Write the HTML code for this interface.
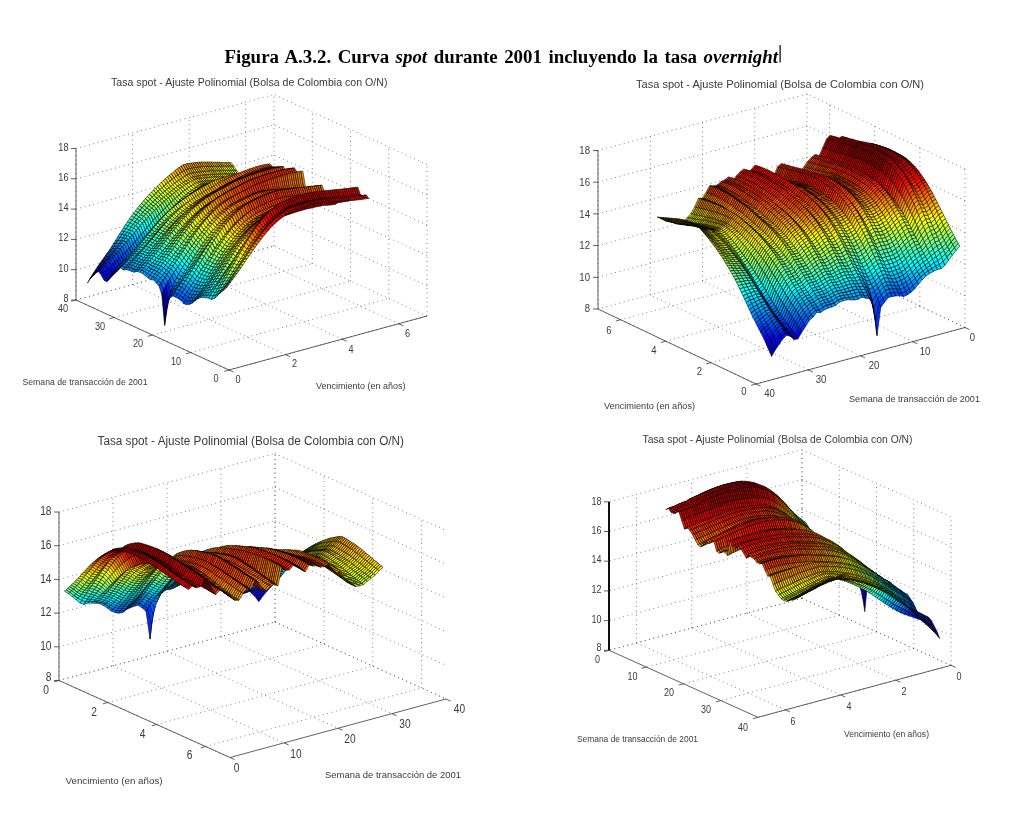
<!DOCTYPE html><html><head><meta charset="utf-8"><title>Figura A.3.2</title><style>html,body{margin:0;padding:0;background:#fff}svg{display:block}</style></head><body><svg width="1015" height="814" viewBox="0 0 1015 814"><style>.g{stroke:#444;stroke-width:.8;stroke-dasharray:.8 3.7;fill:none}.a{stroke:#3a3a3a;stroke-width:.8;fill:none}.a2{stroke:#111;stroke-width:2;fill:none}text{font-family:"Liberation Sans",sans-serif;fill:#3a3a3a}</style><defs><filter id="b" x="0" y="0" width="1015" height="814" filterUnits="userSpaceOnUse"><feGaussianBlur stdDeviation="0.4"/></filter></defs><rect width="1015" height="814" fill="#fff"/><g filter="url(#b)"><g><path class="g" d="M76.0 300.0L274.0 246.0"/><path class="g" d="M76.0 269.7L274.0 215.7"/><path class="g" d="M76.0 239.4L274.0 185.4"/><path class="g" d="M76.0 209.1L274.0 155.1"/><path class="g" d="M76.0 178.8L274.0 124.8"/><path class="g" d="M76.0 148.5L274.0 94.5"/><path class="g" d="M76.0 300.0L76.0 148.5"/><path class="g" d="M132.6 284.6L132.6 133.1"/><path class="g" d="M189.2 269.2L189.2 117.7"/><path class="g" d="M245.7 253.7L245.7 102.2"/><path class="g" d="M427.0 316.0L274.0 246.0"/><path class="g" d="M427.0 285.7L274.0 215.7"/><path class="g" d="M427.0 255.4L274.0 185.4"/><path class="g" d="M427.0 225.1L274.0 155.1"/><path class="g" d="M427.0 194.8L274.0 124.8"/><path class="g" d="M427.0 164.5L274.0 94.5"/><path class="g" d="M427.0 316.0L427.0 164.5"/><path class="g" d="M388.8 298.5L388.8 147.0"/><path class="g" d="M350.5 281.0L350.5 129.5"/><path class="g" d="M312.3 263.5L312.3 112.0"/><path class="g" d="M274.0 246.0L274.0 94.5"/><path class="g" d="M229.0 370.0L427.0 316.0"/><path class="g" d="M190.8 352.5L388.8 298.5"/><path class="g" d="M152.5 335.0L350.5 281.0"/><path class="g" d="M114.2 317.5L312.3 263.5"/><path class="g" d="M76.0 300.0L274.0 246.0"/><path class="g" d="M229.0 370.0L76.0 300.0"/><path class="g" d="M285.6 354.6L132.6 284.6"/><path class="g" d="M342.2 339.2L189.2 269.2"/><path class="g" d="M398.7 323.7L245.7 253.7"/><g transform="scale(0.2)" stroke="#000" stroke-width="2.75" stroke-linejoin="round"><path fill="#ffea00" d="M1160 831l-14-18 10 0 14 18zm-10 0l-14-18 10 0 14 18zm-10 0l-14-19 10 1 14 18zm-10 0l-14-19 10 0 14 19z"/><path fill="#ffd500" d="M1120 831l-14-19 10 0 14 19zm-10 0l-14-20 10 1 14 19zm-10 0l-14-20 10 0 14 20zm-10 0l-14-20 10 0 14 20zm-10 1l-14-21 10 0 14 20z"/><path fill="#ffbf00" d="M1070 832l-14-22 10 1 14 21zm-10 0l-14-22 10 0 14 22zm-10 0l-14-22 10 0 14 22zm-10 0l-14-22 10 0 14 22zm-10 0l-14-22 10 0 14 22z"/><path fill="#fa0" d="M1020 833l-14-23 10 0 14 22zm-10 1l-14-23 10-1 14 23zm-10 1l-14-23 10-1 14 23zm-10 2l-14-24 10-1 14 23zm-10 1l-14-24 10-1 14 24zm-10 1l-14-24 10-1 14 24zm-10 2l-14-24 10-2 14 24zm-10 2l-14-25 10-1 14 24zm-10 2l-14-24 10-3 14 25zm-10 4l-14-25 10-3 14 24zm-10 5l-14-24 10-6 14 25zm-10 6l-14-23 10-7 14 24zm-10 7l-14-23 10-7 14 23z"/><path fill="#ffbf00" d="M890 875l-14-23 10-8 14 23zm-10 7l-13-22 9-8 14 23z"/><path fill="#ffd500" d="M870 889l-13-21 10-8 13 22zm-10 8l-13-21 10-8 13 21zm-10 8l-13-21 10-8 13 21z"/><path fill="#ffea00" d="M840 913l-13-20 10-9 13 21zm-10 8l-13-19 10-9 13 20z"/><path fill="#ff0" d="M820 930l-13-19 10-9 13 19zm-10 9l-13-18 10-10 13 19z"/><path fill="#eaff15" d="M800 948l-13-17 10-10 13 18zm-10 9l-13-17 10-9 13 17z"/><path fill="#d5ff2a" d="M780 966l-13-16 10-10 13 17zm-9 10l-14-15 10-11 13 16z"/><path fill="#bfff40" d="M761 986l-14-15 10-10 14 15zm-10 10l-14-14 10-11 14 15z"/><path fill="#af5" d="M741 1006l-14-13 10-11 14 14zm-10 11l-14-12 10-12 14 13z"/><path fill="#95ff6a" d="M721 1028l-14-11 10-12 14 12z"/><path fill="#80ff80" d="M711 1039l-14-10 10-12 14 11zm-10 11l-14-9 10-12 14 10z"/><path fill="#6aff95" d="M691 1062l-14-8 10-13 14 9z"/><path fill="#5fa" d="M681 1075l-14-8 10-13 14 8zm-10 13l-14-7 10-14 14 8z"/><path fill="#40ffbf" d="M661 1101l-14-6 10-14 14 7z"/><path fill="#2bffd4" d="M651 1115l-14-5 10-15 14 6z"/><path fill="#15ffea" d="M641 1129l-14-4 10-15 14 5z"/><path fill="#0ff" d="M631 1143l-14-2 10-16 14 4z"/><path fill="#00eaff" d="M621 1157l-14-1 10-15 14 2z"/><path fill="#00d4ff" d="M611 1172l-14-1 10-15 14 1z"/><path fill="#00bfff" d="M601 1187l-14 0 10-16 14 1z"/><path fill="#0af" d="M591 1202l-14 1 10-16 14 0z"/><path fill="#0095ff" d="M581 1216l-14 3 10-16 14-1zm-10 15l-14 4 10-16 14-3z"/><path fill="#0080ff" d="M561 1245l-14 5 10-15 14-4z"/><path fill="#006aff" d="M551 1258l-14 6 10-14 14-5z"/><path fill="#05f" d="M541 1271l-14 7 10-14 14-6z"/><path fill="#0040ff" d="M531 1284l-14 8 10-14 14-7z"/><path fill="#002aff" d="M521 1297l-14 9 10-14 14-8zm-10 14l-14 9 10-14 14-9z"/><path fill="#0015ff" d="M501 1324l-14 11 10-15 14-9z"/><path fill="#00f" d="M491 1338l-14 12 10-15 14-11z"/><path fill="#0000ea" d="M481 1352l-14 14 10-16 14-12z"/><path fill="#0000d4" d="M471 1366l-14 16 10-16 14-14z"/><path fill="#0000bf" d="M461 1380l-14 18 10-16 14-16z"/><path fill="#00a" d="M451 1394l-14 22 10-18 14-18z"/><path fill="#ff0" d="M1174 852l-14-21 10 0 13 21zm-10 0l-14-21 10 0 14 21zm-10 1l-14-22 10 0 14 21zm-10 0l-14-22 10 0 14 22zm-10 0l-14-22 10 0 14 22z"/><path fill="#ffea00" d="M1124 853l-14-22 10 0 14 22zm-10 0l-14-22 10 0 14 22zm-10 1l-14-23 10 0 14 22zm-10 0l-14-22 10-1 14 23zm-10 0l-14-22 10 0 14 22z"/><path fill="#ffd500" d="M1074 854l-14-22 10 0 14 22zm-10 0l-14-22 10 0 14 22zm-10 0l-14-22 10 0 14 22zm-10 1l-14-23 10 0 14 22zm-10 1l-14-23 10-1 14 23zm-10 1l-14-23 10-1 14 23z"/><path fill="#ffbf00" d="M1014 858l-14-23 10-1 14 23zm-10 1l-14-22 10-2 14 23zm-10 2l-14-23 10-1 14 22zm-10 1l-14-23 10-1 14 23zm-10 2l-14-23 10-2 14 23zm-10 1l-14-22 10-2 14 23zm-10 2l-14-22 10-2 14 22zm-10 4l-14-22 10-4 14 22zm-10 5l-14-22 10-5 14 22zm-10 6l-14-22 10-6 14 22z"/><path fill="#ffd500" d="M914 888l-14-21 10-7 14 22zm-10 7l-14-20 10-8 14 21zm-10 7l-14-20 10-7 14 20z"/><path fill="#ffea00" d="M884 909l-14-20 10-7 14 20zm-10 7l-14-19 10-8 14 20zm-10 8l-14-19 10-8 14 19z"/><path fill="#ff0" d="M854 932l-14-19 10-8 14 19zm-10 8l-14-19 10-8 14 19z"/><path fill="#eaff15" d="M834 948l-14-18 10-9 14 19zm-10 8l-14-17 10-9 14 18z"/><path fill="#d5ff2a" d="M814 964l-14-16 10-9 14 17zm-10 9l-14-16 10-9 14 16zm-10 9l-14-16 10-9 14 16z"/><path fill="#bfff40" d="M784 991l-13-15 9-10 14 16zm-10 9l-13-14 10-10 13 15z"/><path fill="#af5" d="M764 1010l-13-14 10-10 13 14zm-10 10l-13-14 10-10 13 14z"/><path fill="#95ff6a" d="M744 1030l-13-13 10-11 13 14z"/><path fill="#80ff80" d="M734 1040l-13-12 10-11 13 13zm-10 11l-13-12 10-11 13 12z"/><path fill="#6aff95" d="M714 1062l-13-12 10-11 13 12zm-10 11l-13-11 10-12 13 12z"/><path fill="#5fa" d="M694 1085l-13-10 10-13 13 11z"/><path fill="#40ffbf" d="M684 1097l-13-9 10-13 13 10zm-10 13l-13-9 10-13 13 9z"/><path fill="#2bffd4" d="M665 1123l-14-8 10-14 13 9z"/><path fill="#15ffea" d="M655 1136l-14-7 10-14 14 8z"/><path fill="#0ff" d="M645 1149l-14-6 10-14 14 7z"/><path fill="#00eaff" d="M635 1163l-14-6 10-14 14 6z"/><path fill="#00d4ff" d="M625 1176l-14-4 10-15 14 6zm-10 14l-14-3 10-15 14 4z"/><path fill="#00bfff" d="M605 1204l-14-2 10-15 14 3z"/><path fill="#0af" d="M595 1218l-14-2 10-14 14 2z"/><path fill="#0095ff" d="M585 1232l-14-1 10-15 14 2z"/><path fill="#0080ff" d="M575 1245l-14 0 10-14 14 1z"/><path fill="#006aff" d="M565 1258l-14 0 10-13 14 0zm-10 12l-14 1 10-13 14 0z"/><path fill="#05f" d="M545 1282l-14 2 10-13 14-1z"/><path fill="#0040ff" d="M535 1294l-14 3 10-13 14-2z"/><path fill="#002aff" d="M525 1307l-14 4 10-14 14-3zm-10 12l-14 5 10-13 14-4z"/><path fill="#0015ff" d="M505 1331l-14 7 10-14 14-5z"/><path fill="#00f" d="M495 1344l-14 8 10-14 14-7zm-10 12l-14 10 10-14 14-8z"/><path fill="#0000ea" d="M475 1368l-14 12 10-14 14-10z"/><path fill="#0000d4" d="M465 1379l-14 15 10-14 14-12z"/><path fill="#eaff15" d="M1187 868l-13-16 9 0 14 16zm-10 1l-13-17 10 0 13 16zm-10 0l-13-16 10-1 13 17zm-10 0l-13-16 10 0 13 16zm-10 1l-13-17 10 0 13 16z"/><path fill="#ff0" d="M1137 870l-13-17 10 0 13 17zm-10 0l-13-17 10 0 13 17zm-10 1l-13-17 10-1 13 17zm-10 0l-13-17 10 0 13 17zm-10 0l-13-17 10 0 13 17z"/><path fill="#ffea00" d="M1087 872l-13-18 10 0 13 17zm-10 0l-13-18 10 0 13 18zm-9 0l-14-18 10 0 13 18zm-10 1l-14-18 10-1 14 18zm-10 1l-14-18 10-1 14 18z"/><path fill="#ffd500" d="M1038 875l-14-18 10-1 14 18zm-10 1l-14-18 10-1 14 18zm-10 1l-14-18 10-1 14 18zm-10 1l-14-17 10-2 14 18zm-10 2l-14-18 10-1 14 17zm-10 1l-14-17 10-2 14 18zm-10 2l-14-18 10-1 14 17zm-10 2l-14-18 10-2 14 18zm-10 3l-14-17 10-4 14 18zm-10 5l-14-17 10-5 14 17zm-10 6l-14-17 10-6 14 17z"/><path fill="#ffea00" d="M928 905l-14-17 10-6 14 17zm-10 7l-14-17 10-7 14 17zm-10 6l-14-16 10-7 14 17zm-10 7l-14-16 10-7 14 16z"/><path fill="#ff0" d="M888 931l-14-15 10-7 14 16zm-10 8l-14-15 10-8 14 15z"/><path fill="#eaff15" d="M868 946l-14-14 10-8 14 15zm-10 8l-14-14 10-8 14 14zm-10 8l-14-14 10-8 14 14z"/><path fill="#d5ff2a" d="M838 970l-14-14 10-8 14 14zm-10 8l-14-14 10-8 14 14z"/><path fill="#bfff40" d="M818 986l-14-13 10-9 14 14zm-10 9l-14-13 10-9 14 13zm-10 8l-14-12 10-9 14 13z"/><path fill="#af5" d="M788 1012l-14-12 10-9 14 12zm-10 9l-14-11 10-10 14 12z"/><path fill="#95ff6a" d="M768 1031l-14-11 10-10 14 11zm-10 9l-14-10 10-10 14 11z"/><path fill="#80ff80" d="M748 1050l-14-10 10-10 14 10zm-10 11l-14-10 10-11 14 10z"/><path fill="#6aff95" d="M728 1071l-14-9 10-11 14 10z"/><path fill="#5fa" d="M718 1082l-14-9 10-11 14 9zm-10 11l-14-8 10-12 14 9z"/><path fill="#40ffbf" d="M698 1104l-14-7 10-12 14 8z"/><path fill="#2bffd4" d="M688 1116l-14-6 10-13 14 7zm-10 12l-13-5 9-13 14 6z"/><path fill="#15ffea" d="M668 1141l-13-5 10-13 13 5z"/><path fill="#0ff" d="M658 1153l-13-4 10-13 13 5zm-10 13l-13-3 10-14 13 4z"/><path fill="#00eaff" d="M638 1178l-13-2 10-13 13 3z"/><path fill="#00d4ff" d="M628 1191l-13-1 10-14 13 2z"/><path fill="#00bfff" d="M618 1204l-13 0 10-14 13 1z"/><path fill="#0af" d="M608 1216l-13 2 10-14 13 0zm-10 13l-13 3 10-14 13-2z"/><path fill="#0095ff" d="M588 1241l-13 4 10-13 13-3z"/><path fill="#0080ff" d="M578 1253l-13 5 10-13 13-4zm-9 11l-14 6 10-12 13-5z"/><path fill="#006aff" d="M559 1275l-14 7 10-12 14-6z"/><path fill="#05f" d="M549 1286l-14 8 10-12 14-7zm-10 11l-14 10 10-13 14-8z"/><path fill="#0040ff" d="M529 1309l-14 10 10-12 14-10z"/><path fill="#002aff" d="M519 1320l-14 11 10-12 14-10zm-10 12l-14 12 10-13 14-11z"/><path fill="#0015ff" d="M499 1343l-14 13 10-12 14-12z"/><path fill="#00f" d="M489 1354l-14 14 10-12 14-13zm-10 10l-14 15 10-11 14-14z"/><path fill="#d5ff2a" d="M1181 884l-14-15 10 0 14 14z"/><path fill="#eaff15" d="M1171 884l-14-15 10 0 14 15zm-10 0l-14-14 10-1 14 15zm-10 1l-14-15 10 0 14 14zm-10 0l-14-15 10 0 14 15zm-10 0l-14-14 10-1 14 15z"/><path fill="#ff0" d="M1121 885l-14-14 10 0 14 14zm-10 0l-14-14 10 0 14 14zm-10 0l-14-13 10-1 14 14zm-10 0l-14-13 10 0 14 13z"/><path fill="#ffea00" d="M1081 885l-13-13 9 0 14 13zm-10 0l-13-12 10-1 13 13zm-10 1l-13-12 10-1 13 12zm-10 1l-13-12 10-1 13 12zm-10 1l-13-12 10-1 13 12zm-10 1l-13-12 10-1 13 12zm-10 1l-13-12 10-1 13 12z"/><path fill="#ffd500" d="M1011 891l-13-11 10-2 13 12zm-10 1l-13-11 10-1 13 11zm-10 1l-13-10 10-2 13 11zm-10 2l-13-10 10-2 13 10zm-10 3l-13-10 10-3 13 10zm-9 5l-14-10 10-5 13 10z"/><path fill="#ffea00" d="M952 908l-14-9 10-6 14 10zm-10 6l-14-9 10-6 14 9zm-10 7l-14-9 10-7 14 9zm-10 6l-14-9 10-6 14 9z"/><path fill="#ff0" d="M912 934l-14-9 10-7 14 9zm-10 7l-14-10 10-6 14 9zm-10 7l-14-9 10-8 14 10z"/><path fill="#eaff15" d="M882 956l-14-10 10-7 14 9zm-10 8l-14-10 10-8 14 10z"/><path fill="#d5ff2a" d="M862 972l-14-10 10-8 14 10zm-10 8l-14-10 10-8 14 10zm-10 8l-14-10 10-8 14 10z"/><path fill="#bfff40" d="M832 997l-14-11 10-8 14 10zm-10 9l-14-11 10-9 14 11z"/><path fill="#af5" d="M812 1015l-14-12 10-8 14 11zm-10 9l-14-12 10-9 14 12z"/><path fill="#95ff6a" d="M792 1033l-14-12 10-9 14 12zm-10 10l-14-12 10-10 14 12z"/><path fill="#80ff80" d="M772 1052l-14-12 10-9 14 12zm-10 10l-14-12 10-10 14 12z"/><path fill="#6aff95" d="M752 1073l-14-12 10-11 14 12zm-10 10l-14-12 10-10 14 12z"/><path fill="#5fa" d="M732 1094l-14-12 10-11 14 12z"/><path fill="#40ffbf" d="M722 1105l-14-12 10-11 14 12zm-10 11l-14-12 10-11 14 12z"/><path fill="#2bffd4" d="M702 1128l-14-12 10-12 14 12z"/><path fill="#15ffea" d="M692 1139l-14-11 10-12 14 12zm-10 12l-14-10 10-13 14 11z"/><path fill="#0ff" d="M672 1163l-14-10 10-12 14 10z"/><path fill="#00eaff" d="M662 1175l-14-9 10-13 14 10zm-10 11l-14-8 10-12 14 9z"/><path fill="#00d4ff" d="M642 1198l-14-7 10-13 14 8z"/><path fill="#00bfff" d="M632 1210l-14-6 10-13 14 7zm-10 12l-14-6 10-12 14 6z"/><path fill="#0af" d="M612 1233l-14-4 10-13 14 6z"/><path fill="#0095ff" d="M602 1244l-14-3 10-12 14 4zm-10 11l-14-2 10-12 14 3z"/><path fill="#0080ff" d="M582 1265l-13-1 9-11 14 2z"/><path fill="#006aff" d="M572 1275l-13 0 10-11 13 1zm-10 10l-13 1 10-11 13 0z"/><path fill="#05f" d="M552 1295l-13 2 10-11 13-1zm-10 11l-13 3 10-12 13-2z"/><path fill="#0040ff" d="M532 1316l-13 4 10-11 13-3zm-10 10l-13 6 10-12 13-4z"/><path fill="#002aff" d="M512 1337l-13 6 10-11 13-6z"/><path fill="#0015ff" d="M502 1347l-13 7 10-11 13-6zm-10 11l-13 6 10-10 13-7z"/><path fill="#eaff15" d="M1125 901l-14-16 10 0 14 17zm-10 0l-14-16 10 0 14 16z"/><path fill="#ff0" d="M1105 901l-14-16 10 0 14 16zm-10 0l-14-16 10 0 14 16zm-10 0l-14-16 10 0 14 16zm-10 0l-14-15 10-1 14 16zm-10 1l-14-15 10-1 14 15zm-10 1l-14-15 10-1 14 15z"/><path fill="#ffea00" d="M1045 904l-14-15 10-1 14 15zm-10 1l-14-15 10-1 14 15zm-10 0l-14-14 10-1 14 15zm-10 2l-14-15 10-1 14 14zm-10 1l-14-15 10-1 14 15zm-10 2l-14-15 10-2 14 15zm-10 3l-14-15 10-3 14 15zm-10 5l-13-15 9-5 14 15zm-10 5l-13-15 10-5 13 15z"/><path fill="#ff0" d="M955 930l-13-16 10-6 13 15zm-10 7l-13-16 10-7 13 16zm-10 7l-13-17 10-6 13 16z"/><path fill="#eaff15" d="M925 951l-13-17 10-7 13 17zm-10 7l-13-17 10-7 13 17zm-10 8l-13-18 10-7 13 17z"/><path fill="#d5ff2a" d="M895 975l-13-19 10-8 13 18zm-10 9l-13-20 10-8 13 19z"/><path fill="#bfff40" d="M875 993l-13-21 10-8 13 20zm-9 9l-14-22 10-8 13 21z"/><path fill="#af5" d="M856 1011l-14-23 10-8 14 22zm-10 9l-14-23 10-9 14 23z"/><path fill="#95ff6a" d="M836 1030l-14-24 10-9 14 23zm-10 10l-14-25 10-9 14 24z"/><path fill="#80ff80" d="M816 1050l-14-26 10-9 14 25zm-10 10l-14-27 10-9 14 26z"/><path fill="#6aff95" d="M796 1070l-14-27 10-10 14 27zm-10 11l-14-29 10-9 14 27z"/><path fill="#5fa" d="M776 1091l-14-29 10-10 14 29z"/><path fill="#40ffbf" d="M766 1103l-14-30 10-11 14 29zm-10 11l-14-31 10-10 14 30z"/><path fill="#2bffd4" d="M746 1126l-14-32 10-11 14 31z"/><path fill="#15ffea" d="M736 1137l-14-32 10-11 14 32zm-10 12l-14-33 10-11 14 32z"/><path fill="#0ff" d="M716 1160l-14-32 10-12 14 33z"/><path fill="#00eaff" d="M706 1172l-14-33 10-11 14 32zm-10 12l-14-33 10-12 14 33z"/><path fill="#00d4ff" d="M686 1196l-14-33 10-12 14 33z"/><path fill="#00bfff" d="M676 1207l-14-32 10-12 14 33zm-10 12l-14-33 10-11 14 32z"/><path fill="#0af" d="M656 1230l-14-32 10-12 14 33z"/><path fill="#0095ff" d="M646 1241l-14-31 10-12 14 32zm-10 11l-14-30 10-12 14 31z"/><path fill="#0080ff" d="M626 1262l-14-29 10-11 14 30z"/><path fill="#006aff" d="M616 1273l-14-29 10-11 14 29zm-10 9l-14-27 10-11 14 29z"/><path fill="#05f" d="M596 1292l-14-27 10-10 14 27zm-10 9l-14-26 10-10 14 27z"/><path fill="#0040ff" d="M576 1310l-14-25 10-10 14 26zm-10 9l-14-24 10-10 14 25z"/><path fill="#002aff" d="M556 1328l-14-22 10-11 14 24zm-10 10l-14-22 10-10 14 22z"/><path fill="#0015ff" d="M536 1347l-14-21 10-10 14 22zm-10 9l-14-19 10-11 14 21z"/><path fill="#00f" d="M516 1366l-14-19 10-10 14 19zm-10 9l-14-17 10-11 14 19z"/><path fill="#ff0" d="M1079 911l-14-9 10-1 14 9zm-10 1l-14-9 10-1 14 9zm-10 1l-14-9 10-1 14 9zm-10 1l-14-9 10-1 14 9z"/><path fill="#ffea00" d="M1039 916l-14-11 10 0 14 9zm-10 1l-14-10 10-2 14 11zm-10 2l-14-11 10-1 14 10zm-10 2l-14-11 10-2 14 11zm-10 3l-14-11 10-3 14 11zm-10 6l-14-12 10-5 14 11z"/><path fill="#ff0" d="M979 936l-14-13 10-5 14 12zm-10 7l-14-13 10-7 14 13zm-10 8l-14-14 10-7 14 13z"/><path fill="#eaff15" d="M949 958l-14-14 10-7 14 14zm-10 8l-14-15 10-7 14 14z"/><path fill="#d5ff2a" d="M929 974l-14-16 10-7 14 15zm-10 9l-14-17 10-8 14 16z"/><path fill="#bfff40" d="M909 992l-14-17 10-9 14 17zm-10 9l-14-17 10-9 14 17z"/><path fill="#af5" d="M889 1011l-14-18 10-9 14 17zm-10 10l-13-19 9-9 14 18z"/><path fill="#95ff6a" d="M869 1031l-13-20 10-9 13 19zm-10 10l-13-21 10-9 13 20z"/><path fill="#80ff80" d="M849 1051l-13-21 10-10 13 21zm-10 11l-13-22 10-10 13 21z"/><path fill="#6aff95" d="M829 1073l-13-23 10-10 13 22zm-10 11l-13-24 10-10 13 23z"/><path fill="#5fa" d="M809 1095l-13-25 10-10 13 24z"/><path fill="#40ffbf" d="M799 1106l-13-25 10-11 13 25zm-10 12l-13-27 10-10 13 25z"/><path fill="#2bffd4" d="M779 1130l-13-27 10-12 13 27z"/><path fill="#15ffea" d="M769 1142l-13-28 10-11 13 27z"/><path fill="#0ff" d="M760 1154l-14-28 10-12 13 28zm-10 12l-14-29 10-11 14 28z"/><path fill="#00eaff" d="M740 1178l-14-29 10-12 14 29z"/><path fill="#00d4ff" d="M730 1191l-14-31 10-11 14 29z"/><path fill="#00bfff" d="M720 1203l-14-31 10-12 14 31zm-10 12l-14-31 10-12 14 31z"/><path fill="#0af" d="M700 1227l-14-31 10-12 14 31z"/><path fill="#0095ff" d="M690 1238l-14-31 10-11 14 31zm-10 12l-14-31 10-12 14 31z"/><path fill="#0080ff" d="M670 1261l-14-31 10-11 14 31z"/><path fill="#006aff" d="M660 1272l-14-31 10-11 14 31zm-10 11l-14-31 10-11 14 31z"/><path fill="#05f" d="M640 1293l-14-31 10-10 14 31zm-10 10l-14-30 10-11 14 31z"/><path fill="#0040ff" d="M620 1312l-14-30 10-9 14 30zm-10 9l-14-29 10-10 14 30z"/><path fill="#002aff" d="M600 1330l-14-29 10-9 14 29zm-10 8l-14-28 10-9 14 29z"/><path fill="#0015ff" d="M580 1347l-14-28 10-9 14 28zm-10 9l-14-28 10-9 14 28z"/><path fill="#00f" d="M560 1365l-14-27 10-10 14 28zm-10 9l-14-27 10-9 14 27z"/><path fill="#0000ea" d="M540 1383l-14-27 10-9 14 27zm-10 9l-14-26 10-10 14 27z"/><path fill="#0000d4" d="M520 1401l-14-26 10-9 14 26z"/><path fill="#ffea00" d="M1053 921l-14-5 10-2 14 5zm-10 1l-14-5 10-1 14 5zm-10 1l-14-4 10-2 14 5zm-10 2l-14-4 10-2 14 4zm-10 4l-14-5 10-3 14 4zm-10 5l-14-4 10-6 14 5z"/><path fill="#ff0" d="M993 940l-14-4 10-6 14 4zm-10 7l-14-4 10-7 14 4zm-10 7l-14-3 10-8 14 4z"/><path fill="#eaff15" d="M963 962l-14-4 10-7 14 3zm-10 7l-14-3 10-8 14 4zm-10 8l-14-3 10-8 14 3z"/><path fill="#d5ff2a" d="M933 985l-14-2 10-9 14 3zm-10 9l-14-2 10-9 14 2z"/><path fill="#bfff40" d="M913 1003l-14-2 10-9 14 2zm-10 9l-14-1 10-10 14 2z"/><path fill="#af5" d="M893 1022l-14-1 10-10 14 1zm-10 9l-14 0 10-10 14 1z"/><path fill="#0015ff" d="M584 1357l-14-1 10-9 14 1zm-10 10l-14-2 10-9 14 1z"/><path fill="#00f" d="M564 1377l-14-3 10-9 14 2zm-10 10l-14-4 10-9 14 3z"/><path fill="#0000ea" d="M544 1398l-14-6 10-9 14 4z"/><path fill="#0000d4" d="M534 1409l-14-8 10-9 14 6z"/><path fill="#ffd500" d="M1027 926l-14 3 10-4 14-2z"/><path fill="#ffea00" d="M1017 931l-14 3 10-5 14-3zm-10 5l-14 4 10-6 14-3zm-10 6l-14 5 10-7 14-4zm-10 7l-14 5 10-7 14-5z"/><path fill="#ff0" d="M977 955l-14 7 10-8 14-5zm-10 7l-14 7 10-7 14-7zm-10 6l-14 9 10-8 14-7z"/><path fill="#eaff15" d="M947 976l-14 9 10-8 14-9z"/><path fill="#05f" d="M607 1320l-13 28 10-10 13-28zm-10 10l-13 27 10-9 13-28z"/><path fill="#0040ff" d="M587 1341l-13 26 10-10 13-27zm-10 11l-13 25 10-10 13-26z"/><path fill="#002aff" d="M567 1363l-13 24 10-10 13-25z"/><path fill="#0015ff" d="M558 1375l-14 23 10-11 13-24z"/><path fill="#00f" d="M548 1388l-14 21 10-11 14-23z"/><path fill="#ffd500" d="M1030 932l-13-1 10-5 13 2zm-10 5l-13-1 10-5 13 1z"/><path fill="#ffea00" d="M1010 943l-13-1 10-6 13 1zm-10 6l-13 0 10-7 13 1z"/><path fill="#ff0" d="M970 966l-13 2 10-6 13-2z"/><path fill="#002aff" d="M561 1372l-13 16 10-13 13-17z"/><path fill="#0095ff" d="M625 1296l-14 15 10-11 14-16zm-10 11l-14 15 10-11 14-15z"/><path fill="#0080ff" d="M605 1319l-14 15 10-12 14-15z"/><path fill="#006aff" d="M595 1331l-14 15 10-12 14-15zm-10 12l-14 15 10-12 14-15z"/><path fill="#05f" d="M575 1355l-14 17 10-14 14-15z"/><path fill="#fa0" d="M1018 933l-14 8 10-6 14-8z"/><path fill="#ffbf00" d="M998 944l-14 8 10-6 14-8zm-20 12l-14 8 10-6 14-8z"/><path fill="#ffd500" d="M968 962l-14 8 10-6 14-8zm-10 7l-14 8 10-7 14-8zm-10 6l-14 9 10-7 14-8zm-10 7l-14 8 10-6 14-9z"/><path fill="#ffea00" d="M928 989l-14 8 10-7 14-8zm-10 7l-14 9 10-8 14-8z"/><path fill="#ff0" d="M908 1003l-14 9 10-7 14-9zm-10 8l-14 9 10-8 14-9zm-10 8l-14 9 10-8 14-9z"/><path fill="#eaff15" d="M878 1027l-14 9 10-8 14-9zm-10 8l-13 9 9-8 14-9z"/><path fill="#d5ff2a" d="M858 1044l-13 9 10-9 13-9zm-10 9l-13 9 10-9 13-9z"/><path fill="#bfff40" d="M838 1063l-13 8 10-9 13-9zm-10 9l-13 9 10-10 13-8z"/><path fill="#af5" d="M818 1082l-13 9 10-10 13-9zm-10 11l-13 8 10-10 13-9z"/><path fill="#95ff6a" d="M798 1104l-13 8 10-11 13-8zm-10 11l-13 8 10-11 13-8z"/><path fill="#80ff80" d="M778 1126l-13 9 10-12 13-8z"/><path fill="#6aff95" d="M768 1138l-13 8 10-11 13-9zm-9 12l-14 8 10-12 13-8z"/><path fill="#5fa" d="M749 1162l-14 7 10-11 14-8z"/><path fill="#40ffbf" d="M739 1174l-14 7 10-12 14-7z"/><path fill="#2bffd4" d="M729 1186l-14 7 10-12 14-7zm-10 13l-14 6 10-12 14-7z"/><path fill="#15ffea" d="M709 1211l-14 6 10-12 14-6z"/><path fill="#0ff" d="M699 1223l-14 6 10-12 14-6zm-10 12l-14 5 10-11 14-6z"/><path fill="#00eaff" d="M679 1246l-14 5 10-11 14-5z"/><path fill="#00d4ff" d="M669 1257l-14 5 10-11 14-5zm-10 12l-14 4 10-11 14-5z"/><path fill="#00bfff" d="M649 1280l-14 4 10-11 14-4z"/><path fill="#0af" d="M639 1292l-14 4 10-12 14-4zm-10 11l-14 4 10-11 14-4z"/><path fill="#0095ff" d="M619 1315l-14 4 10-12 14-4z"/><path fill="#0080ff" d="M609 1326l-14 5 10-12 14-4z"/><path fill="#006aff" d="M599 1338l-14 5 10-12 14-5zm-10 12l-14 5 10-12 14-5z"/><path fill="#fa0" d="M1191 887l-13-17 10-3 13 17zm-10 4l-13-19 10-2 13 17zm-10 3l-13-19 10-3 13 19zm-10 4l-13-20 10-3 13 19zm-9 4l-14-21 10-3 13 20zm-10 3l-14-21 10-3 14 21zm-10 4l-14-22 10-3 14 21zm-10 4l-14-23 10-3 14 22zm-10 4l-14-24 10-3 14 23zm-10 3l-14-24 10-3 14 24zm-10 4l-14-24 10-4 14 24z"/><path fill="#ffbf00" d="M1082 929l-14-25 10-4 14 24zm-10 5l-14-25 10-5 14 25zm-10 6l-14-25 10-6 14 25zm-10 6l-14-25 10-6 14 25zm-10 6l-14-25 10-6 14 25z"/><path fill="#ffd500" d="M1032 957l-14-24 10-6 14 25zm-10 6l-14-25 10-5 14 24zm-10 5l-14-24 10-6 14 25zm-10 5l-14-23 10-6 14 24z"/><path fill="#ffea00" d="M992 979l-14-23 10-6 14 23zm-10 6l-14-23 10-6 14 23zm-10 6l-14-22 10-7 14 23zm-10 6l-14-22 10-6 14 22z"/><path fill="#ff0" d="M952 1003l-14-21 10-7 14 22zm-10 6l-14-20 10-7 14 21zm-10 7l-14-20 10-7 14 20z"/><path fill="#eaff15" d="M922 1023l-14-20 10-7 14 20zm-10 7l-14-19 10-8 14 20zm-10 7l-14-18 10-8 14 19z"/><path fill="#d5ff2a" d="M892 1045l-14-18 10-8 14 18zm-10 7l-14-17 10-8 14 18zm-10 8l-14-16 10-9 14 17z"/><path fill="#bfff40" d="M862 1069l-14-16 10-9 14 16zm-10 8l-14-14 10-10 14 16z"/><path fill="#af5" d="M842 1086l-14-14 10-9 14 14zm-10 10l-14-14 10-10 14 14z"/><path fill="#95ff6a" d="M822 1105l-14-12 10-11 14 14zm-10 10l-14-11 10-11 14 12z"/><path fill="#80ff80" d="M802 1125l-14-10 10-11 14 11zm-10 11l-14-10 10-11 14 10z"/><path fill="#6aff95" d="M782 1147l-14-9 10-12 14 10z"/><path fill="#5fa" d="M772 1158l-13-8 9-12 14 9zm-10 11l-13-7 10-12 13 8z"/><path fill="#40ffbf" d="M752 1180l-13-6 10-12 13 7zm-10 11l-13-5 10-12 13 6z"/><path fill="#2bffd4" d="M732 1203l-13-4 10-13 13 5z"/><path fill="#15ffea" d="M722 1214l-13-3 10-12 13 4zm-10 11l-13-2 10-12 13 3z"/><path fill="#0ff" d="M702 1235l-13 0 10-12 13 2z"/><path fill="#00eaff" d="M692 1246l-13 0 10-11 13 0zm-10 10l-13 1 10-11 13 0z"/><path fill="#00d4ff" d="M672 1267l-13 2 10-12 13-1zm-10 10l-13 3 10-11 13-2z"/><path fill="#00bfff" d="M653 1288l-14 4 10-12 13-3z"/><path fill="#0af" d="M643 1298l-14 5 10-11 14-4zm-10 11l-14 6 10-12 14-5z"/><path fill="#0095ff" d="M623 1319l-14 7 10-11 14-6zm-10 10l-14 9 10-12 14-7z"/><path fill="#0080ff" d="M603 1339l-14 11 10-12 14-9z"/><path fill="#ff0" d="M936 1021l-14 2 10-7 14-2zm-10 7l-14 2 10-7 14-2z"/><path fill="#eaff15" d="M916 1035l-14 2 10-7 14-2zm-10 8l-14 2 10-8 14-2zm-10 8l-14 1 10-7 14-2z"/><path fill="#d5ff2a" d="M886 1059l-14 1 10-8 14-1zm-10 9l-14 1 10-9 14-1z"/><path fill="#bfff40" d="M866 1076l-14 1 10-8 14-1zm-10 10l-14 0 10-9 14-1z"/><path fill="#af5" d="M846 1095l-14 1 10-10 14 0zm-10 10l-14 0 10-9 14-1z"/><path fill="#95ff6a" d="M826 1115l-14 0 10-10 14 0zm-10 11l-14-1 10-10 14 0z"/><path fill="#80ff80" d="M806 1136l-14 0 10-11 14 1z"/><path fill="#6aff95" d="M796 1147l-14 0 10-11 14 0zm-10 11l-14 0 10-11 14 0z"/><path fill="#5fa" d="M776 1170l-14-1 10-11 14 0zm-10 11l-14-1 10-11 14 1z"/><path fill="#40ffbf" d="M756 1193l-14-2 10-11 14 1z"/><path fill="#2bffd4" d="M746 1205l-14-2 10-12 14 2zm-10 11l-14-2 10-11 14 2z"/><path fill="#15ffea" d="M726 1228l-14-3 10-11 14 2z"/><path fill="#0ff" d="M716 1239l-14-4 10-10 14 3zm-10 10l-14-3 10-11 14 4z"/><path fill="#00eaff" d="M696 1260l-14-4 10-10 14 3z"/><path fill="#00d4ff" d="M686 1271l-14-4 10-11 14 4zm-10 11l-14-5 10-10 14 4z"/><path fill="#00bfff" d="M666 1293l-13-5 9-11 14 5z"/><path fill="#0af" d="M656 1304l-13-6 10-10 13 5zm-10 11l-13-6 10-11 13 6z"/><path fill="#0095ff" d="M636 1327l-13-8 10-10 13 6z"/><path fill="#0080ff" d="M626 1338l-13-9 10-10 13 8zm-10 12l-13-11 10-10 13 9z"/><path fill="#af5" d="M830 1112l-14 14 10-11 14-14z"/><path fill="#95ff6a" d="M820 1124l-14 12 10-10 14-14zm-10 11l-14 12 10-11 14-12z"/><path fill="#80ff80" d="M800 1147l-14 11 10-11 14-12z"/><path fill="#6aff95" d="M790 1159l-14 11 10-12 14-11zm-10 12l-14 10 10-11 14-11z"/><path fill="#5fa" d="M770 1183l-14 10 10-12 14-10z"/><path fill="#40ffbf" d="M760 1195l-14 10 10-12 14-10zm-10 13l-14 8 10-11 14-10z"/><path fill="#2bffd4" d="M740 1219l-14 9 10-12 14-8z"/><path fill="#15ffea" d="M730 1231l-14 8 10-11 14-9zm-10 12l-14 6 10-10 14-8z"/><path fill="#0ff" d="M710 1254l-14 6 10-11 14-6z"/><path fill="#00eaff" d="M700 1265l-14 6 10-11 14-6zm-10 12l-14 5 10-11 14-6z"/><path fill="#00d4ff" d="M680 1289l-14 4 10-11 14-5z"/><path fill="#00bfff" d="M670 1300l-14 4 10-11 14-4zm-10 12l-14 3 10-11 14-4z"/><path fill="#0af" d="M650 1324l-14 3 10-12 14-3z"/><path fill="#0095ff" d="M640 1336l-14 2 10-11 14-3z"/><path fill="#0080ff" d="M630 1348l-14 2 10-12 14-2z"/><path fill="#f50" d="M1353 833l-14-12 10-2 13 13zm-10 2l-14-13 10-1 14 12zm-10 2l-14-13 10-2 14 13zm-10 3l-14-14 10-2 14 13zm-10 2l-14-13 10-3 14 14zm-10 3l-14-14 10-2 14 13zm-10 3l-14-14 10-3 14 14zm-10 4l-14-14 10-4 14 14zm-10 4l-14-15 10-3 14 14zm-10 3l-14-15 10-3 14 15zm-10 4l-14-15 10-4 14 15zm-10 4l-14-15 10-4 14 15zm-10 4l-14-16 10-3 14 15zm-10 4l-14-16 10-4 14 16z"/><path fill="#ff6a00" d="M1213 880l-14-16 10-5 14 16zm-10 5l-14-17 10-4 14 16zm-10 5l-14-17 10-5 14 17zm-10 4l-14-17 10-4 14 17zm-10 5l-14-17 10-5 14 17z"/><path fill="#ff8000" d="M1163 904l-14-18 10-4 14 17zm-10 5l-14-18 10-5 14 18zm-10 4l-14-18 10-4 14 18zm-10 5l-14-18 10-5 14 18zm-10 5l-14-18 10-5 14 18z"/><path fill="#ff9500" d="M1113 929l-14-18 10-6 14 18zm-10 6l-14-18 10-6 14 18zm-10 7l-14-19 10-6 14 18z"/><path fill="#fa0" d="M1083 948l-14-18 10-7 14 19zm-10 6l-14-18 10-6 14 18zm-10 5l-14-18 10-5 14 18zm-10 5l-14-17 10-6 14 18z"/><path fill="#ffbf00" d="M1043 970l-14-18 10-5 14 17zm-10 5l-14-17 10-6 14 18zm-10 6l-14-17 10-6 14 17zm-10 6l-14-17 10-6 14 17z"/><path fill="#ffd500" d="M1003 993l-14-17 10-6 14 17zm-10 6l-14-16 10-7 14 17zm-10 6l-14-16 10-6 14 16zm-10 7l-14-16 10-7 14 16z"/><path fill="#ffea00" d="M963 1018l-13-15 9-7 14 16zm-10 8l-13-15 10-8 13 15zm-10 7l-13-15 10-7 13 15z"/><path fill="#ff0" d="M933 1041l-13-15 10-8 13 15zm-10 7l-13-14 10-8 13 15z"/><path fill="#eaff15" d="M913 1056l-13-13 10-9 13 14zm-10 9l-13-13 10-9 13 13z"/><path fill="#d5ff2a" d="M893 1074l-13-13 10-9 13 13zm-10 9l-13-12 10-10 13 13z"/><path fill="#bfff40" d="M873 1093l-13-13 10-9 13 12zm-10 9l-13-11 10-11 13 13z"/><path fill="#af5" d="M854 1112l-14-11 10-10 13 11zm-10 11l-14-11 10-11 14 11z"/><path fill="#95ff6a" d="M834 1134l-14-10 10-12 14 11zm-10 11l-14-10 10-11 14 10z"/><path fill="#80ff80" d="M814 1156l-14-9 10-12 14 10z"/><path fill="#6aff95" d="M804 1167l-14-8 10-12 14 9zm-10 12l-14-8 10-12 14 8z"/><path fill="#5fa" d="M784 1191l-14-8 10-12 14 8z"/><path fill="#40ffbf" d="M774 1203l-14-8 10-12 14 8zm-10 11l-14-6 10-13 14 8z"/><path fill="#2bffd4" d="M754 1226l-14-7 10-11 14 6z"/><path fill="#15ffea" d="M744 1237l-14-6 10-12 14 7zm-10 11l-14-5 10-12 14 6z"/><path fill="#0ff" d="M724 1259l-14-5 10-11 14 5z"/><path fill="#00eaff" d="M714 1270l-14-5 10-11 14 5zm-10 11l-14-4 10-12 14 5z"/><path fill="#00d4ff" d="M694 1292l-14-3 10-12 14 4z"/><path fill="#00bfff" d="M684 1304l-14-4 10-11 14 3zm-10 11l-14-3 10-12 14 4z"/><path fill="#0af" d="M664 1327l-14-3 10-12 14 3z"/><path fill="#0095ff" d="M654 1339l-14-3 10-12 14 3zm-10 12l-14-3 10-12 14 3z"/><path fill="#f50" d="M1366 840l-13-7 9-1 14 6zm-10 1l-13-6 10-2 13 7zm-10 2l-13-6 10-2 13 6zm-10 3l-13-6 10-3 13 6zm-10 2l-13-6 10-2 13 6zm-10 3l-13-6 10-3 13 6zm-10 3l-13-6 10-3 13 6zm-10 4l-13-6 10-4 13 6zm-10 3l-13-5 10-4 13 6zm-10 4l-13-6 10-3 13 5zm-10 3l-13-5 10-4 13 6zm-10 4l-13-5 10-4 13 5zm-9 4l-14-5 10-4 13 5zm-10 5l-14-6 10-4 14 5zm-10 4l-14-5 10-5 14 6z"/><path fill="#ff6a00" d="M1217 890l-14-5 10-5 14 5zm-10 4l-14-4 10-5 14 5zm-10 5l-14-5 10-4 14 4zm-10 4l-14-4 10-5 14 5zm-10 5l-14-4 10-5 14 4z"/><path fill="#ff8000" d="M1167 913l-14-4 10-5 14 4zm-10 4l-14-4 10-4 14 4zm-10 5l-14-4 10-5 14 4zm-10 5l-14-4 10-5 14 4zm-10 6l-14-4 10-6 14 4z"/><path fill="#ff9500" d="M1117 939l-14-4 10-6 14 4zm-10 6l-14-3 10-7 14 4zm-10 6l-14-3 10-6 14 3z"/><path fill="#fa0" d="M1087 957l-14-3 10-6 14 3zm-10 5l-14-3 10-5 14 3zm-10 6l-14-4 10-5 14 3zm-10 5l-14-3 10-6 14 4z"/><path fill="#ffbf00" d="M1047 979l-14-4 10-5 14 3zm-10 5l-14-3 10-6 14 4zm-10 6l-14-3 10-6 14 3zm-10 6l-14-3 10-6 14 3z"/><path fill="#ffd500" d="M1007 1002l-14-3 10-6 14 3zm-10 6l-14-3 10-6 14 3zm-10 7l-14-3 10-7 14 3zm-10 7l-14-4 10-6 14 3z"/><path fill="#ffea00" d="M967 1029l-14-3 10-8 14 4zm-10 7l-14-3 10-7 14 3z"/><path fill="#ff0" d="M947 1044l-14-3 10-8 14 3zm-10 8l-14-4 10-7 14 3zm-10 8l-14-4 10-8 14 4z"/><path fill="#eaff15" d="M917 1069l-14-4 10-9 14 4zm-10 9l-14-4 10-9 14 4z"/><path fill="#d5ff2a" d="M897 1087l-14-4 10-9 14 4zm-10 9l-14-3 10-10 14 4z"/><path fill="#bfff40" d="M877 1106l-14-4 10-9 14 3z"/><path fill="#af5" d="M867 1117l-13-5 9-10 14 4zm-10 10l-13-4 10-11 13 5z"/><path fill="#95ff6a" d="M847 1138l-13-4 10-11 13 4zm-10 12l-13-5 10-11 13 4z"/><path fill="#80ff80" d="M827 1161l-13-5 10-11 13 5z"/><path fill="#6aff95" d="M817 1172l-13-5 10-11 13 5zm-10 12l-13-5 10-12 13 5z"/><path fill="#5fa" d="M797 1196l-13-5 10-12 13 5z"/><path fill="#40ffbf" d="M787 1208l-13-5 10-12 13 5zm-10 12l-13-6 10-11 13 5z"/><path fill="#2bffd4" d="M767 1232l-13-6 10-12 13 6z"/><path fill="#15ffea" d="M757 1243l-13-6 10-11 13 6zm-9 11l-14-6 10-11 13 6z"/><path fill="#0ff" d="M738 1266l-14-7 10-11 14 6z"/><path fill="#00eaff" d="M728 1277l-14-7 10-11 14 7zm-10 11l-14-7 10-11 14 7z"/><path fill="#00d4ff" d="M708 1299l-14-7 10-11 14 7z"/><path fill="#00bfff" d="M698 1311l-14-7 10-12 14 7zm-10 11l-14-7 10-11 14 7z"/><path fill="#0af" d="M678 1334l-14-7 10-12 14 7z"/><path fill="#0095ff" d="M668 1345l-14-6 10-12 14 7zm-10 12l-14-6 10-12 14 6z"/><path fill="#ff4000" d="M1370 836l-14 5 10-1 14-5zm-10 2l-14 5 10-2 14-5zm-10 2l-14 6 10-3 14-5zm-20 5l-14 6 10-3 14-6z"/><path fill="#eaff15" d="M911 1075l-14 12 10-9 14-12zm-10 11l-14 10 10-9 14-12z"/><path fill="#d5ff2a" d="M891 1096l-14 10 10-10 14-10zm-10 11l-14 10 10-11 14-10z"/><path fill="#bfff40" d="M871 1118l-14 9 10-10 14-10z"/><path fill="#af5" d="M861 1130l-14 8 10-11 14-9zm-10 12l-14 8 10-12 14-8z"/><path fill="#95ff6a" d="M841 1154l-14 7 10-11 14-8z"/><path fill="#80ff80" d="M831 1167l-14 5 10-11 14-7zm-10 12l-14 5 10-12 14-5z"/><path fill="#6aff95" d="M811 1192l-14 4 10-12 14-5z"/><path fill="#5fa" d="M801 1205l-14 3 10-12 14-4z"/><path fill="#40ffbf" d="M791 1218l-14 2 10-12 14-3zm-10 12l-14 2 10-12 14-2z"/><path fill="#2bffd4" d="M771 1242l-14 1 10-11 14-2z"/><path fill="#15ffea" d="M761 1254l-13 0 9-11 14-1z"/><path fill="#0ff" d="M751 1266l-13 0 10-12 13 0zm-10 12l-13-1 10-11 13 0z"/><path fill="#00eaff" d="M731 1290l-13-2 10-11 13 1z"/><path fill="#00d4ff" d="M721 1302l-13-3 10-11 13 2zm-10 12l-13-3 10-12 13 3z"/><path fill="#00bfff" d="M701 1326l-13-4 10-11 13 3z"/><path fill="#0af" d="M691 1338l-13-4 10-12 13 4z"/><path fill="#0095ff" d="M681 1350l-13-5 10-11 13 4zm-10 11l-13-4 10-12 13 5z"/><path fill="#ff4000" d="M1394 837l-14-2 10-2 14 3z"/><path fill="#ff2a00" d="M1384 839l-14-3 10-1 14 2zm-10 1l-14-2 10-2 14 3zm-10 2l-14-2 10-2 14 2zm-10 2l-14-2 10-2 14 2zm-10 3l-14-2 10-3 14 2zm-10 2l-14-2 10-2 14 2zm-10 3l-14-2 10-3 14 2zm-10 3l-14-2 10-3 14 2zm-10 3l-14-2 10-3 14 2zm-10 3l-14-2 10-3 14 2zm-10 3l-14-1 10-4 14 2zm-10 3l-14-1 10-3 14 1zm-10 3l-14 0 10-4 14 1zm-10 4l-14-1 10-3 14 0z"/><path fill="#ff4000" d="M1244 877l-14 1 10-5 14 1zm-10 4l-14 1 10-4 14-1zm-10 4l-14 1 10-4 14-1zm-10 4l-14 1 10-4 14-1zm-10 4l-14 1 10-4 14-1zm-10 3l-14 2 10-4 14-1zm-10 4l-14 2 10-4 14-2zm-10 4l-14 2 10-4 14-2zm-10 5l-13 2 9-5 14-2zm-10 5l-13 3 10-6 13-2z"/><path fill="#f50" d="M1144 920l-13 2 10-5 13-3zm-10 6l-13 2 10-6 13-2zm-10 6l-13 2 10-6 13-2z"/><path fill="#ff6a00" d="M1114 937l-13 3 10-6 13-2zm-10 6l-13 3 10-6 13-3zm-10 5l-13 3 10-5 13-3zm-10 5l-13 3 10-5 13-3z"/><path fill="#ff8000" d="M1074 959l-13 3 10-6 13-3zm-10 6l-13 3 10-6 13-3zm-10 6l-13 3 10-6 13-3z"/><path fill="#ff9500" d="M1045 977l-14 3 10-6 13-3zm-10 6l-14 3 10-6 14-3zm-10 6l-14 4 10-7 14-3z"/><path fill="#fa0" d="M1015 996l-14 3 10-6 14-4zm-10 7l-14 4 10-8 14-3zm-10 8l-14 3 10-7 14-4z"/><path fill="#ffbf00" d="M985 1019l-14 3 10-8 14-3zm-10 8l-14 3 10-8 14-3z"/><path fill="#ffd500" d="M965 1035l-14 3 10-8 14-3zm-10 9l-14 3 10-9 14-3z"/><path fill="#ffea00" d="M945 1053l-14 3 10-9 14-3zm-10 10l-14 3 10-10 14-3z"/><path fill="#ff0" d="M925 1073l-14 2 10-9 14-3zm-10 10l-14 3 10-11 14-2z"/><path fill="#eaff15" d="M905 1093l-14 3 10-10 14-3z"/><path fill="#d5ff2a" d="M895 1105l-14 2 10-11 14-3zm-10 11l-14 2 10-11 14-2z"/><path fill="#bfff40" d="M875 1128l-14 2 10-12 14-2z"/><path fill="#af5" d="M865 1140l-14 2 10-12 14-2zm-10 12l-14 2 10-12 14-2z"/><path fill="#95ff6a" d="M845 1165l-14 2 10-13 14-2z"/><path fill="#80ff80" d="M835 1177l-14 2 10-12 14-2z"/><path fill="#6aff95" d="M825 1191l-14 1 10-13 14-2zm-10 13l-14 1 10-13 14-1z"/><path fill="#5fa" d="M805 1216l-14 2 10-13 14-1z"/><path fill="#40ffbf" d="M795 1229l-14 1 10-12 14-2z"/><path fill="#2bffd4" d="M785 1241l-14 1 10-12 14-1zm-10 13l-14 0 10-12 14-1z"/><path fill="#15ffea" d="M765 1266l-14 0 10-12 14 0z"/><path fill="#0ff" d="M755 1278l-14 0 10-12 14 0zm-10 12l-14 0 10-12 14 0z"/><path fill="#00eaff" d="M735 1302l-14 0 10-12 14 0z"/><path fill="#00d4ff" d="M725 1314l-14 0 10-12 14 0z"/><path fill="#00bfff" d="M715 1325l-14 1 10-12 14 0zm-10 12l-14 1 10-12 14-1z"/><path fill="#0af" d="M695 1347l-14 3 10-12 14-1zm-10 10l-14 4 10-11 14-3z"/><path fill="#ff2a00" d="M1408 834l-14 3 10-1 14-3zm-10 2l-14 3 10-2 14-3zm-10 1l-14 3 10-1 14-3zm-10 2l-14 3 10-2 14-3zm-10 2l-14 3 10-2 14-3zm-10 3l-14 3 10-3 14-3zm-10 2l-14 3 10-2 14-3zm-10 3l-14 3 10-3 14-3zm-10 3l-14 3 10-3 14-3zm-10 3l-14 3 10-3 14-3zm-10 2l-14 4 10-3 14-3zm-10 3l-14 4 10-3 14-4zm-10 4l-14 3 10-3 14-4zm-10 3l-14 3 10-3 14-3zm-10 4l-14 3 10-4 14-3zm-10 3l-14 3 10-3 14-3zm-10 4l-14 3 10-4 14-3zm-10 4l-14 3 10-4 14-3zm-10 4l-14 3 10-4 14-3zm-10 4l-14 3 10-4 14-3zm-10 4l-14 2 10-3 14-3zm-10 3l-14 3 10-4 14-2zm-10 5l-14 2 10-4 14-3z"/><path fill="#ff4000" d="M1178 906l-14 3 10-5 14-2zm-10 6l-14 2 10-5 14-3zm-10 5l-14 3 10-6 14-2zm-10 6l-14 3 10-6 14-3zm-10 6l-14 3 10-6 14-3z"/><path fill="#f50" d="M1128 934l-14 3 10-5 14-3zm-10 6l-14 3 10-6 14-3zm-10 5l-14 3 10-5 14-3zm-10 5l-14 3 10-5 14-3z"/><path fill="#ff6a00" d="M1088 956l-14 3 10-6 14-3zm-10 6l-14 3 10-6 14-3zm-10 6l-14 3 10-6 14-3z"/><path fill="#ff8000" d="M1058 974l-13 3 9-6 14-3zm-10 6l-13 3 10-6 13-3zm-10 6l-13 3 10-6 13-3z"/><path fill="#ff9500" d="M1028 993l-13 3 10-7 13-3zm-10 8l-13 2 10-7 13-3z"/><path fill="#fa0" d="M1008 1008l-13 3 10-8 13-2zm-10 8l-13 3 10-8 13-3zm-10 8l-13 3 10-8 13-3z"/><path fill="#ffbf00" d="M978 1032l-13 3 10-8 13-3zm-10 9l-13 3 10-9 13-3z"/><path fill="#ffd500" d="M958 1050l-13 3 10-9 13-3z"/><path fill="#ffea00" d="M949 1060l-14 3 10-10 13-3zm-10 10l-14 3 10-10 14-3z"/><path fill="#ff0" d="M929 1081l-14 2 10-10 14-3zm-10 10l-14 2 10-10 14-2z"/><path fill="#eaff15" d="M909 1103l-14 2 10-12 14-2z"/><path fill="#d5ff2a" d="M899 1115l-14 1 10-11 14-2zm-10 12l-14 1 10-12 14-1z"/><path fill="#bfff40" d="M879 1139l-14 1 10-12 14-1z"/><path fill="#af5" d="M869 1151l-14 1 10-12 14-1z"/><path fill="#95ff6a" d="M859 1164l-14 1 10-13 14-1zm-10 13l-14 0 10-12 14-1z"/><path fill="#80ff80" d="M839 1190l-14 1 10-14 14 0z"/><path fill="#6aff95" d="M829 1204l-14 0 10-13 14-1z"/><path fill="#5fa" d="M819 1217l-14-1 10-12 14 0zm-10 13l-14-1 10-13 14 1z"/><path fill="#40ffbf" d="M799 1242l-14-1 10-12 14 1z"/><path fill="#2bffd4" d="M789 1255l-14-1 10-13 14 1z"/><path fill="#15ffea" d="M779 1267l-14-1 10-12 14 1zm-10 13l-14-2 10-12 14 1z"/><path fill="#0ff" d="M759 1292l-14-2 10-12 14 2z"/><path fill="#00eaff" d="M749 1304l-14-2 10-12 14 2z"/><path fill="#00d4ff" d="M739 1316l-14-2 10-12 14 2zm-10 12l-14-3 10-11 14 2z"/><path fill="#00bfff" d="M719 1340l-14-3 10-12 14 3z"/><path fill="#0af" d="M709 1351l-14-4 10-10 14 3zm-10 10l-14-4 10-10 14 4z"/><path fill="#f50" d="M1421 867l-13-33 10-1 13 32zm-10 1l-13-32 10-2 13 33zm-10 2l-13-33 10-1 13 32zm-10 2l-13-33 10-2 13 33zm-10 2l-13-33 10-2 13 33zm-10 2l-13-32 10-3 13 33z"/><path fill="#ff4000" d="M1361 878l-13-32 10-2 13 32zm-9 3l-14-32 10-3 13 32zm-10 3l-14-32 10-3 14 32zm-10 2l-14-31 10-3 14 32zm-10 3l-14-32 10-2 14 31zm-10 3l-14-32 10-3 14 32z"/><path fill="#f50" d="M1302 895l-14-31 10-4 14 32zm-10 3l-14-31 10-3 14 31zm-10 3l-14-30 10-4 14 31zm-10 4l-14-31 10-3 14 30zm-10 3l-14-30 10-4 14 31zm-10 4l-14-30 10-4 14 30zm-10 3l-14-29 10-4 14 30zm-10 4l-14-29 10-4 14 29zm-10 3l-14-28 10-4 14 29zm-10 4l-14-29 10-3 14 28zm-10 4l-14-28 10-5 14 29zm-10 4l-14-28 10-4 14 28z"/><path fill="#ff6a00" d="M1182 939l-14-27 10-6 14 28zm-10 6l-14-28 10-5 14 27zm-10 5l-14-27 10-6 14 28zm-10 5l-14-26 10-6 14 27z"/><path fill="#ff8000" d="M1142 961l-14-27 10-5 14 26zm-10 5l-14-26 10-6 14 27zm-10 5l-14-26 10-5 14 26zm-10 5l-14-26 10-5 14 26z"/><path fill="#ff9500" d="M1102 981l-14-25 10-6 14 26zm-10 6l-14-25 10-6 14 25zm-10 5l-14-24 10-6 14 25zm-10 6l-14-24 10-6 14 24z"/><path fill="#fa0" d="M1062 1004l-14-24 10-6 14 24zm-10 6l-14-24 10-6 14 24zm-10 7l-14-24 10-7 14 24z"/><path fill="#ffbf00" d="M1032 1024l-14-23 10-8 14 24zm-10 7l-14-23 10-7 14 23zm-10 8l-14-23 10-8 14 23z"/><path fill="#ffd500" d="M1002 1046l-14-22 10-8 14 23zm-10 8l-14-22 10-8 14 22z"/><path fill="#ffea00" d="M982 1063l-14-22 10-9 14 22zm-10 8l-14-21 10-9 14 22z"/><path fill="#ff0" d="M962 1081l-13-21 9-10 14 21zm-10 9l-13-20 10-10 13 21z"/><path fill="#eaff15" d="M942 1100l-13-19 10-11 13 20zm-10 11l-13-20 10-10 13 19z"/><path fill="#d5ff2a" d="M922 1121l-13-18 10-12 13 20z"/><path fill="#bfff40" d="M912 1133l-13-18 10-12 13 18zm-10 11l-13-17 10-12 13 18z"/><path fill="#af5" d="M892 1156l-13-17 10-12 13 17z"/><path fill="#95ff6a" d="M882 1168l-13-17 10-12 13 17zm-10 12l-13-16 10-13 13 17z"/><path fill="#80ff80" d="M862 1192l-13-15 10-13 13 16z"/><path fill="#6aff95" d="M852 1205l-13-15 10-13 13 15zm-9 13l-14-14 10-14 13 15z"/><path fill="#5fa" d="M833 1230l-14-13 10-13 14 14z"/><path fill="#40ffbf" d="M823 1242l-14-12 10-13 14 13z"/><path fill="#2bffd4" d="M813 1255l-14-13 10-12 14 12zm-10 12l-14-12 10-13 14 13z"/><path fill="#15ffea" d="M793 1279l-14-12 10-12 14 12z"/><path fill="#0ff" d="M783 1290l-14-10 10-13 14 12zm-10 12l-14-10 10-12 14 10z"/><path fill="#00eaff" d="M763 1314l-14-10 10-12 14 10z"/><path fill="#00d4ff" d="M753 1325l-14-9 10-12 14 10zm-10 12l-14-9 10-12 14 9z"/><path fill="#00bfff" d="M733 1348l-14-8 10-12 14 9z"/><path fill="#0af" d="M723 1358l-14-7 10-11 14 8zm-10 10l-14-7 10-10 14 7z"/><path fill="#fa0" d="M1046 1017l-14 7 10-7 14-7zm-10 7l-14 7 10-7 14-7zm-10 8l-14 7 10-8 14-7z"/><path fill="#ffbf00" d="M1016 1040l-14 6 10-7 14-7zm-10 8l-14 6 10-8 14-6z"/><path fill="#ffd500" d="M996 1057l-14 6 10-9 14-6zm-10 9l-14 5 10-8 14-6z"/><path fill="#ffea00" d="M976 1076l-14 5 10-10 14-5zm-10 10l-14 4 10-9 14-5z"/><path fill="#ff0" d="M956 1096l-14 4 10-10 14-4z"/><path fill="#eaff15" d="M946 1107l-14 4 10-11 14-4zm-10 11l-14 3 10-10 14-4z"/><path fill="#d5ff2a" d="M926 1130l-14 3 10-12 14-3z"/><path fill="#bfff40" d="M916 1142l-14 2 10-11 14-3zm-10 12l-14 2 10-12 14-2z"/><path fill="#af5" d="M896 1166l-14 2 10-12 14-2z"/><path fill="#95ff6a" d="M886 1179l-14 1 10-12 14-2z"/><path fill="#80ff80" d="M876 1192l-14 0 10-12 14-1zm-10 13l-14 0 10-13 14 0z"/><path fill="#6aff95" d="M856 1219l-13-1 9-13 14 0z"/><path fill="#5fa" d="M846 1232l-13-2 10-12 13 1z"/><path fill="#40ffbf" d="M836 1245l-13-3 10-12 13 2zm-10 13l-13-3 10-13 13 3z"/><path fill="#2bffd4" d="M816 1270l-13-3 10-12 13 3z"/><path fill="#15ffea" d="M806 1283l-13-4 10-12 13 3z"/><path fill="#0ff" d="M796 1295l-13-5 10-11 13 4zm-10 13l-13-6 10-12 13 5z"/><path fill="#00eaff" d="M776 1320l-13-6 10-12 13 6z"/><path fill="#00d4ff" d="M766 1332l-13-7 10-11 13 6z"/><path fill="#00bfff" d="M756 1344l-13-7 10-12 13 7zm-9 12l-14-8 10-11 13 7z"/><path fill="#0af" d="M737 1368l-14-10 10-10 14 8z"/><path fill="#0095ff" d="M727 1379l-14-11 10-10 14 10z"/><path fill="#ff9500" d="M1040 1022l-14 10 10-8 14-10zm-10 8l-14 10 10-8 14-10z"/><path fill="#fa0" d="M1020 1038l-14 10 10-8 14-10zm-10 9l-14 10 10-9 14-10z"/><path fill="#ffbf00" d="M1000 1057l-14 9 10-9 14-10z"/><path fill="#ffd500" d="M990 1067l-14 9 10-10 14-9zm-10 11l-14 8 10-10 14-9z"/><path fill="#ffea00" d="M970 1089l-14 7 10-10 14-8z"/><path fill="#ff0" d="M960 1100l-14 7 10-11 14-7zm-10 12l-14 6 10-11 14-7z"/><path fill="#eaff15" d="M940 1124l-14 6 10-12 14-6z"/><path fill="#d5ff2a" d="M930 1136l-14 6 10-12 14-6z"/><path fill="#bfff40" d="M920 1149l-14 5 10-12 14-6zm-10 13l-14 4 10-12 14-5z"/><path fill="#af5" d="M900 1176l-14 3 10-13 14-4z"/><path fill="#95ff6a" d="M890 1189l-14 3 10-13 14-3z"/><path fill="#80ff80" d="M880 1203l-14 2 10-13 14-3z"/><path fill="#6aff95" d="M870 1217l-14 2 10-14 14-2zm-10 14l-14 1 10-13 14-2z"/><path fill="#5fa" d="M850 1245l-14 0 10-13 14-1z"/><path fill="#40ffbf" d="M840 1258l-14 0 10-13 14 0z"/><path fill="#2bffd4" d="M830 1272l-14-2 10-12 14 0z"/><path fill="#15ffea" d="M820 1285l-14-2 10-13 14 2zm-10 13l-14-3 10-12 14 2z"/><path fill="#0ff" d="M800 1311l-14-3 10-13 14 3z"/><path fill="#00eaff" d="M790 1325l-14-5 10-12 14 3z"/><path fill="#00d4ff" d="M780 1338l-14-6 10-12 14 5z"/><path fill="#00bfff" d="M770 1351l-14-7 10-12 14 6zm-10 13l-13-8 9-12 14 7z"/><path fill="#0af" d="M750 1377l-13-9 10-12 13 8z"/><path fill="#0095ff" d="M740 1390l-13-11 10-11 13 9z"/><path fill="#ff1500" d="M1463 841l-14 4 10-1 14-4z"/><path fill="#f00" d="M1453 842l-14 5 10-2 14-4zm-10 2l-14 4 10-1 14-5zm-10 1l-14 5 10-2 14-4zm-10 2l-14 5 10-2 14-5zm-10 3l-14 5 10-3 14-5zm-10 2l-14 5 10-2 14-5zm-10 3l-14 4 10-2 14-5zm-10 2l-14 5 10-3 14-4zm-10 3l-14 5 10-3 14-5zm-10 3l-14 5 10-3 14-5zm-10 3l-14 4 10-2 14-5zm-10 2l-14 5 10-3 14-4zm-10 4l-14 5 10-4 14-5zm-10 3l-14 5 10-3 14-5zm-10 4l-14 4 10-3 14-5zm-10 3l-14 5 10-4 14-4zm-10 4l-14 5 10-4 14-5z"/><path fill="#ff1500" d="M1283 889l-14 5 10-3 14-5zm-10 4l-14 5 10-4 14-5zm-10 4l-14 4 10-3 14-5zm-10 3l-14 5 10-4 14-4zm-10 4l-14 5 10-4 14-5zm-10 5l-14 5 10-5 14-5zm-10 5l-14 5 10-5 14-5zm-10 5l-14 5 10-5 14-5z"/><path fill="#ff2a00" d="M1203 925l-14 5 10-6 14-5zm-10 6l-14 4 10-5 14-5zm-10 5l-14 5 10-6 14-4zm-10 5l-14 5 10-5 14-5zm-10 5l-14 5 10-5 14-5zm-10 6l-13 4 9-5 14-5z"/><path fill="#ff4000" d="M1143 957l-13 5 10-6 13-4zm-10 6l-13 4 10-5 13-5zm-10 6l-13 4 10-6 13-4zm-10 6l-13 4 10-6 13-4z"/><path fill="#f50" d="M1103 981l-13 4 10-6 13-4zm-10 6l-13 5 10-7 13-4zm-10 7l-13 5 10-7 13-5z"/><path fill="#ff6a00" d="M1073 1002l-13 4 10-7 13-5zm-10 8l-13 4 10-8 13-4z"/><path fill="#ff8000" d="M1053 1018l-13 4 10-8 13-4zm-9 8l-14 4 10-8 13-4z"/><path fill="#ff9500" d="M1034 1035l-14 3 10-8 14-4z"/><path fill="#fa0" d="M1024 1044l-14 3 10-9 14-3zm-10 10l-14 3 10-10 14-3z"/><path fill="#ffbf00" d="M1004 1064l-14 3 10-10 14-3zm-10 11l-14 3 10-11 14-3z"/><path fill="#ffd500" d="M984 1086l-14 3 10-11 14-3z"/><path fill="#ffea00" d="M974 1098l-14 2 10-11 14-3z"/><path fill="#ff0" d="M964 1110l-14 2 10-12 14-2zm-10 12l-14 2 10-12 14-2z"/><path fill="#eaff15" d="M944 1135l-14 1 10-12 14-2z"/><path fill="#d5ff2a" d="M934 1149l-14 0 10-13 14-1z"/><path fill="#bfff40" d="M924 1162l-14 0 10-13 14 0z"/><path fill="#af5" d="M914 1176l-14 0 10-14 14 0zm-10 14l-14-1 10-13 14 0z"/><path fill="#95ff6a" d="M894 1204l-14-1 10-14 14 1z"/><path fill="#80ff80" d="M884 1219l-14-2 10-14 14 1z"/><path fill="#6aff95" d="M874 1233l-14-2 10-14 14 2z"/><path fill="#5fa" d="M864 1247l-14-2 10-14 14 2z"/><path fill="#40ffbf" d="M854 1261l-14-3 10-13 14 2z"/><path fill="#2bffd4" d="M844 1275l-14-3 10-14 14 3zm-10 14l-14-4 10-13 14 3z"/><path fill="#15ffea" d="M824 1303l-14-5 10-13 14 4z"/><path fill="#0ff" d="M814 1316l-14-5 10-13 14 5z"/><path fill="#00eaff" d="M804 1330l-14-5 10-14 14 5z"/><path fill="#00d4ff" d="M794 1344l-14-6 10-13 14 5z"/><path fill="#00bfff" d="M784 1357l-14-6 10-13 14 6zm-10 14l-14-7 10-13 14 6z"/><path fill="#0af" d="M764 1384l-14-7 10-13 14 7z"/><path fill="#0095ff" d="M754 1398l-14-8 10-13 14 7z"/><path fill="#ff2a00" d="M1476 864l-13-23 10-1 13 23zm-10 2l-13-24 10-1 13 23zm-10 1l-13-23 10-2 13 24zm-9 2l-14-24 10-1 13 23zm-10 3l-14-25 10-2 14 24zm-10 2l-14-24 10-3 14 25zm-10 3l-14-25 10-2 14 24zm-10 3l-14-25 10-3 14 25zm-10 3l-14-26 10-2 14 25zm-10 3l-14-26 10-3 14 26zm-10 3l-14-26 10-3 14 26zm-10 3l-14-26 10-3 14 26zm-10 3l-14-27 10-2 14 26zm-10 4l-14-27 10-4 14 27zm-10 4l-14-28 10-3 14 27zm-10 4l-14-28 10-4 14 28zm-10 3l-14-28 10-3 14 28zm-10 4l-14-28 10-4 14 28zm-10 4l-14-29 10-3 14 28zm-10 4l-14-29 10-4 14 29zm-10 4l-14-29 10-4 14 29zm-10 4l-14-30 10-3 14 29z"/><path fill="#ff4000" d="M1257 934l-14-30 10-4 14 30zm-10 5l-14-30 10-5 14 30zm-10 5l-14-30 10-5 14 30zm-10 5l-14-30 10-5 14 30zm-10 6l-14-30 10-6 14 30zm-10 5l-14-29 10-6 14 30z"/><path fill="#f50" d="M1197 966l-14-30 10-5 14 29zm-10 5l-14-30 10-5 14 30zm-10 5l-14-30 10-5 14 30zm-10 5l-14-29 10-6 14 30z"/><path fill="#ff6a00" d="M1157 986l-14-29 10-5 14 29zm-10 5l-14-28 10-6 14 29zm-10 6l-14-28 10-6 14 28zm-10 5l-14-27 10-6 14 28z"/><path fill="#ff8000" d="M1117 1008l-14-27 10-6 14 27zm-10 6l-14-27 10-6 14 27zm-10 7l-14-27 10-7 14 27z"/><path fill="#ff9500" d="M1087 1028l-14-26 10-8 14 27zm-10 8l-14-26 10-8 14 26z"/><path fill="#fa0" d="M1067 1043l-14-25 10-8 14 26zm-10 8l-13-25 9-8 14 25z"/><path fill="#ffbf00" d="M1047 1060l-13-25 10-9 13 25zm-10 8l-13-24 10-9 13 25z"/><path fill="#ffd500" d="M1027 1078l-13-24 10-10 13 24zm-10 10l-13-24 10-10 13 24z"/><path fill="#ffea00" d="M1007 1098l-13-23 10-11 13 24zm-10 10l-13-22 10-11 13 23z"/><path fill="#ff0" d="M987 1119l-13-21 10-12 13 22z"/><path fill="#eaff15" d="M977 1131l-13-21 10-12 13 21z"/><path fill="#d5ff2a" d="M967 1143l-13-21 10-12 13 21zm-10 12l-13-20 10-13 13 21z"/><path fill="#bfff40" d="M947 1167l-13-18 10-14 13 20z"/><path fill="#af5" d="M938 1180l-14-18 10-13 13 18zm-10 13l-14-17 10-14 14 18z"/><path fill="#95ff6a" d="M918 1206l-14-16 10-14 14 17z"/><path fill="#80ff80" d="M908 1220l-14-16 10-14 14 16z"/><path fill="#6aff95" d="M898 1234l-14-15 10-15 14 16z"/><path fill="#5fa" d="M888 1247l-14-14 10-14 14 15zm-10 14l-14-14 10-14 14 14z"/><path fill="#40ffbf" d="M868 1274l-14-13 10-14 14 14z"/><path fill="#2bffd4" d="M858 1287l-14-12 10-14 14 13z"/><path fill="#15ffea" d="M848 1300l-14-11 10-14 14 12z"/><path fill="#0ff" d="M838 1313l-14-10 10-14 14 11zm-10 13l-14-10 10-13 14 10z"/><path fill="#00eaff" d="M818 1339l-14-9 10-14 14 10z"/><path fill="#00d4ff" d="M808 1352l-14-8 10-14 14 9z"/><path fill="#00bfff" d="M798 1364l-14-7 10-13 14 8zm-10 12l-14-5 10-14 14 7z"/><path fill="#0af" d="M778 1388l-14-4 10-13 14 5z"/><path fill="#0095ff" d="M768 1400l-14-2 10-14 14 4z"/><path fill="#ff4000" d="M1231 955l-14 0 10-6 14 1zm-10 5l-14 0 10-5 14 0z"/><path fill="#f50" d="M1171 986l-14 0 10-5 14 0zm-10 5l-14 0 10-5 14 0z"/><path fill="#ff6a00" d="M1151 997l-14 0 10-6 14 0zm-10 6l-14-1 10-5 14 0zm-10 5l-14 0 10-6 14 1zm-10 7l-14-1 10-6 14 0z"/><path fill="#ff8000" d="M1111 1021l-14 0 10-7 14 1zm-10 8l-14-1 10-7 14 0z"/><path fill="#ff9500" d="M1091 1036l-14 0 10-8 14 1zm-10 8l-14-1 10-7 14 0z"/><path fill="#fa0" d="M1071 1053l-14-2 10-8 14 1zm-10 8l-14-1 10-9 14 2z"/><path fill="#ffbf00" d="M1051 1070l-14-2 10-8 14 1zm-10 10l-14-2 10-10 14 2z"/><path fill="#ffd500" d="M1031 1090l-14-2 10-10 14 2z"/><path fill="#ffea00" d="M1021 1101l-14-3 10-10 14 2zm-10 10l-14-3 10-10 14 3z"/><path fill="#ff0" d="M1001 1123l-14-4 10-11 14 3z"/><path fill="#eaff15" d="M991 1135l-14-4 10-12 14 4zm-10 12l-14-4 10-12 14 4z"/><path fill="#d5ff2a" d="M971 1160l-14-5 10-12 14 4z"/><path fill="#bfff40" d="M961 1173l-14-6 10-12 14 5z"/><path fill="#af5" d="M951 1186l-13-6 9-13 14 6zm-10 13l-13-6 10-13 13 6z"/><path fill="#95ff6a" d="M931 1213l-13-7 10-13 13 6z"/><path fill="#80ff80" d="M921 1228l-13-8 10-14 13 7z"/><path fill="#6aff95" d="M911 1242l-13-8 10-14 13 8z"/><path fill="#5fa" d="M901 1256l-13-9 10-13 13 8z"/><path fill="#40ffbf" d="M891 1270l-13-9 10-14 13 9zm-10 14l-13-10 10-13 13 9z"/><path fill="#2bffd4" d="M871 1298l-13-11 10-13 13 10z"/><path fill="#15ffea" d="M861 1311l-13-11 10-13 13 11z"/><path fill="#0ff" d="M851 1325l-13-12 10-13 13 11z"/><path fill="#00eaff" d="M842 1339l-14-13 10-13 13 12z"/><path fill="#00d4ff" d="M832 1352l-14-13 10-13 14 13zm-10 13l-14-13 10-13 14 13z"/><path fill="#00bfff" d="M812 1378l-14-14 10-12 14 13z"/><path fill="#0af" d="M802 1391l-14-15 10-12 14 14z"/><path fill="#0095ff" d="M792 1404l-14-16 10-12 14 15z"/><path fill="#0080ff" d="M782 1416l-14-16 10-12 14 16z"/><path fill="#ff9500" d="M1065 1059l-14 11 10-9 14-11z"/><path fill="#fa0" d="M1055 1069l-14 11 10-10 14-11z"/><path fill="#ffbf00" d="M1045 1080l-14 10 10-10 14-11zm-10 11l-14 10 10-11 14-10z"/><path fill="#ffd500" d="M1025 1103l-14 8 10-10 14-10z"/><path fill="#ffea00" d="M1015 1115l-14 8 10-12 14-8zm-10 12l-14 8 10-12 14-8z"/><path fill="#ff0" d="M995 1140l-14 7 10-12 14-8z"/><path fill="#eaff15" d="M985 1154l-14 6 10-13 14-7z"/><path fill="#d5ff2a" d="M975 1167l-14 6 10-13 14-6z"/><path fill="#bfff40" d="M965 1181l-14 5 10-13 14-6z"/><path fill="#af5" d="M955 1196l-14 3 10-13 14-5z"/><path fill="#95ff6a" d="M945 1210l-14 3 10-14 14-3zm-10 15l-14 3 10-15 14-3z"/><path fill="#80ff80" d="M925 1241l-14 1 10-14 14-3z"/><path fill="#6aff95" d="M915 1256l-14 0 10-14 14-1z"/><path fill="#5fa" d="M905 1270l-14 0 10-14 14 0z"/><path fill="#40ffbf" d="M895 1285l-14-1 10-14 14 0z"/><path fill="#2bffd4" d="M885 1300l-14-2 10-14 14 1z"/><path fill="#15ffea" d="M875 1314l-14-3 10-13 14 2z"/><path fill="#0ff" d="M865 1329l-14-4 10-14 14 3z"/><path fill="#00eaff" d="M855 1343l-13-4 9-14 14 4z"/><path fill="#00d4ff" d="M845 1358l-13-6 10-13 13 4z"/><path fill="#00bfff" d="M835 1372l-13-7 10-13 13 6zm-10 14l-13-8 10-13 13 7z"/><path fill="#0af" d="M815 1401l-13-10 10-13 13 8z"/><path fill="#0095ff" d="M805 1415l-13-11 10-13 13 10z"/><path fill="#0080ff" d="M795 1430l-13-14 10-12 13 11z"/><path fill="#ff9500" d="M1518 940l-14-84 10-1 14 84zm-10 1l-14-84 10-1 14 84z"/><path fill="#ff8000" d="M1498 942l-14-83 10-2 14 84zm-10 1l-14-82 10-2 14 83zm-10 0l-14-80 10-2 14 82zm-10 1l-14-79 10-2 14 80zm-10 1l-14-77 10-3 14 79z"/><path fill="#ff6a00" d="M1448 945l-14-75 10-2 14 77zm-10 1l-14-73 10-3 14 75zm-10 0l-14-70 10-3 14 73zm-10 1l-14-68 10-3 14 70zm-10 0l-14-65 10-3 14 68z"/><path fill="#f50" d="M1398 948l-14-63 10-3 14 65zm-10 0l-14-60 10-3 14 63zm-10 1l-14-58 10-3 14 60zm-10 1l-14-55 10-4 14 58zm-10 1l-14-52 10-4 14 55z"/><path fill="#ff4000" d="M1348 951l-14-49 10-3 14 52zm-10 1l-14-46 10-4 14 49zm-10 2l-14-45 10-3 14 46zm-10 1l-14-42 10-4 14 45zm-10 1l-14-39 10-4 14 42zm-10 2l-14-37 10-4 14 39zm-10 2l-14-35 10-4 14 37zm-10 4l-14-34 10-5 14 35zm-10 3l-14-31 10-6 14 34zm-10 4l-14-30 10-5 14 31zm-10 4l-13-28 9-6 14 30zm-10 5l-13-28 10-5 13 28zm-10 4l-13-27 10-5 13 28z"/><path fill="#f50" d="M1218 989l-13-27 10-5 13 27zm-10 5l-13-27 10-5 13 27zm-10 5l-13-27 10-5 13 27zm-10 5l-13-26 10-6 13 27z"/><path fill="#ff6a00" d="M1178 1010l-13-26 10-6 13 26zm-10 5l-13-26 10-5 13 26zm-10 6l-13-26 10-6 13 26zm-10 6l-13-25 10-7 13 26z"/><path fill="#ff8000" d="M1139 1034l-14-25 10-7 13 25zm-10 7l-14-25 10-7 14 25z"/><path fill="#ff9500" d="M1119 1049l-14-25 10-8 14 25zm-10 8l-14-24 10-9 14 25z"/><path fill="#fa0" d="M1099 1066l-14-25 10-8 14 24zm-10 8l-14-24 10-9 14 25z"/><path fill="#ffbf00" d="M1079 1083l-14-24 10-9 14 24zm-10 10l-14-24 10-10 14 24z"/><path fill="#ffd500" d="M1059 1104l-14-24 10-11 14 24z"/><path fill="#ffea00" d="M1049 1115l-14-24 10-11 14 24zm-10 11l-14-23 10-12 14 24z"/><path fill="#ff0" d="M1029 1137l-14-22 10-12 14 23z"/><path fill="#eaff15" d="M1019 1150l-14-23 10-12 14 22z"/><path fill="#d5ff2a" d="M1009 1162l-14-22 10-13 14 23zm-10 13l-14-21 10-14 14 22z"/><path fill="#bfff40" d="M989 1189l-14-22 10-13 14 21z"/><path fill="#af5" d="M979 1203l-14-22 10-14 14 22z"/><path fill="#95ff6a" d="M969 1217l-14-21 10-15 14 22z"/><path fill="#80ff80" d="M959 1231l-14-21 10-14 14 21zm-10 15l-14-21 10-15 14 21z"/><path fill="#6aff95" d="M939 1261l-14-20 10-16 14 21z"/><path fill="#5fa" d="M929 1275l-14-19 10-15 14 20z"/><path fill="#40ffbf" d="M919 1290l-14-20 10-14 14 19z"/><path fill="#2bffd4" d="M909 1304l-14-19 10-15 14 20z"/><path fill="#15ffea" d="M899 1319l-14-19 10-15 14 19z"/><path fill="#0ff" d="M889 1334l-14-20 10-14 14 19z"/><path fill="#00eaff" d="M879 1348l-14-19 10-15 14 20z"/><path fill="#00d4ff" d="M869 1363l-14-20 10-14 14 19z"/><path fill="#00bfff" d="M859 1379l-14-21 10-15 14 20z"/><path fill="#0af" d="M849 1394l-14-22 10-14 14 21z"/><path fill="#0095ff" d="M839 1411l-14-25 10-14 14 22z"/><path fill="#0080ff" d="M829 1429l-14-28 10-15 14 25z"/><path fill="#006aff" d="M819 1450l-14-35 10-14 14 28z"/><path fill="#0040ff" d="M809 1474l-14-44 10-15 14 35z"/><path fill="#f50" d="M1462 941l-14 4 10 0 14-5zm-20 1l-14 4 10 0 14-4zm-20 2l-14 3 10 0 14-4z"/><path fill="#ff4000" d="M1402 945l-14 3 10 0 14-4zm-20 2l-14 3 10-1 14-3zm-10 1l-14 3 10-1 14-3zm-20 3l-14 1 10-1 14-1zm-10 1l-14 2 10-2 14-1zm-10 2l-14 1 10-1 14-2z"/><path fill="#ff2a00" d="M1322 956l-14 0 10-1 14-1zm-10 2l-14 0 10-2 14 0zm-10 2l-14 0 10-2 14 0zm-10 4l-14 0 10-4 14 0z"/><path fill="#ff4000" d="M1282 967l-14 0 10-3 14 0zm-10 4l-14 0 10-4 14 0zm-10 5l-14-1 10-4 14 0zm-10 4l-14 0 10-5 14 1zm-10 5l-14-1 10-4 14 0zm-10 5l-14-1 10-5 14 1zm-10 5l-14-1 10-5 14 1z"/><path fill="#f50" d="M1212 1000l-14-1 10-5 14 1zm-10 5l-14-1 10-5 14 1zm-10 6l-14-1 10-6 14 1zm-10 6l-14-2 10-5 14 1z"/><path fill="#ff6a00" d="M1172 1022l-14-1 10-6 14 2zm-10 7l-14-2 10-6 14 1zm-10 7l-13-2 9-7 14 2z"/><path fill="#ff8000" d="M1142 1043l-13-2 10-7 13 2zm-10 8l-13-2 10-8 13 2z"/><path fill="#ff9500" d="M1122 1060l-13-3 10-8 13 2zm-10 8l-13-2 10-9 13 3z"/><path fill="#fa0" d="M1102 1077l-13-3 10-8 13 2z"/><path fill="#ffbf00" d="M1092 1087l-13-4 10-9 13 3zm-10 10l-13-4 10-10 13 4z"/><path fill="#ffd500" d="M1072 1108l-13-4 10-11 13 4z"/><path fill="#ffea00" d="M1062 1119l-13-4 10-11 13 4zm-10 12l-13-5 10-11 13 4z"/><path fill="#ff0" d="M1042 1143l-13-6 10-11 13 5z"/><path fill="#eaff15" d="M1033 1156l-14-6 10-13 13 6z"/><path fill="#d5ff2a" d="M1023 1169l-14-7 10-12 14 6zm-10 14l-14-8 10-13 14 7z"/><path fill="#bfff40" d="M1003 1197l-14-8 10-14 14 8z"/><path fill="#af5" d="M993 1212l-14-9 10-14 14 8z"/><path fill="#95ff6a" d="M983 1226l-14-9 10-14 14 9z"/><path fill="#80ff80" d="M973 1242l-14-11 10-14 14 9z"/><path fill="#6aff95" d="M963 1257l-14-11 10-15 14 11z"/><path fill="#5fa" d="M953 1273l-14-12 10-15 14 11z"/><path fill="#40ffbf" d="M943 1289l-14-14 10-14 14 12z"/><path fill="#2bffd4" d="M933 1305l-14-15 10-15 14 14z"/><path fill="#15ffea" d="M923 1320l-14-16 10-14 14 15z"/><path fill="#0ff" d="M913 1337l-14-18 10-15 14 16z"/><path fill="#00eaff" d="M903 1353l-14-19 10-15 14 18z"/><path fill="#00d4ff" d="M893 1371l-14-23 10-14 14 19z"/><path fill="#00bfff" d="M883 1390l-14-27 10-15 14 23z"/><path fill="#0095ff" d="M873 1411l-14-32 10-16 14 27z"/><path fill="#0080ff" d="M863 1436l-14-42 10-15 14 32z"/><path fill="#0040ff" d="M853 1466l-14-55 10-17 14 42z"/><path fill="#0015ff" d="M843 1504l-14-75 10-18 14 55z"/><path fill="#0000bf" d="M833 1556l-14-106 10-21 14 75z"/><path fill="#000080" d="M823 1627l-14-153 10-24 14 106z"/><path fill="#ff8000" d="M1525 948l-13-11 10-1 13 11z"/><path fill="#ff6a00" d="M1505 950l-13-12 10-1 13 12zm-20 3l-13-13 10-1 13 12zm-10 1l-13-13 10-1 13 13zm-10 1l-13-13 10-1 13 13zm-10 1l-13-14 10 0 13 13zm-10 1l-13-14 10-1 13 14z"/><path fill="#f50" d="M1436 958l-14-14 10-1 13 14zm-10 1l-14-15 10 0 14 14zm-10 1l-14-15 10-1 14 15zm-10 2l-14-16 10-1 14 15zm-10 2l-14-17 10-1 14 16zm-10 1l-14-17 10-1 14 17zm-10 2l-14-17 10-2 14 17zm-10 1l-14-17 10-1 14 17z"/><path fill="#ff4000" d="M1356 970l-14-18 10-1 14 17zm-10 2l-14-18 10-2 14 18zm-10 2l-14-18 10-2 14 18zm-10 3l-14-19 10-2 14 18zm-10 3l-14-20 10-2 14 19zm-10 3l-14-19 10-4 14 20z"/><path fill="#f50" d="M1296 987l-14-20 10-3 14 19zm-10 4l-14-20 10-4 14 20zm-10 5l-14-20 10-5 14 20zm-10 4l-14-20 10-4 14 20zm-10 5l-14-20 10-5 14 20zm-10 4l-14-19 10-5 14 20z"/><path fill="#ff6a00" d="M1236 1014l-14-19 10-5 14 19zm-10 6l-14-20 10-5 14 19zm-10 5l-14-20 10-5 14 20zm-10 5l-14-19 10-6 14 20z"/><path fill="#ff8000" d="M1196 1036l-14-19 10-6 14 19zm-10 5l-14-19 10-5 14 19zm-10 7l-14-19 10-7 14 19z"/><path fill="#ff9500" d="M1166 1055l-14-19 10-7 14 19zm-10 7l-14-19 10-7 14 19z"/><path fill="#fa0" d="M1146 1070l-14-19 10-8 14 19zm-10 8l-14-18 10-9 14 19zm-10 9l-14-19 10-8 14 18z"/><path fill="#ffbf00" d="M1116 1096l-14-19 10-9 14 19z"/><path fill="#ffd500" d="M1106 1105l-14-18 10-10 14 19zm-10 10l-14-18 10-10 14 18z"/><path fill="#ffea00" d="M1086 1126l-14-18 10-11 14 18zm-10 12l-14-19 10-11 14 18z"/><path fill="#ff0" d="M1066 1149l-14-18 10-12 14 19z"/><path fill="#eaff15" d="M1056 1161l-14-18 10-12 14 18z"/><path fill="#d5ff2a" d="M1046 1174l-13-18 9-13 14 18z"/><path fill="#bfff40" d="M1036 1188l-13-19 10-13 13 18zm-10 13l-13-18 10-14 13 19z"/><path fill="#af5" d="M1016 1215l-13-18 10-14 13 18z"/><path fill="#95ff6a" d="M1006 1230l-13-18 10-15 13 18z"/><path fill="#80ff80" d="M996 1244l-13-18 10-14 13 18z"/><path fill="#6aff95" d="M986 1260l-13-18 10-16 13 18z"/><path fill="#5fa" d="M976 1275l-13-18 10-15 13 18z"/><path fill="#40ffbf" d="M966 1291l-13-18 10-16 13 18z"/><path fill="#2bffd4" d="M956 1306l-13-17 10-16 13 18z"/><path fill="#15ffea" d="M946 1322l-13-17 10-16 13 17z"/><path fill="#0ff" d="M937 1337l-14-17 10-15 13 17z"/><path fill="#00eaff" d="M927 1352l-14-15 10-17 14 17z"/><path fill="#00d4ff" d="M917 1368l-14-15 10-16 14 15z"/><path fill="#00bfff" d="M907 1383l-14-12 10-18 14 15z"/><path fill="#0af" d="M897 1398l-14-8 10-19 14 12zm-10 16l-14-3 10-21 14 8z"/><path fill="#0080ff" d="M877 1430l-14 6 10-25 14 3z"/><path fill="#006aff" d="M867 1446l-14 20 10-30 14-6z"/><path fill="#05f" d="M857 1464l-14 40 10-38 14-20z"/><path fill="#002aff" d="M837 1504l-14 123 10-71 14-74z"/><path fill="#f50" d="M1260 1014l-14-5 10-4 14 5zm-10 5l-14-5 10-5 14 5z"/><path fill="#ff6a00" d="M1240 1024l-14-4 10-6 14 5zm-10 5l-14-4 10-5 14 4zm-10 5l-14-4 10-5 14 4zm-10 6l-14-4 10-6 14 4z"/><path fill="#ff8000" d="M1200 1045l-14-4 10-5 14 4zm-10 6l-14-3 10-7 14 4zm-10 7l-14-3 10-7 14 3z"/><path fill="#ff9500" d="M1170 1066l-14-4 10-7 14 3zm-10 7l-14-3 10-8 14 4z"/><path fill="#fa0" d="M1150 1081l-14-3 10-8 14 3zm-10 9l-14-3 10-9 14 3z"/><path fill="#ffbf00" d="M1130 1098l-14-2 10-9 14 3zm-10 10l-14-3 10-9 14 2z"/><path fill="#ffd500" d="M1110 1118l-14-3 10-10 14 3zm-10 10l-14-2 10-11 14 3z"/><path fill="#ffea00" d="M1090 1140l-14-2 10-12 14 2z"/><path fill="#ff0" d="M1080 1151l-14-2 10-11 14 2z"/><path fill="#eaff15" d="M1070 1163l-14-2 10-12 14 2zm-10 13l-14-2 10-13 14 2z"/><path fill="#d5ff2a" d="M1050 1189l-14-1 10-14 14 2z"/><path fill="#bfff40" d="M1040 1202l-14-1 10-13 14 1z"/><path fill="#af5" d="M1030 1216l-14-1 10-14 14 1z"/><path fill="#95ff6a" d="M1020 1230l-14 0 10-15 14 1zm-10 15l-14-1 10-14 14 0z"/><path fill="#80ff80" d="M1000 1260l-14 0 10-16 14 1z"/><path fill="#6aff95" d="M990 1275l-14 0 10-15 14 0z"/><path fill="#5fa" d="M980 1290l-14 1 10-16 14 0z"/><path fill="#40ffbf" d="M970 1306l-14 0 10-15 14-1z"/><path fill="#2bffd4" d="M960 1321l-14 1 10-16 14 0z"/><path fill="#15ffea" d="M950 1336l-13 1 9-15 14-1z"/><path fill="#0ff" d="M940 1351l-13 1 10-15 13-1z"/><path fill="#00eaff" d="M930 1366l-13 2 10-16 13-1z"/><path fill="#00d4ff" d="M920 1381l-13 2 10-15 13-2z"/><path fill="#00bfff" d="M910 1396l-13 2 10-15 13-2z"/><path fill="#0af" d="M900 1411l-13 3 10-16 13-2z"/><path fill="#0095ff" d="M890 1426l-13 4 10-16 13-3z"/><path fill="#0080ff" d="M880 1442l-13 4 10-16 13-4z"/><path fill="#006aff" d="M870 1457l-13 7 10-18 13-4z"/><path fill="#05f" d="M860 1473l-13 9 10-18 13-7z"/><path fill="#0040ff" d="M850 1490l-13 14 10-22 13-9z"/><path fill="#ff9500" d="M1164 1085l-14-4 10-8 14 4z"/><path fill="#fa0" d="M1154 1093l-14-3 10-9 14 4zm-10 8l-14-3 10-8 14 3z"/><path fill="#ffbf00" d="M1134 1110l-14-2 10-10 14 3zm-10 10l-14-2 10-10 14 2z"/><path fill="#ffd500" d="M1114 1130l-14-2 10-10 14 2z"/><path fill="#ffea00" d="M1104 1141l-14-1 10-12 14 2zm-10 11l-14-1 10-11 14 1z"/><path fill="#ff0" d="M1084 1163l-14 0 10-12 14 1z"/><path fill="#eaff15" d="M1074 1176l-14 0 10-13 14 0z"/><path fill="#d5ff2a" d="M1064 1188l-14 1 10-13 14 0zm-10 13l-14 1 10-13 14-1z"/><path fill="#bfff40" d="M1044 1215l-14 1 10-14 14-1z"/><path fill="#af5" d="M1034 1228l-14 2 10-14 14-1z"/><path fill="#95ff6a" d="M1024 1242l-14 3 10-15 14-2z"/><path fill="#80ff80" d="M1014 1256l-14 4 10-15 14-3zm-10 15l-14 4 10-15 14-4z"/><path fill="#6aff95" d="M994 1286l-14 4 10-15 14-4z"/><path fill="#5fa" d="M984 1301l-14 5 10-16 14-4z"/><path fill="#40ffbf" d="M974 1315l-14 6 10-15 14-5z"/><path fill="#2bffd4" d="M964 1330l-14 6 10-15 14-6z"/><path fill="#15ffea" d="M954 1344l-14 7 10-15 14-6z"/><path fill="#0ff" d="M944 1359l-14 7 10-15 14-7z"/><path fill="#00eaff" d="M934 1373l-14 8 10-15 14-7z"/><path fill="#00d4ff" d="M924 1388l-14 8 10-15 14-8z"/><path fill="#00bfff" d="M914 1402l-14 9 10-15 14-8z"/><path fill="#0af" d="M904 1417l-14 9 10-15 14-9zm-10 15l-14 10 10-16 14-9z"/><path fill="#0095ff" d="M884 1447l-14 10 10-15 14-10z"/><path fill="#0080ff" d="M874 1463l-14 10 10-16 14-10z"/><path fill="#05f" d="M864 1480l-14 10 10-17 14-10z"/><path fill="#eaff15" d="M1058 1197l-14 18 10-14 14-18z"/><path fill="#d5ff2a" d="M1048 1212l-14 16 10-13 14-18z"/><path fill="#bfff40" d="M1038 1227l-14 15 10-14 14-16z"/><path fill="#af5" d="M1028 1243l-14 13 10-14 14-15z"/><path fill="#95ff6a" d="M1018 1259l-14 12 10-15 14-13z"/><path fill="#80ff80" d="M1008 1275l-14 11 10-15 14-12z"/><path fill="#6aff95" d="M998 1291l-14 10 10-15 14-11z"/><path fill="#5fa" d="M988 1307l-14 8 10-14 14-10z"/><path fill="#40ffbf" d="M978 1323l-14 7 10-15 14-8z"/><path fill="#2bffd4" d="M968 1339l-14 5 10-14 14-7z"/><path fill="#15ffea" d="M958 1355l-14 4 10-15 14-5z"/><path fill="#0ff" d="M948 1371l-14 2 10-14 14-4z"/><path fill="#00eaff" d="M938 1387l-14 1 10-15 14-2z"/><path fill="#00d4ff" d="M928 1403l-14-1 10-14 14-1z"/><path fill="#00bfff" d="M918 1419l-14-2 10-15 14 1z"/><path fill="#0af" d="M908 1435l-14-3 10-15 14 2z"/><path fill="#0095ff" d="M898 1451l-14-4 10-15 14 3z"/><path fill="#0080ff" d="M888 1468l-14-5 10-16 14 4z"/><path fill="#05f" d="M878 1486l-14-6 10-17 14 5z"/><path fill="#ff2a00" d="M1600 927l-13 5 10-1 13-5zm-20 2l-13 5 10-1 13-5zm-10 1l-13 5 10-1 13-5zm-20 2l-13 5 10-1 13-5zm-10 1l-13 5 10-1 13-5z"/><path fill="#ff1500" d="M1521 936l-14 4 10-1 14-4zm-10 1l-14 4 10-1 14-4zm-20 2l-14 4 10-1 14-4zm-20 2l-14 3 10-1 14-3zm-10 1l-14 4 10-2 14-3zm-10 2l-14 3 10-1 14-4z"/><path fill="#f00" d="M1441 946l-14 3 10-2 14-3zm-10 1l-14 3 10-1 14-3zm-10 2l-14 2 10-1 14-3zm-10 1l-14 3 10-2 14-2zm-10 2l-14 3 10-2 14-3zm-10 2l-14 2 10-1 14-3zm-10 2l-14 3 10-3 14-2zm-10 3l-14 2 10-2 14-3zm-10 4l-14 2 10-4 14-2zm-10 3l-14 2 10-3 14-2zm-10 4l-14 2 10-4 14-2zm-10 4l-14 2 10-4 14-2zm-10 5l-14 2 10-5 14-2z"/><path fill="#ff1500" d="M1311 983l-14 2 10-4 14-2zm-10 5l-14 1 10-4 14-2zm-10 4l-14 2 10-5 14-1zm-10 5l-14 2 10-5 14-2zm-10 5l-14 2 10-5 14-2zm-10 5l-14 2 10-5 14-2z"/><path fill="#ff2a00" d="M1251 1013l-14 2 10-6 14-2zm-10 5l-14 2 10-5 14-2zm-10 6l-14 2 10-6 14-2zm-10 7l-14 2 10-7 14-2z"/><path fill="#ff4000" d="M1211 1039l-14 2 10-8 14-2zm-10 8l-14 2 10-8 14-2zm-10 9l-14 1 10-8 14-2z"/><path fill="#f50" d="M1181 1064l-14 1 10-8 14-1z"/><path fill="#ff6a00" d="M1171 1073l-14 1 10-9 14-1zm-10 10l-14 1 10-10 14-1z"/><path fill="#ff8000" d="M1151 1094l-14 0 10-10 14-1z"/><path fill="#ff9500" d="M1141 1105l-13 0 9-11 14 0z"/><path fill="#fa0" d="M1131 1117l-13 0 10-12 13 0z"/><path fill="#ffbf00" d="M1121 1130l-13-1 10-12 13 0zm-10 13l-13-1 10-13 13 1z"/><path fill="#ffd500" d="M1101 1156l-13-1 10-13 13 1z"/><path fill="#ffea00" d="M1091 1170l-13-2 10-13 13 1z"/><path fill="#ff0" d="M1081 1185l-13-2 10-15 13 2z"/><path fill="#eaff15" d="M1071 1200l-13-3 10-14 13 2z"/><path fill="#d5ff2a" d="M1061 1215l-13-3 10-15 13 3z"/><path fill="#bfff40" d="M1051 1231l-13-4 10-15 13 3z"/><path fill="#af5" d="M1041 1247l-13-4 10-16 13 4z"/><path fill="#95ff6a" d="M1032 1264l-14-5 10-16 13 4z"/><path fill="#80ff80" d="M1022 1281l-14-6 10-16 14 5z"/><path fill="#6aff95" d="M1012 1297l-14-6 10-16 14 6z"/><path fill="#5fa" d="M1002 1314l-14-7 10-16 14 6z"/><path fill="#40ffbf" d="M992 1330l-14-7 10-16 14 7z"/><path fill="#2bffd4" d="M982 1347l-14-8 10-16 14 7z"/><path fill="#15ffea" d="M972 1364l-14-9 10-16 14 8z"/><path fill="#0ff" d="M962 1380l-14-9 10-16 14 9z"/><path fill="#00eaff" d="M952 1396l-14-9 10-16 14 9z"/><path fill="#00d4ff" d="M942 1413l-14-10 10-16 14 9z"/><path fill="#00bfff" d="M932 1429l-14-10 10-16 14 10z"/><path fill="#0095ff" d="M922 1445l-14-10 10-16 14 10z"/><path fill="#0080ff" d="M912 1461l-14-10 10-16 14 10z"/><path fill="#006aff" d="M902 1478l-14-10 10-17 14 10z"/><path fill="#05f" d="M892 1494l-14-8 10-18 14 10z"/><path fill="#ff6a00" d="M1614 968l-14-41 10-1 14 41zm-10 1l-14-41 10-1 14 41zm-10 1l-14-41 10-1 14 41zm-10 1l-14-41 10-1 14 41zm-10 1l-14-41 10-1 14 41z"/><path fill="#f50" d="M1564 973l-14-41 10-1 14 41zm-10 1l-14-41 10-1 14 41zm-10 2l-13-41 9-2 14 41zm-10 1l-13-41 10-1 13 41zm-10 1l-13-41 10-1 13 41zm-10 1l-13-41 10-1 13 41z"/><path fill="#ff4000" d="M1504 980l-13-41 10-1 13 41zm-10 1l-13-41 10-1 13 41zm-10 1l-13-41 10-1 13 41zm-10 1l-13-41 10-1 13 41zm-10 2l-13-41 10-2 13 41zm-10 1l-13-40 10-2 13 41zm-10 1l-13-40 10-1 13 40zm-10 2l-13-40 10-2 13 40zm-9 2l-14-41 10-1 13 40zm-10 1l-14-40 10-2 14 41zm-10 2l-14-40 10-2 14 40z"/><path fill="#ff2a00" d="M1395 996l-14-40 10-2 14 40zm-10 3l-14-40 10-3 14 40zm-10 3l-14-39 10-4 14 40z"/><path fill="#ff4000" d="M1365 1006l-14-40 10-3 14 39zm-10 3l-14-39 10-4 14 40zm-10 4l-14-39 10-4 14 39zm-10 4l-14-38 10-5 14 39zm-10 4l-14-38 10-4 14 38zm-10 5l-14-38 10-5 14 38zm-10 4l-14-38 10-4 14 38zm-10 5l-14-38 10-5 14 38zm-10 5l-14-38 10-5 14 38z"/><path fill="#f50" d="M1275 1045l-14-38 10-5 14 38zm-10 5l-14-37 10-6 14 38zm-10 5l-14-37 10-5 14 37zm-10 6l-14-37 10-6 14 37z"/><path fill="#ff6a00" d="M1235 1067l-14-36 10-7 14 37zm-10 8l-14-36 10-8 14 36z"/><path fill="#ff8000" d="M1215 1082l-14-35 10-8 14 36zm-10 8l-14-34 10-9 14 35z"/><path fill="#ff9500" d="M1195 1099l-14-35 10-8 14 34zm-10 8l-14-34 10-9 14 35z"/><path fill="#fa0" d="M1175 1117l-14-34 10-10 14 34zm-10 10l-14-33 10-11 14 34z"/><path fill="#ffbf00" d="M1155 1138l-14-33 10-11 14 33z"/><path fill="#ffd500" d="M1145 1149l-14-32 10-12 14 33z"/><path fill="#ffea00" d="M1135 1161l-14-31 10-13 14 32zm-10 12l-14-30 10-13 14 31z"/><path fill="#ff0" d="M1115 1186l-14-30 10-13 14 30z"/><path fill="#eaff15" d="M1105 1199l-14-29 10-14 14 30z"/><path fill="#d5ff2a" d="M1095 1213l-14-28 10-15 14 29z"/><path fill="#bfff40" d="M1085 1227l-14-27 10-15 14 28z"/><path fill="#af5" d="M1075 1242l-14-27 10-15 14 27zm-10 15l-14-26 10-16 14 27z"/><path fill="#95ff6a" d="M1055 1272l-14-25 10-16 14 26z"/><path fill="#80ff80" d="M1045 1288l-13-24 9-17 14 25z"/><path fill="#6aff95" d="M1035 1304l-13-23 10-17 13 24z"/><path fill="#5fa" d="M1025 1320l-13-23 10-16 13 23z"/><path fill="#40ffbf" d="M1015 1335l-13-21 10-17 13 23z"/><path fill="#2bffd4" d="M1005 1351l-13-21 10-16 13 21z"/><path fill="#15ffea" d="M995 1367l-13-20 10-17 13 21z"/><path fill="#0ff" d="M985 1383l-13-19 10-17 13 20z"/><path fill="#00eaff" d="M975 1398l-13-18 10-16 13 19z"/><path fill="#00d4ff" d="M965 1414l-13-18 10-16 13 18z"/><path fill="#00bfff" d="M955 1429l-13-16 10-17 13 18z"/><path fill="#0af" d="M945 1444l-13-15 10-16 13 16z"/><path fill="#0095ff" d="M935 1459l-13-14 10-16 13 15z"/><path fill="#0080ff" d="M926 1474l-14-13 10-16 13 14z"/><path fill="#006aff" d="M916 1489l-14-11 10-17 14 13z"/><path fill="#05f" d="M906 1503l-14-9 10-16 14 11z"/><path fill="#f50" d="M1239 1065l-14 10 10-8 14-9zm-10 8l-14 9 10-7 14-10z"/><path fill="#ff6a00" d="M1219 1082l-14 8 10-8 14-9zm-10 8l-14 9 10-9 14-8z"/><path fill="#ff8000" d="M1199 1099l-14 8 10-8 14-9z"/><path fill="#ff9500" d="M1189 1109l-14 8 10-10 14-8zm-10 11l-14 7 10-10 14-8z"/><path fill="#fa0" d="M1169 1131l-14 7 10-11 14-7z"/><path fill="#ffbf00" d="M1159 1143l-14 6 10-11 14-7z"/><path fill="#ffd500" d="M1149 1155l-14 6 10-12 14-6zm-10 13l-14 5 10-12 14-6z"/><path fill="#ffea00" d="M1129 1182l-14 4 10-13 14-5z"/><path fill="#ff0" d="M1119 1196l-14 3 10-13 14-4z"/><path fill="#eaff15" d="M1109 1210l-14 3 10-14 14-3z"/><path fill="#d5ff2a" d="M1099 1225l-14 2 10-14 14-3z"/><path fill="#bfff40" d="M1089 1240l-14 2 10-15 14-2z"/><path fill="#af5" d="M1079 1256l-14 1 10-15 14-2z"/><path fill="#95ff6a" d="M1069 1272l-14 0 10-15 14-1z"/><path fill="#80ff80" d="M1059 1289l-14-1 10-16 14 0z"/><path fill="#6aff95" d="M1049 1306l-14-2 10-16 14 1z"/><path fill="#5fa" d="M1039 1323l-14-3 10-16 14 2z"/><path fill="#40ffbf" d="M1029 1339l-14-4 10-15 14 3z"/><path fill="#2bffd4" d="M1019 1356l-14-5 10-16 14 4z"/><path fill="#15ffea" d="M1009 1373l-14-6 10-16 14 5z"/><path fill="#0ff" d="M999 1389l-14-6 10-16 14 6z"/><path fill="#00eaff" d="M989 1406l-14-8 10-15 14 6z"/><path fill="#00d4ff" d="M979 1422l-14-8 10-16 14 8z"/><path fill="#00bfff" d="M969 1438l-14-9 10-15 14 8z"/><path fill="#0af" d="M959 1454l-14-10 10-15 14 9z"/><path fill="#0080ff" d="M949 1471l-14-12 10-15 14 10z"/><path fill="#006aff" d="M939 1487l-13-13 9-15 14 12z"/><path fill="#05f" d="M929 1503l-13-14 10-15 13 13z"/><path fill="#0040ff" d="M919 1519l-13-16 10-14 13 14z"/><path fill="#f50" d="M1512 1001l-14-26 10 0 14 25zm-10 1l-14-26 10-1 14 26z"/><path fill="#ff4000" d="M1492 1003l-14-25 10-2 14 26zm-10 1l-14-25 10-1 14 25zm-10 1l-14-25 10-1 14 25zm-10 1l-14-25 10-1 14 25zm-10 1l-14-25 10-1 14 25zm-10 2l-14-25 10-2 14 25zm-10 2l-14-26 10-1 14 25zm-10 2l-14-25 10-3 14 26zm-10 2l-14-25 10-2 14 25zm-10 3l-14-25 10-3 14 25zm-10 3l-14-25 10-3 14 25zm-10 3l-14-24 10-4 14 25zm-10 4l-14-24 10-4 14 24zm-10 3l-14-24 10-3 14 24zm-10 4l-14-23 10-5 14 24zm-10 4l-13-23 9-4 14 23zm-10 5l-13-24 10-4 13 23zm-10 4l-13-23 10-5 13 24zm-10 5l-13-23 10-5 13 23z"/><path fill="#f50" d="M1302 1057l-13-22 10-5 13 23zm-10 5l-13-22 10-5 13 22zm-10 5l-13-22 10-5 13 22zm-10 6l-13-22 10-6 13 22z"/><path fill="#ff6a00" d="M1262 1080l-13-22 10-7 13 22zm-10 7l-13-22 10-7 13 22z"/><path fill="#ff8000" d="M1242 1094l-13-21 10-8 13 22zm-10 8l-13-20 10-9 13 21z"/><path fill="#ff9500" d="M1223 1110l-14-20 10-8 13 20zm-10 9l-14-20 10-9 14 20z"/><path fill="#fa0" d="M1203 1128l-14-19 10-10 14 20zm-10 10l-14-18 10-11 14 19z"/><path fill="#ffbf00" d="M1183 1149l-14-18 10-11 14 18z"/><path fill="#ffd500" d="M1173 1160l-14-17 10-12 14 18zm-10 12l-14-17 10-12 14 17z"/><path fill="#ffea00" d="M1153 1184l-14-16 10-13 14 17z"/><path fill="#ff0" d="M1143 1197l-14-15 10-14 14 16z"/><path fill="#eaff15" d="M1133 1210l-14-14 10-14 14 15z"/><path fill="#d5ff2a" d="M1123 1224l-14-14 10-14 14 14z"/><path fill="#bfff40" d="M1113 1238l-14-13 10-15 14 14zm-10 15l-14-13 10-15 14 13z"/><path fill="#af5" d="M1093 1267l-14-11 10-16 14 13z"/><path fill="#95ff6a" d="M1083 1283l-14-11 10-16 14 11z"/><path fill="#80ff80" d="M1073 1299l-14-10 10-17 14 11z"/><path fill="#6aff95" d="M1063 1315l-14-9 10-17 14 10z"/><path fill="#5fa" d="M1053 1331l-14-8 10-17 14 9z"/><path fill="#40ffbf" d="M1043 1346l-14-7 10-16 14 8z"/><path fill="#2bffd4" d="M1033 1362l-14-6 10-17 14 7z"/><path fill="#15ffea" d="M1023 1378l-14-5 10-17 14 6z"/><path fill="#0ff" d="M1013 1394l-14-5 10-16 14 5z"/><path fill="#00eaff" d="M1003 1410l-14-4 10-17 14 5z"/><path fill="#00d4ff" d="M993 1426l-14-4 10-16 14 4z"/><path fill="#00bfff" d="M983 1441l-14-3 10-16 14 4z"/><path fill="#0af" d="M973 1457l-14-3 10-16 14 3z"/><path fill="#0095ff" d="M963 1473l-14-2 10-17 14 3z"/><path fill="#0080ff" d="M953 1489l-14-2 10-16 14 2z"/><path fill="#006aff" d="M943 1506l-14-3 10-16 14 2z"/><path fill="#05f" d="M933 1523l-14-4 10-16 14 3z"/><path fill="#ff4000" d="M1396 1039l-14-15 10-3 14 15zm-10 3l-14-14 10-4 14 15zm-10 3l-14-14 10-3 14 14z"/><path fill="#f50" d="M1366 1049l-14-14 10-4 14 14zm-10 3l-14-13 10-4 14 14zm-10 5l-14-13 10-5 14 13zm-10 4l-14-13 10-4 14 13zm-10 4l-14-12 10-5 14 13zm-10 5l-14-13 10-4 14 12zm-10 5l-14-13 10-5 14 13z"/><path fill="#ff6a00" d="M1296 1080l-14-13 10-5 14 13zm-10 5l-14-12 10-6 14 13zm-10 6l-14-11 10-7 14 12z"/><path fill="#ff8000" d="M1266 1098l-14-11 10-7 14 11zm-10 8l-14-12 10-7 14 11z"/><path fill="#ff9500" d="M1246 1113l-14-11 10-8 14 12zm-10 8l-13-11 9-8 14 11z"/><path fill="#fa0" d="M1226 1129l-13-10 10-9 13 11zm-10 9l-13-10 10-9 13 10z"/><path fill="#ffbf00" d="M1206 1148l-13-10 10-10 13 10zm-10 11l-13-10 10-11 13 10z"/><path fill="#ffd500" d="M1186 1170l-13-10 10-11 13 10z"/><path fill="#ffea00" d="M1176 1182l-13-10 10-12 13 10zm-10 11l-13-9 10-12 13 10z"/><path fill="#ff0" d="M1156 1206l-13-9 10-13 13 9z"/><path fill="#eaff15" d="M1146 1219l-13-9 10-13 13 9z"/><path fill="#d5ff2a" d="M1136 1232l-13-8 10-14 13 9z"/><path fill="#bfff40" d="M1127 1246l-14-8 10-14 13 8z"/><path fill="#af5" d="M1117 1260l-14-7 10-15 14 8zm-10 15l-14-8 10-14 14 7z"/><path fill="#95ff6a" d="M1097 1290l-14-7 10-16 14 8z"/><path fill="#80ff80" d="M1087 1305l-14-6 10-16 14 7z"/><path fill="#6aff95" d="M1077 1321l-14-6 10-16 14 6z"/><path fill="#5fa" d="M1067 1336l-14-5 10-16 14 6z"/><path fill="#40ffbf" d="M1057 1352l-14-6 10-15 14 5z"/><path fill="#2bffd4" d="M1047 1367l-14-5 10-16 14 6z"/><path fill="#15ffea" d="M1037 1383l-14-5 10-16 14 5z"/><path fill="#0ff" d="M1027 1398l-14-4 10-16 14 5z"/><path fill="#00eaff" d="M1017 1414l-14-4 10-16 14 4z"/><path fill="#00d4ff" d="M1007 1429l-14-3 10-16 14 4z"/><path fill="#00bfff" d="M997 1444l-14-3 10-15 14 3z"/><path fill="#0af" d="M987 1459l-14-2 10-16 14 3z"/><path fill="#0095ff" d="M977 1475l-14-2 10-16 14 2z"/><path fill="#0080ff" d="M967 1490l-14-1 10-16 14 2z"/><path fill="#006aff" d="M957 1506l-14 0 10-17 14 1z"/><path fill="#05f" d="M947 1522l-14 1 10-17 14 0z"/><path fill="#f50" d="M1350 1064l-14-3 10-4 14 3zm-10 4l-14-3 10-4 14 3zm-10 5l-14-3 10-5 14 3zm-10 4l-14-2 10-5 14 3zm-10 5l-14-2 10-5 14 2z"/><path fill="#ff6a00" d="M1300 1088l-14-3 10-5 14 2zm-10 6l-14-3 10-6 14 3zm-10 6l-14-2 10-7 14 3z"/><path fill="#ff8000" d="M1270 1108l-14-2 10-8 14 2zm-10 7l-14-2 10-7 14 2z"/><path fill="#ff9500" d="M1250 1123l-14-2 10-8 14 2zm-10 8l-14-2 10-8 14 2z"/><path fill="#fa0" d="M1230 1140l-14-2 10-9 14 2zm-10 10l-14-2 10-10 14 2z"/><path fill="#ffbf00" d="M1210 1160l-14-1 10-11 14 2z"/><path fill="#ffd500" d="M1200 1171l-14-1 10-11 14 1zm-10 12l-14-1 10-12 14 1z"/><path fill="#ffea00" d="M1180 1194l-14-1 10-11 14 1z"/><path fill="#ff0" d="M1170 1207l-14-1 10-13 14 1z"/><path fill="#eaff15" d="M1160 1220l-14-1 10-13 14 1zm-10 13l-14-1 10-13 14 1z"/><path fill="#d5ff2a" d="M1140 1247l-13-1 9-14 14 1z"/><path fill="#bfff40" d="M1130 1261l-13-1 10-14 13 1z"/><path fill="#af5" d="M1120 1275l-13 0 10-15 13 1z"/><path fill="#95ff6a" d="M1110 1290l-13 0 10-15 13 0z"/><path fill="#80ff80" d="M1100 1305l-13 0 10-15 13 0z"/><path fill="#6aff95" d="M1090 1321l-13 0 10-16 13 0z"/><path fill="#5fa" d="M1080 1336l-13 0 10-15 13 0z"/><path fill="#40ffbf" d="M1070 1351l-13 1 10-16 13 0z"/><path fill="#2bffd4" d="M1060 1367l-13 0 10-15 13-1zm-10 15l-13 1 10-16 13 0z"/><path fill="#15ffea" d="M1040 1397l-13 1 10-15 13-1z"/><path fill="#0ff" d="M1030 1413l-13 1 10-16 13-1z"/><path fill="#00eaff" d="M1021 1428l-14 1 10-15 13-1z"/><path fill="#00d4ff" d="M1011 1443l-14 1 10-15 14-1z"/><path fill="#00bfff" d="M1001 1458l-14 1 10-15 14-1z"/><path fill="#0af" d="M991 1472l-14 3 10-16 14-1z"/><path fill="#0095ff" d="M981 1487l-14 3 10-15 14-3z"/><path fill="#0080ff" d="M971 1502l-14 4 10-16 14-3z"/><path fill="#006aff" d="M961 1516l-14 6 10-16 14-4z"/><path fill="#ff8000" d="M1683 1010l-14 13 10-1 14-13zm-10 2l-14 12 10-1 14-13zm-10 1l-14 12 10-1 14-12zm-10 1l-14 12 10-1 14-12zm-10 1l-14 11 10 0 14-12z"/><path fill="#f50" d="M1334 1079l-14-2 10-4 14 2zm-10 5l-14-2 10-5 14 2zm-10 5l-14-1 10-6 14 2zm-10 6l-14-1 10-6 14 1z"/><path fill="#ff6a00" d="M1294 1102l-14-2 10-6 14 1zm-10 7l-14-1 10-8 14 2z"/><path fill="#ff8000" d="M1274 1116l-14-1 10-7 14 1zm-10 8l-14-1 10-8 14 1z"/><path fill="#ff9500" d="M1254 1132l-14-1 10-8 14 1zm-10 8l-14 0 10-9 14 1z"/><path fill="#fa0" d="M1234 1150l-14 0 10-10 14 0zm-10 10l-14 0 10-10 14 0z"/><path fill="#ffbf00" d="M1214 1171l-14 0 10-11 14 0z"/><path fill="#ffd500" d="M1204 1182l-14 1 10-12 14 0zm-10 12l-14 0 10-11 14-1z"/><path fill="#ffea00" d="M1184 1206l-14 1 10-13 14 0z"/><path fill="#ff0" d="M1174 1218l-14 2 10-13 14-1z"/><path fill="#eaff15" d="M1164 1231l-14 2 10-13 14-2z"/><path fill="#d5ff2a" d="M1154 1245l-14 2 10-14 14-2zm-10 13l-14 3 10-14 14-2z"/><path fill="#bfff40" d="M1134 1273l-14 2 10-14 14-3z"/><path fill="#af5" d="M1124 1287l-14 3 10-15 14-2z"/><path fill="#95ff6a" d="M1114 1302l-14 3 10-15 14-3z"/><path fill="#80ff80" d="M1104 1317l-14 4 10-16 14-3z"/><path fill="#6aff95" d="M1094 1333l-14 3 10-15 14-4z"/><path fill="#5fa" d="M1084 1347l-14 4 10-15 14-3z"/><path fill="#40ffbf" d="M1074 1363l-14 4 10-16 14-4z"/><path fill="#2bffd4" d="M1064 1378l-14 4 10-15 14-4z"/><path fill="#15ffea" d="M1054 1393l-14 4 10-15 14-4z"/><path fill="#0ff" d="M1044 1408l-14 5 10-16 14-4z"/><path fill="#00eaff" d="M1034 1423l-13 5 9-15 14-5zm-10 14l-13 6 10-15 13-5z"/><path fill="#00d4ff" d="M1014 1451l-13 7 10-15 13-6z"/><path fill="#00bfff" d="M1004 1465l-13 7 10-14 13-7z"/><path fill="#0af" d="M994 1479l-13 8 10-15 13-7z"/><path fill="#0095ff" d="M984 1492l-13 10 10-15 13-8z"/><path fill="#0080ff" d="M974 1505l-13 11 10-14 13-10z"/><path fill="#f50" d="M1288 1107l-14 9 10-7 14-9z"/><path fill="#ff6a00" d="M1278 1115l-14 9 10-8 14-9zm-10 7l-14 10 10-8 14-9z"/><path fill="#ff8000" d="M1258 1131l-14 9 10-8 14-10zm-10 10l-14 9 10-10 14-9z"/><path fill="#ff9500" d="M1238 1151l-14 9 10-10 14-9z"/><path fill="#fa0" d="M1228 1162l-14 9 10-11 14-9z"/><path fill="#ffbf00" d="M1218 1173l-14 9 10-11 14-9zm-10 11l-14 10 10-12 14-9z"/><path fill="#ffd500" d="M1198 1196l-14 10 10-12 14-10z"/><path fill="#ffea00" d="M1188 1209l-14 9 10-12 14-10z"/><path fill="#ff0" d="M1178 1222l-14 9 10-13 14-9zm-10 14l-14 9 10-14 14-9z"/><path fill="#eaff15" d="M1158 1249l-14 9 10-13 14-9z"/><path fill="#d5ff2a" d="M1148 1264l-14 9 10-15 14-9z"/><path fill="#bfff40" d="M1138 1278l-14 9 10-14 14-9z"/><path fill="#af5" d="M1128 1293l-14 9 10-15 14-9z"/><path fill="#95ff6a" d="M1118 1309l-14 8 10-15 14-9z"/><path fill="#80ff80" d="M1108 1324l-14 9 10-16 14-8z"/><path fill="#6aff95" d="M1098 1339l-14 8 10-14 14-9z"/><path fill="#5fa" d="M1088 1354l-14 9 10-16 14-8z"/><path fill="#40ffbf" d="M1078 1369l-14 9 10-15 14-9z"/><path fill="#2bffd4" d="M1068 1384l-14 9 10-15 14-9zm-10 16l-14 8 10-15 14-9z"/><path fill="#15ffea" d="M1048 1414l-14 9 10-15 14-8z"/><path fill="#0ff" d="M1038 1429l-14 8 10-14 14-9z"/><path fill="#00eaff" d="M1028 1443l-14 8 10-14 14-8z"/><path fill="#00d4ff" d="M1018 1457l-14 8 10-14 14-8z"/><path fill="#00bfff" d="M1008 1470l-14 9 10-14 14-8z"/><path fill="#0af" d="M998 1483l-14 9 10-13 14-9zm-10 12l-14 10 10-13 14-9z"/><path fill="#ff4000" d="M1311 1093l-13 7 10-8 13-6zm-10 8l-13 6 10-7 13-7zm-10 7l-13 7 10-8 13-6z"/><path fill="#f50" d="M1281 1116l-13 6 10-7 13-7z"/><path fill="#ff6a00" d="M1271 1125l-13 6 10-9 13-6zm-10 10l-13 6 10-10 13-6z"/><path fill="#ff8000" d="M1251 1145l-13 6 10-10 13-6z"/><path fill="#ff9500" d="M1241 1156l-13 6 10-11 13-6zm-10 11l-13 6 10-11 13-6z"/><path fill="#fa0" d="M1222 1178l-14 6 10-11 13-6z"/><path fill="#ffbf00" d="M1212 1191l-14 5 10-12 14-6z"/><path fill="#ffd500" d="M1202 1203l-14 6 10-13 14-5z"/><path fill="#ffea00" d="M1192 1217l-14 5 10-13 14-6z"/><path fill="#ff0" d="M1182 1230l-14 6 10-14 14-5zm-10 14l-14 5 10-13 14-6z"/><path fill="#eaff15" d="M1162 1258l-14 6 10-15 14-5z"/><path fill="#d5ff2a" d="M1152 1273l-14 5 10-14 14-6z"/><path fill="#bfff40" d="M1142 1288l-14 5 10-15 14-5z"/><path fill="#af5" d="M1132 1304l-14 5 10-16 14-5z"/><path fill="#95ff6a" d="M1122 1319l-14 5 10-15 14-5z"/><path fill="#80ff80" d="M1112 1335l-14 4 10-15 14-5z"/><path fill="#6aff95" d="M1102 1350l-14 4 10-15 14-4z"/><path fill="#5fa" d="M1092 1365l-14 4 10-15 14-4z"/><path fill="#40ffbf" d="M1082 1381l-14 3 10-15 14-4z"/><path fill="#2bffd4" d="M1072 1396l-14 4 10-16 14-3z"/><path fill="#15ffea" d="M1062 1411l-14 3 10-14 14-4z"/><path fill="#0ff" d="M1052 1425l-14 4 10-15 14-3zm-10 14l-14 4 10-14 14-4z"/><path fill="#00eaff" d="M1032 1453l-14 4 10-14 14-4z"/><path fill="#00d4ff" d="M1022 1466l-14 4 10-13 14-4z"/><path fill="#00bfff" d="M1012 1477l-14 6 10-13 14-4zm-10 11l-14 7 10-12 14-6z"/><path fill="#ff4000" d="M1305 1107l-14 1 10-7 14-1zm-10 8l-14 1 10-8 14-1z"/><path fill="#f50" d="M1285 1124l-14 1 10-9 14-1zm-10 9l-14 2 10-10 14-1z"/><path fill="#ff6a00" d="M1265 1144l-14 1 10-10 14-2z"/><path fill="#ff8000" d="M1255 1154l-14 2 10-11 14-1z"/><path fill="#ff9500" d="M1245 1165l-14 2 10-11 14-2z"/><path fill="#fa0" d="M1235 1177l-13 1 9-11 14-2zm-10 12l-13 2 10-13 13-1z"/><path fill="#ffbf00" d="M1215 1201l-13 2 10-12 13-2z"/><path fill="#ffd500" d="M1205 1214l-13 3 10-14 13-2z"/><path fill="#ffea00" d="M1195 1228l-13 2 10-13 13-3z"/><path fill="#ff0" d="M1185 1241l-13 3 10-14 13-2z"/><path fill="#eaff15" d="M1175 1255l-13 3 10-14 13-3z"/><path fill="#d5ff2a" d="M1165 1270l-13 3 10-15 13-3zm-10 15l-13 3 10-15 13-3z"/><path fill="#bfff40" d="M1145 1300l-13 4 10-16 13-3z"/><path fill="#af5" d="M1135 1316l-13 3 10-15 13-4z"/><path fill="#95ff6a" d="M1125 1331l-13 4 10-16 13-3z"/><path fill="#80ff80" d="M1116 1346l-14 4 10-15 13-4z"/><path fill="#6aff95" d="M1106 1361l-14 4 10-15 14-4z"/><path fill="#5fa" d="M1096 1377l-14 4 10-16 14-4z"/><path fill="#40ffbf" d="M1086 1392l-14 4 10-15 14-4z"/><path fill="#2bffd4" d="M1076 1407l-14 4 10-15 14-4z"/><path fill="#15ffea" d="M1066 1421l-14 4 10-14 14-4z"/><path fill="#0ff" d="M1056 1435l-14 4 10-14 14-4zm-10 14l-14 4 10-14 14-4z"/><path fill="#00eaff" d="M1036 1463l-14 3 10-13 14-4z"/><path fill="#00d4ff" d="M1026 1476l-14 1 10-11 14-3z"/><path fill="#00bfff" d="M1016 1488l-14 0 10-11 14-1z"/><path fill="#ff9500" d="M1269 1176l-14-22 10-10 14 23z"/><path fill="#fa0" d="M1259 1187l-14-22 10-11 14 22z"/><path fill="#ffbf00" d="M1249 1197l-14-20 10-12 14 22zm-10 11l-14-19 10-12 14 20z"/><path fill="#ffd500" d="M1229 1220l-14-19 10-12 14 19z"/><path fill="#ffea00" d="M1219 1232l-14-18 10-13 14 19z"/><path fill="#ff0" d="M1209 1244l-14-16 10-14 14 18zm-10 13l-14-16 10-13 14 16z"/><path fill="#eaff15" d="M1189 1270l-14-15 10-14 14 16z"/><path fill="#d5ff2a" d="M1179 1283l-14-13 10-15 14 15z"/><path fill="#bfff40" d="M1169 1297l-14-12 10-15 14 13z"/><path fill="#af5" d="M1159 1311l-14-11 10-15 14 12z"/><path fill="#95ff6a" d="M1149 1325l-14-9 10-16 14 11zm-10 14l-14-8 10-15 14 9z"/><path fill="#80ff80" d="M1129 1353l-13-7 9-15 14 8z"/><path fill="#6aff95" d="M1119 1367l-13-6 10-15 13 7z"/><path fill="#5fa" d="M1109 1381l-13-4 10-16 13 6z"/><path fill="#40ffbf" d="M1099 1395l-13-3 10-15 13 4z"/><path fill="#2bffd4" d="M1089 1409l-13-2 10-15 13 3zm-10 14l-13-2 10-14 13 2z"/><path fill="#15ffea" d="M1069 1436l-13-1 10-14 13 2z"/><path fill="#0ff" d="M1059 1449l-13 0 10-14 13 1z"/><path fill="#00eaff" d="M1049 1462l-13 1 10-14 13 0z"/><path fill="#00d4ff" d="M1039 1476l-13 0 10-13 13-1zm-10 13l-13-1 10-12 13 0z"/><path fill="#ff1500" d="M1752 975l-14 31 10-2 14-30zm-10 2l-14 30 10-1 14-31zm-10 1l-14 31 10-2 14-30z"/><path fill="#f00" d="M1722 980l-14 31 10-2 14-31zm-10 1l-14 32 10-2 14-31zm-10 2l-14 31 10-1 14-32zm-10 1l-14 32 10-2 14-31zm-10 2l-14 32 10-2 14-32zm-10 1l-14 33 10-2 14-32zm-10 1l-14 34 10-2 14-33zm-10 2l-14 34 10-2 14-34zm-10 1l-14 35 10-2 14-34zm-10 1l-14 35 10-1 14-35z"/><path fill="#ea0000" d="M1622 993l-14 36 10-2 14-35zm-10 2l-14 36 10-2 14-36zm-10 1l-14 37 10-2 14-36zm-10 2l-14 37 10-2 14-37zm-10 1l-14 39 10-3 14-37zm-10 2l-14 39 10-2 14-39zm-10 1l-14 40 10-2 14-39zm-10 2l-14 40 10-2 14-40zm-10 2l-14 40 10-2 14-40zm-10 2l-13 41 9-3 14-40zm-10 3l-13 41 10-3 13-41zm-10 2l-13 42 10-3 13-41zm-10 3l-13 42 10-3 13-42zm-10 3l-13 42 10-3 13-42zm-10 2l-13 43 10-3 13-42zm-10 4l-13 42 10-3 13-43zm-10 3l-13 43 10-4 13-42zm-10 3l-13 43 10-3 13-43zm-10 4l-13 42 10-3 13-43zm-10 3l-13 43 10-4 13-42z"/><path fill="#af5" d="M1143 1336l-14 17 10-14 14-19z"/><path fill="#95ff6a" d="M1133 1351l-14 16 10-14 14-17z"/><path fill="#80ff80" d="M1123 1367l-14 14 10-14 14-16z"/><path fill="#6aff95" d="M1113 1383l-14 12 10-14 14-14z"/><path fill="#5fa" d="M1103 1398l-14 11 10-14 14-12z"/><path fill="#40ffbf" d="M1093 1414l-14 9 10-14 14-11z"/><path fill="#2bffd4" d="M1083 1429l-14 7 10-13 14-9z"/><path fill="#15ffea" d="M1073 1444l-14 5 10-13 14-7z"/><path fill="#0ff" d="M1063 1459l-14 3 10-13 14-5z"/><path fill="#00eaff" d="M1053 1475l-14 1 10-14 14-3z"/><path fill="#00d4ff" d="M1043 1491l-14-2 10-13 14-1z"/><path fill="#ffbf00" d="M1207 1237l-14 21 10-15 14-22z"/><path fill="#ffea00" d="M1197 1254l-14 19 10-15 14-21z"/><path fill="#ff0" d="M1187 1271l-14 18 10-16 14-19z"/><path fill="#eaff15" d="M1177 1289l-14 15 10-15 14-18z"/><path fill="#d5ff2a" d="M1167 1306l-14 14 10-16 14-15z"/><path fill="#bfff40" d="M1157 1323l-14 13 10-16 14-14z"/><path fill="#af5" d="M1147 1341l-14 10 10-15 14-13z"/><path fill="#95ff6a" d="M1137 1358l-14 9 10-16 14-10z"/><path fill="#80ff80" d="M1127 1376l-14 7 10-16 14-9z"/><path fill="#6aff95" d="M1117 1393l-14 5 10-15 14-7z"/><path fill="#5fa" d="M1107 1410l-14 4 10-16 14-5z"/><path fill="#2bffd4" d="M1097 1427l-14 2 10-15 14-4z"/><path fill="#15ffea" d="M1087 1444l-14 0 10-15 14-2z"/><path fill="#0ff" d="M1077 1462l-14-3 10-15 14 0z"/><path fill="#00eaff" d="M1067 1479l-14-4 10-16 14 3z"/><path fill="#00d4ff" d="M1057 1498l-14-7 10-16 14 4z"/><path fill="#a00" d="M1400 1017l-14 9 10-6 14-9zm-10 7l-14 8 10-6 14-9zm-10 7l-14 9 10-8 14-8z"/><path fill="#bf0000" d="M1370 1039l-14 9 10-8 14-9zm-10 8l-14 9 10-8 14-9zm-10 9l-14 8 10-8 14-9z"/><path fill="#d50000" d="M1340 1065l-14 8 10-9 14-8zm-10 11l-13 8 9-11 14-8z"/><path fill="#ea0000" d="M1320 1087l-13 8 10-11 13-8zm-10 12l-13 8 10-12 13-8z"/><path fill="#f00" d="M1300 1111l-13 8 10-12 13-8z"/><path fill="#ff1500" d="M1290 1124l-13 8 10-13 13-8z"/><path fill="#ff2a00" d="M1280 1137l-13 8 10-13 13-8z"/><path fill="#ff4000" d="M1270 1152l-13 8 10-15 13-8zm-10 14l-13 8 10-14 13-8z"/><path fill="#ff6a00" d="M1250 1182l-13 7 10-15 13-8z"/><path fill="#ff8000" d="M1240 1197l-13 8 10-16 13-7z"/><path fill="#ff9500" d="M1230 1213l-13 8 10-16 13-8z"/><path fill="#fa0" d="M1220 1230l-13 7 10-16 13-8z"/><path fill="#ffbf00" d="M1211 1247l-14 7 10-17 13-7z"/><path fill="#ffea00" d="M1201 1264l-14 7 10-17 14-7z"/><path fill="#ff0" d="M1191 1282l-14 7 10-18 14-7z"/><path fill="#eaff15" d="M1181 1299l-14 7 10-17 14-7z"/><path fill="#d5ff2a" d="M1171 1317l-14 6 10-17 14-7z"/><path fill="#bfff40" d="M1161 1335l-14 6 10-18 14-6z"/><path fill="#af5" d="M1151 1353l-14 5 10-17 14-6z"/><path fill="#95ff6a" d="M1141 1370l-14 6 10-18 14-5z"/><path fill="#6aff95" d="M1131 1388l-14 5 10-17 14-6z"/><path fill="#5fa" d="M1121 1405l-14 5 10-17 14-5z"/><path fill="#40ffbf" d="M1111 1422l-14 5 10-17 14-5z"/><path fill="#2bffd4" d="M1101 1439l-14 5 10-17 14-5z"/><path fill="#15ffea" d="M1091 1457l-14 5 10-18 14-5z"/><path fill="#0ff" d="M1081 1475l-14 4 10-17 14-5z"/><path fill="#00eaff" d="M1071 1493l-14 5 10-19 14-4z"/><path fill="#ea0000" d="M1793 976l-14-39 10-2 14 40zm-10 2l-14-40 10-1 14 39zm-10 1l-14-40 10-1 14 40zm-10 1l-14-40 10-1 14 40zm-10 2l-14-40 10-2 14 40zm-10 1l-14-40 10-1 14 40zm-10 1l-13-40 9-1 14 40zm-10 1l-13-40 10-1 13 40zm-10 1l-13-40 10-1 13 40z"/><path fill="#d50000" d="M1703 987l-13-40 10-1 13 40zm-10 0l-13-39 10-1 13 40zm-10 1l-13-39 10-1 13 39zm-10 1l-13-39 10-1 13 39zm-10 0l-13-38 10-1 13 39zm-10 1l-13-38 10-1 13 38zm-10 1l-13-38 10-1 13 38z"/><path fill="#bf0000" d="M1633 992l-13-38 10-1 13 38zm-10 1l-13-38 10-1 13 38zm-9 0l-14-37 10-1 13 38zm-10 1l-14-37 10-1 14 37zm-10 2l-14-37 10-2 14 37zm-10 1l-14-37 10-1 14 37zm-10 2l-14-37 10-2 14 37zm-10 2l-14-37 10-2 14 37zm-10 1l-14-35 10-3 14 37zm-10 3l-14-36 10-2 14 35zm-10 2l-14-36 10-2 14 36zm-10 2l-14-35 10-3 14 36zm-10 3l-14-35 10-3 14 35zm-10 3l-14-35 10-3 14 35zm-10 3l-14-35 10-3 14 35zm-10 3l-14-34 10-4 14 35zm-10 4l-14-35 10-3 14 34zm-10 3l-14-34 10-4 14 35zm-10 4l-14-34 10-4 14 34zm-10 4l-14-34 10-4 14 34zm-10 4l-14-34 10-4 14 34zm-10 4l-14-33 10-5 14 34zm-10 6l-14-33 10-6 14 33z"/><path fill="#d50000" d="M1404 1056l-14-32 10-7 14 33zm-10 7l-14-32 10-7 14 32zm-10 7l-14-31 10-8 14 32z"/><path fill="#ea0000" d="M1374 1078l-14-31 10-8 14 31zm-10 8l-14-30 10-9 14 31zm-10 8l-14-29 10-9 14 30z"/><path fill="#f00" d="M1344 1104l-14-28 10-11 14 29zm-10 11l-14-28 10-11 14 28z"/><path fill="#ff1500" d="M1324 1126l-14-27 10-12 14 28z"/><path fill="#ff2a00" d="M1314 1137l-14-26 10-12 14 27zm-10 12l-14-25 10-13 14 26z"/><path fill="#ff4000" d="M1294 1161l-14-24 10-13 14 25z"/><path fill="#f50" d="M1284 1174l-14-22 10-15 14 24z"/><path fill="#ff6a00" d="M1274 1188l-14-22 10-14 14 22z"/><path fill="#ff8000" d="M1264 1202l-14-20 10-16 14 22z"/><path fill="#ff9500" d="M1254 1216l-14-19 10-15 14 20z"/><path fill="#fa0" d="M1244 1231l-14-18 10-16 14 19z"/><path fill="#ffbf00" d="M1234 1246l-14-16 10-17 14 18z"/><path fill="#ffd500" d="M1224 1262l-13-15 9-17 14 16z"/><path fill="#ffea00" d="M1214 1278l-13-14 10-17 13 15z"/><path fill="#ff0" d="M1204 1294l-13-12 10-18 13 14z"/><path fill="#eaff15" d="M1194 1310l-13-11 10-17 13 12z"/><path fill="#d5ff2a" d="M1184 1326l-13-9 10-18 13 11z"/><path fill="#bfff40" d="M1174 1342l-13-7 10-18 13 9z"/><path fill="#af5" d="M1164 1359l-13-6 10-18 13 7z"/><path fill="#95ff6a" d="M1154 1375l-13-5 10-17 13 6z"/><path fill="#80ff80" d="M1144 1391l-13-3 10-18 13 5z"/><path fill="#6aff95" d="M1134 1406l-13-1 10-17 13 3z"/><path fill="#5fa" d="M1124 1422l-13 0 10-17 13 1z"/><path fill="#40ffbf" d="M1115 1437l-14 2 10-17 13 0z"/><path fill="#2bffd4" d="M1105 1452l-14 5 10-18 14-2z"/><path fill="#15ffea" d="M1095 1466l-14 9 10-18 14-5z"/><path fill="#0ff" d="M1085 1481l-14 12 10-18 14-9z"/><path fill="#ea0000" d="M1807 982l-14-6 10-1 14 6zm-10 2l-14-6 10-2 14 6zm-10 1l-14-6 10-1 14 6zm-10 1l-14-6 10-1 14 6zm-10 1l-14-5 10-2 14 6zm-10 1l-14-5 10-1 14 5zm-10 1l-14-5 10-1 14 5zm-10 1l-14-5 10-1 14 5zm-10 1l-14-5 10-1 14 5z"/><path fill="#d50000" d="M1717 992l-14-5 10-1 14 5zm-20 1l-14-5 10-1 14 5zm-20 1l-14-5 10 0 14 4z"/><path fill="#bf0000" d="M1627 997l-13-4 9 0 14 4zm-10 1l-13-4 10-1 13 4zm-10 1l-13-3 10-2 13 4zm-10 1l-13-3 10-1 13 3zm-10 2l-13-3 10-2 13 3zm-10 2l-13-3 10-2 13 3z"/><path fill="#a00" d="M1567 1005l-13-3 10-1 13 3zm-10 2l-13-2 10-3 13 3zm-10 2l-13-2 10-2 13 2zm-10 3l-13-3 10-2 13 2zm-10 2l-13-2 10-3 13 3zm-10 3l-13-2 10-3 13 2zm-9 3l-14-2 10-3 13 2zm-10 3l-14-2 10-3 14 2zm-10 3l-14-1 10-4 14 2z"/><path fill="#bf0000" d="M1478 1030l-14-2 10-3 14 1zm-10 3l-14-1 10-4 14 2zm-10 4l-14-1 10-4 14 1zm-10 4l-14-1 10-4 14 1zm-10 5l-14-2 10-4 14 1zm-10 5l-14-1 10-6 14 2zm-10 6l-14-1 10-6 14 1z"/><path fill="#d50000" d="M1408 1064l-14-1 10-7 14 1zm-10 7l-14-1 10-7 14 1zm-10 7l-14 0 10-8 14 1zm-10 8l-14 0 10-8 14 0z"/><path fill="#ea0000" d="M1368 1095l-14-1 10-8 14 0zm-10 9l-14 0 10-10 14 1z"/><path fill="#f00" d="M1348 1114l-14 1 10-11 14 0zm-10 11l-14 1 10-11 14-1z"/><path fill="#ff1500" d="M1328 1136l-14 1 10-11 14-1z"/><path fill="#ff2a00" d="M1318 1148l-14 1 10-12 14-1zm-10 12l-14 1 10-12 14-1z"/><path fill="#ff4000" d="M1298 1173l-14 1 10-13 14-1z"/><path fill="#f50" d="M1288 1186l-14 2 10-14 14-1z"/><path fill="#ff6a00" d="M1278 1200l-14 2 10-14 14-2z"/><path fill="#ff8000" d="M1268 1214l-14 2 10-14 14-2z"/><path fill="#ff9500" d="M1258 1228l-14 3 10-15 14-2z"/><path fill="#fa0" d="M1248 1243l-14 3 10-15 14-3z"/><path fill="#ffbf00" d="M1238 1259l-14 3 10-16 14-3z"/><path fill="#ffd500" d="M1228 1274l-14 4 10-16 14-3z"/><path fill="#ff0" d="M1218 1290l-14 4 10-16 14-4z"/><path fill="#eaff15" d="M1208 1306l-14 4 10-16 14-4z"/><path fill="#d5ff2a" d="M1198 1322l-14 4 10-16 14-4z"/><path fill="#bfff40" d="M1188 1338l-14 4 10-16 14-4z"/><path fill="#af5" d="M1178 1354l-14 5 10-17 14-4zm-10 16l-14 5 10-16 14-5z"/><path fill="#95ff6a" d="M1158 1385l-14 6 10-16 14-5z"/><path fill="#80ff80" d="M1148 1400l-14 6 10-15 14-6z"/><path fill="#6aff95" d="M1138 1415l-14 7 10-16 14-6z"/><path fill="#5fa" d="M1128 1429l-13 8 9-15 14-7z"/><path fill="#40ffbf" d="M1118 1443l-13 9 10-15 13-8z"/><path fill="#2bffd4" d="M1108 1456l-13 10 10-14 13-9zm-10 11l-13 14 10-15 13-10z"/><path fill="#a00" d="M1641 992l-14 5 10 0 14-6zm-20 2l-14 5 10-1 14-5zm-10 1l-14 5 10-1 14-5zm-10 2l-14 5 10-2 14-5zm-10 1l-14 6 10-2 14-5zm-10 2l-14 5 10-1 14-6zm-10 2l-14 5 10-2 14-5zm-10 2l-14 5 10-2 14-5zm-10 2l-14 6 10-3 14-5zm-10 3l-14 5 10-2 14-6zm-10 3l-14 5 10-3 14-5zm-20 6l-13 5 10-3 13-6zm-10 3l-13 5 10-3 13-5zm-10 3l-13 6 10-4 13-5zm-10 4l-13 5 10-3 13-6zm-50 23l-13 6 10-6 13-6z"/><path fill="#bf0000" d="M1421 1057l-13 7 10-7 13-6zm-9 7l-14 7 10-7 13-7zm-10 8l-14 6 10-7 14-7z"/><path fill="#d50000" d="M1392 1079l-14 7 10-8 14-6zm-10 8l-14 8 10-9 14-7zm-10 10l-14 7 10-9 14-8z"/><path fill="#ea0000" d="M1362 1107l-14 7 10-10 14-7zm-10 10l-14 8 10-11 14-7z"/><path fill="#f00" d="M1342 1128l-14 8 10-11 14-8z"/><path fill="#ff1500" d="M1332 1140l-14 8 10-12 14-8zm-10 11l-14 9 10-12 14-8z"/><path fill="#ff2a00" d="M1312 1164l-14 9 10-13 14-9z"/><path fill="#ff4000" d="M1302 1177l-14 9 10-13 14-9z"/><path fill="#f50" d="M1292 1191l-14 9 10-14 14-9z"/><path fill="#ff6a00" d="M1282 1204l-14 10 10-14 14-9z"/><path fill="#ff8000" d="M1272 1218l-14 10 10-14 14-10z"/><path fill="#ff9500" d="M1262 1233l-14 10 10-15 14-10z"/><path fill="#fa0" d="M1252 1248l-14 11 10-16 14-10z"/><path fill="#ffbf00" d="M1242 1264l-14 10 10-15 14-11z"/><path fill="#ffd500" d="M1232 1279l-14 11 10-16 14-10z"/><path fill="#ffea00" d="M1222 1295l-14 11 10-16 14-11z"/><path fill="#ff0" d="M1212 1310l-14 12 10-16 14-11z"/><path fill="#eaff15" d="M1202 1326l-14 12 10-16 14-12z"/><path fill="#d5ff2a" d="M1192 1342l-14 12 10-16 14-12z"/><path fill="#bfff40" d="M1182 1358l-14 12 10-16 14-12z"/><path fill="#af5" d="M1172 1373l-14 12 10-15 14-12z"/><path fill="#95ff6a" d="M1162 1388l-14 12 10-15 14-12z"/><path fill="#80ff80" d="M1152 1402l-14 13 10-15 14-12z"/><path fill="#6aff95" d="M1142 1416l-14 13 10-14 14-13zm-10 14l-14 13 10-14 14-13z"/><path fill="#5fa" d="M1122 1443l-14 13 10-13 14-13z"/><path fill="#40ffbf" d="M1112 1456l-14 11 10-11 14-13z"/><path fill="#ea0000" d="M1834 993l-13-18 10-1 13 18zm-10 2l-13-18 10-2 13 18zm-9 1l-14-18 10-1 13 18zm-10 2l-14-19 10-1 14 18zm-10 1l-14-19 10-1 14 19zm-10 1l-14-18 10-2 14 19zm-10 1l-14-18 10-1 14 18zm-10 1l-14-18 10-1 14 18z"/><path fill="#d50000" d="M1755 1003l-14-18 10-1 14 18zm-10 1l-14-18 10-1 14 18zm-10 0l-14-18 10 0 14 18zm-10 1l-14-18 10-1 14 18zm-10 1l-14-19 10 0 14 18zm-10 0l-14-18 10-1 14 19zm-10 1l-14-18 10-1 14 18z"/><path fill="#bf0000" d="M1685 1008l-14-18 10-1 14 18zm-10 0l-14-18 10 0 14 18zm-10 1l-14-18 10-1 14 18zm-10 1l-14-18 10-1 14 18zm-10 0l-14-17 10-1 14 18zm-10 1l-14-17 10-1 14 17zm-10 2l-14-18 10-1 14 17zm-10 1l-14-17 10-2 14 18zm-10 2l-14-18 10-1 14 17z"/><path fill="#a00" d="M1595 1017l-14-17 10-2 14 18zm-10 2l-14-17 10-2 14 17zm-10 2l-14-17 10-2 14 17zm-10 2l-14-17 10-2 14 17zm-10 2l-14-16 10-3 14 17zm-10 3l-14-16 10-3 14 16zm-10 3l-14-17 10-2 14 16zm-10 3l-14-16 10-4 14 17zm-10 3l-14-16 10-3 14 16zm-10 3l-14-16 10-3 14 16zm-10 3l-14-15 10-4 14 16zm-10 4l-14-16 10-3 14 15zm-10 3l-14-15 10-4 14 16z"/><path fill="#bf0000" d="M1465 1055l-14-16 10-4 14 15zm-10 5l-14-15 10-6 14 16zm-10 5l-14-14 10-6 14 15zm-10 7l-14-15 10-6 14 14zm-10 6l-13-14 9-7 14 15z"/><path fill="#d50000" d="M1415 1085l-13-13 10-8 13 14zm-10 7l-13-13 10-7 13 13zm-10 8l-13-13 10-8 13 13z"/><path fill="#ea0000" d="M1385 1109l-13-12 10-10 13 13zm-10 9l-13-11 10-10 13 12z"/><path fill="#f00" d="M1365 1128l-13-11 10-10 13 11zm-10 10l-13-10 10-11 13 11z"/><path fill="#ff1500" d="M1345 1149l-13-9 10-12 13 10zm-10 11l-13-9 10-11 13 9z"/><path fill="#ff2a00" d="M1325 1172l-13-8 10-13 13 9z"/><path fill="#ff4000" d="M1315 1184l-13-7 10-13 13 8z"/><path fill="#f50" d="M1306 1196l-14-5 10-14 13 7z"/><path fill="#ff6a00" d="M1296 1209l-14-5 10-13 14 5z"/><path fill="#ff8000" d="M1286 1222l-14-4 10-14 14 5z"/><path fill="#ff9500" d="M1276 1236l-14-3 10-15 14 4z"/><path fill="#fa0" d="M1266 1250l-14-2 10-15 14 3z"/><path fill="#ffbf00" d="M1256 1265l-14-1 10-16 14 2z"/><path fill="#ffd500" d="M1246 1279l-14 0 10-15 14 1z"/><path fill="#ffea00" d="M1236 1293l-14 2 10-16 14 0zm-10 15l-14 2 10-15 14-2z"/><path fill="#ff0" d="M1216 1323l-14 3 10-16 14-2z"/><path fill="#eaff15" d="M1206 1337l-14 5 10-16 14-3z"/><path fill="#d5ff2a" d="M1196 1352l-14 6 10-16 14-5z"/><path fill="#bfff40" d="M1186 1366l-14 7 10-15 14-6z"/><path fill="#af5" d="M1176 1380l-14 8 10-15 14-7z"/><path fill="#95ff6a" d="M1166 1394l-14 8 10-14 14-8z"/><path fill="#80ff80" d="M1156 1407l-14 9 10-14 14-8zm-10 14l-14 9 10-14 14-9z"/><path fill="#6aff95" d="M1136 1433l-14 10 10-13 14-9z"/><path fill="#5fa" d="M1126 1446l-14 10 10-13 14-10z"/></g><path class="a" d="M229.0 370.0L76.0 300.0"/><path class="a" d="M229.0 370.0L427.0 316.0"/><path class="a" d="M76.0 300.0L76.0 148.5"/><path class="a" d="M76.0 300.0L71.0 300.0"/><path class="a" d="M76.0 269.7L71.0 269.7"/><path class="a" d="M76.0 239.4L71.0 239.4"/><path class="a" d="M76.0 209.1L71.0 209.1"/><path class="a" d="M76.0 178.8L71.0 178.8"/><path class="a" d="M76.0 148.5L71.0 148.5"/><path class="a" d="M229.0 370.0L224.2 371.3"/><path class="a" d="M190.8 352.5L185.9 353.8"/><path class="a" d="M152.5 335.0L147.7 336.3"/><path class="a" d="M114.2 317.5L109.4 318.8"/><path class="a" d="M76.0 300.0L71.2 301.3"/><path class="a" d="M229.0 370.0L233.5 372.1"/><path class="a" d="M285.6 354.6L290.1 356.7"/><path class="a" d="M342.2 339.2L346.7 341.2"/><path class="a" d="M398.7 323.7L403.3 325.8"/><text x="111.0" y="86.3" font-size="10.80" text-anchor="start" textLength="276.5" lengthAdjust="spacingAndGlyphs">Tasa spot - Ajuste Polinomial (Bolsa de Colombia con O/N)</text><text x="58.3" y="151.4" font-size="10.80" text-anchor="start" textLength="10.2" lengthAdjust="spacingAndGlyphs">18</text><text x="58.3" y="181.4" font-size="10.80" text-anchor="start" textLength="10.2" lengthAdjust="spacingAndGlyphs">16</text><text x="58.3" y="211.4" font-size="10.80" text-anchor="start" textLength="10.2" lengthAdjust="spacingAndGlyphs">14</text><text x="58.3" y="241.4" font-size="10.80" text-anchor="start" textLength="10.2" lengthAdjust="spacingAndGlyphs">12</text><text x="58.3" y="271.9" font-size="10.80" text-anchor="start" textLength="10.2" lengthAdjust="spacingAndGlyphs">10</text><text x="63.4" y="301.9" font-size="10.80" text-anchor="start" textLength="5.1" lengthAdjust="spacingAndGlyphs">8</text><text x="57.9" y="311.9" font-size="10.80" text-anchor="start" textLength="10.2" lengthAdjust="spacingAndGlyphs">40</text><text x="94.9" y="329.9" font-size="10.80" text-anchor="start" textLength="10.2" lengthAdjust="spacingAndGlyphs">30</text><text x="132.9" y="346.9" font-size="10.80" text-anchor="start" textLength="10.2" lengthAdjust="spacingAndGlyphs">20</text><text x="170.9" y="364.9" font-size="10.80" text-anchor="start" textLength="10.2" lengthAdjust="spacingAndGlyphs">10</text><text x="213.4" y="381.9" font-size="10.80" text-anchor="start" textLength="5.1" lengthAdjust="spacingAndGlyphs">0</text><text x="235.4" y="382.9" font-size="10.80" text-anchor="start" textLength="5.1" lengthAdjust="spacingAndGlyphs">0</text><text x="291.9" y="366.9" font-size="10.80" text-anchor="start" textLength="5.1" lengthAdjust="spacingAndGlyphs">2</text><text x="348.4" y="352.9" font-size="10.80" text-anchor="start" textLength="5.1" lengthAdjust="spacingAndGlyphs">4</text><text x="404.9" y="336.9" font-size="10.80" text-anchor="start" textLength="5.1" lengthAdjust="spacingAndGlyphs">6</text><text x="22.5" y="385.0" font-size="8.70" text-anchor="start" textLength="125.0" lengthAdjust="spacingAndGlyphs">Semana de transacción de 2001</text><text x="316.0" y="388.5" font-size="8.70" text-anchor="start" textLength="89.5" lengthAdjust="spacingAndGlyphs">Vencimiento (en años)</text></g><g><path class="g" d="M965.0 327.5L807.0 252.5"/><path class="g" d="M965.0 295.8L807.0 220.8"/><path class="g" d="M965.0 264.1L807.0 189.1"/><path class="g" d="M965.0 232.4L807.0 157.4"/><path class="g" d="M965.0 200.7L807.0 125.7"/><path class="g" d="M965.0 169.0L807.0 94.0"/><path class="g" d="M965.0 327.5L965.0 169.0"/><path class="g" d="M919.9 306.1L919.9 147.6"/><path class="g" d="M874.7 284.7L874.7 126.2"/><path class="g" d="M829.6 263.2L829.6 104.7"/><path class="g" d="M807.0 252.5L598.0 309.0"/><path class="g" d="M807.0 220.8L598.0 277.3"/><path class="g" d="M807.0 189.1L598.0 245.6"/><path class="g" d="M807.0 157.4L598.0 213.9"/><path class="g" d="M807.0 125.7L598.0 182.2"/><path class="g" d="M807.0 94.0L598.0 150.5"/><path class="g" d="M807.0 252.5L807.0 94.0"/><path class="g" d="M754.8 266.7L754.8 108.2"/><path class="g" d="M702.5 280.8L702.5 122.3"/><path class="g" d="M650.3 294.9L650.3 136.4"/><path class="g" d="M598.0 309.0L598.0 150.5"/><path class="g" d="M965.0 327.5L807.0 252.5"/><path class="g" d="M912.8 341.6L754.8 266.7"/><path class="g" d="M860.5 355.8L702.5 280.8"/><path class="g" d="M808.2 369.9L650.3 294.9"/><path class="g" d="M756.0 384.0L598.0 309.0"/><path class="g" d="M965.0 327.5L756.0 384.0"/><path class="g" d="M919.9 306.1L710.9 362.6"/><path class="g" d="M874.7 284.7L665.7 341.2"/><path class="g" d="M829.6 263.2L620.6 319.7"/><g transform="scale(0.2)" stroke="#000" stroke-width="2.75" stroke-linejoin="round"><path fill="#ea0000" d="M4242 694l-19-8-8-2 19 7zm15 5l-18-8-8-2 18 7zm24 6l-18-8-8-2 18 8z"/><path fill="#bf0000" d="M4377 725l-19-7-8-2 19 7zm8 2l-19-7-8-2 19 7zm8 2l-19-7-8-2 19 7zm8 2l-19-7-8-2 19 7zm8 2l-19-6-8-3 19 7zm8 3l-19-6-8-3 19 6z"/><path fill="#a00" d="M4425 739l-19-7-8-2 19 6zm8 2l-19-6-8-3 19 7zm8 3l-19-6-8-3 19 6zm8 3l-19-5-8-4 19 6zm8 4l-19-6-8-3 19 5zm7 3l-18-5-8-4 19 6zm8 4l-18-5-8-4 18 5zm8 4l-18-5-8-4 18 5zm8 5l-18-5-8-5 18 5zm8 4l-18-5-8-4 18 5zm8 4l-19-4-7-5 18 5zm8 5l-19-5-8-4 19 4zm8 4l-19-4-8-5 19 5z"/><path fill="#bf0000" d="M4528 790l-19-4-8-6 19 4zm8 6l-19-4-8-6 19 4zm8 7l-19-4-8-7 19 4zm8 7l-19-3-8-8 19 4zm8 8l-19-3-8-8 19 3z"/><path fill="#d50000" d="M4568 826l-19-2-8-9 19 3zm8 8l-19-1-8-9 19 2zm8 10l-19-2-8-9 19 1z"/><path fill="#ea0000" d="M4592 854l-19-1-8-11 19 2zm8 11l-19-1-8-11 19 1z"/><path fill="#f00" d="M4608 876l-19 1-8-13 19 1zm8 12l-19 1-8-12 19-1z"/><path fill="#ff1500" d="M4624 899l-19 3-8-13 19-1zm8 13l-19 3-8-13 19-3z"/><path fill="#ff2a00" d="M4640 925l-19 4-8-14 19-3z"/><path fill="#ff4000" d="M4648 939l-19 5-8-15 19-4z"/><path fill="#f50" d="M4656 953l-19 6-8-15 19-5z"/><path fill="#ff6a00" d="M4664 967l-19 7-8-15 19-6z"/><path fill="#ff8000" d="M4671 982l-18 8-8-16 19-7z"/><path fill="#ff9500" d="M4679 997l-18 9-8-16 18-8z"/><path fill="#fa0" d="M4687 1013l-18 10-8-17 18-9z"/><path fill="#ffbf00" d="M4695 1029l-18 11-8-17 18-10z"/><path fill="#ffd500" d="M4703 1045l-18 12-8-17 18-11z"/><path fill="#ffea00" d="M4711 1061l-19 13-7-17 18-12zm8 16l-19 14-8-17 19-13z"/><path fill="#ff0" d="M4727 1094l-19 15-8-18 19-14z"/><path fill="#eaff15" d="M4735 1110l-19 16-8-17 19-15z"/><path fill="#d5ff2a" d="M4743 1126l-19 18-8-18 19-16z"/><path fill="#bfff40" d="M4751 1142l-19 19-8-17 19-18z"/><path fill="#af5" d="M4759 1158l-19 19-8-16 19-19z"/><path fill="#95ff6a" d="M4767 1173l-19 20-8-16 19-19z"/><path fill="#80ff80" d="M4775 1188l-19 21-8-16 19-20zm8 15l-19 21-8-15 19-21z"/><path fill="#6aff95" d="M4791 1217l-19 22-8-15 19-21z"/><path fill="#5fa" d="M4799 1231l-19 22-8-14 19-22z"/><path fill="#d50000" d="M4215 684l-19 19-8-3 19-19zm8 2l-19 19-8-2 19-19zm8 3l-19 19-8-3 19-19zm8 2l-19 19-8-2 19-19zm8 2l-19 19-8-2 19-19zm8 2l-19 19-8-2 19-19zm8 2l-19 19-8-2 19-19zm7 2l-18 19-8-2 19-19zm8 2l-18 19-8-2 18-19zm8 2l-18 18-8-1 18-19z"/><path fill="#bf0000" d="M4294 705l-18 18-8-2 18-18zm8 1l-18 18-8-1 18-18zm8 2l-19 18-7-2 18-18zm8 2l-19 17-8-1 19-18zm8 1l-19 18-8-2 19-17zm8 2l-19 18-8-2 19-18zm8 2l-19 17-8-1 19-18z"/><path fill="#a00" d="M4350 716l-19 18-8-2 19-17zm8 2l-19 17-8-1 19-18zm8 2l-19 17-8-2 19-17zm8 2l-19 17-8-2 19-17zm8 2l-19 18-8-3 19-17zm8 3l-19 17-8-2 19-18zm8 3l-19 17-8-3 19-17zm8 2l-19 18-8-3 19-17zm8 3l-19 17-8-2 19-18zm8 3l-19 18-8-4 19-17zm8 4l-19 17-8-3 19-18zm8 3l-19 17-8-3 19-17zm8 4l-19 17-8-4 19-17zm8 4l-19 17-8-4 19-17zm8 4l-19 18-8-5 19-17zm8 5l-19 17-8-4 19-18zm8 4l-19 18-8-5 19-17zm7 5l-18 17-8-4 19-18zm8 4l-18 18-8-5 18-17zm8 5l-18 18-8-5 18-18zm8 6l-18 18-8-6 18-18zm8 6l-18 18-8-6 18-18zm8 7l-19 19-7-8 18-18z"/><path fill="#bf0000" d="M4533 807l-19 19-8-8 19-19zm8 8l-19 19-8-8 19-19zm8 9l-19 19-8-9 19-19z"/><path fill="#d50000" d="M4557 833l-19 19-8-9 19-19zm8 9l-19 19-8-9 19-19zm8 11l-19 19-8-11 19-19z"/><path fill="#ea0000" d="M4581 864l-19 20-8-12 19-19zm8 13l-19 19-8-12 19-20z"/><path fill="#f00" d="M4597 889l-19 20-8-13 19-19z"/><path fill="#ff1500" d="M4605 902l-19 20-8-13 19-20zm8 13l-19 21-8-14 19-20z"/><path fill="#ff2a00" d="M4621 929l-19 21-8-14 19-21z"/><path fill="#ff4000" d="M4629 944l-19 21-8-15 19-21z"/><path fill="#f50" d="M4637 959l-19 21-8-15 19-21z"/><path fill="#ff6a00" d="M4645 974l-19 22-8-16 19-21z"/><path fill="#ff8000" d="M4653 990l-19 22-8-16 19-22z"/><path fill="#ff9500" d="M4661 1006l-19 22-8-16 19-22z"/><path fill="#fa0" d="M4669 1023l-19 22-8-17 19-22z"/><path fill="#ffbf00" d="M4677 1040l-19 23-8-18 19-22z"/><path fill="#ffd500" d="M4685 1057l-19 23-8-17 19-23z"/><path fill="#ffea00" d="M4692 1074l-18 24-8-18 19-23z"/><path fill="#ff0" d="M4700 1091l-18 24-8-17 18-24z"/><path fill="#eaff15" d="M4708 1109l-18 24-8-18 18-24z"/><path fill="#d5ff2a" d="M4716 1126l-18 24-8-17 18-24z"/><path fill="#bfff40" d="M4724 1144l-18 24-8-18 18-24z"/><path fill="#af5" d="M4732 1161l-19 24-7-17 18-24z"/><path fill="#95ff6a" d="M4740 1177l-19 25-8-17 19-24z"/><path fill="#80ff80" d="M4748 1193l-19 25-8-16 19-25z"/><path fill="#6aff95" d="M4756 1209l-19 25-8-16 19-25zm8 15l-19 25-8-15 19-25z"/><path fill="#5fa" d="M4772 1239l-19 24-8-14 19-25z"/><path fill="#40ffbf" d="M4780 1253l-19 24-8-14 19-24z"/><path fill="#a00" d="M4395 752l-19 9-8-3 19-8zm8 4l-19 9-8-4 19-9zm8 3l-19 9-8-3 19-9zm8 3l-19 10-8-4 19-9zm8 4l-19 10-8-4 19-10zm8 4l-19 10-8-4 19-10zm8 5l-19 9-8-4 19-10zm8 4l-19 10-8-5 19-9z"/><path fill="#bf0000" d="M4459 784l-19 10-8-5 19-10zm8 4l-19 10-8-4 19-10zm8 5l-19 10-8-5 19-10zm8 5l-19 10-8-5 19-10zm8 6l-19 10-8-6 19-10zm8 6l-19 11-8-7 19-10zm7 8l-18 11-8-8 19-11z"/><path fill="#d50000" d="M4514 826l-18 11-8-8 18-11zm8 8l-18 11-8-8 18-11zm8 9l-18 11-8-9 18-11zm8 9l-18 11-8-9 18-11z"/><path fill="#ea0000" d="M4546 861l-19 12-7-10 18-11zm8 11l-19 12-8-11 19-12z"/><path fill="#f00" d="M4562 884l-19 12-8-12 19-12zm8 12l-19 13-8-13 19-12z"/><path fill="#ff1500" d="M4578 909l-19 12-8-12 19-13z"/><path fill="#ff2a00" d="M4586 922l-19 13-8-14 19-12zm8 14l-19 12-8-13 19-13z"/><path fill="#ff4000" d="M4602 950l-19 13-8-15 19-12z"/><path fill="#f50" d="M4610 965l-19 13-8-15 19-13z"/><path fill="#ff6a00" d="M4618 980l-19 14-8-16 19-13z"/><path fill="#ff8000" d="M4626 996l-19 14-8-16 19-14z"/><path fill="#ff9500" d="M4634 1012l-19 14-8-16 19-14z"/><path fill="#fa0" d="M4642 1028l-19 15-8-17 19-14z"/><path fill="#ffbf00" d="M4650 1045l-19 15-8-17 19-15z"/><path fill="#ffd500" d="M4658 1063l-19 15-8-18 19-15z"/><path fill="#ff0" d="M4666 1080l-19 16-8-18 19-15z"/><path fill="#eaff15" d="M4674 1098l-19 15-8-17 19-16z"/><path fill="#d5ff2a" d="M4682 1115l-19 16-8-18 19-15z"/><path fill="#bfff40" d="M4690 1133l-19 16-8-18 19-16z"/><path fill="#af5" d="M4698 1150l-19 17-8-18 19-16zm8 18l-19 17-8-18 19-17z"/><path fill="#95ff6a" d="M4713 1185l-18 18-8-18 19-17z"/><path fill="#80ff80" d="M4721 1202l-18 18-8-17 18-18z"/><path fill="#6aff95" d="M4729 1218l-18 19-8-17 18-18z"/><path fill="#5fa" d="M4737 1234l-18 19-8-16 18-19z"/><path fill="#40ffbf" d="M4745 1249l-18 21-8-17 18-19z"/><path fill="#2bffd4" d="M4753 1263l-19 23-7-16 18-21zm8 14l-19 25-8-16 19-23z"/><path fill="#d50000" d="M4504 845l-19-21-8-9 19 22z"/><path fill="#ea0000" d="M4512 854l-19-20-8-10 19 21zm15 19l-18-19-8-11 19 20z"/><path fill="#f00" d="M4535 884l-18-18-8-12 18 19zm8 12l-18-17-8-13 18 18z"/><path fill="#ff1500" d="M4551 909l-18-17-8-13 18 17z"/><path fill="#ff2a00" d="M4559 921l-18-15-8-14 18 17zm8 14l-19-15-7-14 18 15z"/><path fill="#ff4000" d="M4575 948l-19-13-8-15 19 15z"/><path fill="#f50" d="M4583 963l-19-12-8-16 19 13z"/><path fill="#ff6a00" d="M4591 978l-19-10-8-17 19 12z"/><path fill="#ff8000" d="M4599 994l-19-10-8-16 19 10z"/><path fill="#ff9500" d="M4607 1010l-19-8-8-18 19 10z"/><path fill="#fa0" d="M4615 1026l-19-7-8-17 19 8z"/><path fill="#ffbf00" d="M4623 1043l-19-5-8-19 19 7z"/><path fill="#ffd500" d="M4631 1060l-19-3-8-19 19 5z"/><path fill="#ffea00" d="M4639 1078l-19-2-8-19 19 3z"/><path fill="#ff0" d="M4647 1096l-19-1-8-19 19 2z"/><path fill="#eaff15" d="M4655 1113l-19 1-8-19 19 1z"/><path fill="#d5ff2a" d="M4663 1131l-19 2-8-19 19-1z"/><path fill="#bfff40" d="M4671 1149l-19 4-8-20 19-2z"/><path fill="#af5" d="M4679 1167l-19 6-8-20 19-4z"/><path fill="#95ff6a" d="M4687 1185l-19 7-8-19 19-6z"/><path fill="#80ff80" d="M4695 1203l-19 8-8-19 19-7z"/><path fill="#6aff95" d="M4703 1220l-19 10-8-19 19-8z"/><path fill="#5fa" d="M4711 1237l-19 12-8-19 19-10z"/><path fill="#40ffbf" d="M4719 1253l-19 15-8-19 19-12z"/><path fill="#2bffd4" d="M4727 1270l-19 17-8-19 19-15z"/><path fill="#15ffea" d="M4734 1286l-18 21-8-20 19-17z"/><path fill="#0ff" d="M4742 1302l-18 25-8-20 18-21z"/><path fill="#bf0000" d="M4158 679l-18 19-8-2 18-20zm8 2l-19 19-7-2 18-19zm8 2l-19 20-8-3 19-19zm8 2l-19 20-8-2 19-20zm8 3l-19 19-8-2 19-20zm8 2l-19 19-8-2 19-19zm8 2l-19 19-8-2 19-19z"/><path fill="#a00" d="M4214 694l-19 19-8-2 19-19zm8 2l-19 20-8-3 19-19zm8 2l-19 19-8-1 19-20zm8 2l-19 19-8-2 19-19zm8 2l-19 19-8-2 19-19zm8 2l-19 19-8-2 19-19zm8 1l-19 20-8-2 19-19zm8 2l-19 20-8-2 19-20zm8 3l-19 19-8-2 19-20z"/><path fill="#950000" d="M4286 712l-19 19-8-2 19-19zm8 2l-19 19-8-2 19-19zm8 2l-19 19-8-2 19-19zm8 2l-19 19-8-2 19-19zm8 2l-19 19-8-2 19-19zm8 3l-19 19-8-3 19-19zm7 3l-18 19-8-3 19-19zm8 3l-18 19-8-3 18-19zm8 3l-18 20-8-4 18-19zm8 4l-18 19-8-3 18-20zm8 3l-18 20-8-4 18-19zm8 4l-19 19-7-3 18-20zm8 4l-19 19-8-4 19-19zm8 4l-19 20-8-5 19-19zm8 4l-19 20-8-4 19-20zm8 5l-19 20-8-5 19-20zm8 5l-19 20-8-5 19-20zm8 5l-19 20-8-5 19-20zm8 5l-19 20-8-5 19-20zm8 5l-19 20-8-5 19-20zm8 5l-19 20-8-5 19-20zm8 6l-19 21-8-7 19-20z"/><path fill="#a00" d="M4461 798l-19 21-8-7 19-21zm8 8l-19 21-8-8 19-21zm8 9l-19 21-8-9 19-21z"/><path fill="#bf0000" d="M4485 824l-19 21-8-9 19-21zm8 10l-19 20-8-9 19-21zm8 9l-19 21-8-10 19-20z"/><path fill="#d50000" d="M4509 854l-19 20-8-10 19-21zm8 12l-19 20-8-12 19-20z"/><path fill="#ea0000" d="M4525 879l-19 20-8-13 19-20zm8 13l-19 21-8-14 19-20z"/><path fill="#f00" d="M4541 906l-19 20-8-13 19-21z"/><path fill="#ff1500" d="M4548 920l-18 20-8-14 19-20z"/><path fill="#ff2a00" d="M4556 935l-18 20-8-15 18-20z"/><path fill="#ff4000" d="M4564 951l-18 20-8-16 18-20zm8 17l-18 19-8-16 18-20z"/><path fill="#ff6a00" d="M4580 984l-18 20-8-17 18-19z"/><path fill="#ff8000" d="M4588 1002l-19 19-7-17 18-20z"/><path fill="#ff9500" d="M4596 1019l-19 20-8-18 19-19z"/><path fill="#fa0" d="M4604 1038l-19 19-8-18 19-20z"/><path fill="#ffbf00" d="M4612 1057l-19 19-8-19 19-19z"/><path fill="#ffea00" d="M4620 1076l-19 19-8-19 19-19z"/><path fill="#ff0" d="M4628 1095l-19 19-8-19 19-19z"/><path fill="#eaff15" d="M4636 1114l-19 19-8-19 19-19z"/><path fill="#d5ff2a" d="M4644 1133l-19 19-8-19 19-19z"/><path fill="#bfff40" d="M4652 1153l-19 18-8-19 19-19z"/><path fill="#af5" d="M4660 1173l-19 17-8-19 19-18z"/><path fill="#95ff6a" d="M4668 1192l-19 18-8-20 19-17z"/><path fill="#6aff95" d="M4676 1211l-19 18-8-19 19-18z"/><path fill="#5fa" d="M4684 1230l-19 17-8-18 19-18z"/><path fill="#40ffbf" d="M4692 1249l-19 17-8-19 19-17z"/><path fill="#2bffd4" d="M4700 1268l-19 17-8-19 19-17z"/><path fill="#15ffea" d="M4708 1287l-19 17-8-19 19-17z"/><path fill="#0ff" d="M4716 1307l-19 16-8-19 19-17z"/><path fill="#00eaff" d="M4724 1327l-19 17-8-21 19-16z"/><path fill="#d50000" d="M4140 698l-19 45-8-3 19-44zm7 2l-18 45-8-2 19-45zm8 3l-18 44-8-2 18-45zm8 2l-18 45-8-3 18-44zm8 2l-18 45-8-2 18-45zm8 2l-18 46-8-3 18-45z"/><path fill="#bf0000" d="M4187 711l-19 46-7-2 18-46zm8 2l-19 47-8-3 19-46zm8 3l-19 46-8-2 19-47zm8 1l-19 47-8-2 19-46zm8 2l-19 48-8-3 19-47zm8 2l-19 48-8-2 19-48zm8 2l-19 48-8-2 19-48zm8 2l-19 48-8-2 19-48z"/><path fill="#a00" d="M4251 727l-19 49-8-3 19-48zm8 2l-19 49-8-2 19-49zm8 2l-19 50-8-3 19-49zm8 2l-19 50-8-2 19-50zm8 2l-19 51-8-3 19-50zm8 2l-19 51-8-2 19-51zm8 2l-19 52-8-3 19-51zm8 3l-19 52-8-3 19-52zm8 3l-19 52-8-3 19-52zm8 3l-19 53-8-4 19-52zm8 4l-19 52-8-3 19-53zm8 3l-19 53-8-4 19-52zm8 4l-19 53-8-4 19-53zm7 3l-18 54-8-4 19-53zm8 4l-18 54-8-4 18-54zm8 5l-18 53-8-4 18-54zm8 4l-18 54-8-5 18-53zm8 5l-18 54-8-5 18-54zm8 5l-19 53-7-4 18-54zm8 5l-19 53-8-5 19-53zm8 5l-19 53-8-5 19-53zm8 5l-19 53-8-5 19-53zm8 5l-19 54-8-6 19-53zm8 7l-19 53-8-6 19-54z"/><path fill="#bf0000" d="M4442 819l-19 53-8-7 19-53zm8 8l-19 52-8-7 19-53zm8 9l-19 51-8-8 19-52z"/><path fill="#d50000" d="M4466 845l-19 51-8-9 19-51zm8 9l-19 51-8-9 19-51zm8 10l-19 50-8-9 19-51z"/><path fill="#ea0000" d="M4490 874l-19 50-8-10 19-50zm8 12l-19 49-8-11 19-50z"/><path fill="#f00" d="M4506 899l-19 48-8-12 19-49z"/><path fill="#ff1500" d="M4514 913l-19 46-8-12 19-48zm8 13l-19 45-8-12 19-46z"/><path fill="#ff2a00" d="M4530 940l-19 44-8-13 19-45z"/><path fill="#ff4000" d="M4538 955l-19 43-8-14 19-44z"/><path fill="#f50" d="M4546 971l-19 41-8-14 19-43z"/><path fill="#ff6a00" d="M4554 987l-19 40-8-15 19-41z"/><path fill="#ff8000" d="M4562 1004l-19 38-8-15 19-40z"/><path fill="#ff9500" d="M4569 1021l-18 37-8-16 19-38z"/><path fill="#fa0" d="M4577 1039l-18 35-8-16 18-37z"/><path fill="#ffbf00" d="M4585 1057l-18 33-8-16 18-35z"/><path fill="#ffea00" d="M4593 1076l-18 31-8-17 18-33z"/><path fill="#ff0" d="M4601 1095l-18 30-8-18 18-31z"/><path fill="#eaff15" d="M4609 1114l-19 28-7-17 18-30z"/><path fill="#d5ff2a" d="M4617 1133l-19 26-8-17 19-28z"/><path fill="#bfff40" d="M4625 1152l-19 24-8-17 19-26z"/><path fill="#af5" d="M4633 1171l-19 23-8-18 19-24z"/><path fill="#95ff6a" d="M4641 1190l-19 21-8-17 19-23z"/><path fill="#80ff80" d="M4649 1210l-19 19-8-18 19-21z"/><path fill="#6aff95" d="M4657 1229l-19 17-8-17 19-19z"/><path fill="#5fa" d="M4665 1247l-19 16-8-17 19-17z"/><path fill="#2bffd4" d="M4673 1266l-19 13-8-16 19-16z"/><path fill="#15ffea" d="M4681 1285l-19 11-8-17 19-13z"/><path fill="#0ff" d="M4689 1304l-19 9-8-17 19-11z"/><path fill="#00eaff" d="M4697 1323l-19 7-8-17 19-9z"/><path fill="#00d4ff" d="M4705 1344l-19 4-8-18 19-7z"/><path fill="#ff1500" d="M4121 743l-19 43-8-3 19-43zm8 2l-19 43-8-2 19-43zm8 2l-19 44-8-3 19-43z"/><path fill="#f00" d="M4145 750l-19 44-8-3 19-44zm8 2l-19 45-8-3 19-44zm8 3l-19 45-8-3 19-45zm7 2l-18 46-8-3 19-45zm8 3l-18 46-8-3 18-46zm8 2l-18 46-8-2 18-46zm8 2l-18 47-8-3 18-46zm8 3l-18 47-8-3 18-47zm8 2l-19 48-7-3 18-47zm8 2l-19 49-8-3 19-48z"/><path fill="#ea0000" d="M4224 773l-19 50-8-3 19-49zm8 3l-19 50-8-3 19-50zm8 2l-19 51-8-3 19-50zm8 3l-19 51-8-3 19-51zm8 2l-19 52-8-3 19-51zm8 3l-19 52-8-3 19-52zm8 2l-19 53-8-3 19-52zm8 3l-19 54-8-4 19-53zm8 3l-19 54-8-3 19-54zm8 3l-19 55-8-4 19-54zm8 4l-19 55-8-4 19-55zm8 3l-19 56-8-4 19-55zm8 4l-19 56-8-4 19-56zm8 4l-19 56-8-4 19-56zm8 4l-19 56-8-4 19-56zm8 4l-19 56-8-4 19-56zm8 4l-19 57-8-5 19-56zm8 5l-19 56-8-4 19-57zm8 5l-19 56-8-5 19-56zm7 4l-18 57-8-5 19-56zm8 5l-18 56-8-4 18-57zm8 5l-18 56-8-5 18-56zm8 5l-18 57-8-6 18-56zm8 6l-18 56-8-5 18-57z"/><path fill="#f00" d="M4415 865l-19 56-7-6 18-56zm8 7l-19 55-8-6 19-56zm8 7l-19 55-8-7 19-55zm8 8l-19 55-8-8 19-55z"/><path fill="#ff1500" d="M4447 896l-19 54-8-8 19-55zm8 9l-19 53-8-8 19-54zm8 9l-19 53-8-9 19-53z"/><path fill="#ff2a00" d="M4471 924l-19 52-8-9 19-53zm8 11l-19 51-8-10 19-52z"/><path fill="#ff4000" d="M4487 947l-19 50-8-11 19-51zm8 12l-19 49-8-11 19-50z"/><path fill="#f50" d="M4503 971l-19 49-8-12 19-49z"/><path fill="#ff6a00" d="M4511 984l-19 48-8-12 19-49z"/><path fill="#ff8000" d="M4519 998l-19 46-8-12 19-48z"/><path fill="#ff9500" d="M4527 1012l-19 45-8-13 19-46z"/><path fill="#fa0" d="M4535 1027l-19 44-8-14 19-45z"/><path fill="#ffbf00" d="M4543 1042l-19 43-8-14 19-44z"/><path fill="#ffd500" d="M4551 1058l-19 41-8-14 19-43z"/><path fill="#ffea00" d="M4559 1074l-19 39-8-14 19-41z"/><path fill="#ff0" d="M4567 1090l-19 38-8-15 19-39z"/><path fill="#eaff15" d="M4575 1107l-19 37-8-16 19-38z"/><path fill="#d5ff2a" d="M4583 1125l-19 34-8-15 19-37z"/><path fill="#bfff40" d="M4590 1142l-18 33-8-16 19-34zm8 17l-18 31-8-15 18-33z"/><path fill="#af5" d="M4606 1176l-18 30-8-16 18-31z"/><path fill="#95ff6a" d="M4614 1194l-18 28-8-16 18-30z"/><path fill="#80ff80" d="M4622 1211l-18 26-8-15 18-28z"/><path fill="#6aff95" d="M4630 1229l-19 24-7-16 18-26z"/><path fill="#5fa" d="M4638 1246l-19 22-8-15 19-24z"/><path fill="#40ffbf" d="M4646 1263l-19 21-8-16 19-22z"/><path fill="#2bffd4" d="M4654 1279l-19 20-8-15 19-21z"/><path fill="#15ffea" d="M4662 1296l-19 17-8-14 19-20z"/><path fill="#0ff" d="M4670 1313l-19 15-8-15 19-17z"/><path fill="#00eaff" d="M4678 1330l-19 13-8-15 19-15z"/><path fill="#00d4ff" d="M4686 1348l-19 9-8-14 19-13z"/><path fill="#f50" d="M4420 942l-18-16-8-8 18 16zm8 8l-18-16-8-8 18 16z"/><path fill="#ff6a00" d="M4436 958l-19-15-7-9 18 16zm8 9l-19-15-8-9 19 15z"/><path fill="#ff8000" d="M4452 976l-19-14-8-10 19 15zm8 10l-19-13-8-11 19 14z"/><path fill="#ff9500" d="M4468 997l-19-12-8-12 19 13zm8 11l-19-11-8-12 19 12z"/><path fill="#fa0" d="M4484 1020l-19-11-8-12 19 11z"/><path fill="#ffbf00" d="M4492 1032l-19-10-8-13 19 11zm8 12l-19-8-8-14 19 10z"/><path fill="#ffd500" d="M4508 1057l-19-7-8-14 19 8z"/><path fill="#ffea00" d="M4516 1071l-19-7-8-14 19 7z"/><path fill="#ff0" d="M4524 1085l-19-6-8-15 19 7zm8 14l-19-4-8-16 19 6z"/><path fill="#eaff15" d="M4540 1113l-19-3-8-15 19 4z"/><path fill="#d5ff2a" d="M4548 1128l-19-2-8-16 19 3z"/><path fill="#bfff40" d="M4556 1144l-19-1-8-17 19 2z"/><path fill="#af5" d="M4564 1159l-19 1-8-17 19 1z"/><path fill="#95ff6a" d="M4572 1175l-19 2-8-17 19-1zm8 15l-19 4-8-17 19-2z"/><path fill="#80ff80" d="M4588 1206l-19 4-8-16 19-4z"/><path fill="#6aff95" d="M4596 1222l-19 5-8-17 19-4z"/><path fill="#5fa" d="M4604 1237l-19 7-8-17 19-5z"/><path fill="#40ffbf" d="M4611 1253l-18 8-8-17 19-7z"/><path fill="#2bffd4" d="M4619 1268l-18 10-8-17 18-8zm8 16l-18 10-8-16 18-10z"/><path fill="#15ffea" d="M4635 1299l-18 11-8-16 18-10z"/><path fill="#0ff" d="M4643 1313l-18 12-8-15 18-11z"/><path fill="#00eaff" d="M4651 1328l-19 12-7-15 18-12z"/><path fill="#00d4ff" d="M4659 1343l-19 11-8-14 19-12zm8 14l-19 11-8-14 19-11z"/><path fill="#ff2a00" d="M4083 774l-19 16-8-2 19-16zm8 3l-19 15-8-2 19-16zm8 2l-19 16-8-3 19-15zm8 3l-19 15-8-2 19-16zm8 2l-19 16-8-3 19-15zm8 3l-19 15-8-2 19-16zm8 2l-19 15-8-2 19-15zm8 3l-19 15-8-3 19-15zm8 3l-19 14-8-2 19-15z"/><path fill="#ff1500" d="M4155 797l-19 14-8-2 19-14zm8 2l-19 15-8-3 19-14zm8 3l-19 14-8-2 19-15zm8 2l-19 14-8-2 19-14zm8 3l-19 13-8-2 19-14zm8 2l-19 13-8-2 19-13zm8 3l-19 13-8-3 19-13zm7 3l-18 12-8-2 19-13zm8 3l-18 12-8-3 18-12zm8 2l-18 12-8-2 18-12zm8 3l-18 12-8-3 18-12zm8 3l-18 12-8-3 18-12zm8 3l-19 12-7-3 18-12zm8 4l-19 11-8-3 19-12z"/><path fill="#f00" d="M4266 836l-19 12-8-4 19-11zm8 4l-19 11-8-3 19-12z"/><path fill="#ff1500" d="M4282 844l-19 11-8-4 19-11zm8 4l-19 11-8-4 19-11zm8 5l-19 11-8-5 19-11zm8 4l-19 11-8-4 19-11zm8 5l-19 11-8-5 19-11zm8 4l-19 11-8-4 19-11zm8 5l-19 11-8-5 19-11zm8 5l-19 11-8-5 19-11zm8 5l-19 11-8-5 19-11zm8 5l-19 12-8-6 19-11zm8 5l-19 12-8-5 19-12zm8 6l-19 12-8-6 19-12zm8 6l-19 12-8-6 19-12z"/><path fill="#ff2a00" d="M4386 910l-19 12-8-7 19-12zm8 8l-19 12-8-8 19-12zm8 8l-19 12-8-8 19-12z"/><path fill="#ff4000" d="M4410 934l-19 13-8-9 19-12zm7 9l-18 13-8-9 19-13zm8 9l-18 13-8-9 18-13z"/><path fill="#f50" d="M4433 962l-18 13-8-10 18-13zm8 11l-18 13-8-11 18-13z"/><path fill="#ff6a00" d="M4449 985l-18 13-8-12 18-13z"/><path fill="#ff8000" d="M4457 997l-19 13-7-12 18-13z"/><path fill="#ff9500" d="M4465 1009l-19 14-8-13 19-13z"/><path fill="#fa0" d="M4473 1022l-19 14-8-13 19-14zm8 14l-19 13-8-13 19-14z"/><path fill="#ffbf00" d="M4489 1050l-19 14-8-15 19-13z"/><path fill="#ffd500" d="M4497 1064l-19 15-8-15 19-14z"/><path fill="#ffea00" d="M4505 1079l-19 15-8-15 19-15z"/><path fill="#ff0" d="M4513 1095l-19 14-8-15 19-15z"/><path fill="#eaff15" d="M4521 1110l-19 15-8-16 19-14z"/><path fill="#d5ff2a" d="M4529 1126l-19 15-8-16 19-15zm8 17l-19 15-8-17 19-15z"/><path fill="#bfff40" d="M4545 1160l-19 15-8-17 19-15z"/><path fill="#af5" d="M4553 1177l-19 15-8-17 19-15z"/><path fill="#95ff6a" d="M4561 1194l-19 15-8-17 19-15z"/><path fill="#80ff80" d="M4569 1210l-19 16-8-17 19-15z"/><path fill="#6aff95" d="M4577 1227l-19 16-8-17 19-16z"/><path fill="#5fa" d="M4585 1244l-19 16-8-17 19-16z"/><path fill="#40ffbf" d="M4593 1261l-19 16-8-17 19-16z"/><path fill="#2bffd4" d="M4601 1278l-19 16-8-17 19-16z"/><path fill="#15ffea" d="M4609 1294l-19 16-8-16 19-16z"/><path fill="#0ff" d="M4617 1310l-19 15-8-15 19-16zm8 15l-19 15-8-15 19-15z"/><path fill="#00eaff" d="M4632 1340l-18 15-8-15 19-15z"/><path fill="#00d4ff" d="M4640 1354l-18 14-8-13 18-15z"/><path fill="#00bfff" d="M4648 1368l-18 12-8-12 18-14z"/><path fill="#ff4000" d="M4064 790l-19 21-8-2 19-21zm8 2l-19 22-8-3 19-21zm8 3l-19 21-8-2 19-22zm8 2l-19 21-8-2 19-21zm8 3l-19 20-8-2 19-21z"/><path fill="#ff2a00" d="M4104 802l-19 21-8-3 19-20zm8 2l-19 21-8-2 19-21zm8 3l-19 20-8-2 19-21zm8 2l-19 20-8-2 19-20zm8 2l-19 20-8-2 19-20zm8 3l-19 19-8-2 19-20zm8 2l-19 19-8-2 19-19zm8 2l-19 19-8-2 19-19zm8 2l-19 19-8-2 19-19zm8 2l-19 20-8-3 19-19z"/><path fill="#ff1500" d="M4184 825l-19 19-8-2 19-20zm8 2l-19 19-8-2 19-19zm8 3l-19 19-8-3 19-19zm8 2l-19 19-8-2 19-19zm8 3l-19 18-8-2 19-19zm8 3l-19 18-8-3 19-18zm7 3l-18 18-8-3 19-18zm8 3l-18 18-8-3 18-18zm8 4l-18 17-8-3 18-18zm8 3l-18 18-8-4 18-17zm8 4l-18 18-8-4 18-18zm8 4l-19 18-7-4 18-18zm8 5l-19 17-8-4 19-18zm8 4l-19 18-8-5 19-17zm8 5l-19 17-8-4 19-18zm8 4l-19 18-8-5 19-17zm8 5l-19 18-8-5 19-18zm8 5l-19 18-8-5 19-18zm8 5l-19 18-8-5 19-18z"/><path fill="#ff2a00" d="M4335 898l-19 18-8-6 19-18zm8 5l-19 18-8-5 19-18zm8 6l-19 18-8-6 19-18zm8 6l-19 18-8-6 19-18zm8 7l-19 18-8-7 19-18zm8 8l-19 18-8-8 19-18z"/><path fill="#ff4000" d="M4383 938l-19 18-8-8 19-18zm8 9l-19 18-8-9 19-18zm8 9l-19 18-8-9 19-18z"/><path fill="#f50" d="M4407 965l-19 18-8-9 19-18z"/><path fill="#ff6a00" d="M4415 975l-19 18-8-10 19-18zm8 11l-19 18-8-11 19-18z"/><path fill="#ff8000" d="M4431 998l-19 18-8-12 19-18z"/><path fill="#ff9500" d="M4438 1010l-18 18-8-12 19-18zm8 13l-18 18-8-13 18-18z"/><path fill="#fa0" d="M4454 1036l-18 17-8-12 18-18z"/><path fill="#ffbf00" d="M4462 1049l-18 18-8-14 18-17z"/><path fill="#ffd500" d="M4470 1064l-18 17-8-14 18-18z"/><path fill="#ffea00" d="M4478 1079l-19 17-7-15 18-17z"/><path fill="#ff0" d="M4486 1094l-19 17-8-15 19-17zm8 15l-19 17-8-15 19-17z"/><path fill="#eaff15" d="M4502 1125l-19 17-8-16 19-17z"/><path fill="#d5ff2a" d="M4510 1141l-19 17-8-16 19-17z"/><path fill="#bfff40" d="M4518 1158l-19 17-8-17 19-17z"/><path fill="#af5" d="M4526 1175l-19 17-8-17 19-17z"/><path fill="#95ff6a" d="M4534 1192l-19 17-8-17 19-17z"/><path fill="#80ff80" d="M4542 1209l-19 16-8-16 19-17z"/><path fill="#6aff95" d="M4550 1226l-19 16-8-17 19-16z"/><path fill="#5fa" d="M4558 1243l-19 16-8-17 19-16z"/><path fill="#40ffbf" d="M4566 1260l-19 16-8-17 19-16z"/><path fill="#2bffd4" d="M4574 1277l-19 16-8-17 19-16z"/><path fill="#15ffea" d="M4582 1294l-19 15-8-16 19-16z"/><path fill="#0ff" d="M4590 1310l-19 15-8-16 19-15zm8 15l-19 16-8-16 19-15z"/><path fill="#00eaff" d="M4606 1340l-19 16-8-15 19-16z"/><path fill="#00d4ff" d="M4614 1355l-19 16-8-15 19-16z"/><path fill="#00bfff" d="M4622 1368l-19 18-8-15 19-16zm8 12l-19 19-8-13 19-18z"/><path fill="#f50" d="M4045 811l-18 27-8-3 18-26zm8 3l-18 26-8-2 18-27zm8 2l-18 26-8-2 18-26zm8 2l-18 26-8-2 18-26zm8 2l-19 26-7-2 18-26zm8 3l-19 25-8-2 19-26z"/><path fill="#ff4000" d="M4093 825l-19 25-8-2 19-25zm8 2l-19 25-8-2 19-25zm8 2l-19 25-8-2 19-25zm8 2l-19 25-8-2 19-25zm8 2l-19 25-8-2 19-25zm8 2l-19 24-8-1 19-25zm8 2l-19 24-8-2 19-24zm8 2l-19 24-8-2 19-24zm8 3l-19 23-8-2 19-24z"/><path fill="#ff2a00" d="M4165 844l-19 23-8-2 19-23zm8 2l-19 23-8-2 19-23zm8 3l-19 22-8-2 19-23zm8 2l-19 22-8-2 19-22zm8 2l-19 22-8-2 19-22zm8 3l-19 21-8-2 19-22zm8 3l-19 21-8-3 19-21zm8 3l-19 21-8-3 19-21zm8 3l-19 21-8-3 19-21zm8 4l-19 21-8-4 19-21zm8 4l-19 20-8-3 19-21zm7 4l-18 20-8-4 19-20zm8 4l-18 21-8-5 18-20zm8 5l-18 20-8-4 18-21zm8 4l-18 21-8-5 18-20zm8 5l-18 21-8-5 18-21zm8 5l-19 21-7-5 18-21zm8 5l-19 21-8-5 19-21zm8 5l-19 21-8-5 19-21zm8 6l-19 21-8-6 19-21z"/><path fill="#ff4000" d="M4324 921l-19 21-8-5 19-21zm8 6l-19 21-8-6 19-21zm8 6l-19 21-8-6 19-21zm8 7l-19 22-8-8 19-21zm8 8l-19 21-8-7 19-22z"/><path fill="#f50" d="M4364 956l-19 22-8-9 19-21zm8 9l-19 21-8-8 19-22z"/><path fill="#ff6a00" d="M4380 974l-19 21-8-9 19-21zm8 9l-19 22-8-10 19-21z"/><path fill="#ff8000" d="M4396 993l-19 22-8-10 19-22zm8 11l-19 22-8-11 19-22z"/><path fill="#ff9500" d="M4412 1016l-19 21-8-11 19-22z"/><path fill="#fa0" d="M4420 1028l-19 22-8-13 19-21z"/><path fill="#ffbf00" d="M4428 1041l-19 21-8-12 19-22zm8 12l-19 22-8-13 19-21z"/><path fill="#ffd500" d="M4444 1067l-19 21-8-13 19-22z"/><path fill="#ffea00" d="M4452 1081l-19 22-8-15 19-21z"/><path fill="#ff0" d="M4459 1096l-18 21-8-14 19-22zm8 15l-18 21-8-15 18-21z"/><path fill="#eaff15" d="M4475 1126l-18 21-8-15 18-21z"/><path fill="#d5ff2a" d="M4483 1142l-18 21-8-16 18-21z"/><path fill="#bfff40" d="M4491 1158l-18 21-8-16 18-21z"/><path fill="#af5" d="M4499 1175l-19 21-7-17 18-21z"/><path fill="#95ff6a" d="M4507 1192l-19 21-8-17 19-21z"/><path fill="#80ff80" d="M4515 1209l-19 21-8-17 19-21z"/><path fill="#6aff95" d="M4523 1225l-19 21-8-16 19-21z"/><path fill="#5fa" d="M4531 1242l-19 21-8-17 19-21z"/><path fill="#40ffbf" d="M4539 1259l-19 21-8-17 19-21z"/><path fill="#2bffd4" d="M4547 1276l-19 20-8-16 19-21zm8 17l-19 20-8-17 19-20z"/><path fill="#15ffea" d="M4563 1309l-19 20-8-16 19-20z"/><path fill="#0ff" d="M4571 1325l-19 20-8-16 19-20z"/><path fill="#00eaff" d="M4579 1341l-19 20-8-16 19-20z"/><path fill="#00d4ff" d="M4587 1356l-19 21-8-16 19-20z"/><path fill="#00bfff" d="M4595 1371l-19 21-8-15 19-21z"/><path fill="#0af" d="M4603 1386l-19 21-8-15 19-21zm8 13l-19 22-8-14 19-21z"/><path fill="#ff8000" d="M4027 838l-19 24-8-2 19-25zm8 2l-19 24-8-2 19-24zm8 2l-19 24-8-2 19-24zm8 2l-19 24-8-2 19-24zm7 2l-18 24-8-2 19-24z"/><path fill="#ff6a00" d="M4066 848l-18 23-8-1 18-24zm8 2l-18 23-8-2 18-23zm8 2l-18 22-8-1 18-23zm8 2l-18 21-8-1 18-22zm8 2l-19 20-7-1 18-21zm8 2l-19 19-8-1 19-20z"/><path fill="#f50" d="M4114 859l-19 19-8-1 19-19zm8 2l-19 18-8-1 19-19zm8 2l-19 17-8-1 19-18zm8 2l-19 16-8-1 19-17zm8 2l-19 16-8-2 19-16zm8 2l-19 15-8-1 19-16z"/><path fill="#ff4000" d="M4162 871l-19 14-8-1 19-15zm8 2l-19 13-8-1 19-14zm8 2l-19 13-8-2 19-13zm8 2l-19 12-8-1 19-13zm8 3l-19 11-8-2 19-12zm8 3l-19 11-8-3 19-11zm8 3l-19 10-8-2 19-11zm8 4l-19 9-8-3 19-10zm8 3l-19 10-8-4 19-9zm8 4l-19 10-8-4 19-10zm8 5l-19 9-8-4 19-10zm8 4l-19 9-8-4 19-9zm8 5l-19 9-8-5 19-9zm8 5l-19 9-8-5 19-9zm7 5l-18 9-8-5 19-9zm8 5l-18 9-8-5 18-9zm8 5l-18 10-8-6 18-9z"/><path fill="#f50" d="M4297 937l-18 9-8-5 18-10zm8 5l-18 10-8-6 18-9zm8 6l-19 10-7-6 18-10zm8 6l-19 10-8-6 19-10zm8 8l-19 10-8-8 19-10z"/><path fill="#ff6a00" d="M4337 969l-19 11-8-8 19-10zm8 9l-19 10-8-8 19-11z"/><path fill="#ff8000" d="M4353 986l-19 11-8-9 19-10zm8 9l-19 11-8-9 19-11z"/><path fill="#ff9500" d="M4369 1005l-19 11-8-10 19-11zm8 10l-19 11-8-10 19-11z"/><path fill="#fa0" d="M4385 1026l-19 11-8-11 19-11zm8 11l-19 12-8-12 19-11z"/><path fill="#ffbf00" d="M4401 1050l-19 12-8-13 19-12z"/><path fill="#ffd500" d="M4409 1062l-19 12-8-12 19-12zm8 13l-19 12-8-13 19-12z"/><path fill="#ffea00" d="M4425 1088l-19 13-8-14 19-12z"/><path fill="#ff0" d="M4433 1103l-19 13-8-15 19-13z"/><path fill="#eaff15" d="M4441 1117l-19 14-8-15 19-13z"/><path fill="#d5ff2a" d="M4449 1132l-19 14-8-15 19-14zm8 15l-19 14-8-15 19-14z"/><path fill="#bfff40" d="M4465 1163l-19 14-8-16 19-14z"/><path fill="#af5" d="M4473 1179l-19 15-8-17 19-14z"/><path fill="#95ff6a" d="M4480 1196l-18 15-8-17 19-15z"/><path fill="#80ff80" d="M4488 1213l-18 15-8-17 18-15z"/><path fill="#6aff95" d="M4496 1230l-18 15-8-17 18-15z"/><path fill="#5fa" d="M4504 1246l-18 16-8-17 18-15z"/><path fill="#40ffbf" d="M4512 1263l-18 16-8-17 18-16z"/><path fill="#2bffd4" d="M4520 1280l-19 16-7-17 18-16z"/><path fill="#15ffea" d="M4528 1296l-19 17-8-17 19-16z"/><path fill="#0ff" d="M4536 1313l-19 17-8-17 19-17z"/><path fill="#00eaff" d="M4544 1329l-19 18-8-17 19-17zm8 16l-19 18-8-16 19-18z"/><path fill="#00d4ff" d="M4560 1361l-19 19-8-17 19-18z"/><path fill="#00bfff" d="M4568 1377l-19 19-8-16 19-19z"/><path fill="#0af" d="M4576 1392l-19 20-8-16 19-19z"/><path fill="#0095ff" d="M4584 1407l-19 22-8-17 19-20z"/><path fill="#0080ff" d="M4592 1421l-19 24-8-16 19-22z"/><path fill="#f50" d="M4143 885l-19 8-8-1 19-8zm8 1l-19 8-8-1 19-8zm8 2l-19 8-8-2 19-8zm8 1l-19 8-8-1 19-8z"/><path fill="#ff4000" d="M4175 891l-19 8-8-2 19-8zm8 3l-19 8-8-3 19-8zm8 2l-19 8-8-2 19-8zm8 3l-19 8-8-3 19-8zm8 4l-19 8-8-4 19-8zm8 4l-19 8-8-4 19-8zm8 4l-19 8-8-4 19-8zm8 4l-19 8-8-4 19-8zm8 5l-19 8-8-5 19-8zm8 5l-19 8-8-5 19-8zm8 5l-19 8-8-5 19-8z"/><path fill="#f50" d="M4263 935l-19 9-8-6 19-8zm8 6l-19 8-8-5 19-9zm8 5l-19 9-8-6 19-8zm8 6l-19 9-8-6 19-9zm7 6l-18 9-8-6 19-9z"/><path fill="#ff6a00" d="M4302 964l-18 10-8-7 18-9zm8 8l-18 9-8-7 18-10zm8 8l-18 9-8-8 18-9z"/><path fill="#ff8000" d="M4326 988l-18 10-8-9 18-9zm8 9l-19 10-7-9 18-10z"/><path fill="#ff9500" d="M4342 1006l-19 10-8-9 19-10zm8 10l-19 10-8-10 19-10z"/><path fill="#fa0" d="M4358 1026l-19 10-8-10 19-10zm8 11l-19 10-8-11 19-10z"/><path fill="#ffbf00" d="M4374 1049l-19 10-8-12 19-10z"/><path fill="#ffd500" d="M4382 1062l-19 10-8-13 19-10zm8 12l-19 11-8-13 19-10z"/><path fill="#ffea00" d="M4398 1087l-19 11-8-13 19-11z"/><path fill="#ff0" d="M4406 1101l-19 11-8-14 19-11z"/><path fill="#eaff15" d="M4414 1116l-19 10-8-14 19-11zm8 15l-19 10-8-15 19-10z"/><path fill="#d5ff2a" d="M4430 1146l-19 11-8-16 19-10z"/><path fill="#bfff40" d="M4438 1161l-19 12-8-16 19-11z"/><path fill="#af5" d="M4446 1177l-19 12-8-16 19-12z"/><path fill="#95ff6a" d="M4454 1194l-19 11-8-16 19-12z"/><path fill="#80ff80" d="M4462 1211l-19 11-8-17 19-11z"/><path fill="#6aff95" d="M4470 1228l-19 12-8-18 19-11z"/><path fill="#5fa" d="M4478 1245l-19 12-8-17 19-12z"/><path fill="#40ffbf" d="M4486 1262l-19 12-8-17 19-12z"/><path fill="#2bffd4" d="M4494 1279l-19 12-8-17 19-12zm7 17l-18 12-8-17 19-12z"/><path fill="#15ffea" d="M4509 1313l-18 12-8-17 18-12z"/><path fill="#0ff" d="M4517 1330l-18 13-8-18 18-12z"/><path fill="#00eaff" d="M4525 1347l-18 13-8-17 18-13z"/><path fill="#00d4ff" d="M4533 1363l-18 13-8-16 18-13z"/><path fill="#00bfff" d="M4541 1380l-19 13-7-17 18-13z"/><path fill="#0af" d="M4549 1396l-19 14-8-17 19-13z"/><path fill="#0095ff" d="M4557 1412l-19 15-8-17 19-14z"/><path fill="#0080ff" d="M4565 1429l-19 15-8-17 19-15z"/><path fill="#006aff" d="M4573 1445l-19 17-8-18 19-15z"/><path fill="#ff4000" d="M4180 907l-19-4-8-4 19 5zm8 4l-19-4-8-4 19 4zm8 4l-19-4-8-4 19 4zm8 4l-19-3-8-5 19 4zm8 4l-19-2-8-5 19 3z"/><path fill="#f50" d="M4220 928l-19-2-8-5 19 2zm8 5l-19-2-8-5 19 2zm8 5l-19-2-8-5 19 2zm8 6l-19-2-8-6 19 2zm8 5l-19-1-8-6 19 2zm8 6l-19-1-8-6 19 1zm8 6l-19-1-8-6 19 1z"/><path fill="#ff6a00" d="M4276 967l-19-1-8-6 19 1zm8 7l-19-1-8-7 19 1zm8 7l-19-1-8-7 19 1z"/><path fill="#ff8000" d="M4300 989l-19 0-8-9 19 1zm8 9l-19-1-8-8 19 0z"/><path fill="#ff9500" d="M4315 1007l-18 0-8-10 19 1zm8 9l-18 0-8-9 18 0z"/><path fill="#fa0" d="M4331 1026l-18 0-8-10 18 0zm8 10l-18 1-8-11 18 0z"/><path fill="#ffbf00" d="M4347 1047l-18 1-8-11 18-1zm8 12l-19 1-7-12 18-1z"/><path fill="#ffd500" d="M4363 1072l-19 1-8-13 19-1z"/><path fill="#ffea00" d="M4371 1085l-19 1-8-13 19-1zm8 13l-19 2-8-14 19-1z"/><path fill="#ff0" d="M4387 1112l-19 2-8-14 19-2z"/><path fill="#eaff15" d="M4395 1126l-19 3-8-15 19-2z"/><path fill="#d5ff2a" d="M4403 1141l-19 4-8-16 19-3z"/><path fill="#bfff40" d="M4411 1157l-19 3-8-15 19-4z"/><path fill="#af5" d="M4419 1173l-19 3-8-16 19-3zm8 16l-19 4-8-17 19-3z"/><path fill="#95ff6a" d="M4435 1205l-19 5-8-17 19-4z"/><path fill="#80ff80" d="M4443 1222l-19 5-8-17 19-5z"/><path fill="#6aff95" d="M4451 1240l-19 5-8-18 19-5z"/><path fill="#5fa" d="M4459 1257l-19 6-8-18 19-5z"/><path fill="#40ffbf" d="M4467 1274l-19 6-8-17 19-6z"/><path fill="#2bffd4" d="M4475 1291l-19 6-8-17 19-6z"/><path fill="#15ffea" d="M4483 1308l-19 7-8-18 19-6z"/><path fill="#0ff" d="M4491 1325l-19 8-8-18 19-7z"/><path fill="#00eaff" d="M4499 1343l-19 7-8-17 19-8z"/><path fill="#00d4ff" d="M4507 1360l-19 8-8-18 19-7z"/><path fill="#00bfff" d="M4515 1376l-19 9-8-17 19-8z"/><path fill="#0af" d="M4522 1393l-18 9-8-17 19-9z"/><path fill="#0095ff" d="M4530 1410l-18 10-8-18 18-9z"/><path fill="#0080ff" d="M4538 1427l-18 11-8-18 18-10z"/><path fill="#006aff" d="M4546 1444l-18 12-8-18 18-11z"/><path fill="#05f" d="M4554 1462l-18 13-8-19 18-12z"/><path fill="#ff4000" d="M4217 936l-19-12-8-6 19 13zm8 6l-19-13-8-5 19 12zm8 6l-19-13-8-6 19 13z"/><path fill="#f50" d="M4241 954l-19-12-8-7 19 13zm16 12l-19-12-8-6 19 12zm8 7l-19-12-8-7 19 12z"/><path fill="#ff6a00" d="M4273 980l-19-10-8-9 19 12zm8 9l-19-11-8-8 19 10z"/><path fill="#ff8000" d="M4289 997l-19-10-8-9 19 11zm8 10l-19-10-8-10 19 10z"/><path fill="#ff9500" d="M4305 1016l-19-9-8-10 19 10zm8 10l-19-9-8-10 19 9z"/><path fill="#fa0" d="M4321 1037l-19-9-8-11 19 9zm8 11l-19-7-8-13 19 9z"/><path fill="#ffbf00" d="M4336 1060l-18-7-8-12 19 7z"/><path fill="#ffd500" d="M4344 1073l-18-6-8-14 18 7zm8 13l-18-5-8-14 18 6z"/><path fill="#ffea00" d="M4360 1100l-18-5-8-14 18 5z"/><path fill="#ff0" d="M4368 1114l-18-4-8-15 18 5z"/><path fill="#eaff15" d="M4376 1129l-19-3-7-16 18 4z"/><path fill="#d5ff2a" d="M4384 1145l-19-3-8-16 19 3z"/><path fill="#bfff40" d="M4392 1160l-19-2-8-16 19 3zm8 16l-19-1-8-17 19 2z"/><path fill="#af5" d="M4408 1193l-19 0-8-18 19 1z"/><path fill="#95ff6a" d="M4416 1210l-19 1-8-18 19 0z"/><path fill="#80ff80" d="M4424 1227l-19 2-8-18 19-1z"/><path fill="#6aff95" d="M4432 1245l-19 3-8-19 19-2z"/><path fill="#5fa" d="M4440 1263l-19 3-8-18 19-3z"/><path fill="#40ffbf" d="M4448 1280l-19 4-8-18 19-3z"/><path fill="#2bffd4" d="M4456 1297l-19 6-8-19 19-4z"/><path fill="#15ffea" d="M4464 1315l-19 6-8-18 19-6z"/><path fill="#0ff" d="M4472 1333l-19 6-8-18 19-6z"/><path fill="#00eaff" d="M4480 1350l-19 8-8-19 19-6z"/><path fill="#00d4ff" d="M4488 1368l-19 8-8-18 19-8z"/><path fill="#00bfff" d="M4496 1385l-19 9-8-18 19-8z"/><path fill="#0af" d="M4504 1402l-19 9-8-17 19-9z"/><path fill="#0095ff" d="M4512 1420l-19 9-8-18 19-9z"/><path fill="#0080ff" d="M4520 1438l-19 9-8-18 19-9z"/><path fill="#006aff" d="M4528 1456l-19 9-8-18 19-9z"/><path fill="#05f" d="M4536 1475l-19 8-8-18 19-9z"/><path fill="#ff2a00" d="M4079 866l-19 19-8-2 19-19zm8 2l-19 20-8-3 19-19zm8 2l-19 20-8-2 19-20zm8 3l-19 20-8-3 19-20z"/><path fill="#ff1500" d="M4111 875l-19 21-8-3 19-20zm8 3l-19 21-8-3 19-21zm8 3l-19 21-8-3 19-21zm8 3l-19 22-8-4 19-21zm8 4l-19 22-8-4 19-22zm7 5l-18 21-8-4 19-22zm8 4l-18 22-8-5 18-21z"/><path fill="#ff2a00" d="M4166 902l-18 22-8-5 18-22zm8 5l-18 22-8-5 18-22zm8 6l-18 21-8-5 18-22zm8 5l-19 22-7-6 18-21zm8 6l-19 22-8-6 19-22zm8 5l-19 22-8-5 19-22zm8 6l-19 22-8-6 19-22zm8 7l-19 21-8-6 19-22z"/><path fill="#ff4000" d="M4230 948l-19 22-8-7 19-21zm8 6l-19 22-8-6 19-22zm8 7l-19 22-8-7 19-22zm8 9l-19 21-8-8 19-22z"/><path fill="#f50" d="M4262 978l-19 21-8-8 19-21zm8 9l-19 21-8-9 19-21z"/><path fill="#ff6a00" d="M4278 997l-19 21-8-10 19-21zm8 10l-19 20-8-9 19-21z"/><path fill="#ff8000" d="M4294 1017l-19 20-8-10 19-20z"/><path fill="#ff9500" d="M4302 1028l-19 20-8-11 19-20zm8 13l-19 19-8-12 19-20z"/><path fill="#fa0" d="M4318 1053l-19 19-8-12 19-19z"/><path fill="#ffbf00" d="M4326 1067l-19 18-8-13 19-19z"/><path fill="#ffd500" d="M4334 1081l-19 17-8-13 19-18zm8 14l-19 17-8-14 19-17z"/><path fill="#ffea00" d="M4350 1110l-19 16-8-14 19-17z"/><path fill="#ff0" d="M4357 1126l-18 15-8-15 19-16z"/><path fill="#eaff15" d="M4365 1142l-18 15-8-16 18-15z"/><path fill="#d5ff2a" d="M4373 1158l-18 14-8-15 18-15z"/><path fill="#bfff40" d="M4381 1175l-18 13-8-16 18-14z"/><path fill="#af5" d="M4389 1193l-18 12-8-17 18-13z"/><path fill="#95ff6a" d="M4397 1211l-19 11-7-17 18-12z"/><path fill="#80ff80" d="M4405 1229l-19 10-8-17 19-11z"/><path fill="#6aff95" d="M4413 1248l-19 9-8-18 19-10z"/><path fill="#5fa" d="M4421 1266l-19 9-8-18 19-9z"/><path fill="#40ffbf" d="M4429 1284l-19 8-8-17 19-9z"/><path fill="#2bffd4" d="M4437 1303l-19 6-8-17 19-8z"/><path fill="#15ffea" d="M4445 1321l-19 6-8-18 19-6z"/><path fill="#0ff" d="M4453 1339l-19 5-8-17 19-6z"/><path fill="#00eaff" d="M4461 1358l-19 3-8-17 19-5z"/><path fill="#00d4ff" d="M4469 1376l-19 2-8-17 19-3z"/><path fill="#00bfff" d="M4477 1394l-19 1-8-17 19-2z"/><path fill="#0af" d="M4485 1411l-19 1-8-17 19-1z"/><path fill="#0080ff" d="M4493 1429l-19 0-8-17 19-1z"/><path fill="#006aff" d="M4501 1447l-19-2-8-16 19 0z"/><path fill="#05f" d="M4509 1465l-19-4-8-16 19 2z"/><path fill="#0040ff" d="M4517 1483l-19-5-8-17 19 4z"/><path fill="#ff9500" d="M4267 1027l-19-24-8-10 19 25zm8 10l-19-23-8-11 19 24z"/><path fill="#fa0" d="M4291 1060l-19-23-8-12 19 23z"/><path fill="#ffbf00" d="M4299 1072l-19-22-8-13 19 23z"/><path fill="#ffd500" d="M4307 1085l-19-22-8-13 19 22z"/><path fill="#ffea00" d="M4315 1098l-19-21-8-14 19 22zm8 14l-19-20-8-15 19 21z"/><path fill="#ff0" d="M4331 1126l-19-19-8-15 19 20z"/><path fill="#eaff15" d="M4339 1141l-19-19-8-15 19 19z"/><path fill="#d5ff2a" d="M4347 1157l-19-18-8-17 19 19z"/><path fill="#bfff40" d="M4355 1172l-19-17-8-16 19 18z"/><path fill="#af5" d="M4363 1188l-19-16-8-17 19 17zm8 17l-19-15-8-18 19 16z"/><path fill="#95ff6a" d="M4378 1222l-18-14-8-18 19 15z"/><path fill="#80ff80" d="M4386 1239l-18-13-8-18 18 14z"/><path fill="#6aff95" d="M4394 1257l-18-13-8-18 18 13z"/><path fill="#5fa" d="M4402 1275l-18-12-8-19 18 13z"/><path fill="#40ffbf" d="M4410 1292l-18-11-8-18 18 12z"/><path fill="#2bffd4" d="M4418 1309l-19-10-7-18 18 11z"/><path fill="#15ffea" d="M4426 1327l-19-9-8-19 19 10z"/><path fill="#0ff" d="M4434 1344l-19-8-8-18 19 9z"/><path fill="#00eaff" d="M4442 1361l-19-7-8-18 19 8z"/><path fill="#00d4ff" d="M4450 1378l-19-6-8-18 19 7z"/><path fill="#00bfff" d="M4458 1395l-19-5-8-18 19 6z"/><path fill="#0af" d="M4466 1412l-19-4-8-18 19 5z"/><path fill="#0095ff" d="M4474 1429l-19-3-8-18 19 4z"/><path fill="#0080ff" d="M4482 1445l-19-2-8-17 19 3z"/><path fill="#006aff" d="M4490 1461l-19 1-8-19 19 2z"/><path fill="#05f" d="M4498 1478l-19 2-8-18 19-1z"/><path fill="#ff2a00" d="M3914 820l-19 17-8-2 19-17zm8 2l-19 17-8-2 19-17zm8 2l-19 17-8-2 19-17zm8 2l-19 17-8-2 19-17zm8 2l-19 17-8-2 19-17zm8 3l-19 16-8-2 19-17zm8 2l-19 16-8-2 19-16z"/><path fill="#ff1500" d="M3970 835l-19 16-8-2 19-16zm7 2l-18 16-8-2 19-16zm8 2l-18 16-8-2 18-16zm8 2l-18 16-8-2 18-16zm8 2l-18 16-8-2 18-16zm8 2l-18 15-8-1 18-16zm8 2l-19 15-7-2 18-15zm8 3l-19 15-8-3 19-15zm8 2l-19 15-8-2 19-15z"/><path fill="#f00" d="M4041 855l-19 14-8-2 19-15zm8 2l-19 15-8-3 19-14zm8 3l-19 14-8-2 19-15zm8 2l-19 15-8-3 19-14zm8 3l-19 14-8-2 19-15zm8 3l-19 14-8-3 19-14zm8 4l-19 14-8-4 19-14zm8 4l-19 13-8-3 19-14zm8 4l-19 14-8-5 19-13zm8 5l-19 14-8-5 19-14zm8 5l-19 14-8-5 19-14zm8 5l-19 14-8-5 19-14zm8 6l-19 13-8-5 19-14z"/><path fill="#ff1500" d="M4145 906l-19 14-8-6 19-13zm8 6l-19 13-8-5 19-14zm8 5l-19 14-8-6 19-13zm8 7l-19 13-8-6 19-14zm8 6l-19 13-8-6 19-13zm8 6l-19 14-8-7 19-13z"/><path fill="#ff2a00" d="M4192 943l-18 13-8-6 19-14zm8 6l-18 14-8-7 18-13zm8 8l-18 13-8-7 18-14zm8 8l-18 13-8-8 18-13z"/><path fill="#ff4000" d="M4224 974l-18 13-8-9 18-13zm8 9l-19 13-7-9 18-13zm8 10l-19 13-8-10 19-13z"/><path fill="#f50" d="M4248 1003l-19 13-8-10 19-13z"/><path fill="#ff6a00" d="M4256 1014l-19 12-8-10 19-13zm8 11l-19 12-8-11 19-12z"/><path fill="#ff8000" d="M4272 1037l-19 12-8-12 19-12z"/><path fill="#ff9500" d="M4280 1050l-19 12-8-13 19-12z"/><path fill="#fa0" d="M4288 1063l-19 12-8-13 19-12z"/><path fill="#ffbf00" d="M4296 1077l-19 11-8-13 19-12zm8 15l-19 10-8-14 19-11z"/><path fill="#ffd500" d="M4312 1107l-19 10-8-15 19-10z"/><path fill="#ffea00" d="M4320 1122l-19 10-8-15 19-10z"/><path fill="#ff0" d="M4328 1139l-19 9-8-16 19-10z"/><path fill="#eaff15" d="M4336 1155l-19 9-8-16 19-9z"/><path fill="#d5ff2a" d="M4344 1172l-19 8-8-16 19-9z"/><path fill="#bfff40" d="M4352 1190l-19 7-8-17 19-8z"/><path fill="#af5" d="M4360 1208l-19 7-8-18 19-7z"/><path fill="#95ff6a" d="M4368 1226l-19 6-8-17 19-7z"/><path fill="#80ff80" d="M4376 1244l-19 6-8-18 19-6z"/><path fill="#6aff95" d="M4384 1263l-19 5-8-18 19-6z"/><path fill="#5fa" d="M4392 1281l-19 5-8-18 19-5z"/><path fill="#40ffbf" d="M4399 1299l-18 4-8-17 19-5z"/><path fill="#2bffd4" d="M4407 1318l-18 3-8-18 18-4z"/><path fill="#15ffea" d="M4415 1336l-18 3-8-18 18-3z"/><path fill="#0ff" d="M4423 1354l-18 2-8-17 18-3z"/><path fill="#00eaff" d="M4431 1372l-18 2-8-18 18-2z"/><path fill="#00d4ff" d="M4439 1390l-19 1-7-17 18-2z"/><path fill="#00bfff" d="M4447 1408l-19 1-8-18 19-1z"/><path fill="#0095ff" d="M4455 1426l-19 1-8-18 19-1z"/><path fill="#0080ff" d="M4463 1443l-19 2-8-18 19-1z"/><path fill="#006aff" d="M4471 1462l-19 1-8-18 19-2z"/><path fill="#05f" d="M4479 1480l-19 3-8-20 19-1z"/><path fill="#ff4000" d="M3895 837l-19 50-8-2 19-50zm8 2l-19 50-8-2 19-50zm8 2l-19 50-8-2 19-50zm8 2l-19 50-8-2 19-50zm8 2l-19 50-8-2 19-50z"/><path fill="#ff2a00" d="M3935 847l-19 50-8-2 19-50zm8 2l-19 50-8-2 19-50zm8 2l-19 50-8-2 19-50zm8 2l-19 50-8-2 19-50zm8 2l-19 49-8-1 19-50zm8 2l-19 49-8-2 19-49zm8 2l-19 49-8-2 19-49zm8 1l-19 49-8-1 19-49z"/><path fill="#ff1500" d="M3998 862l-18 49-8-2 19-49zm8 3l-18 48-8-2 18-49zm8 2l-18 48-8-2 18-48zm8 2l-18 48-8-2 18-48zm8 3l-18 47-8-2 18-48zm8 2l-19 47-7-2 18-47zm8 3l-19 47-8-3 19-47zm8 2l-19 47-8-2 19-47zm8 3l-19 47-8-3 19-47zm8 4l-19 46-8-3 19-47zm8 3l-19 46-8-3 19-46zm8 5l-19 45-8-4 19-46zm8 5l-19 45-8-5 19-45zm8 5l-19 44-8-4 19-45zm8 5l-19 44-8-5 19-44zm8 5l-19 45-8-6 19-44zm8 6l-19 44-8-5 19-45zm8 5l-19 44-8-5 19-44zm8 6l-19 44-8-6 19-44z"/><path fill="#ff2a00" d="M4150 937l-19 44-8-6 19-44zm8 6l-19 44-8-6 19-44zm8 7l-19 43-8-6 19-44zm8 6l-19 44-8-7 19-43zm8 7l-19 43-8-6 19-44z"/><path fill="#ff4000" d="M4190 970l-19 43-8-7 19-43zm8 8l-19 43-8-8 19-43zm8 9l-19 42-8-8 19-43z"/><path fill="#f50" d="M4213 996l-18 42-8-9 19-42zm8 10l-18 41-8-9 18-42z"/><path fill="#ff6a00" d="M4229 1016l-18 40-8-9 18-41zm8 10l-18 40-8-10 18-40z"/><path fill="#ff8000" d="M4245 1037l-18 39-8-10 18-40z"/><path fill="#ff9500" d="M4253 1049l-19 38-7-11 18-39z"/><path fill="#fa0" d="M4261 1062l-19 37-8-12 19-38zm8 13l-19 36-8-12 19-37z"/><path fill="#ffbf00" d="M4277 1088l-19 36-8-13 19-36z"/><path fill="#ffd500" d="M4285 1102l-19 35-8-13 19-36z"/><path fill="#ffea00" d="M4293 1117l-19 33-8-13 19-35z"/><path fill="#ff0" d="M4301 1132l-19 32-8-14 19-33zm8 16l-19 31-8-15 19-32z"/><path fill="#eaff15" d="M4317 1164l-19 30-8-15 19-31z"/><path fill="#d5ff2a" d="M4325 1180l-19 29-8-15 19-30z"/><path fill="#bfff40" d="M4333 1197l-19 27-8-15 19-29z"/><path fill="#af5" d="M4341 1215l-19 25-8-16 19-27z"/><path fill="#95ff6a" d="M4349 1232l-19 25-8-17 19-25z"/><path fill="#80ff80" d="M4357 1250l-19 23-8-16 19-25z"/><path fill="#6aff95" d="M4365 1268l-19 22-8-17 19-23z"/><path fill="#5fa" d="M4373 1286l-19 20-8-16 19-22z"/><path fill="#40ffbf" d="M4381 1303l-19 19-8-16 19-20z"/><path fill="#2bffd4" d="M4389 1321l-19 17-8-16 19-19z"/><path fill="#15ffea" d="M4397 1339l-19 15-8-16 19-17z"/><path fill="#0ff" d="M4405 1356l-19 14-8-16 19-15z"/><path fill="#00eaff" d="M4413 1374l-19 12-8-16 19-14z"/><path fill="#00d4ff" d="M4420 1391l-18 12-8-17 19-12z"/><path fill="#00bfff" d="M4428 1409l-18 10-8-16 18-12z"/><path fill="#0af" d="M4436 1427l-18 8-8-16 18-10z"/><path fill="#0095ff" d="M4444 1445l-18 7-8-17 18-8z"/><path fill="#0080ff" d="M4452 1463l-18 7-8-18 18-7z"/><path fill="#05f" d="M4460 1483l-19 5-7-18 18-7z"/><path fill="#ff6a00" d="M3948 904l-19 8-8-1 19-8zm8 2l-19 8-8-2 19-8zm8 2l-19 7-8-1 19-8zm8 1l-19 7-8-1 19-7zm8 2l-19 7-8-2 19-7zm8 2l-19 6-8-1 19-7z"/><path fill="#f50" d="M3996 915l-19 6-8-2 19-6zm8 2l-19 6-8-2 19-6zm8 2l-19 6-8-2 19-6zm7 2l-18 6-8-2 19-6zm8 3l-18 5-8-2 18-6zm8 2l-18 5-8-2 18-5zm8 3l-18 4-8-2 18-5zm8 3l-18 4-8-3 18-4z"/><path fill="#ff4000" d="M4059 935l-19 5-7-4 18-4z"/><path fill="#f50" d="M4067 939l-19 5-8-4 19-5zm8 5l-19 4-8-4 19-5zm8 4l-19 5-8-5 19-4zm8 5l-19 5-8-5 19-5zm8 6l-19 4-8-5 19-5zm8 5l-19 5-8-6 19-4zm8 5l-19 6-8-6 19-5zm8 6l-19 5-8-5 19-6z"/><path fill="#ff6a00" d="M4131 981l-19 6-8-7 19-5zm8 6l-19 6-8-6 19-6zm8 6l-19 6-8-6 19-6zm8 7l-19 6-8-7 19-6zm8 6l-19 7-8-7 19-6z"/><path fill="#ff8000" d="M4171 1013l-19 7-8-7 19-7zm8 8l-19 7-8-8 19-7z"/><path fill="#ff9500" d="M4187 1029l-19 8-8-9 19-7zm8 9l-19 8-8-9 19-8zm8 9l-19 8-8-9 19-8z"/><path fill="#fa0" d="M4211 1056l-19 9-8-10 19-8zm8 10l-19 9-8-10 19-9z"/><path fill="#ffbf00" d="M4227 1076l-19 9-8-10 19-9zm7 11l-18 10-8-12 19-9z"/><path fill="#ffd500" d="M4242 1099l-18 10-8-12 18-10z"/><path fill="#ffea00" d="M4250 1111l-18 11-8-13 18-10zm8 13l-18 11-8-13 18-11z"/><path fill="#ff0" d="M4266 1137l-18 11-8-13 18-11z"/><path fill="#eaff15" d="M4274 1150l-19 12-7-14 18-11z"/><path fill="#d5ff2a" d="M4282 1164l-19 13-8-15 19-12zm8 15l-19 13-8-15 19-13z"/><path fill="#bfff40" d="M4298 1194l-19 13-8-15 19-13z"/><path fill="#af5" d="M4306 1209l-19 14-8-16 19-13z"/><path fill="#95ff6a" d="M4314 1224l-19 15-8-16 19-14z"/><path fill="#80ff80" d="M4322 1240l-19 16-8-17 19-15zm8 17l-19 16-8-17 19-16z"/><path fill="#6aff95" d="M4338 1273l-19 17-8-17 19-16z"/><path fill="#5fa" d="M4346 1290l-19 17-8-17 19-17z"/><path fill="#40ffbf" d="M4354 1306l-19 17-8-16 19-17z"/><path fill="#2bffd4" d="M4362 1322l-19 18-8-17 19-17z"/><path fill="#15ffea" d="M4370 1338l-19 19-8-17 19-18z"/><path fill="#0ff" d="M4378 1354l-19 20-8-17 19-19z"/><path fill="#00eaff" d="M4386 1370l-19 20-8-16 19-20z"/><path fill="#00d4ff" d="M4394 1386l-19 21-8-17 19-20z"/><path fill="#00bfff" d="M4402 1403l-19 21-8-17 19-21z"/><path fill="#0af" d="M4410 1419l-19 21-8-16 19-21zm8 16l-19 22-8-17 19-21z"/><path fill="#0095ff" d="M4426 1452l-19 22-8-17 19-22z"/><path fill="#0080ff" d="M4434 1470l-19 22-8-18 19-22z"/><path fill="#05f" d="M4441 1488l-18 23-8-19 19-22z"/><path fill="#ff6a00" d="M3977 921l-19-2-8-2 19 2z"/><path fill="#f50" d="M3985 923l-19-1-8-3 19 2zm8 2l-19 0-8-3 19 1zm8 2l-19 0-8-2 19 0zm8 2l-19 1-8-3 19 0zm8 2l-19 2-8-3 19-1zm8 2l-19 3-8-3 19-2z"/><path fill="#ff4000" d="M4033 936l-19 3-8-3 19-3zm7 4l-18 4-8-5 19-3zm8 4l-18 4-8-4 18-4z"/><path fill="#f50" d="M4056 948l-18 5-8-5 18-4zm8 5l-18 6-8-6 18-5zm8 5l-18 6-8-5 18-6zm8 5l-19 7-7-6 18-6zm8 6l-19 6-8-5 19-7zm8 6l-19 6-8-6 19-6zm8 5l-19 7-8-6 19-6z"/><path fill="#ff6a00" d="M4112 987l-19 7-8-7 19-7zm8 6l-19 7-8-6 19-7zm8 6l-19 8-8-7 19-7zm8 7l-19 7-8-6 19-8z"/><path fill="#ff8000" d="M4144 1013l-19 7-8-7 19-7zm8 7l-19 8-8-8 19-7zm8 8l-19 8-8-8 19-8z"/><path fill="#ff9500" d="M4168 1037l-19 8-8-9 19-8zm8 9l-19 8-8-9 19-8z"/><path fill="#fa0" d="M4184 1055l-19 9-8-10 19-8zm8 10l-19 9-8-10 19-9z"/><path fill="#ffbf00" d="M4200 1075l-19 9-8-10 19-9zm8 10l-19 9-8-10 19-9z"/><path fill="#ffd500" d="M4216 1097l-19 9-8-12 19-9zm8 12l-19 9-8-12 19-9z"/><path fill="#ffea00" d="M4232 1122l-19 9-8-13 19-9z"/><path fill="#ff0" d="M4240 1135l-19 10-8-14 19-9z"/><path fill="#eaff15" d="M4248 1148l-19 10-8-13 19-10zm7 14l-18 10-8-14 19-10z"/><path fill="#d5ff2a" d="M4263 1177l-18 10-8-15 18-10z"/><path fill="#bfff40" d="M4271 1192l-18 11-8-16 18-10z"/><path fill="#af5" d="M4279 1207l-18 11-8-15 18-11z"/><path fill="#95ff6a" d="M4287 1223l-18 11-8-16 18-11zm8 16l-19 11-7-16 18-11z"/><path fill="#80ff80" d="M4303 1256l-19 11-8-17 19-11z"/><path fill="#6aff95" d="M4311 1273l-19 11-8-17 19-11z"/><path fill="#5fa" d="M4319 1290l-19 12-8-18 19-11z"/><path fill="#40ffbf" d="M4327 1307l-19 12-8-17 19-12z"/><path fill="#2bffd4" d="M4335 1323l-19 13-8-17 19-12z"/><path fill="#15ffea" d="M4343 1340l-19 13-8-17 19-13z"/><path fill="#0ff" d="M4351 1357l-19 13-8-17 19-13z"/><path fill="#00eaff" d="M4359 1374l-19 13-8-17 19-13z"/><path fill="#00d4ff" d="M4367 1390l-19 14-8-17 19-13z"/><path fill="#00bfff" d="M4375 1407l-19 14-8-17 19-14z"/><path fill="#0af" d="M4383 1424l-19 14-8-17 19-14z"/><path fill="#0095ff" d="M4391 1440l-19 16-8-18 19-14z"/><path fill="#0080ff" d="M4399 1457l-19 17-8-18 19-16z"/><path fill="#006aff" d="M4407 1474l-19 19-8-19 19-17z"/><path fill="#05f" d="M4415 1492l-19 21-8-20 19-19z"/><path fill="#0040ff" d="M4423 1511l-19 25-8-23 19-21z"/><path fill="#ff4000" d="M3998 933l-19-8-8-2 19 7zm8 3l-19-8-8-3 19 8zm8 3l-19-8-8-3 19 8zm8 5l-19-9-8-4 19 8zm8 4l-19-9-8-4 19 9z"/><path fill="#f50" d="M4038 953l-19-9-8-5 19 9zm8 6l-19-9-8-6 19 9zm8 5l-19-9-8-5 19 9zm7 6l-18-9-8-6 19 9zm8 5l-18-9-8-5 18 9zm8 6l-18-9-8-6 18 9z"/><path fill="#ff6a00" d="M4085 987l-18-9-8-6 18 9zm8 7l-18-9-8-7 18 9zm8 6l-19-9-7-6 18 9zm8 7l-19-9-8-7 19 9z"/><path fill="#ff8000" d="M4117 1013l-19-8-8-7 19 9zm8 7l-19-8-8-7 19 8zm8 8l-19-8-8-8 19 8z"/><path fill="#ff9500" d="M4141 1036l-19-8-8-8 19 8zm8 9l-19-8-8-9 19 8z"/><path fill="#fa0" d="M4157 1054l-19-8-8-9 19 8zm8 10l-19-8-8-10 19 8zm8 10l-19-8-8-10 19 8z"/><path fill="#ffbf00" d="M4181 1084l-19-8-8-10 19 8z"/><path fill="#ffd500" d="M4189 1094l-19-7-8-11 19 8zm8 12l-19-8-8-11 19 7z"/><path fill="#ffea00" d="M4205 1118l-19-7-8-13 19 8zm8 13l-19-7-8-13 19 7z"/><path fill="#ff0" d="M4221 1145l-19-8-8-13 19 7z"/><path fill="#eaff15" d="M4229 1158l-19-7-8-14 19 8z"/><path fill="#d5ff2a" d="M4237 1172l-19-7-8-14 19 7z"/><path fill="#bfff40" d="M4245 1187l-19-7-8-15 19 7zm8 16l-19-8-8-15 19 7z"/><path fill="#af5" d="M4261 1218l-19-7-8-16 19 8z"/><path fill="#95ff6a" d="M4269 1234l-19-7-8-16 19 7z"/><path fill="#80ff80" d="M4276 1250l-18-7-8-16 19 7z"/><path fill="#6aff95" d="M4284 1267l-18-7-8-17 18 7z"/><path fill="#5fa" d="M4292 1284l-18-7-8-17 18 7z"/><path fill="#40ffbf" d="M4300 1302l-18-7-8-18 18 7z"/><path fill="#2bffd4" d="M4308 1319l-18-7-8-17 18 7z"/><path fill="#15ffea" d="M4316 1336l-19-6-7-18 18 7z"/><path fill="#0ff" d="M4324 1353l-19-6-8-17 19 6z"/><path fill="#00eaff" d="M4332 1370l-19-5-8-18 19 6z"/><path fill="#00d4ff" d="M4340 1387l-19-3-8-19 19 5z"/><path fill="#00bfff" d="M4348 1404l-19-1-8-19 19 3z"/><path fill="#0af" d="M4356 1421l-19 3-8-21 19 1zm8 17l-19 9-8-23 19-3z"/><path fill="#0080ff" d="M4372 1456l-19 18-8-27 19-9z"/><path fill="#006aff" d="M4380 1474l-19 32-8-32 19-18z"/><path fill="#05f" d="M4388 1493l-19 54-8-41 19-32z"/><path fill="#0040ff" d="M4396 1513l-19 89-8-55 19-54z"/><path fill="#002aff" d="M4404 1536l-19 142-8-76 19-89z"/><path fill="#ff4000" d="M3971 923l-19 13-8-2 19-13zm8 2l-19 13-8-2 19-13z"/><path fill="#ff2a00" d="M3987 928l-19 13-8-3 19-13zm8 3l-19 12-8-2 19-13zm8 4l-19 12-8-4 19-12zm8 4l-19 12-8-4 19-12z"/><path fill="#ff4000" d="M4019 944l-19 12-8-5 19-12zm8 6l-19 11-8-5 19-12zm8 5l-19 11-8-5 19-11zm8 6l-19 11-8-6 19-11zm8 5l-19 11-8-5 19-11zm8 6l-19 11-8-6 19-11zm8 6l-19 11-8-6 19-11z"/><path fill="#f50" d="M4075 985l-19 10-8-6 19-11zm7 6l-18 11-8-7 19-10zm8 7l-18 11-8-7 18-11zm8 7l-18 10-8-6 18-11z"/><path fill="#ff6a00" d="M4106 1012l-18 10-8-7 18-10zm8 8l-18 10-8-8 18-10zm8 8l-19 10-7-8 18-10z"/><path fill="#ff8000" d="M4130 1037l-19 10-8-9 19-10zm8 9l-19 10-8-9 19-10z"/><path fill="#ff9500" d="M4146 1056l-19 9-8-9 19-10zm8 10l-19 9-8-10 19-9z"/><path fill="#fa0" d="M4162 1076l-19 8-8-9 19-9z"/><path fill="#ffbf00" d="M4170 1087l-19 8-8-11 19-8zm8 11l-19 8-8-11 19-8z"/><path fill="#ffd500" d="M4186 1111l-19 7-8-12 19-8z"/><path fill="#ffea00" d="M4194 1124l-19 6-8-12 19-7zm8 13l-19 6-8-13 19-6z"/><path fill="#ff0" d="M4210 1151l-19 5-8-13 19-6z"/><path fill="#eaff15" d="M4218 1165l-19 5-8-14 19-5z"/><path fill="#d5ff2a" d="M4226 1180l-19 4-8-14 19-5zm8 15l-19 4-8-15 19-4z"/><path fill="#bfff40" d="M4242 1211l-19 3-8-15 19-4z"/><path fill="#af5" d="M4250 1227l-19 2-8-15 19-3z"/><path fill="#95ff6a" d="M4258 1243l-19 2-8-16 19-2z"/><path fill="#80ff80" d="M4266 1260l-19 1-8-16 19-2z"/><path fill="#6aff95" d="M4274 1277l-19 0-8-16 19-1z"/><path fill="#5fa" d="M4282 1295l-19-2-8-16 19 0z"/><path fill="#40ffbf" d="M4290 1312l-19-2-8-17 19 2z"/><path fill="#2bffd4" d="M4297 1330l-18-4-8-16 19 2z"/><path fill="#15ffea" d="M4305 1347l-18-5-8-16 18 4z"/><path fill="#0ff" d="M4313 1365l-18-7-8-16 18 5z"/><path fill="#00eaff" d="M4321 1384l-18-9-8-17 18 7z"/><path fill="#00d4ff" d="M4329 1403l-18-12-8-16 18 9z"/><path fill="#00bfff" d="M4337 1424l-19-17-7-16 18 12z"/><path fill="#0095ff" d="M4345 1447l-19-23-8-17 19 17z"/><path fill="#0080ff" d="M4353 1474l-19-32-8-18 19 23z"/><path fill="#0040ff" d="M4361 1506l-19-46-8-18 19 32z"/><path fill="#0015ff" d="M4369 1547l-19-67-8-20 19 46z"/><path fill="#0000bf" d="M4377 1602l-19-99-8-23 19 67z"/><path fill="#000080" d="M4385 1678l-19-149-8-26 19 99z"/><path fill="#ff6a00" d="M4088 1022l-19-15-8-7 19 15z"/><path fill="#ff8000" d="M4103 1038l-18-15-8-8 19 15zm8 9l-18-15-8-9 18 15z"/><path fill="#ff9500" d="M4119 1056l-18-15-8-9 18 15zm8 9l-18-14-8-10 18 15z"/><path fill="#fa0" d="M4135 1075l-18-14-8-10 18 14zm8 9l-19-13-7-10 18 14z"/><path fill="#ffbf00" d="M4151 1095l-19-14-8-10 19 13zm8 11l-19-13-8-12 19 14z"/><path fill="#ffd500" d="M4167 1118l-19-13-8-12 19 13z"/><path fill="#ffea00" d="M4175 1130l-19-12-8-13 19 13zm8 13l-19-12-8-13 19 12z"/><path fill="#ff0" d="M4191 1156l-19-12-8-13 19 12z"/><path fill="#eaff15" d="M4199 1170l-19-12-8-14 19 12z"/><path fill="#d5ff2a" d="M4207 1184l-19-11-8-15 19 12zm8 15l-19-11-8-15 19 11z"/><path fill="#bfff40" d="M4223 1214l-19-11-8-15 19 11z"/><path fill="#af5" d="M4231 1229l-19-11-8-15 19 11z"/><path fill="#95ff6a" d="M4239 1245l-19-11-8-16 19 11z"/><path fill="#80ff80" d="M4247 1261l-19-10-8-17 19 11zm8 16l-19-10-8-16 19 10z"/><path fill="#6aff95" d="M4263 1293l-19-9-8-17 19 10z"/><path fill="#5fa" d="M4271 1310l-19-9-8-17 19 9z"/><path fill="#40ffbf" d="M4279 1326l-19-9-8-16 19 9z"/><path fill="#2bffd4" d="M4287 1342l-19-8-8-17 19 9z"/><path fill="#15ffea" d="M4295 1358l-19-8-8-16 19 8z"/><path fill="#0ff" d="M4303 1375l-19-9-8-16 19 8z"/><path fill="#00eaff" d="M4311 1391l-19-9-8-16 19 9z"/><path fill="#00d4ff" d="M4318 1407l-18-9-8-16 19 9z"/><path fill="#00bfff" d="M4326 1424l-18-10-8-16 18 9z"/><path fill="#0af" d="M4334 1442l-18-12-8-16 18 10z"/><path fill="#0095ff" d="M4342 1460l-18-14-8-16 18 12z"/><path fill="#0080ff" d="M4350 1480l-18-18-8-16 18 14z"/><path fill="#006aff" d="M4358 1503l-19-25-7-16 18 18z"/><path fill="#0040ff" d="M4366 1529l-19-35-8-16 19 25z"/><path fill="#f00" d="M3782 828l-19 24-8-2 19-24zm8 2l-19 25-8-3 19-24zm8 3l-19 25-8-3 19-25zm8 3l-19 25-8-3 19-25zm8 3l-19 25-8-3 19-25zm8 3l-19 25-8-3 19-25zm8 4l-19 25-8-4 19-25zm8 3l-19 25-8-3 19-25zm8 4l-19 25-8-4 19-25zm8 4l-19 25-8-4 19-25zm8 4l-19 25-8-4 19-25zm8 4l-19 25-8-4 19-25zm8 4l-19 25-8-4 19-25zm8 4l-19 26-8-5 19-25zm8 5l-19 25-8-4 19-26zm8 4l-19 26-8-5 19-25zm8 5l-19 26-8-5 19-26zm7 5l-18 26-8-5 19-26zm8 5l-18 26-8-5 18-26zm8 4l-18 26-8-4 18-26zm8 5l-18 26-8-5 18-26z"/><path fill="#ff1500" d="M3949 911l-18 26-8-5 18-26zm8 5l-19 26-7-5 18-26zm8 6l-19 26-8-6 19-26zm8 6l-19 26-8-6 19-26zm8 6l-19 27-8-7 19-26zm8 7l-19 26-8-6 19-27z"/><path fill="#ff2a00" d="M3997 948l-19 26-8-7 19-26zm8 6l-19 26-8-6 19-26zm8 6l-19 26-8-6 19-26zm8 7l-19 26-8-7 19-26zm8 6l-19 26-8-6 19-26zm8 6l-19 26-8-6 19-26z"/><path fill="#ff4000" d="M4045 986l-19 26-8-7 19-26zm8 7l-19 26-8-7 19-26zm8 7l-19 25-8-6 19-26zm8 7l-19 25-8-7 19-25z"/><path fill="#f50" d="M4077 1015l-19 25-8-8 19-25zm8 8l-19 25-8-8 19-25zm8 9l-19 25-8-9 19-25z"/><path fill="#ff6a00" d="M4101 1041l-19 25-8-9 19-25zm8 10l-19 24-8-9 19-25z"/><path fill="#ff8000" d="M4117 1061l-19 23-8-9 19-24z"/><path fill="#ff9500" d="M4124 1071l-18 23-8-10 19-23zm8 10l-18 23-8-10 18-23z"/><path fill="#fa0" d="M4140 1093l-18 22-8-11 18-23z"/><path fill="#ffbf00" d="M4148 1105l-18 22-8-12 18-22zm8 13l-18 21-8-12 18-22z"/><path fill="#ffd500" d="M4164 1131l-19 21-7-13 18-21z"/><path fill="#ffea00" d="M4172 1144l-19 20-8-12 19-21zm8 14l-19 20-8-14 19-20z"/><path fill="#ff0" d="M4188 1173l-19 18-8-13 19-20z"/><path fill="#eaff15" d="M4196 1188l-19 18-8-15 19-18z"/><path fill="#d5ff2a" d="M4204 1203l-19 17-8-14 19-18z"/><path fill="#bfff40" d="M4212 1218l-19 17-8-15 19-17z"/><path fill="#af5" d="M4220 1234l-19 16-8-15 19-17z"/><path fill="#95ff6a" d="M4228 1251l-19 15-8-16 19-16zm8 16l-19 14-8-15 19-15z"/><path fill="#80ff80" d="M4244 1284l-19 13-8-16 19-14z"/><path fill="#6aff95" d="M4252 1301l-19 12-8-16 19-13z"/><path fill="#5fa" d="M4260 1317l-19 12-8-16 19-12z"/><path fill="#40ffbf" d="M4268 1334l-19 10-8-15 19-12z"/><path fill="#2bffd4" d="M4276 1350l-19 9-8-15 19-10z"/><path fill="#15ffea" d="M4284 1366l-19 9-8-16 19-9z"/><path fill="#0ff" d="M4292 1382l-19 8-8-15 19-9z"/><path fill="#00eaff" d="M4300 1398l-19 7-8-15 19-8z"/><path fill="#00d4ff" d="M4308 1414l-19 6-8-15 19-7z"/><path fill="#00bfff" d="M4316 1430l-19 5-8-15 19-6zm8 16l-19 3-8-14 19-5z"/><path fill="#0af" d="M4332 1462l-19 2-8-15 19-3z"/><path fill="#0095ff" d="M4339 1478l-18 0-8-14 19-2z"/><path fill="#0080ff" d="M4347 1494l-18-3-8-13 18 0z"/><path fill="#ff2a00" d="M3763 852l-19 8-7-3 18-7zm8 3l-19 7-8-2 19-8z"/><path fill="#ff1500" d="M3779 858l-19 7-8-3 19-7zm8 3l-19 7-8-3 19-7zm8 3l-19 7-8-3 19-7zm8 3l-19 8-8-4 19-7zm8 4l-19 8-8-4 19-8zm8 3l-19 9-8-4 19-8zm8 4l-19 9-8-4 19-9zm8 4l-19 9-8-4 19-9zm8 4l-19 9-8-4 19-9zm8 4l-19 9-8-4 19-9zm8 4l-19 10-8-5 19-9zm8 5l-19 9-8-4 19-10z"/><path fill="#ff2a00" d="M3875 903l-19 10-8-5 19-9zm8 5l-19 10-8-5 19-10zm8 5l-19 10-8-5 19-10zm8 5l-19 10-8-5 19-10zm8 5l-19 10-8-5 19-10zm8 4l-19 11-8-5 19-10zm8 5l-19 11-8-5 19-11zm8 5l-19 11-8-5 19-11zm7 5l-18 12-8-6 19-11zm8 6l-18 11-8-5 18-12zm8 6l-18 12-8-7 18-11z"/><path fill="#ff4000" d="M3962 961l-18 11-8-6 18-12zm8 6l-18 12-8-7 18-11zm8 7l-19 12-7-7 18-12zm8 6l-19 12-8-6 19-12zm8 6l-19 12-8-6 19-12z"/><path fill="#f50" d="M4002 993l-19 11-8-6 19-12zm8 6l-19 12-8-7 19-11zm8 6l-19 12-8-6 19-12zm8 7l-19 11-8-6 19-12z"/><path fill="#ff6a00" d="M4034 1019l-19 11-8-7 19-11zm8 6l-19 12-8-7 19-11zm8 7l-19 12-8-7 19-12zm8 8l-19 11-8-7 19-12z"/><path fill="#ff8000" d="M4066 1048l-19 11-8-8 19-11zm8 9l-19 11-8-9 19-11z"/><path fill="#ff9500" d="M4082 1066l-19 10-8-8 19-11zm8 9l-19 10-8-9 19-10z"/><path fill="#fa0" d="M4098 1084l-19 11-8-10 19-10zm8 10l-19 10-8-9 19-11z"/><path fill="#ffbf00" d="M4114 1104l-19 10-8-10 19-10zm8 11l-19 10-8-11 19-10z"/><path fill="#ffd500" d="M4130 1127l-19 9-8-11 19-10z"/><path fill="#ffea00" d="M4138 1139l-19 9-8-12 19-9zm7 13l-18 8-8-12 19-9z"/><path fill="#ff0" d="M4153 1164l-18 8-8-12 18-8z"/><path fill="#eaff15" d="M4161 1178l-18 7-8-13 18-8zm8 13l-18 8-8-14 18-7z"/><path fill="#d5ff2a" d="M4177 1206l-18 6-8-13 18-8z"/><path fill="#bfff40" d="M4185 1220l-19 6-7-14 18-6z"/><path fill="#af5" d="M4193 1235l-19 6-8-15 19-6zm8 15l-19 5-8-14 19-6z"/><path fill="#95ff6a" d="M4209 1266l-19 4-8-15 19-5z"/><path fill="#80ff80" d="M4217 1281l-19 4-8-15 19-4z"/><path fill="#6aff95" d="M4225 1297l-19 4-8-16 19-4z"/><path fill="#5fa" d="M4233 1313l-19 3-8-15 19-4z"/><path fill="#40ffbf" d="M4241 1329l-19 2-8-15 19-3zm8 15l-19 1-8-14 19-2z"/><path fill="#2bffd4" d="M4257 1359l-19 1-8-15 19-1z"/><path fill="#15ffea" d="M4265 1375l-19 0-8-15 19-1z"/><path fill="#0ff" d="M4273 1390l-19-1-8-14 19 0z"/><path fill="#00eaff" d="M4281 1405l-19-1-8-15 19 1z"/><path fill="#00d4ff" d="M4289 1420l-19-2-8-14 19 1zm8 15l-19-3-8-14 19 2z"/><path fill="#00bfff" d="M4305 1449l-19-3-8-14 19 3z"/><path fill="#0af" d="M4313 1464l-19-4-8-14 19 3z"/><path fill="#0095ff" d="M4321 1478l-19-5-8-13 19 4z"/><path fill="#0080ff" d="M4329 1491l-19-5-8-13 19 5z"/><path fill="#ff8000" d="M4047 1059l-19-16-8-8 19 16z"/><path fill="#ff9500" d="M4055 1068l-19-16-8-9 19 16zm8 8l-19-15-8-9 19 16z"/><path fill="#fa0" d="M4071 1085l-19-15-8-9 19 15zm8 10l-19-15-8-10 19 15z"/><path fill="#ffbf00" d="M4087 1104l-19-14-8-10 19 15zm8 10l-19-13-8-11 19 14z"/><path fill="#ffd500" d="M4103 1125l-19-13-8-11 19 13zm8 11l-19-12-8-12 19 13z"/><path fill="#ffea00" d="M4119 1148l-19-12-8-12 19 12zm8 12l-19-11-8-13 19 12z"/><path fill="#ff0" d="M4135 1172l-19-11-8-12 19 11z"/><path fill="#eaff15" d="M4143 1185l-19-10-8-14 19 11z"/><path fill="#d5ff2a" d="M4151 1199l-19-10-8-14 19 10zm8 13l-19-8-8-15 19 10z"/><path fill="#bfff40" d="M4166 1226l-18-7-8-15 19 8z"/><path fill="#af5" d="M4174 1241l-18-8-8-14 18 7zm8 14l-18-6-8-16 18 8z"/><path fill="#95ff6a" d="M4190 1270l-18-6-8-15 18 6z"/><path fill="#80ff80" d="M4198 1285l-18-5-8-16 18 6z"/><path fill="#6aff95" d="M4206 1301l-19-4-7-17 18 5z"/><path fill="#5fa" d="M4214 1316l-19-3-8-16 19 4zm8 15l-19-3-8-15 19 3z"/><path fill="#40ffbf" d="M4230 1345l-19-1-8-16 19 3z"/><path fill="#2bffd4" d="M4238 1360l-19-1-8-15 19 1z"/><path fill="#15ffea" d="M4246 1375l-19 0-8-16 19 1z"/><path fill="#0ff" d="M4254 1389l-19 1-8-15 19 0zm8 15l-19 1-8-15 19-1z"/><path fill="#00eaff" d="M4270 1418l-19 2-8-15 19-1z"/><path fill="#00d4ff" d="M4278 1432l-19 4-8-16 19-2z"/><path fill="#00bfff" d="M4286 1446l-19 5-8-15 19-4zm8 14l-19 6-8-15 19-5z"/><path fill="#0af" d="M4302 1473l-19 8-8-15 19-6z"/><path fill="#0095ff" d="M4310 1486l-19 10-8-15 19-8z"/><path fill="#ff1500" d="M3726 847l-19 16-8-2 19-16z"/><path fill="#f00" d="M3734 849l-19 17-8-3 19-16zm8 3l-19 16-8-2 19-17zm8 3l-19 16-8-3 19-16zm8 3l-19 16-8-3 19-16zm8 3l-19 17-8-4 19-16zm7 3l-18 17-8-3 19-17zm8 4l-18 17-8-4 18-17zm8 4l-18 16-8-3 18-17zm8 3l-18 17-8-4 18-16zm8 4l-18 17-8-4 18-17zm8 4l-19 17-7-4 18-17zm8 4l-19 17-8-4 19-17zm8 4l-19 17-8-4 19-17zm8 5l-19 17-8-5 19-17zm8 5l-19 16-8-4 19-17zm8 4l-19 17-8-5 19-16zm8 5l-19 17-8-5 19-17z"/><path fill="#ff1500" d="M3869 915l-19 16-8-4 19-17zm8 4l-19 17-8-5 19-16zm8 5l-19 17-8-5 19-17zm8 5l-19 17-8-5 19-17zm8 5l-19 17-8-5 19-17zm8 6l-19 16-8-5 19-17zm8 6l-19 16-8-6 19-16zm8 6l-19 17-8-7 19-16z"/><path fill="#ff2a00" d="M3933 959l-19 17-8-7 19-17zm8 7l-19 17-8-7 19-17zm8 7l-19 16-8-6 19-17zm8 6l-19 17-8-7 19-16zm8 6l-19 17-8-6 19-17zm8 7l-19 16-8-6 19-17z"/><path fill="#ff4000" d="M3980 999l-18 16-8-7 19-16zm8 6l-18 17-8-7 18-16zm8 7l-18 17-8-7 18-17zm8 8l-18 16-8-7 18-17z"/><path fill="#f50" d="M4012 1027l-18 16-8-7 18-16zm8 8l-19 16-7-8 18-16zm8 8l-19 16-8-8 19-16z"/><path fill="#ff6a00" d="M4036 1052l-19 16-8-9 19-16zm8 9l-19 16-8-9 19-16z"/><path fill="#ff8000" d="M4052 1070l-19 16-8-9 19-16zm8 10l-19 16-8-10 19-16z"/><path fill="#ff9500" d="M4068 1090l-19 15-8-9 19-16z"/><path fill="#fa0" d="M4076 1101l-19 15-8-11 19-15zm8 11l-19 15-8-11 19-15z"/><path fill="#ffbf00" d="M4092 1124l-19 14-8-11 19-15zm8 12l-19 14-8-12 19-14z"/><path fill="#ffd500" d="M4108 1149l-19 14-8-13 19-14z"/><path fill="#ffea00" d="M4116 1161l-19 14-8-12 19-14z"/><path fill="#ff0" d="M4124 1175l-19 13-8-13 19-14zm8 14l-19 13-8-14 19-13z"/><path fill="#eaff15" d="M4140 1204l-19 12-8-14 19-13z"/><path fill="#d5ff2a" d="M4148 1219l-19 12-8-15 19-12z"/><path fill="#bfff40" d="M4156 1233l-19 12-8-14 19-12z"/><path fill="#af5" d="M4164 1249l-19 11-8-15 19-12zm8 15l-19 11-8-15 19-11z"/><path fill="#95ff6a" d="M4180 1280l-19 11-8-16 19-11z"/><path fill="#80ff80" d="M4187 1297l-18 10-8-16 19-11z"/><path fill="#6aff95" d="M4195 1313l-18 9-8-15 18-10z"/><path fill="#5fa" d="M4203 1328l-18 9-8-15 18-9z"/><path fill="#40ffbf" d="M4211 1344l-18 8-8-15 18-9z"/><path fill="#2bffd4" d="M4219 1359l-18 8-8-15 18-8zm8 16l-19 7-7-15 18-8z"/><path fill="#15ffea" d="M4235 1390l-19 7-8-15 19-7z"/><path fill="#0ff" d="M4243 1405l-19 7-8-15 19-7z"/><path fill="#00eaff" d="M4251 1420l-19 6-8-14 19-7z"/><path fill="#00d4ff" d="M4259 1436l-19 5-8-15 19-6z"/><path fill="#00bfff" d="M4267 1451l-19 5-8-15 19-5zm8 15l-19 4-8-14 19-5z"/><path fill="#0af" d="M4283 1481l-19 4-8-15 19-4z"/><path fill="#0095ff" d="M4291 1496l-19 4-8-15 19-4z"/><path fill="#ff1500" d="M3707 863l-19 20-8-2 19-20zm8 3l-19 19-8-2 19-20zm8 2l-19 20-8-3 19-19zm8 3l-19 20-8-3 19-20zm8 3l-19 20-8-3 19-20zm8 4l-19 20-8-4 19-20zm8 3l-19 20-8-3 19-20zm8 4l-19 20-8-4 19-20zm8 3l-19 21-8-4 19-20zm8 4l-19 21-8-4 19-21zm8 4l-19 21-8-4 19-21zm7 4l-18 21-8-4 19-21zm8 4l-18 21-8-4 18-21zm8 4l-18 22-8-5 18-21zm8 5l-18 22-8-5 18-22zm8 4l-18 23-8-5 18-22zm8 5l-19 22-7-4 18-23zm8 5l-19 22-8-5 19-22zm8 4l-19 23-8-5 19-22zm8 5l-19 23-8-5 19-23zm8 5l-19 23-8-5 19-23z"/><path fill="#ff2a00" d="M3874 946l-19 23-8-5 19-23zm8 5l-19 23-8-5 19-23zm8 5l-19 24-8-6 19-23zm8 6l-19 24-8-6 19-24zm8 7l-19 24-8-7 19-24zm8 7l-19 24-8-7 19-24z"/><path fill="#ff4000" d="M3922 983l-19 24-8-7 19-24zm8 6l-19 24-8-6 19-24zm8 7l-19 24-8-7 19-24zm8 6l-19 24-8-6 19-24zm8 6l-19 24-8-6 19-24z"/><path fill="#f50" d="M3962 1015l-19 24-8-7 19-24zm8 7l-19 24-8-7 19-24zm8 7l-19 24-8-7 19-24zm8 7l-19 24-8-7 19-24z"/><path fill="#ff6a00" d="M3994 1043l-19 24-8-7 19-24zm7 8l-18 23-8-7 19-24zm8 8l-18 23-8-8 18-23z"/><path fill="#ff8000" d="M4017 1068l-18 23-8-9 18-23zm8 9l-18 23-8-9 18-23z"/><path fill="#ff9500" d="M4033 1086l-18 23-8-9 18-23zm8 10l-19 22-7-9 18-23z"/><path fill="#fa0" d="M4049 1105l-19 22-8-9 19-22zm8 11l-19 21-8-10 19-22z"/><path fill="#ffbf00" d="M4065 1127l-19 21-8-11 19-21z"/><path fill="#ffd500" d="M4073 1138l-19 21-8-11 19-21zm8 12l-19 20-8-11 19-21z"/><path fill="#ffea00" d="M4089 1163l-19 19-8-12 19-20z"/><path fill="#ff0" d="M4097 1175l-19 19-8-12 19-19zm8 13l-19 19-8-13 19-19z"/><path fill="#eaff15" d="M4113 1202l-19 18-8-13 19-19z"/><path fill="#d5ff2a" d="M4121 1216l-19 18-8-14 19-18z"/><path fill="#bfff40" d="M4129 1231l-19 16-8-13 19-18zm8 14l-19 16-8-14 19-16z"/><path fill="#af5" d="M4145 1260l-19 15-8-14 19-16z"/><path fill="#95ff6a" d="M4153 1275l-19 15-8-15 19-15z"/><path fill="#80ff80" d="M4161 1291l-19 14-8-15 19-15z"/><path fill="#6aff95" d="M4169 1307l-19 13-8-15 19-14zm8 15l-19 12-8-14 19-13z"/><path fill="#5fa" d="M4185 1337l-19 12-8-15 19-12z"/><path fill="#40ffbf" d="M4193 1352l-19 11-8-14 19-12z"/><path fill="#2bffd4" d="M4201 1367l-19 10-8-14 19-11z"/><path fill="#15ffea" d="M4208 1382l-18 9-8-14 19-10zm8 15l-18 8-8-14 18-9z"/><path fill="#0ff" d="M4224 1412l-18 7-8-14 18-8z"/><path fill="#00eaff" d="M4232 1426l-18 7-8-14 18-7z"/><path fill="#00d4ff" d="M4240 1441l-18 6-8-14 18-7z"/><path fill="#00bfff" d="M4248 1456l-19 5-7-14 18-6zm8 14l-19 4-8-13 19-5z"/><path fill="#0af" d="M4264 1485l-19 2-8-13 19-4z"/><path fill="#0095ff" d="M4272 1500l-19-1-8-12 19-2z"/><path fill="#ff2a00" d="M3688 883l-19 26-8-2 19-26zm8 2l-19 26-8-2 19-26zm8 3l-19 26-8-3 19-26zm8 3l-19 26-8-3 19-26zm8 3l-19 26-8-3 19-26zm8 4l-19 25-8-3 19-26zm8 3l-19 26-8-4 19-25zm8 4l-19 26-8-4 19-26zm8 4l-19 25-8-3 19-26zm8 4l-19 25-8-4 19-25zm8 4l-19 25-8-4 19-25zm8 4l-19 25-8-4 19-25zm8 4l-19 25-8-4 19-25zm8 5l-19 24-8-4 19-25zm8 5l-19 23-8-4 19-24zm8 5l-19 23-8-5 19-23zm7 4l-18 24-8-5 19-23zm8 5l-18 23-8-4 18-24z"/><path fill="#ff4000" d="M3831 954l-18 23-8-5 18-23zm8 5l-18 22-8-4 18-23zm8 5l-18 22-8-5 18-22zm8 5l-19 22-7-5 18-22zm8 5l-19 22-8-5 19-22zm8 6l-19 21-8-5 19-22zm8 6l-19 21-8-6 19-21zm8 7l-19 21-8-7 19-21z"/><path fill="#f50" d="M3895 1000l-19 20-8-6 19-21zm8 7l-19 20-8-7 19-20zm8 6l-19 21-8-7 19-20zm8 7l-19 20-8-6 19-21z"/><path fill="#ff6a00" d="M3927 1026l-19 20-8-6 19-20zm8 6l-19 20-8-6 19-20zm8 7l-19 20-8-7 19-20zm8 7l-19 20-8-7 19-20z"/><path fill="#ff8000" d="M3959 1053l-19 19-8-6 19-20zm8 7l-19 19-8-7 19-19zm8 7l-19 19-8-7 19-19z"/><path fill="#ff9500" d="M3983 1074l-19 20-8-8 19-19zm8 8l-19 20-8-8 19-20z"/><path fill="#fa0" d="M3999 1091l-19 19-8-8 19-20zm8 9l-19 18-8-8 19-19zm8 9l-19 18-8-9 19-18z"/><path fill="#ffbf00" d="M4022 1118l-18 18-8-9 19-18zm8 9l-18 18-8-9 18-18z"/><path fill="#ffd500" d="M4038 1137l-18 18-8-10 18-18zm8 11l-18 17-8-10 18-18z"/><path fill="#ffea00" d="M4054 1159l-18 17-8-11 18-17zm8 11l-19 17-7-11 18-17z"/><path fill="#ff0" d="M4070 1182l-19 16-8-11 19-17z"/><path fill="#eaff15" d="M4078 1194l-19 16-8-12 19-16zm8 13l-19 15-8-12 19-16z"/><path fill="#d5ff2a" d="M4094 1220l-19 15-8-13 19-15z"/><path fill="#bfff40" d="M4102 1234l-19 14-8-13 19-15zm8 13l-19 14-8-13 19-14z"/><path fill="#af5" d="M4118 1261l-19 13-8-13 19-14z"/><path fill="#95ff6a" d="M4126 1275l-19 13-8-14 19-13z"/><path fill="#80ff80" d="M4134 1290l-19 12-8-14 19-13zm8 15l-19 11-8-14 19-12z"/><path fill="#6aff95" d="M4150 1320l-19 10-8-14 19-11z"/><path fill="#5fa" d="M4158 1334l-19 10-8-14 19-10z"/><path fill="#40ffbf" d="M4166 1349l-19 9-8-14 19-10zm8 14l-19 9-8-14 19-9z"/><path fill="#2bffd4" d="M4182 1377l-19 8-8-13 19-9z"/><path fill="#15ffea" d="M4190 1391l-19 8-8-14 19-8z"/><path fill="#0ff" d="M4198 1405l-19 7-8-13 19-8zm8 14l-19 6-8-13 19-7z"/><path fill="#00eaff" d="M4214 1433l-19 5-8-13 19-6z"/><path fill="#00d4ff" d="M4222 1447l-19 5-8-14 19-5z"/><path fill="#00bfff" d="M4229 1461l-18 3-8-12 19-5zm8 13l-18 3-8-13 18-3z"/><path fill="#0af" d="M4245 1487l-18 1-8-11 18-3z"/><path fill="#0095ff" d="M4253 1499l-18 0-8-11 18-1z"/><path fill="#ff8000" d="M3908 1046l-19-15-8-7 19 16z"/><path fill="#ff9500" d="M3932 1066l-19-15-8-7 19 15zm8 6l-19-14-8-7 19 15zm8 7l-19-14-8-7 19 14z"/><path fill="#fa0" d="M3956 1086l-19-13-8-8 19 14zm8 8l-19-14-8-7 19 13zm8 8l-19-13-8-9 19 14z"/><path fill="#ffbf00" d="M3980 1110l-19-13-8-8 19 13zm8 8l-19-12-8-9 19 13zm8 9l-19-12-8-9 19 12z"/><path fill="#ffd500" d="M4004 1136l-19-11-8-10 19 12zm8 9l-19-11-8-9 19 11z"/><path fill="#ffea00" d="M4020 1155l-19-11-8-10 19 11zm8 10l-19-10-8-11 19 11z"/><path fill="#ff0" d="M4036 1176l-19-10-8-11 19 10zm7 11l-18-9-8-12 19 10z"/><path fill="#eaff15" d="M4051 1198l-18-9-8-11 18 9zm8 12l-18-8-8-13 18 9z"/><path fill="#d5ff2a" d="M4067 1222l-18-8-8-12 18 8z"/><path fill="#bfff40" d="M4075 1235l-18-7-8-14 18 8zm8 13l-19-7-7-13 18 7z"/><path fill="#af5" d="M4091 1261l-19-6-8-14 19 7z"/><path fill="#95ff6a" d="M4099 1274l-19-5-8-14 19 6zm8 14l-19-5-8-14 19 5z"/><path fill="#80ff80" d="M4115 1302l-19-4-8-15 19 5z"/><path fill="#6aff95" d="M4123 1316l-19-4-8-14 19 4zm8 14l-19-3-8-15 19 4z"/><path fill="#5fa" d="M4139 1344l-19-2-8-15 19 3z"/><path fill="#40ffbf" d="M4147 1358l-19-2-8-14 19 2z"/><path fill="#2bffd4" d="M4155 1372l-19-2-8-14 19 2zm8 13l-19 0-8-15 19 2z"/><path fill="#15ffea" d="M4171 1399l-19 0-8-14 19 0z"/><path fill="#0ff" d="M4179 1412l-19 0-8-13 19 0zm8 13l-19 1-8-14 19 0z"/><path fill="#00eaff" d="M4195 1438l-19 2-8-14 19-1z"/><path fill="#00d4ff" d="M4203 1452l-19 2-8-14 19-2zm8 12l-19 3-8-13 19-2z"/><path fill="#00bfff" d="M4219 1477l-19 3-8-13 19-3z"/><path fill="#0af" d="M4227 1488l-19 5-8-13 19-3zm8 11l-19 5-8-11 19-5z"/><path fill="#ff2a00" d="M3650 887l-18 15-8-2 18-16zm8 2l-18 15-8-2 18-15zm8 3l-18 15-8-3 18-15zm8 3l-18 15-8-3 18-15zm8 3l-19 15-7-3 18-15zm8 3l-19 15-8-3 19-15zm8 4l-19 15-8-4 19-15zm8 4l-19 15-8-4 19-15zm8 3l-19 15-8-3 19-15zm8 4l-19 15-8-4 19-15zm8 4l-19 15-8-4 19-15zm8 4l-19 15-8-4 19-15zm8 5l-19 15-8-5 19-15zm8 4l-19 15-8-4 19-15zm8 5l-19 15-8-5 19-15zm8 5l-19 15-8-5 19-15zm8 5l-19 14-8-4 19-15zm8 5l-19 14-8-5 19-14zm8 5l-19 14-8-5 19-14zm8 5l-19 14-8-5 19-14zm8 4l-19 15-8-5 19-14zm8 5l-19 15-8-5 19-15zm8 6l-19 14-8-5 19-15z"/><path fill="#ff4000" d="M3834 984l-19 14-8-6 19-14zm8 6l-19 15-8-7 19-14zm8 7l-19 14-8-6 19-15zm7 7l-18 14-8-7 19-14zm8 7l-18 14-8-7 18-14z"/><path fill="#f50" d="M3873 1018l-18 14-8-7 18-14zm8 6l-18 15-8-7 18-14zm8 7l-18 14-8-6 18-15zm8 6l-19 15-7-7 18-14z"/><path fill="#ff6a00" d="M3905 1044l-19 15-8-7 19-15zm8 7l-19 15-8-7 19-15zm8 7l-19 15-8-7 19-15z"/><path fill="#ff8000" d="M3929 1065l-19 15-8-7 19-15zm8 8l-19 14-8-7 19-15zm8 7l-19 15-8-8 19-14z"/><path fill="#ff9500" d="M3953 1089l-19 14-8-8 19-15zm8 8l-19 15-8-9 19-14z"/><path fill="#fa0" d="M3969 1106l-19 15-8-9 19-15zm8 9l-19 15-8-9 19-15zm8 10l-19 14-8-9 19-15z"/><path fill="#ffbf00" d="M3993 1134l-19 15-8-10 19-14zm8 10l-19 15-8-10 19-15z"/><path fill="#ffd500" d="M4009 1155l-19 14-8-10 19-15z"/><path fill="#ffea00" d="M4017 1166l-19 14-8-11 19-14zm8 12l-19 14-8-12 19-14z"/><path fill="#ff0" d="M4033 1189l-19 14-8-11 19-14zm8 13l-19 13-8-12 19-14z"/><path fill="#eaff15" d="M4049 1214l-19 14-8-13 19-13z"/><path fill="#d5ff2a" d="M4057 1228l-19 13-8-13 19-14zm7 13l-18 13-8-13 19-13z"/><path fill="#bfff40" d="M4072 1255l-18 13-8-14 18-13z"/><path fill="#af5" d="M4080 1269l-18 13-8-14 18-13z"/><path fill="#95ff6a" d="M4088 1283l-18 12-8-13 18-13zm8 15l-18 12-8-15 18-12z"/><path fill="#80ff80" d="M4104 1312l-19 12-7-14 18-12z"/><path fill="#6aff95" d="M4112 1327l-19 12-8-15 19-12z"/><path fill="#5fa" d="M4120 1342l-19 11-8-14 19-12zm8 14l-19 11-8-14 19-11z"/><path fill="#40ffbf" d="M4136 1370l-19 11-8-14 19-11z"/><path fill="#2bffd4" d="M4144 1385l-19 10-8-14 19-11z"/><path fill="#15ffea" d="M4152 1399l-19 10-8-14 19-10zm8 13l-19 10-8-13 19-10z"/><path fill="#0ff" d="M4168 1426l-19 10-8-14 19-10z"/><path fill="#00eaff" d="M4176 1440l-19 9-8-13 19-10z"/><path fill="#00d4ff" d="M4184 1454l-19 9-8-14 19-9zm8 13l-19 9-8-13 19-9z"/><path fill="#00bfff" d="M4200 1480l-19 8-8-12 19-9z"/><path fill="#0af" d="M4208 1493l-19 7-8-12 19-8zm8 11l-19 7-8-11 19-7z"/><path fill="#ff4000" d="M3632 902l-19 9-8-3 19-8z"/><path fill="#ff2a00" d="M3640 904l-19 9-8-2 19-9zm8 3l-19 9-8-3 19-9zm8 3l-19 9-8-3 19-9zm7 3l-18 9-8-3 19-9zm8 3l-18 10-8-4 18-9zm8 4l-18 9-8-3 18-10zm8 4l-18 9-8-4 18-9zm8 3l-18 10-8-4 18-9zm8 4l-19 11-7-5 18-10zm8 4l-19 11-8-4 19-11zm8 4l-19 11-8-4 19-11zm8 5l-19 11-8-5 19-11zm8 4l-19 11-8-4 19-11zm8 5l-19 11-8-5 19-11z"/><path fill="#ff4000" d="M3751 958l-19 11-8-5 19-11zm8 4l-19 13-8-6 19-11zm8 5l-19 13-8-5 19-13zm8 5l-19 13-8-5 19-13zm8 5l-19 13-8-5 19-13zm8 5l-19 13-8-5 19-13zm8 5l-19 13-8-5 19-13zm8 5l-19 14-8-6 19-13zm8 6l-19 14-8-6 19-14zm8 7l-19 14-8-7 19-14z"/><path fill="#f50" d="M3831 1011l-19 15-8-7 19-14zm8 7l-19 15-8-7 19-15zm8 7l-19 15-8-7 19-15z"/><path fill="#ff6a00" d="M3855 1032l-19 15-8-7 19-15zm8 7l-19 15-8-7 19-15zm8 6l-19 15-8-6 19-15zm7 7l-18 15-8-7 19-15z"/><path fill="#ff8000" d="M3886 1059l-18 15-8-7 18-15zm8 7l-18 15-8-7 18-15zm8 7l-18 15-8-7 18-15z"/><path fill="#ff9500" d="M3910 1080l-18 15-8-7 18-15zm8 7l-19 15-7-7 18-15zm8 8l-19 15-8-8 19-15z"/><path fill="#fa0" d="M3934 1103l-19 15-8-8 19-15zm8 9l-19 15-8-9 19-15zm8 9l-19 15-8-9 19-15z"/><path fill="#ffbf00" d="M3958 1130l-19 15-8-9 19-15zm8 9l-19 15-8-9 19-15z"/><path fill="#ffd500" d="M3974 1149l-19 15-8-10 19-15zm8 10l-19 15-8-10 19-15z"/><path fill="#ffea00" d="M3990 1169l-19 15-8-10 19-15zm8 11l-19 15-8-11 19-15z"/><path fill="#ff0" d="M4006 1192l-19 14-8-11 19-15zm8 11l-19 15-8-12 19-14z"/><path fill="#eaff15" d="M4022 1215l-19 15-8-12 19-15z"/><path fill="#d5ff2a" d="M4030 1228l-19 14-8-12 19-15zm8 13l-19 14-8-13 19-14z"/><path fill="#bfff40" d="M4046 1254l-19 14-8-13 19-14z"/><path fill="#af5" d="M4054 1268l-19 14-8-14 19-14zm8 14l-19 13-8-13 19-14z"/><path fill="#95ff6a" d="M4070 1295l-19 14-8-14 19-13z"/><path fill="#80ff80" d="M4078 1310l-19 13-8-14 19-14z"/><path fill="#6aff95" d="M4085 1324l-18 14-8-15 19-13zm8 15l-18 13-8-14 18-14z"/><path fill="#5fa" d="M4101 1353l-18 13-8-14 18-13z"/><path fill="#40ffbf" d="M4109 1367l-18 13-8-14 18-13z"/><path fill="#2bffd4" d="M4117 1381l-18 13-8-14 18-13zm8 14l-19 12-7-13 18-13z"/><path fill="#15ffea" d="M4133 1409l-19 12-8-14 19-12z"/><path fill="#0ff" d="M4141 1422l-19 12-8-13 19-12zm8 14l-19 12-8-14 19-12z"/><path fill="#00eaff" d="M4157 1449l-19 12-8-13 19-12z"/><path fill="#00d4ff" d="M4165 1463l-19 12-8-14 19-12z"/><path fill="#00bfff" d="M4173 1476l-19 12-8-13 19-12zm8 12l-19 13-8-13 19-12z"/><path fill="#0af" d="M4189 1500l-19 15-8-14 19-13zm8 11l-19 16-8-12 19-15z"/><path fill="#ff4000" d="M3613 911l-19 16-8-2 19-17zm8 2l-19 17-8-3 19-16zm8 3l-19 17-8-3 19-17zm8 3l-19 18-8-4 19-17zm8 3l-19 18-8-3 19-18zm8 4l-19 18-8-4 19-18zm8 3l-19 19-8-4 19-18zm8 4l-19 20-8-5 19-19zm8 4l-19 20-8-4 19-20zm7 5l-18 20-8-5 19-20zm8 4l-18 21-8-5 18-20zm8 4l-18 22-8-5 18-21zm8 5l-18 22-8-5 18-22zm8 4l-18 23-8-5 18-22zm8 5l-19 24-7-6 18-23zm8 5l-19 25-8-6 19-24zm8 6l-19 24-8-5 19-25zm8 5l-19 25-8-6 19-24zm8 5l-19 26-8-6 19-25zm8 5l-19 27-8-6 19-26z"/><path fill="#f50" d="M3772 995l-19 27-8-5 19-27zm8 5l-19 28-8-6 19-27zm8 6l-19 28-8-6 19-28zm8 6l-19 29-8-7 19-28zm8 7l-19 28-8-6 19-29z"/><path fill="#ff6a00" d="M3812 1026l-19 29-8-8 19-28zm8 7l-19 29-8-7 19-29zm8 7l-19 29-8-7 19-29zm8 7l-19 29-8-7 19-29z"/><path fill="#ff8000" d="M3844 1054l-19 29-8-7 19-29zm8 6l-19 29-8-6 19-29zm8 7l-19 29-8-7 19-29z"/><path fill="#ff9500" d="M3868 1074l-19 29-8-7 19-29zm8 7l-19 28-8-6 19-29zm8 7l-19 28-8-7 19-28zm8 7l-19 28-8-7 19-28z"/><path fill="#fa0" d="M3899 1102l-18 29-8-8 19-28zm8 8l-18 28-8-7 18-29zm8 8l-18 28-8-8 18-28z"/><path fill="#ffbf00" d="M3923 1127l-18 27-8-8 18-28zm8 9l-18 27-8-9 18-27z"/><path fill="#ffd500" d="M3939 1145l-19 26-7-8 18-27zm8 9l-19 26-8-9 19-26zm8 10l-19 25-8-9 19-26z"/><path fill="#ffea00" d="M3963 1174l-19 25-8-10 19-25zm8 10l-19 25-8-10 19-25z"/><path fill="#ff0" d="M3979 1195l-19 24-8-10 19-25z"/><path fill="#eaff15" d="M3987 1206l-19 24-8-11 19-24zm8 12l-19 23-8-11 19-24z"/><path fill="#d5ff2a" d="M4003 1230l-19 22-8-11 19-23zm8 12l-19 22-8-12 19-22z"/><path fill="#bfff40" d="M4019 1255l-19 21-8-12 19-22z"/><path fill="#af5" d="M4027 1268l-19 21-8-13 19-21zm8 14l-19 19-8-12 19-21z"/><path fill="#95ff6a" d="M4043 1295l-19 19-8-13 19-19z"/><path fill="#80ff80" d="M4051 1309l-19 18-8-13 19-19zm8 14l-19 17-8-13 19-18z"/><path fill="#6aff95" d="M4067 1338l-19 16-8-14 19-17z"/><path fill="#5fa" d="M4075 1352l-19 15-8-13 19-16z"/><path fill="#40ffbf" d="M4083 1366l-19 15-8-14 19-15zm8 14l-19 14-8-13 19-15z"/><path fill="#2bffd4" d="M4099 1394l-19 13-8-13 19-14z"/><path fill="#15ffea" d="M4106 1407l-18 12-8-12 19-13z"/><path fill="#0ff" d="M4114 1421l-18 11-8-13 18-12zm8 13l-18 11-8-13 18-11z"/><path fill="#00eaff" d="M4130 1448l-18 9-8-12 18-11z"/><path fill="#00d4ff" d="M4138 1461l-18 9-8-13 18-9zm8 14l-19 8-7-13 18-9z"/><path fill="#00bfff" d="M4154 1488l-19 8-8-13 19-8z"/><path fill="#0af" d="M4162 1501l-19 8-8-13 19-8z"/><path fill="#0095ff" d="M4170 1515l-19 7-8-13 19-8zm8 12l-19 8-8-13 19-7z"/><path fill="#f50" d="M3594 927l-19 6-8-3 19-5zm8 3l-19 5-8-2 19-6zm8 3l-19 5-8-3 19-5zm8 4l-19 5-8-4 19-5zm8 3l-19 6-8-4 19-5zm8 4l-19 6-8-4 19-6zm8 4l-19 6-8-4 19-6zm8 5l-19 5-8-4 19-6zm8 4l-19 6-8-5 19-5zm8 5l-19 6-8-5 19-6zm8 5l-19 6-8-5 19-6zm8 5l-19 6-8-5 19-6zm8 5l-19 6-8-5 19-6zm8 5l-19 7-8-6 19-6zm7 6l-18 6-8-5 19-7z"/><path fill="#ff6a00" d="M3713 994l-18 6-8-6 18-6zm8 5l-18 7-8-6 18-6zm8 6l-18 7-8-6 18-7zm8 6l-18 7-8-6 18-7zm8 6l-19 7-7-6 18-7z"/><path fill="#ff8000" d="M3753 1022l-19 8-8-6 19-7zm8 6l-19 8-8-6 19-8zm8 6l-19 8-8-6 19-8zm8 7l-19 7-8-6 19-8zm8 6l-19 8-8-7 19-7z"/><path fill="#ff9500" d="M3793 1055l-19 8-8-8 19-8zm8 7l-19 8-8-7 19-8zm8 7l-19 8-8-7 19-8z"/><path fill="#fa0" d="M3817 1076l-19 9-8-8 19-8zm8 7l-19 8-8-6 19-9zm8 6l-19 9-8-7 19-8zm8 7l-19 8-8-6 19-9z"/><path fill="#ffbf00" d="M3849 1103l-19 8-8-7 19-8zm8 6l-19 9-8-7 19-8zm8 7l-19 9-8-7 19-9zm8 7l-19 9-8-7 19-9z"/><path fill="#ffd500" d="M3881 1131l-19 8-8-7 19-9zm8 7l-19 9-8-8 19-8zm8 8l-19 8-8-7 19-9zm8 8l-19 9-8-9 19-8z"/><path fill="#ffea00" d="M3913 1163l-19 8-8-8 19-9zm7 8l-18 9-8-9 19-8z"/><path fill="#ff0" d="M3928 1180l-18 8-8-8 18-9zm8 9l-18 8-8-9 18-8zm8 10l-18 8-8-10 18-8z"/><path fill="#eaff15" d="M3952 1209l-18 8-8-10 18-8zm8 10l-19 8-7-10 18-8z"/><path fill="#d5ff2a" d="M3968 1230l-19 8-8-11 19-8zm8 11l-19 7-8-10 19-8z"/><path fill="#bfff40" d="M3984 1252l-19 8-8-12 19-7z"/><path fill="#af5" d="M3992 1264l-19 7-8-11 19-8zm8 12l-19 7-8-12 19-7z"/><path fill="#95ff6a" d="M4008 1289l-19 7-8-13 19-7zm8 12l-19 7-8-12 19-7z"/><path fill="#80ff80" d="M4024 1314l-19 7-8-13 19-7z"/><path fill="#6aff95" d="M4032 1327l-19 6-8-12 19-7zm8 13l-19 6-8-13 19-6z"/><path fill="#5fa" d="M4048 1354l-19 6-8-14 19-6z"/><path fill="#40ffbf" d="M4056 1367l-19 6-8-13 19-6zm8 14l-19 5-8-13 19-6z"/><path fill="#2bffd4" d="M4072 1394l-19 5-8-13 19-5z"/><path fill="#15ffea" d="M4080 1407l-19 5-8-13 19-5zm8 12l-19 5-8-12 19-5z"/><path fill="#0ff" d="M4096 1432l-19 5-8-13 19-5z"/><path fill="#00eaff" d="M4104 1445l-19 4-8-12 19-5zm8 12l-19 5-8-13 19-4z"/><path fill="#00d4ff" d="M4120 1470l-19 4-8-12 19-5z"/><path fill="#00bfff" d="M4127 1483l-18 4-8-13 19-4zm8 13l-18 4-8-13 18-4z"/><path fill="#0af" d="M4143 1509l-18 4-8-13 18-4z"/><path fill="#0095ff" d="M4151 1522l-18 5-8-14 18-4zm8 13l-18 6-8-14 18-5z"/><path fill="#f50" d="M3575 933l-19-2-8-2 19 1zm8 2l-19-2-8-2 19 2zm8 3l-19-2-8-3 19 2zm8 4l-19-2-8-4 19 2zm8 4l-19-3-8-3 19 2zm8 4l-19-3-8-4 19 3zm8 4l-19-3-8-4 19 3zm8 4l-19-3-8-4 19 3zm8 5l-19-3-8-5 19 3zm8 5l-19-4-8-4 19 3zm8 5l-19-4-8-5 19 4zm8 5l-19-5-8-4 19 4zm8 5l-19-5-8-5 19 5zm8 6l-19-5-8-6 19 5z"/><path fill="#ff6a00" d="M3687 994l-19-5-8-5 19 5zm8 6l-19-5-8-6 19 5zm8 6l-19-6-8-5 19 5zm8 6l-19-6-8-6 19 6zm8 6l-19-6-8-6 19 6z"/><path fill="#ff8000" d="M3726 1024l-18-7-8-5 19 6zm8 6l-18-7-8-6 18 7zm8 6l-18-8-8-5 18 7zm8 6l-18-8-8-6 18 8zm8 6l-18-7-8-7 18 8z"/><path fill="#ff9500" d="M3766 1055l-19-7-7-7 18 7zm8 8l-19-8-8-7 19 7zm8 7l-19-7-8-8 19 8z"/><path fill="#fa0" d="M3790 1077l-19-7-8-7 19 7zm8 8l-19-8-8-7 19 7zm8 6l-19-7-8-7 19 8zm8 7l-19-7-8-7 19 7z"/><path fill="#ffbf00" d="M3822 1104l-19-6-8-7 19 7zm8 7l-19-6-8-7 19 6zm8 7l-19-6-8-7 19 6zm8 7l-19-6-8-7 19 6z"/><path fill="#ffd500" d="M3854 1132l-19-6-8-7 19 6zm8 7l-19-5-8-8 19 6zm8 8l-19-5-8-8 19 5zm8 7l-19-4-8-8 19 5z"/><path fill="#ffea00" d="M3886 1163l-19-5-8-8 19 4zm8 8l-19-4-8-9 19 5zm8 9l-19-4-8-9 19 4z"/><path fill="#ff0" d="M3910 1188l-19-3-8-9 19 4zm8 9l-19-2-8-10 19 3z"/><path fill="#eaff15" d="M3926 1207l-19-3-8-9 19 2zm8 10l-19-2-8-11 19 3z"/><path fill="#d5ff2a" d="M3941 1227l-18-2-8-10 19 2zm8 11l-18-2-8-11 18 2z"/><path fill="#bfff40" d="M3957 1248l-18 0-8-12 18 2zm8 12l-18-1-8-11 18 0z"/><path fill="#af5" d="M3973 1271l-18 0-8-12 18 1zm8 12l-19 1-7-13 18 0z"/><path fill="#95ff6a" d="M3989 1296l-19 1-8-13 19-1zm8 12l-19 2-8-13 19-1z"/><path fill="#80ff80" d="M4005 1321l-19 2-8-13 19-2z"/><path fill="#6aff95" d="M4013 1333l-19 3-8-13 19-2zm8 13l-19 4-8-14 19-3z"/><path fill="#5fa" d="M4029 1360l-19 3-8-13 19-4z"/><path fill="#40ffbf" d="M4037 1373l-19 4-8-14 19-3zm8 13l-19 5-8-14 19-4z"/><path fill="#2bffd4" d="M4053 1399l-19 5-8-13 19-5z"/><path fill="#15ffea" d="M4061 1412l-19 5-8-13 19-5zm8 12l-19 6-8-13 19-5z"/><path fill="#0ff" d="M4077 1437l-19 6-8-13 19-6z"/><path fill="#00eaff" d="M4085 1449l-19 7-8-13 19-6zm8 13l-19 7-8-13 19-7z"/><path fill="#00d4ff" d="M4101 1474l-19 8-8-13 19-7z"/><path fill="#00bfff" d="M4109 1487l-19 8-8-13 19-8zm8 13l-19 8-8-13 19-8z"/><path fill="#0af" d="M4125 1513l-19 9-8-14 19-8z"/><path fill="#0095ff" d="M4133 1527l-19 8-8-13 19-9zm8 14l-19 8-8-14 19-8z"/><path fill="#ff4000" d="M3556 931l-18 34-8-2 18-34zm8 2l-18 35-8-3 18-34zm8 3l-18 35-8-3 18-35zm8 4l-19 34-7-3 18-35zm8 3l-19 34-8-3 19-34zm8 4l-19 34-8-4 19-34zm8 4l-19 34-8-4 19-34zm8 4l-19 34-8-4 19-34zm8 5l-19 34-8-5 19-34zm8 4l-19 34-8-4 19-34zm8 5l-19 34-8-5 19-34zm8 4l-19 34-8-4 19-34zm8 5l-19 34-8-5 19-34zm8 6l-19 33-8-5 19-34z"/><path fill="#f50" d="M3668 989l-19 34-8-6 19-33zm8 6l-19 33-8-5 19-34zm8 5l-19 34-8-6 19-33zm8 6l-19 33-8-5 19-34zm8 6l-19 33-8-6 19-33zm8 5l-19 33-8-5 19-33z"/><path fill="#ff6a00" d="M3716 1023l-19 32-8-5 19-33zm8 5l-19 33-8-6 19-32zm8 6l-19 33-8-6 19-33zm8 7l-19 32-8-6 19-33z"/><path fill="#ff8000" d="M3747 1048l-18 32-8-7 19-32zm8 7l-18 32-8-7 18-32zm8 8l-18 32-8-8 18-32z"/><path fill="#ff9500" d="M3771 1070l-18 32-8-7 18-32zm8 7l-18 32-8-7 18-32zm8 7l-19 32-7-7 18-32zm8 7l-19 31-8-6 19-32z"/><path fill="#fa0" d="M3803 1098l-19 31-8-7 19-31zm8 7l-19 31-8-7 19-31zm8 7l-19 31-8-7 19-31zm8 7l-19 31-8-7 19-31z"/><path fill="#ffbf00" d="M3835 1126l-19 31-8-7 19-31zm8 8l-19 30-8-7 19-31zm8 8l-19 30-8-8 19-30z"/><path fill="#ffd500" d="M3859 1150l-19 30-8-8 19-30zm8 8l-19 30-8-8 19-30zm8 9l-19 30-8-9 19-30z"/><path fill="#ffea00" d="M3883 1176l-19 30-8-9 19-30zm8 9l-19 29-8-8 19-30z"/><path fill="#ff0" d="M3899 1195l-19 29-8-10 19-29zm8 9l-19 29-8-9 19-29z"/><path fill="#eaff15" d="M3915 1215l-19 28-8-10 19-29zm8 10l-19 28-8-10 19-28z"/><path fill="#d5ff2a" d="M3931 1236l-19 28-8-11 19-28zm8 12l-19 26-8-10 19-28z"/><path fill="#bfff40" d="M3947 1259l-19 27-8-12 19-26zm8 12l-19 26-8-11 19-27z"/><path fill="#af5" d="M3962 1284l-18 25-8-12 19-26z"/><path fill="#95ff6a" d="M3970 1297l-18 24-8-12 18-25zm8 13l-18 24-8-13 18-24z"/><path fill="#80ff80" d="M3986 1323l-18 23-8-12 18-24z"/><path fill="#6aff95" d="M3994 1336l-18 23-8-13 18-23zm8 14l-19 22-7-13 18-23z"/><path fill="#5fa" d="M4010 1363l-19 22-8-13 19-22z"/><path fill="#40ffbf" d="M4018 1377l-19 21-8-13 19-22zm8 14l-19 21-8-14 19-21z"/><path fill="#2bffd4" d="M4034 1404l-19 20-8-12 19-21z"/><path fill="#15ffea" d="M4042 1417l-19 20-8-13 19-20zm8 13l-19 19-8-12 19-20z"/><path fill="#0ff" d="M4058 1443l-19 18-8-12 19-19z"/><path fill="#00eaff" d="M4066 1456l-19 18-8-13 19-18zm8 13l-19 17-8-12 19-18z"/><path fill="#00d4ff" d="M4082 1482l-19 16-8-12 19-17z"/><path fill="#00bfff" d="M4090 1495l-19 16-8-13 19-16zm8 13l-19 16-8-13 19-16z"/><path fill="#0af" d="M4106 1522l-19 14-8-12 19-16z"/><path fill="#0095ff" d="M4114 1535l-19 14-8-13 19-14z"/><path fill="#0080ff" d="M4122 1549l-19 14-8-14 19-14z"/><path fill="#ff8000" d="M3538 965l-19 29-8-3 19-28zm8 3l-19 28-8-2 19-29zm8 3l-19 28-8-3 19-28zm7 3l-18 28-8-3 19-28zm8 3l-18 28-8-3 18-28zm8 4l-18 27-8-3 18-28zm8 4l-18 27-8-4 18-27zm8 4l-18 27-8-4 18-27zm8 5l-19 25-7-3 18-27zm8 4l-19 25-8-4 19-25zm8 5l-19 24-8-4 19-25zm8 4l-19 24-8-4 19-24zm8 5l-19 23-8-4 19-24zm8 5l-19 23-8-5 19-23zm8 6l-19 21-8-4 19-23zm8 5l-19 21-8-5 19-21z"/><path fill="#ff9500" d="M3665 1034l-19 20-8-5 19-21zm8 5l-19 20-8-5 19-20zm8 6l-19 19-8-5 19-20zm8 5l-19 18-8-4 19-19zm8 5l-19 18-8-5 19-18zm8 6l-19 17-8-5 19-18zm8 6l-19 16-8-5 19-17z"/><path fill="#fa0" d="M3721 1073l-19 16-8-6 19-16zm8 7l-19 15-8-6 19-16zm8 7l-19 15-8-7 19-15zm8 8l-19 14-8-7 19-15z"/><path fill="#ffbf00" d="M3753 1102l-19 14-8-7 19-14zm8 7l-19 14-8-7 19-14zm7 7l-18 14-8-7 19-14zm8 6l-18 14-8-6 18-14z"/><path fill="#ffd500" d="M3784 1129l-18 14-8-7 18-14zm8 7l-18 14-8-7 18-14zm8 7l-18 14-8-7 18-14zm8 7l-19 14-7-7 18-14z"/><path fill="#ffea00" d="M3816 1157l-19 14-8-7 19-14zm8 7l-19 14-8-7 19-14zm8 8l-19 14-8-8 19-14z"/><path fill="#ff0" d="M3840 1180l-19 14-8-8 19-14zm8 8l-19 14-8-8 19-14zm8 9l-19 14-8-9 19-14z"/><path fill="#eaff15" d="M3864 1206l-19 13-8-8 19-14zm8 8l-19 14-8-9 19-13zm8 10l-19 13-8-9 19-14z"/><path fill="#d5ff2a" d="M3888 1233l-19 13-8-9 19-13zm8 10l-19 13-8-10 19-13z"/><path fill="#bfff40" d="M3904 1253l-19 13-8-10 19-13zm8 11l-19 12-8-10 19-13z"/><path fill="#af5" d="M3920 1274l-19 13-8-11 19-12zm8 12l-19 12-8-11 19-13z"/><path fill="#95ff6a" d="M3936 1297l-19 12-8-11 19-12zm8 12l-19 12-8-12 19-12z"/><path fill="#80ff80" d="M3952 1321l-19 12-8-12 19-12z"/><path fill="#6aff95" d="M3960 1334l-19 11-8-12 19-12zm8 12l-19 11-8-12 19-11z"/><path fill="#5fa" d="M3976 1359l-19 11-8-13 19-11zm7 13l-18 10-8-12 19-11z"/><path fill="#40ffbf" d="M3991 1385l-18 10-8-13 18-10z"/><path fill="#2bffd4" d="M3999 1398l-18 10-8-13 18-10zm8 14l-18 9-8-13 18-10z"/><path fill="#15ffea" d="M4015 1424l-18 9-8-12 18-9z"/><path fill="#0ff" d="M4023 1437l-19 8-7-12 18-9zm8 12l-19 8-8-12 19-8z"/><path fill="#00eaff" d="M4039 1461l-19 8-8-12 19-8z"/><path fill="#00d4ff" d="M4047 1474l-19 7-8-12 19-8zm8 12l-19 7-8-12 19-7z"/><path fill="#00bfff" d="M4063 1498l-19 7-8-12 19-7z"/><path fill="#0af" d="M4071 1511l-19 5-8-11 19-7zm8 13l-19 4-8-12 19-5z"/><path fill="#0095ff" d="M4087 1536l-19 4-8-12 19-4z"/><path fill="#0080ff" d="M4095 1549l-19 2-8-11 19-4zm8 14l-19-1-8-11 19-2z"/><path fill="#fa0" d="M3519 994l-19 0-8-2 19-1zm8 2l-19 0-8-2 19 0zm8 3l-19 0-8-3 19 0zm8 3l-19-1-8-2 19 0zm8 3l-19-1-8-3 19 1zm8 3l-19-1-8-3 19 1zm8 4l-19-3-8-2 19 1zm8 4l-19-3-8-4 19 3zm7 3l-18-3-8-3 19 3zm8 4l-18-4-8-3 18 3zm8 4l-18-5-8-3 18 4zm8 4l-18-6-8-3 18 5zm8 4l-18-7-8-3 18 6zm8 5l-19-8-7-4 18 7zm8 4l-19-8-8-4 19 8zm8 5l-19-9-8-4 19 8zm8 5l-19-10-8-4 19 9z"/><path fill="#ffbf00" d="M3710 1095l-19-14-8-6 19 14zm24 21l-19-14-8-7 19 14z"/><path fill="#ffd500" d="M3742 1123l-19-14-8-7 19 14zm8 7l-19-14-8-7 19 14zm8 6l-19-13-8-7 19 14zm8 7l-19-13-8-7 19 13z"/><path fill="#ffea00" d="M3774 1150l-19-13-8-7 19 13zm8 7l-19-12-8-8 19 13zm7 7l-18-12-8-7 19 12zm8 7l-18-11-8-8 18 12z"/><path fill="#ff0" d="M3805 1178l-18-10-8-8 18 11zm8 8l-18-10-8-8 18 10zm8 8l-18-9-8-9 18 10z"/><path fill="#eaff15" d="M3829 1202l-19-9-7-8 18 9zm8 9l-19-9-8-9 19 9zm8 8l-19-7-8-10 19 9z"/><path fill="#d5ff2a" d="M3853 1228l-19-7-8-9 19 7zm8 9l-19-6-8-10 19 7zm8 9l-19-5-8-10 19 6z"/><path fill="#bfff40" d="M3877 1256l-19-5-8-10 19 5zm8 10l-19-4-8-11 19 5z"/><path fill="#af5" d="M3893 1276l-19-3-8-11 19 4zm8 11l-19-2-8-12 19 3z"/><path fill="#95ff6a" d="M3909 1298l-19-2-8-11 19 2zm8 11l-19 0-8-13 19 2z"/><path fill="#80ff80" d="M3925 1321l-19 0-8-12 19 0zm8 12l-19 1-8-13 19 0z"/><path fill="#6aff95" d="M3941 1345l-19 3-8-14 19-1z"/><path fill="#5fa" d="M3949 1357l-19 4-8-13 19-3zm8 13l-19 4-8-13 19-4z"/><path fill="#40ffbf" d="M3965 1382l-19 6-8-14 19-4zm8 13l-19 7-8-14 19-6z"/><path fill="#2bffd4" d="M3981 1408l-19 8-8-14 19-7z"/><path fill="#15ffea" d="M3989 1421l-19 8-8-13 19-8zm8 12l-19 10-8-14 19-8z"/><path fill="#0ff" d="M4004 1445l-18 11-8-13 19-10z"/><path fill="#00eaff" d="M4012 1457l-18 12-8-13 18-11zm8 12l-18 13-8-13 18-12z"/><path fill="#00d4ff" d="M4028 1481l-18 13-8-12 18-13zm8 12l-18 14-8-13 18-13z"/><path fill="#00bfff" d="M4044 1505l-19 15-7-13 18-14z"/><path fill="#0af" d="M4052 1516l-19 17-8-13 19-15zm8 12l-19 18-8-13 19-17z"/><path fill="#0095ff" d="M4068 1540l-19 19-8-13 19-18zm8 11l-19 22-8-14 19-19z"/><path fill="#0080ff" d="M4084 1562l-19 24-8-13 19-22z"/><path fill="#fa0" d="M3500 994l-19 43-8-2 19-43z"/><path fill="#ff9500" d="M3508 996l-19 43-8-2 19-43zm8 3l-19 42-8-2 19-43zm8 2l-19 42-8-2 19-42zm8 3l-19 41-8-2 19-42zm8 3l-19 40-8-2 19-41zm8 2l-19 40-8-2 19-40zm8 4l-19 38-8-2 19-40zm8 3l-19 38-8-3 19-38zm8 3l-19 37-8-2 19-38zm8 3l-19 36-8-2 19-37zm8 3l-19 35-8-2 19-36z"/><path fill="#ff8000" d="M3596 1028l-19 34-8-2 19-35zm7 4l-18 33-8-3 19-34zm8 4l-18 31-8-2 18-33z"/><path fill="#ff9500" d="M3619 1040l-18 30-8-3 18-31zm8 4l-18 29-8-3 18-30zm8 4l-18 28-8-3 18-29zm8 4l-19 27-7-3 18-28zm8 4l-19 26-8-3 19-27zm8 4l-19 25-8-3 19-26zm8 5l-19 24-8-4 19-25zm8 4l-19 23-8-3 19-24zm8 6l-19 22-8-5 19-23zm8 6l-19 22-8-6 19-22zm8 7l-19 21-8-6 19-22z"/><path fill="#fa0" d="M3707 1095l-19 20-8-6 19-21zm8 7l-19 20-8-7 19-20zm8 7l-19 20-8-7 19-20zm8 7l-19 20-8-7 19-20z"/><path fill="#ffbf00" d="M3739 1123l-19 20-8-7 19-20zm8 7l-19 20-8-7 19-20zm8 7l-19 20-8-7 19-20z"/><path fill="#ffd500" d="M3763 1145l-19 20-8-8 19-20zm8 7l-19 21-8-8 19-20zm8 8l-19 21-8-8 19-21zm8 8l-19 21-8-8 19-21z"/><path fill="#ffea00" d="M3795 1176l-19 21-8-8 19-21zm8 9l-19 20-8-8 19-21z"/><path fill="#ff0" d="M3810 1193l-18 21-8-9 19-20zm8 9l-18 21-8-9 18-21zm8 10l-18 21-8-10 18-21z"/><path fill="#eaff15" d="M3834 1221l-18 21-8-9 18-21zm8 10l-18 21-8-10 18-21z"/><path fill="#d5ff2a" d="M3850 1241l-19 21-7-10 18-21zm8 10l-19 21-8-10 19-21z"/><path fill="#bfff40" d="M3866 1262l-19 21-8-11 19-21zm8 11l-19 21-8-11 19-21z"/><path fill="#af5" d="M3882 1285l-19 20-8-11 19-21zm8 11l-19 21-8-12 19-20z"/><path fill="#95ff6a" d="M3898 1309l-19 20-8-12 19-21zm8 12l-19 21-8-13 19-20z"/><path fill="#80ff80" d="M3914 1334l-19 21-8-13 19-21z"/><path fill="#6aff95" d="M3922 1348l-19 19-8-12 19-21zm8 13l-19 19-8-13 19-19z"/><path fill="#5fa" d="M3938 1374l-19 20-8-14 19-19z"/><path fill="#40ffbf" d="M3946 1388l-19 19-8-13 19-20z"/><path fill="#2bffd4" d="M3954 1402l-19 19-8-14 19-19zm8 14l-19 18-8-13 19-19z"/><path fill="#15ffea" d="M3970 1429l-19 19-8-14 19-18z"/><path fill="#0ff" d="M3978 1443l-19 18-8-13 19-19zm8 13l-19 17-8-12 19-18z"/><path fill="#00eaff" d="M3994 1469l-19 17-8-13 19-17z"/><path fill="#00d4ff" d="M4002 1482l-19 16-8-12 19-17zm8 12l-19 17-8-13 19-16z"/><path fill="#00bfff" d="M4018 1507l-19 16-8-12 19-17z"/><path fill="#0af" d="M4025 1520l-18 16-8-13 19-16zm8 13l-18 16-8-13 18-16z"/><path fill="#0095ff" d="M4041 1546l-18 16-8-13 18-16z"/><path fill="#0080ff" d="M4049 1559l-18 16-8-13 18-16z"/><path fill="#006aff" d="M4057 1573l-18 16-8-14 18-16zm8 13l-19 17-7-14 18-16z"/><path fill="#ffd500" d="M3481 1037l-19 33-8-2 19-33zm8 2l-19 33-8-2 19-33zm8 2l-19 33-8-2 19-33zm8 2l-19 33-8-2 19-33zm8 2l-19 33-8-2 19-33zm8 2l-19 32-8-1 19-33zm8 2l-19 32-8-2 19-32zm8 2l-19 32-8-2 19-32z"/><path fill="#ffbf00" d="M3545 1054l-19 31-8-2 19-32zm8 2l-19 31-8-2 19-31zm8 2l-19 30-8-1 19-31zm8 2l-19 30-8-2 19-30zm8 2l-19 30-8-2 19-30zm8 3l-19 29-8-2 19-30zm8 2l-19 29-8-2 19-29zm8 3l-19 29-8-3 19-29zm8 3l-19 28-8-2 19-29zm8 3l-19 28-8-3 19-28z"/><path fill="#fa0" d="M3624 1079l-18 27-8-2 19-28zm8 3l-18 27-8-3 18-27zm8 3l-18 27-8-3 18-27zm8 4l-18 26-8-3 18-27zm8 3l-18 26-8-3 18-26zm8 5l-19 26-7-5 18-26z"/><path fill="#ffbf00" d="M3672 1103l-19 25-8-5 19-26zm8 6l-19 25-8-6 19-25zm8 6l-19 26-8-7 19-25zm8 7l-19 26-8-7 19-26zm8 7l-19 26-8-7 19-26z"/><path fill="#ffd500" d="M3712 1136l-19 26-8-7 19-26zm8 7l-19 27-8-8 19-26zm8 7l-19 27-8-7 19-27zm8 7l-19 28-8-8 19-27z"/><path fill="#ffea00" d="M3744 1165l-19 28-8-8 19-28zm8 8l-19 28-8-8 19-28zm8 8l-19 28-8-8 19-28z"/><path fill="#ff0" d="M3768 1189l-19 29-8-9 19-28zm8 8l-19 29-8-8 19-29zm8 8l-19 30-8-9 19-29z"/><path fill="#eaff15" d="M3792 1214l-19 30-8-9 19-30zm8 9l-19 31-8-10 19-30z"/><path fill="#d5ff2a" d="M3808 1233l-19 31-8-10 19-31zm8 9l-19 31-8-9 19-31zm8 10l-19 31-8-10 19-31z"/><path fill="#bfff40" d="M3831 1262l-18 32-8-11 19-31zm8 10l-18 32-8-10 18-32z"/><path fill="#af5" d="M3847 1283l-18 32-8-11 18-32zm8 11l-18 33-8-12 18-32z"/><path fill="#95ff6a" d="M3863 1305l-18 33-8-11 18-33zm8 12l-19 33-7-12 18-33z"/><path fill="#80ff80" d="M3879 1329l-19 33-8-12 19-33z"/><path fill="#6aff95" d="M3887 1342l-19 33-8-13 19-33zm8 13l-19 32-8-12 19-33z"/><path fill="#5fa" d="M3903 1367l-19 33-8-13 19-32zm8 13l-19 33-8-13 19-33z"/><path fill="#40ffbf" d="M3919 1394l-19 32-8-13 19-33z"/><path fill="#2bffd4" d="M3927 1407l-19 32-8-13 19-32z"/><path fill="#15ffea" d="M3935 1421l-19 31-8-13 19-32zm8 13l-19 31-8-13 19-31z"/><path fill="#0ff" d="M3951 1448l-19 30-8-13 19-31z"/><path fill="#00eaff" d="M3959 1461l-19 30-8-13 19-30zm8 12l-19 30-8-12 19-30z"/><path fill="#00d4ff" d="M3975 1486l-19 29-8-12 19-30z"/><path fill="#00bfff" d="M3983 1498l-19 29-8-12 19-29zm8 13l-19 28-8-12 19-29z"/><path fill="#0af" d="M3999 1523l-19 28-8-12 19-28z"/><path fill="#0095ff" d="M4007 1536l-19 28-8-13 19-28zm8 13l-19 27-8-12 19-28z"/><path fill="#0080ff" d="M4023 1562l-19 27-8-13 19-27z"/><path fill="#006aff" d="M4031 1575l-19 28-8-14 19-27zm8 14l-19 28-8-14 19-28z"/><path fill="#05f" d="M4046 1603l-18 29-8-15 19-28z"/><path fill="#eaff15" d="M3462 1070l-18 19-8-1 18-20z"/><path fill="#ff0" d="M3470 1072l-18 19-8-2 18-19zm8 2l-19 19-7-2 18-19zm8 2l-19 18-8-1 19-19zm8 2l-19 17-8-1 19-18zm8 1l-19 18-8-2 19-17zm8 2l-19 17-8-1 19-18zm8 2l-19 17-8-2 19-17z"/><path fill="#ffea00" d="M3526 1085l-19 16-8-1 19-17zm8 2l-19 15-8-1 19-16zm8 1l-19 15-8-1 19-15zm8 2l-19 15-8-2 19-15zm8 2l-19 14-8-1 19-15zm8 2l-19 14-8-2 19-14zm8 2l-19 13-8-1 19-14z"/><path fill="#ffd500" d="M3582 1099l-19 12-8-2 19-13zm8 2l-19 13-8-3 19-12zm8 3l-19 12-8-2 19-13zm8 2l-19 12-8-2 19-12zm8 3l-19 11-8-2 19-12zm8 3l-19 11-8-3 19-11zm8 3l-19 10-8-2 19-11zm8 3l-19 10-8-3 19-10zm7 5l-18 10-8-5 19-10zm8 5l-18 10-8-5 18-10zm8 6l-18 11-8-7 18-10z"/><path fill="#ffea00" d="M3669 1141l-18 11-8-7 18-11zm8 7l-18 12-8-8 18-11zm8 7l-19 13-7-8 18-12zm8 7l-19 13-8-7 19-13z"/><path fill="#ff0" d="M3701 1170l-19 14-8-9 19-13zm8 7l-19 15-8-8 19-14zm8 8l-19 16-8-9 19-15zm8 8l-19 17-8-9 19-16z"/><path fill="#eaff15" d="M3733 1201l-19 18-8-9 19-17zm8 8l-19 20-8-10 19-18zm8 9l-19 20-8-9 19-20z"/><path fill="#d5ff2a" d="M3757 1226l-19 22-8-10 19-20zm8 9l-19 23-8-10 19-22z"/><path fill="#bfff40" d="M3773 1244l-19 24-8-10 19-23zm8 10l-19 25-8-11 19-24zm8 10l-19 25-8-10 19-25z"/><path fill="#af5" d="M3797 1273l-19 27-8-11 19-25zm8 10l-19 28-8-11 19-27z"/><path fill="#95ff6a" d="M3813 1294l-19 29-8-12 19-28zm8 10l-19 31-8-12 19-29z"/><path fill="#80ff80" d="M3829 1315l-19 32-8-12 19-31zm8 12l-19 32-8-12 19-32z"/><path fill="#6aff95" d="M3845 1338l-19 33-8-12 19-32zm7 12l-18 34-8-13 19-33z"/><path fill="#5fa" d="M3860 1362l-18 35-8-13 18-34zm8 13l-18 35-8-13 18-35z"/><path fill="#40ffbf" d="M3876 1387l-18 36-8-13 18-35z"/><path fill="#2bffd4" d="M3884 1400l-18 36-8-13 18-36zm8 13l-19 36-7-13 18-36z"/><path fill="#15ffea" d="M3900 1426l-19 36-8-13 19-36z"/><path fill="#0ff" d="M3908 1439l-19 36-8-13 19-36z"/><path fill="#00eaff" d="M3916 1452l-19 36-8-13 19-36zm8 13l-19 36-8-13 19-36z"/><path fill="#00d4ff" d="M3932 1478l-19 36-8-13 19-36z"/><path fill="#00bfff" d="M3940 1491l-19 35-8-12 19-36zm8 12l-19 35-8-12 19-35z"/><path fill="#0af" d="M3956 1515l-19 34-8-11 19-35zm8 12l-19 34-8-12 19-34z"/><path fill="#0095ff" d="M3972 1539l-19 33-8-11 19-34z"/><path fill="#0080ff" d="M3980 1551l-19 33-8-12 19-33zm8 13l-19 32-8-12 19-33z"/><path fill="#006aff" d="M3996 1576l-19 32-8-12 19-32z"/><path fill="#05f" d="M4004 1589l-19 31-8-12 19-32zm8 14l-19 30-8-13 19-31z"/><path fill="#0040ff" d="M4020 1617l-19 30-8-14 19-30z"/><path fill="#002aff" d="M4028 1632l-19 29-8-14 19-30z"/><path fill="#d5ff2a" d="M3444 1089l-19 19-8-2 19-18zm8 2l-19 18-8-1 19-19z"/><path fill="#eaff15" d="M3459 1093l-18 18-8-2 19-18zm8 1l-18 18-8-1 18-18zm8 1l-18 18-8-1 18-18zm8 2l-18 17-8-1 18-18zm8 1l-18 17-8-1 18-17z"/><path fill="#ff0" d="M3499 1100l-19 16-7-1 18-17zm8 1l-19 17-8-2 19-16zm8 1l-19 17-8-1 19-17zm8 1l-19 17-8-1 19-17zm8 2l-19 16-8-1 19-17z"/><path fill="#ffea00" d="M3539 1106l-19 16-8-1 19-16zm8 2l-19 15-8-1 19-16zm8 1l-19 16-8-2 19-15zm8 2l-19 16-8-2 19-16zm8 3l-19 15-8-2 19-16zm8 2l-19 15-8-2 19-15zm8 2l-19 15-8-2 19-15zm8 2l-19 15-8-2 19-15z"/><path fill="#ffd500" d="M3603 1123l-19 14-8-2 19-15zm8 2l-19 15-8-3 19-14zm8 3l-19 15-8-3 19-15zm8 5l-19 14-8-4 19-15z"/><path fill="#ffea00" d="M3635 1138l-19 16-8-7 19-14zm8 7l-19 16-8-7 19-16zm8 7l-19 17-8-8 19-16zm8 8l-19 18-8-9 19-17z"/><path fill="#ff0" d="M3666 1168l-18 18-8-8 19-18zm8 7l-18 20-8-9 18-18zm8 9l-18 20-8-9 18-20z"/><path fill="#eaff15" d="M3690 1192l-18 22-8-10 18-20zm8 9l-18 23-8-10 18-22zm8 9l-19 24-7-10 18-23z"/><path fill="#d5ff2a" d="M3714 1219l-19 26-8-11 19-24zm8 10l-19 27-8-11 19-26z"/><path fill="#bfff40" d="M3730 1238l-19 29-8-11 19-27zm8 10l-19 30-8-11 19-29zm8 10l-19 31-8-11 19-30z"/><path fill="#af5" d="M3754 1268l-19 33-8-12 19-31zm8 11l-19 33-8-11 19-33z"/><path fill="#95ff6a" d="M3770 1289l-19 35-8-12 19-33zm8 11l-19 37-8-13 19-35z"/><path fill="#80ff80" d="M3786 1311l-19 38-8-12 19-37zm8 12l-19 39-8-13 19-38z"/><path fill="#6aff95" d="M3802 1335l-19 40-8-13 19-39z"/><path fill="#5fa" d="M3810 1347l-19 41-8-13 19-40zm8 12l-19 43-8-14 19-41z"/><path fill="#40ffbf" d="M3826 1371l-19 44-8-13 19-43zm8 13l-19 45-8-14 19-44z"/><path fill="#2bffd4" d="M3842 1397l-19 45-8-13 19-45z"/><path fill="#15ffea" d="M3850 1410l-19 46-8-14 19-45zm8 13l-19 46-8-13 19-46z"/><path fill="#0ff" d="M3866 1436l-19 47-8-14 19-46z"/><path fill="#00eaff" d="M3873 1449l-18 47-8-13 19-47zm8 13l-18 47-8-13 18-47z"/><path fill="#00d4ff" d="M3889 1475l-18 47-8-13 18-47z"/><path fill="#00bfff" d="M3897 1488l-18 47-8-13 18-47zm8 13l-18 46-8-12 18-47z"/><path fill="#0af" d="M3913 1514l-19 45-7-12 18-46z"/><path fill="#0095ff" d="M3921 1526l-19 45-8-12 19-45zm8 12l-19 44-8-11 19-45z"/><path fill="#0080ff" d="M3937 1549l-19 44-8-11 19-44zm8 12l-19 42-8-10 19-44z"/><path fill="#006aff" d="M3953 1572l-19 42-8-11 19-42z"/><path fill="#05f" d="M3961 1584l-19 41-8-11 19-42zm8 12l-19 39-8-10 19-41z"/><path fill="#0040ff" d="M3977 1608l-19 39-8-12 19-39zm8 12l-19 38-8-11 19-39z"/><path fill="#002aff" d="M3993 1633l-19 36-8-11 19-38z"/><path fill="#0015ff" d="M4001 1647l-19 34-8-12 19-36z"/><path fill="#00f" d="M4009 1661l-19 33-8-13 19-34z"/><path fill="#eaff15" d="M3480 1116l-18 7-8-1 19-7zm8 2l-18 6-8-1 18-7zm8 1l-18 6-8-1 18-6zm8 1l-18 6-8-1 18-6zm8 1l-18 6-8-1 18-6z"/><path fill="#ff0" d="M3520 1122l-19 6-7-1 18-6zm8 1l-19 6-8-1 19-6zm8 2l-19 6-8-2 19-6zm8 2l-19 6-8-2 19-6zm8 2l-19 6-8-2 19-6zm8 2l-19 6-8-2 19-6z"/><path fill="#ffea00" d="M3568 1133l-19 6-8-2 19-6zm8 2l-19 7-8-3 19-6zm8 2l-19 7-8-2 19-7zm8 3l-19 6-8-2 19-7zm8 3l-19 6-8-3 19-6zm8 4l-19 7-8-5 19-6zm8 7l-19 7-8-7 19-7z"/><path fill="#ff0" d="M3624 1161l-19 7-8-7 19-7zm8 8l-19 8-8-9 19-7zm8 9l-19 7-8-8 19-8z"/><path fill="#eaff15" d="M3648 1186l-19 8-8-9 19-7zm8 9l-19 8-8-9 19-8zm8 9l-19 9-8-10 19-8z"/><path fill="#d5ff2a" d="M3672 1214l-19 9-8-10 19-9zm8 10l-19 9-8-10 19-9z"/><path fill="#bfff40" d="M3687 1234l-18 10-8-11 19-9zm8 11l-18 10-8-11 18-10z"/><path fill="#af5" d="M3703 1256l-18 11-8-12 18-10zm8 11l-18 11-8-11 18-11z"/><path fill="#95ff6a" d="M3719 1278l-18 11-8-11 18-11zm8 11l-19 12-7-12 18-11z"/><path fill="#80ff80" d="M3735 1301l-19 12-8-12 19-12zm8 11l-19 13-8-12 19-12z"/><path fill="#6aff95" d="M3751 1324l-19 14-8-13 19-13z"/><path fill="#5fa" d="M3759 1337l-19 13-8-12 19-14zm8 12l-19 14-8-13 19-13z"/><path fill="#40ffbf" d="M3775 1362l-19 14-8-13 19-14zm8 13l-19 15-8-14 19-14z"/><path fill="#2bffd4" d="M3791 1388l-19 15-8-13 19-15z"/><path fill="#15ffea" d="M3799 1402l-19 15-8-14 19-15z"/><path fill="#0ff" d="M3807 1415l-19 16-8-14 19-15zm8 14l-19 15-8-13 19-16z"/><path fill="#00eaff" d="M3823 1442l-19 16-8-14 19-15z"/><path fill="#00d4ff" d="M3831 1456l-19 16-8-14 19-16zm8 13l-19 16-8-13 19-16z"/><path fill="#00bfff" d="M3847 1483l-19 16-8-14 19-16z"/><path fill="#0af" d="M3855 1496l-19 16-8-13 19-16z"/><path fill="#0095ff" d="M3863 1509l-19 15-8-12 19-16zm8 13l-19 15-8-13 19-15z"/><path fill="#0080ff" d="M3879 1535l-19 15-8-13 19-15z"/><path fill="#006aff" d="M3887 1547l-19 15-8-12 19-15zm7 12l-18 14-8-11 19-15z"/><path fill="#05f" d="M3902 1571l-18 14-8-12 18-14zm8 11l-18 13-8-10 18-14z"/><path fill="#0040ff" d="M3918 1593l-18 13-8-11 18-13zm8 10l-18 13-8-10 18-13z"/><path fill="#002aff" d="M3934 1614l-19 12-7-10 18-13zm8 11l-19 11-8-10 19-12z"/><path fill="#0015ff" d="M3950 1635l-19 11-8-10 19-11zm8 12l-19 9-8-10 19-11z"/><path fill="#00f" d="M3966 1658l-19 9-8-11 19-9zm8 11l-19 8-8-10 19-9z"/><path fill="#0000ea" d="M3982 1681l-19 6-8-10 19-8z"/><path fill="#0000d4" d="M3990 1694l-19 4-8-11 19-6z"/><path fill="#eaff15" d="M3494 1127l-19 3-8 0 19-4z"/><path fill="#ff0" d="M3501 1128l-18 3-8-1 19-3zm8 1l-18 3-8-1 18-3zm8 2l-18 3-8-2 18-3zm8 2l-18 2-8-1 18-3zm8 2l-18 2-8-2 18-2zm8 2l-19 2-7-2 18-2zm8 2l-19 2-8-2 19-2z"/><path fill="#ffea00" d="M3557 1142l-19 0-8-1 19-2zm8 2l-19 1-8-3 19 0zm8 2l-19 1-8-2 19-1zm8 3l-19 1-8-3 19-1zm8 5l-19 0-8-4 19-1zm8 7l-19-1-8-6 19 0z"/><path fill="#ff0" d="M3605 1168l-19-1-8-7 19 1zm8 9l-19-3-8-7 19 1zm8 8l-19-2-8-9 19 3z"/><path fill="#eaff15" d="M3629 1194l-19-3-8-8 19 2zm8 9l-19-4-8-8 19 3z"/><path fill="#d5ff2a" d="M3645 1213l-19-5-8-9 19 4zm8 10l-19-6-8-9 19 5z"/><path fill="#bfff40" d="M3661 1233l-19-6-8-10 19 6zm8 11l-19-7-8-10 19 6z"/><path fill="#af5" d="M3677 1255l-19-7-8-11 19 7zm8 12l-19-9-8-10 19 7z"/><path fill="#95ff6a" d="M3693 1278l-19-9-8-11 19 9zm8 11l-19-10-8-10 19 9z"/><path fill="#80ff80" d="M3708 1301l-18-11-8-11 19 10zm8 12l-18-12-8-11 18 11z"/><path fill="#6aff95" d="M3724 1325l-18-12-8-12 18 12zm8 13l-18-14-8-11 18 12z"/><path fill="#5fa" d="M3740 1350l-18-14-8-12 18 14z"/><path fill="#40ffbf" d="M3748 1363l-19-15-7-12 18 14zm8 13l-19-16-8-12 19 15z"/><path fill="#2bffd4" d="M3764 1390l-19-17-8-13 19 16z"/><path fill="#15ffea" d="M3772 1403l-19-17-8-13 19 17z"/><path fill="#0ff" d="M3780 1417l-19-18-8-13 19 17zm8 14l-19-19-8-13 19 18z"/><path fill="#00eaff" d="M3796 1444l-19-19-8-13 19 19z"/><path fill="#00d4ff" d="M3804 1458l-19-20-8-13 19 19z"/><path fill="#00bfff" d="M3812 1472l-19-21-8-13 19 20zm8 13l-19-20-8-14 19 21z"/><path fill="#0af" d="M3828 1499l-19-21-8-13 19 20z"/><path fill="#0095ff" d="M3836 1512l-19-21-8-13 19 21zm8 12l-19-20-8-13 19 21z"/><path fill="#0080ff" d="M3852 1537l-19-21-8-12 19 20z"/><path fill="#006aff" d="M3860 1550l-19-21-8-13 19 21zm8 12l-19-21-8-12 19 21z"/><path fill="#05f" d="M3876 1573l-19-20-8-12 19 21zm8 12l-19-20-8-12 19 20z"/><path fill="#0040ff" d="M3892 1595l-19-19-8-11 19 20zm8 11l-19-19-8-11 19 19z"/><path fill="#002aff" d="M3908 1616l-19-19-8-10 19 19zm7 10l-18-19-8-10 19 19z"/><path fill="#0015ff" d="M3923 1636l-18-18-8-11 18 19zm8 10l-18-17-8-11 18 18z"/><path fill="#00f" d="M3939 1656l-18-17-8-10 18 17zm8 11l-18-17-8-11 18 17z"/><path fill="#0000ea" d="M3955 1677l-18-16-8-11 18 17zm8 10l-19-16-7-10 18 16z"/><path fill="#0000d4" d="M3971 1698l-19-16-8-11 19 16z"/><path fill="#bfff40" d="M3387 1119l-19-6-8-2 19 7zm8 2l-19-7-8-1 19 6z"/><path fill="#d5ff2a" d="M3403 1122l-19-6-8-2 19 7zm8 1l-19-6-8-1 19 6zm8 1l-19-6-8-1 19 6zm8 1l-19-6-8-1 19 6zm8 1l-19-6-8-1 19 6z"/><path fill="#eaff15" d="M3443 1127l-19-6-8-1 19 6zm8 1l-19-5-8-2 19 6zm8 1l-19-5-8-1 19 5zm8 1l-19-6-8 0 19 5z"/><path fill="#ff0" d="M3475 1130l-19-5-8-1 19 6z"/><path fill="#ffea00" d="M3522 1139l-18-4-8-2 19 4zm8 2l-18-4-8-2 18 4zm8 1l-18-3-8-2 18 4zm8 3l-18-4-8-2 18 3zm8 2l-18-4-8-2 18 4zm8 3l-19-4-7-3 18 4zm8 4l-19-4-8-4 19 4zm8 6l-19-4-8-6 19 4zm8 7l-19-4-8-7 19 4z"/><path fill="#ff0" d="M3594 1174l-19-4-8-7 19 4zm8 9l-19-5-8-8 19 4zm8 8l-19-6-8-7 19 5z"/><path fill="#eaff15" d="M3618 1199l-19-6-8-8 19 6zm8 9l-19-7-8-8 19 6zm8 9l-19-7-8-9 19 7z"/><path fill="#d5ff2a" d="M3642 1227l-19-8-8-9 19 7zm8 10l-19-9-8-9 19 8z"/><path fill="#bfff40" d="M3658 1248l-19-10-8-10 19 9zm8 10l-19-11-8-9 19 10z"/><path fill="#af5" d="M3674 1269l-19-12-8-10 19 11zm8 10l-19-12-8-10 19 12z"/><path fill="#95ff6a" d="M3690 1290l-19-13-8-10 19 12zm8 11l-19-14-8-10 19 13z"/><path fill="#80ff80" d="M3706 1313l-19-16-8-10 19 14zm8 11l-19-16-8-11 19 16z"/><path fill="#6aff95" d="M3722 1336l-19-17-8-11 19 16zm7 12l-18-18-8-11 19 17z"/><path fill="#5fa" d="M3737 1360l-18-18-8-12 18 18z"/><path fill="#40ffbf" d="M3745 1373l-18-20-8-11 18 18zm8 13l-18-21-8-12 18 20z"/><path fill="#2bffd4" d="M3761 1399l-18-21-8-13 18 21z"/><path fill="#15ffea" d="M3769 1412l-19-22-7-12 18 21zm8 13l-19-22-8-13 19 22z"/><path fill="#0ff" d="M3785 1438l-19-22-8-13 19 22z"/><path fill="#00eaff" d="M3793 1451l-19-22-8-13 19 22zm8 14l-19-23-8-13 19 22z"/><path fill="#00d4ff" d="M3809 1478l-19-23-8-13 19 23z"/><path fill="#00bfff" d="M3817 1491l-19-22-8-14 19 23zm8 13l-19-22-8-13 19 22z"/><path fill="#0af" d="M3833 1516l-19-21-8-13 19 22z"/><path fill="#0095ff" d="M3841 1529l-19-21-8-13 19 21zm8 12l-19-20-8-13 19 21z"/><path fill="#0080ff" d="M3857 1553l-19-19-8-13 19 20z"/><path fill="#006aff" d="M3865 1565l-19-18-8-13 19 19zm8 11l-19-17-8-12 19 18z"/><path fill="#05f" d="M3881 1587l-19-17-8-11 19 17zm8 10l-19-15-8-12 19 17z"/><path fill="#0040ff" d="M3897 1607l-19-14-8-11 19 15zm8 11l-19-13-8-12 19 14z"/><path fill="#002aff" d="M3913 1629l-19-12-8-12 19 13zm8 10l-19-11-8-11 19 12z"/><path fill="#0015ff" d="M3929 1650l-19-10-8-12 19 11zm8 11l-19-9-8-12 19 10z"/><path fill="#00f" d="M3944 1671l-18-7-8-12 19 9zm8 11l-18-6-8-12 18 7z"/><path fill="#d5ff2a" d="M3376 1114l-19-4-8-1 19 4zm8 2l-19-4-8-2 19 4z"/><path fill="#eaff15" d="M3392 1117l-19-4-8-1 19 4zm24 3l-19-3-8-1 19 3z"/><path fill="#ff0" d="M3440 1124l-19-3-8-1 19 3zm8 0l-19-2-8-1 19 3z"/><path fill="#ffea00" d="M3504 1135l-19-1-8-2 19 1zm8 2l-19 0-8-3 19 1z"/><path fill="#ffd500" d="M3520 1139l-19 0-8-2 19 0zm8 2l-19 0-8-2 19 0zm8 2l-19 1-8-3 19 0zm7 3l-18 1-8-3 19-1zm8 4l-18 2-8-5 18-1zm8 6l-18 2-8-6 18-2z"/><path fill="#ffea00" d="M3567 1163l-18 1-8-6 18-2zm8 7l-18 2-8-8 18-1zm8 8l-19 2-7-8 18-2zm8 7l-19 2-8-7 19-2z"/><path fill="#ff0" d="M3599 1193l-19 2-8-8 19-2zm8 8l-19 2-8-8 19-2zm8 9l-19 2-8-9 19-2z"/><path fill="#eaff15" d="M3623 1219l-19 1-8-8 19-2zm8 9l-19 1-8-9 19-1z"/><path fill="#d5ff2a" d="M3639 1238l-19 1-8-10 19-1zm8 9l-19 1-8-9 19-1zm8 10l-19 0-8-9 19-1z"/><path fill="#bfff40" d="M3663 1267l-19 0-8-10 19 0zm8 10l-19 0-8-10 19 0z"/><path fill="#af5" d="M3679 1287l-19 0-8-10 19 0zm8 10l-19 0-8-10 19 0z"/><path fill="#95ff6a" d="M3695 1308l-19 0-8-11 19 0zm8 11l-19-1-8-10 19 0z"/><path fill="#80ff80" d="M3711 1330l-19-1-8-11 19 1zm8 12l-19-1-8-12 19 1z"/><path fill="#6aff95" d="M3727 1353l-19-1-8-11 19 1zm8 12l-19-1-8-12 19 1z"/><path fill="#5fa" d="M3743 1378l-19-2-8-12 19 1z"/><path fill="#40ffbf" d="M3750 1390l-18-1-8-13 19 2zm8 13l-18-1-8-13 18 1z"/><path fill="#2bffd4" d="M3766 1416l-18-1-8-13 18 1z"/><path fill="#15ffea" d="M3774 1429l-18 0-8-14 18 1zm8 13l-18 1-8-14 18 0z"/><path fill="#0ff" d="M3790 1455l-19 2-7-14 18-1z"/><path fill="#00eaff" d="M3798 1469l-19 2-8-14 19-2zm8 13l-19 3-8-14 19-2z"/><path fill="#00d4ff" d="M3814 1495l-19 4-8-14 19-3z"/><path fill="#00bfff" d="M3822 1508l-19 5-8-14 19-4zm8 13l-19 7-8-15 19-5z"/><path fill="#0af" d="M3838 1534l-19 8-8-14 19-7z"/><path fill="#0095ff" d="M3846 1547l-19 8-8-13 19-8zm8 12l-19 9-8-13 19-8z"/><path fill="#0080ff" d="M3862 1570l-19 11-8-13 19-9z"/><path fill="#006aff" d="M3870 1582l-19 11-8-12 19-11zm8 11l-19 13-8-13 19-11z"/><path fill="#05f" d="M3886 1605l-19 14-8-13 19-13zm8 12l-19 15-8-13 19-14z"/><path fill="#0040ff" d="M3902 1628l-19 16-8-12 19-15zm8 12l-19 17-8-13 19-16z"/><path fill="#002aff" d="M3918 1652l-19 18-8-13 19-17z"/><path fill="#0015ff" d="M3926 1664l-19 18-8-12 19-18zm8 12l-19 18-8-12 19-18z"/><path fill="#eaff15" d="M3349 1109l-18-5-8-1 19 5zm8 1l-18-5-8-1 18 5zm8 2l-18-6-8-1 18 5zm8 1l-18-5-8-2 18 6zm8 1l-18-5-8-1 18 5z"/><path fill="#ff0" d="M3389 1116l-19-6-7-1 18 5zm8 1l-19-6-8-1 19 6zm8 1l-19-6-8-1 19 6zm8 2l-19-7-8-1 19 6zm8 1l-19-7-8-1 19 7z"/><path fill="#ffea00" d="M3429 1122l-19-7-8-1 19 7zm8 1l-19-7-8-1 19 7zm8 1l-19-6-8-2 19 7zm8 2l-19-7-8-1 19 6zm8 2l-19-7-8-2 19 7z"/><path fill="#ffd500" d="M3469 1130l-19-7-8-2 19 7zm16 4l-19-7-8-2 19 7zm8 3l-19-7-8-3 19 7zm24 7l-19-7-8-2 19 6zm8 3l-19-7-8-3 19 7zm8 5l-19-7-8-5 19 7zm8 6l-19-7-8-6 19 7zm8 6l-19-6-8-7 19 7z"/><path fill="#ffea00" d="M3557 1172l-19-6-8-8 19 6zm7 8l-18-6-8-8 19 6zm8 7l-18-4-8-9 18 6zm8 8l-18-4-8-8 18 4z"/><path fill="#ff0" d="M3588 1203l-18-4-8-8 18 4zm8 9l-18-4-8-9 18 4z"/><path fill="#eaff15" d="M3604 1220l-19-3-7-9 18 4zm8 9l-19-3-8-9 19 3zm8 10l-19-3-8-10 19 3z"/><path fill="#d5ff2a" d="M3628 1248l-19-3-8-9 19 3zm8 9l-19-2-8-10 19 3z"/><path fill="#bfff40" d="M3644 1267l-19-2-8-10 19 2zm8 10l-19-2-8-10 19 2zm8 10l-19-1-8-11 19 2z"/><path fill="#af5" d="M3668 1297l-19-1-8-10 19 1zm8 11l-19-1-8-11 19 1z"/><path fill="#95ff6a" d="M3684 1318l-19 1-8-12 19 1zm8 11l-19 1-8-11 19-1z"/><path fill="#80ff80" d="M3700 1341l-19 1-8-12 19-1zm8 11l-19 2-8-12 19-1z"/><path fill="#6aff95" d="M3716 1364l-19 2-8-12 19-2z"/><path fill="#5fa" d="M3724 1376l-19 3-8-13 19-2zm8 13l-19 3-8-13 19-3z"/><path fill="#40ffbf" d="M3740 1402l-19 4-8-14 19-3z"/><path fill="#2bffd4" d="M3748 1415l-19 5-8-14 19-4zm8 14l-19 6-8-15 19-5z"/><path fill="#15ffea" d="M3764 1443l-19 6-8-14 19-6z"/><path fill="#0ff" d="M3771 1457l-18 7-8-15 19-6zm8 14l-18 8-8-15 18-7z"/><path fill="#00eaff" d="M3787 1485l-18 10-8-16 18-8z"/><path fill="#00d4ff" d="M3795 1499l-18 11-8-15 18-10z"/><path fill="#00bfff" d="M3803 1513l-18 13-8-16 18-11z"/><path fill="#0af" d="M3811 1528l-19 13-7-15 18-13zm8 14l-19 14-8-15 19-13z"/><path fill="#0095ff" d="M3827 1555l-19 16-8-15 19-14z"/><path fill="#0080ff" d="M3835 1568l-19 17-8-14 19-16zm8 13l-19 18-8-14 19-17z"/><path fill="#006aff" d="M3851 1593l-19 20-8-14 19-18z"/><path fill="#05f" d="M3859 1606l-19 20-8-13 19-20zm8 13l-19 21-8-14 19-20z"/><path fill="#0040ff" d="M3875 1632l-19 22-8-14 19-21z"/><path fill="#002aff" d="M3883 1644l-19 24-8-14 19-22zm8 13l-19 25-8-14 19-24z"/><path fill="#0015ff" d="M3899 1670l-19 25-8-13 19-25z"/><path fill="#00f" d="M3907 1682l-19 27-8-14 19-25zm8 12l-19 27-8-12 19-27z"/><path fill="#ff0" d="M3331 1104l-19-10-8-1 19 10zm8 1l-19-10-8-1 19 10zm8 1l-19-10-8-1 19 10zm8 2l-19-11-8-1 19 10zm8 1l-19-11-8-1 19 11z"/><path fill="#ffea00" d="M3370 1110l-18-11-8-1 19 11zm8 1l-18-11-8-1 18 11zm8 1l-18-11-8-1 18 11zm8 1l-18-11-8-1 18 11zm8 1l-18-11-8-1 18 11z"/><path fill="#ffd500" d="M3410 1115l-19-12-7 0 18 11zm8 1l-19-12-8-1 19 12zm8 2l-19-12-8-2 19 12zm8 1l-19-12-8-1 19 12zm8 2l-19-12-8-2 19 12zm8 2l-19-12-8-2 19 12z"/><path fill="#ffbf00" d="M3458 1125l-19-12-8-2 19 12zm8 2l-19-12-8-2 19 12zm8 3l-19-12-8-3 19 12zm8 2l-19-12-8-2 19 12zm8 3l-19-12-8-3 19 12zm8 2l-19-12-8-2 19 12zm8 3l-19-12-8-3 19 12zm24 18l-19-11-8-7 19 11z"/><path fill="#ffd500" d="M3538 1166l-19-10-8-9 19 11zm8 8l-19-10-8-8 19 10zm8 9l-19-10-8-9 19 10z"/><path fill="#ffea00" d="M3562 1191l-19-10-8-8 19 10zm8 8l-19-9-8-9 19 10zm8 9l-19-9-8-9 19 9z"/><path fill="#ff0" d="M3585 1217l-18-8-8-10 19 9zm8 9l-18-7-8-10 18 8z"/><path fill="#eaff15" d="M3601 1236l-18-7-8-10 18 7zm8 9l-18-6-8-10 18 7z"/><path fill="#d5ff2a" d="M3617 1255l-18-6-8-10 18 6zm8 10l-19-5-7-11 18 6zm8 10l-19-5-8-10 19 5z"/><path fill="#bfff40" d="M3641 1286l-19-5-8-11 19 5zm8 10l-19-3-8-12 19 5z"/><path fill="#af5" d="M3657 1307l-19-3-8-11 19 3zm8 12l-19-3-8-12 19 3z"/><path fill="#95ff6a" d="M3673 1330l-19-2-8-12 19 3z"/><path fill="#80ff80" d="M3681 1342l-19-2-8-12 19 2zm8 12l-19-1-8-13 19 2z"/><path fill="#6aff95" d="M3697 1366l-19 0-8-13 19 1zm8 13l-19 1-8-14 19 0z"/><path fill="#5fa" d="M3713 1392l-19 1-8-13 19-1z"/><path fill="#40ffbf" d="M3721 1406l-19 2-8-15 19-1zm8 14l-19 3-8-15 19-2z"/><path fill="#2bffd4" d="M3737 1435l-19 3-8-15 19-3z"/><path fill="#15ffea" d="M3745 1449l-19 5-8-16 19-3z"/><path fill="#0ff" d="M3753 1464l-19 6-8-16 19-5z"/><path fill="#00eaff" d="M3761 1479l-19 6-8-15 19-6z"/><path fill="#00d4ff" d="M3769 1495l-19 6-8-16 19-6zm8 15l-19 8-8-17 19-6z"/><path fill="#00bfff" d="M3785 1526l-19 8-8-16 19-8z"/><path fill="#0af" d="M3792 1541l-18 10-8-17 19-8z"/><path fill="#0095ff" d="M3800 1556l-18 11-8-16 18-10z"/><path fill="#0080ff" d="M3808 1571l-18 12-8-16 18-11z"/><path fill="#006aff" d="M3816 1585l-18 12-8-14 18-12zm8 14l-18 13-8-15 18-12z"/><path fill="#05f" d="M3832 1613l-19 14-7-15 18-13z"/><path fill="#0040ff" d="M3840 1626l-19 15-8-14 19-14z"/><path fill="#002aff" d="M3848 1640l-19 16-8-15 19-15zm8 14l-19 17-8-15 19-16z"/><path fill="#0015ff" d="M3864 1668l-19 18-8-15 19-17z"/><path fill="#00f" d="M3872 1682l-19 20-8-16 19-18zm8 13l-19 22-8-15 19-20z"/><path fill="#0000ea" d="M3888 1709l-19 24-8-16 19-22z"/><path fill="#0000d4" d="M3896 1721l-19 28-8-16 19-24z"/><path fill="#ffea00" d="M3312 1094l-19-8-8-1 19 8zm8 1l-19-8-8-1 19 8zm8 1l-19-8-8-1 19 8zm8 1l-19-9-8 0 19 8z"/><path fill="#ffd500" d="M3344 1098l-19-9-8-1 19 9zm8 1l-19-10-8 0 19 9zm8 1l-19-10-8-1 19 10zm8 1l-19-10-8-1 19 10zm8 1l-19-11-8 0 19 10z"/><path fill="#ffbf00" d="M3384 1103l-19-11-8-1 19 11zm7 0l-18-10-8-1 19 11zm8 1l-18-11-8 0 18 10zm8 2l-18-12-8-1 18 11zm8 1l-18-12-8-1 18 12z"/><path fill="#fa0" d="M3423 1109l-18-12-8-2 18 12zm8 2l-19-13-7-1 18 12zm8 2l-19-13-8-2 19 13zm8 2l-19-13-8-2 19 13zm8 3l-19-14-8-2 19 13zm8 2l-19-13-8-3 19 14zm8 3l-19-14-8-2 19 13zm8 2l-19-13-8-3 19 14zm8 3l-19-13-8-3 19 13zm8 5l-19-13-8-5 19 13zm8 7l-19-14-8-6 19 13zm8 7l-19-13-8-8 19 14zm8 9l-19-13-8-9 19 13z"/><path fill="#ffbf00" d="M3527 1164l-19-12-8-9 19 13zm8 9l-19-11-8-10 19 12z"/><path fill="#ffd500" d="M3543 1181l-19-10-8-9 19 11zm8 9l-19-10-8-9 19 10zm8 9l-19-9-8-10 19 10z"/><path fill="#ffea00" d="M3567 1209l-19-9-8-10 19 9zm8 10l-19-9-8-10 19 9z"/><path fill="#ff0" d="M3583 1229l-19-8-8-11 19 9zm8 10l-19-7-8-11 19 8z"/><path fill="#eaff15" d="M3599 1249l-19-6-8-11 19 7zm7 11l-18-6-8-11 19 6z"/><path fill="#d5ff2a" d="M3614 1270l-18-4-8-12 18 6zm8 11l-18-4-8-11 18 4z"/><path fill="#bfff40" d="M3630 1293l-18-4-8-12 18 4zm8 11l-18-2-8-13 18 4z"/><path fill="#af5" d="M3646 1316l-19-2-7-12 18 2zm8 12l-19-1-8-13 19 2z"/><path fill="#95ff6a" d="M3662 1340l-19 0-8-13 19 1z"/><path fill="#80ff80" d="M3670 1353l-19 1-8-14 19 0zm8 13l-19 2-8-14 19-1z"/><path fill="#6aff95" d="M3686 1380l-19 2-8-14 19-2z"/><path fill="#5fa" d="M3694 1393l-19 4-8-15 19-2zm8 15l-19 4-8-15 19-4z"/><path fill="#40ffbf" d="M3710 1423l-19 5-8-16 19-4z"/><path fill="#2bffd4" d="M3718 1438l-19 7-8-17 19-5z"/><path fill="#15ffea" d="M3726 1454l-19 8-8-17 19-7z"/><path fill="#0ff" d="M3734 1470l-19 9-8-17 19-8z"/><path fill="#00eaff" d="M3742 1485l-19 11-8-17 19-9z"/><path fill="#00d4ff" d="M3750 1501l-19 12-8-17 19-11z"/><path fill="#00bfff" d="M3758 1518l-19 12-8-17 19-12z"/><path fill="#0af" d="M3766 1534l-19 14-8-18 19-12z"/><path fill="#0095ff" d="M3774 1551l-19 15-8-18 19-14zm8 16l-19 16-8-17 19-15z"/><path fill="#0080ff" d="M3790 1583l-19 16-8-16 19-16z"/><path fill="#006aff" d="M3798 1597l-19 18-8-16 19-16z"/><path fill="#05f" d="M3806 1612l-19 19-8-16 19-18z"/><path fill="#0040ff" d="M3813 1627l-18 19-8-15 19-19z"/><path fill="#002aff" d="M3821 1641l-18 21-8-16 18-19zm8 15l-18 22-8-16 18-21z"/><path fill="#0015ff" d="M3837 1671l-18 23-8-16 18-22z"/><path fill="#00f" d="M3845 1686l-18 25-8-17 18-23z"/><path fill="#0000ea" d="M3853 1702l-19 26-7-17 18-25z"/><path fill="#0000d4" d="M3861 1717l-19 29-8-18 19-26z"/><path fill="#0000bf" d="M3869 1733l-19 31-8-18 19-29z"/><path fill="#00a" d="M3877 1749l-19 34-8-19 19-31z"/></g><path class="a" d="M965.0 327.5L756.0 384.0"/><path class="a" d="M756.0 384.0L598.0 309.0"/><path class="a" d="M598.0 309.0L598.0 150.5"/><path class="a" d="M598.0 309.0L593.0 309.0"/><path class="a" d="M598.0 277.3L593.0 277.3"/><path class="a" d="M598.0 245.6L593.0 245.6"/><path class="a" d="M598.0 213.9L593.0 213.9"/><path class="a" d="M598.0 182.2L593.0 182.2"/><path class="a" d="M598.0 150.5L593.0 150.5"/><path class="a" d="M965.0 327.5L969.5 329.6"/><path class="a" d="M912.8 341.6L917.3 343.8"/><path class="a" d="M860.5 355.8L865.0 357.9"/><path class="a" d="M808.2 369.9L812.8 372.0"/><path class="a" d="M756.0 384.0L760.5 386.1"/><path class="a" d="M756.0 384.0L751.2 385.3"/><path class="a" d="M710.9 362.6L706.0 363.9"/><path class="a" d="M665.7 341.2L660.9 342.5"/><path class="a" d="M620.6 319.7L615.8 321.0"/><text x="636.0" y="88.0" font-size="11.30" text-anchor="start" textLength="288.0" lengthAdjust="spacingAndGlyphs">Tasa spot - Ajuste Polinomial (Bolsa de Colombia con O/N)</text><text x="579.3" y="154.1" font-size="11.30" text-anchor="start" textLength="10.7" lengthAdjust="spacingAndGlyphs">18</text><text x="579.3" y="186.1" font-size="11.30" text-anchor="start" textLength="10.7" lengthAdjust="spacingAndGlyphs">16</text><text x="579.3" y="218.1" font-size="11.30" text-anchor="start" textLength="10.7" lengthAdjust="spacingAndGlyphs">14</text><text x="579.3" y="249.1" font-size="11.30" text-anchor="start" textLength="10.7" lengthAdjust="spacingAndGlyphs">12</text><text x="579.3" y="281.1" font-size="11.30" text-anchor="start" textLength="10.7" lengthAdjust="spacingAndGlyphs">10</text><text x="584.7" y="312.1" font-size="11.30" text-anchor="start" textLength="5.3" lengthAdjust="spacingAndGlyphs">8</text><text x="606.3" y="333.6" font-size="11.30" text-anchor="start" textLength="5.3" lengthAdjust="spacingAndGlyphs">6</text><text x="651.3" y="354.1" font-size="11.30" text-anchor="start" textLength="5.3" lengthAdjust="spacingAndGlyphs">4</text><text x="696.8" y="374.6" font-size="11.30" text-anchor="start" textLength="5.3" lengthAdjust="spacingAndGlyphs">2</text><text x="741.3" y="395.1" font-size="11.30" text-anchor="start" textLength="5.3" lengthAdjust="spacingAndGlyphs">0</text><text x="764.2" y="396.6" font-size="11.30" text-anchor="start" textLength="10.7" lengthAdjust="spacingAndGlyphs">40</text><text x="815.7" y="383.1" font-size="11.30" text-anchor="start" textLength="10.7" lengthAdjust="spacingAndGlyphs">30</text><text x="868.7" y="369.1" font-size="11.30" text-anchor="start" textLength="10.7" lengthAdjust="spacingAndGlyphs">20</text><text x="919.7" y="355.1" font-size="11.30" text-anchor="start" textLength="10.7" lengthAdjust="spacingAndGlyphs">10</text><text x="969.8" y="341.1" font-size="11.30" text-anchor="start" textLength="5.3" lengthAdjust="spacingAndGlyphs">0</text><text x="849.0" y="402.1" font-size="9.10" text-anchor="start" textLength="131.0" lengthAdjust="spacingAndGlyphs">Semana de transacción de 2001</text><text x="604.0" y="408.6" font-size="9.10" text-anchor="start" textLength="91.0" lengthAdjust="spacingAndGlyphs">Vencimiento (en años)</text></g><g><path class="g" d="M275.0 622.0L446.0 699.0"/><path class="g" d="M275.0 588.3L446.0 665.3"/><path class="g" d="M275.0 554.6L446.0 631.6"/><path class="g" d="M275.0 520.9L446.0 597.9"/><path class="g" d="M275.0 487.2L446.0 564.2"/><path class="g" d="M275.0 453.5L446.0 530.5"/><path class="g" d="M275.0 622.0L275.0 453.5"/><path class="g" d="M323.9 644.0L323.9 475.5"/><path class="g" d="M372.7 666.0L372.7 497.5"/><path class="g" d="M421.6 688.0L421.6 519.5"/><path class="g" d="M59.0 680.5L275.0 622.0"/><path class="g" d="M59.0 646.8L275.0 588.3"/><path class="g" d="M59.0 613.1L275.0 554.6"/><path class="g" d="M59.0 579.4L275.0 520.9"/><path class="g" d="M59.0 545.7L275.0 487.2"/><path class="g" d="M59.0 512.0L275.0 453.5"/><path class="g" d="M59.0 680.5L59.0 512.0"/><path class="g" d="M113.0 665.9L113.0 497.4"/><path class="g" d="M167.0 651.2L167.0 482.8"/><path class="g" d="M221.0 636.6L221.0 468.1"/><path class="g" d="M275.0 622.0L275.0 453.5"/><path class="g" d="M59.0 680.5L230.0 757.5"/><path class="g" d="M113.0 665.9L284.0 742.9"/><path class="g" d="M167.0 651.2L338.0 728.2"/><path class="g" d="M221.0 636.6L392.0 713.6"/><path class="g" d="M275.0 622.0L446.0 699.0"/><path class="g" d="M59.0 680.5L275.0 622.0"/><path class="g" d="M107.9 702.5L323.9 644.0"/><path class="g" d="M156.7 724.5L372.7 666.0"/><path class="g" d="M205.6 746.5L421.6 688.0"/><g transform="scale(0.2)" stroke="#000" stroke-width="2.75" stroke-linejoin="round"><path fill="#00a" d="M1275 2983l19 26 9-13-20-22z"/><path fill="#0000bf" d="M1283 2974l20 22 8-11-19-20z"/><path fill="#0000d4" d="M1292 2965l19 20 9-11-20-17z"/><path fill="#0000ea" d="M1300 2957l20 17 8-10-19-16z"/><path fill="#00f" d="M1309 2948l19 16 9-10-19-14z"/><path fill="#0015ff" d="M1318 2940l19 14 9-10-20-12z"/><path fill="#002aff" d="M1326 2932l20 12 8-9-19-11zm9-8l19 11 9-8-19-11z"/><path fill="#0040ff" d="M1344 2916l19 11 9-9-20-9z"/><path fill="#0095ff" d="M1378 2885l19 6 9-11-19-5zm9-10l19 5 9-10-20-4z"/><path fill="#0af" d="M1395 2866l20 4 8-11-19-3z"/><path fill="#00bfff" d="M1404 2856l19 3 9-11-20-1z"/><path fill="#af5" d="M1524 2752l20-12 9-6-20 13z"/><path fill="#bfff40" d="M1533 2747l20-13 8-5-19 14zm9-4l19-14 9-5-20 15z"/><path fill="#d5ff2a" d="M1550 2739l20-15 8-5-19 16zm9-4l19-16 9-4-19 17z"/><path fill="#eaff15" d="M1568 2732l19-17 9-4-20 17zm8-4l20-17 8-4-19 18z"/><path fill="#ff0" d="M1585 2725l19-18 9-3-20 18zm8-3l20-18 8-4-19 20z"/><path fill="#ffea00" d="M1602 2720l19-20 9-3-19 20zm9-3l19-20 9-3-20 21z"/><path fill="#ffd500" d="M1619 2715l20-21 8-3-19 22zm9-2l19-22 9-2-19 23zm9-1l19-23 9-1-20 22z"/><path fill="#ffbf00" d="M1645 2710l20-22 8-2-19 23zm9-1l19-23 9-2-20 24z"/><path fill="#fa0" d="M1662 2708l20-24 8-1-19 24zm9-1l19-24 9-1-19 25zm9 0l19-25 9 1-20 25zm8 1l20-25 8 2-19 26zm9 3l19-26 9 5-20 25zm8 4l20-25 9 5-20 25zm9 5l20-25 8 6-19 24zm9 5l19-24 9 5-20 25zm8 6l20-25 8 6-19 24zm9 5l19-24 9 5-19 25zm9 6l19-25 9 6-20 24zm8 5l20-24 8 6-19 24zm9 6l19-24 9 6-20 24z"/><path fill="#ffbf00" d="M1774 2759l20-24 8 7-19 23zm9 6l19-23 9 7-19 23zm9 7l19-23 9 8-20 22zm8 7l20-22 8 7-19 22zm9 7l19-22 9 7-19 22z"/><path fill="#ffd500" d="M1818 2793l19-22 9 7-20 21zm8 6l20-21 8 8-19 20zm9 7l19-20 9 7-20 20zm8 7l20-20 8 7-19 20zm9 7l19-20 9 7-19 20z"/><path fill="#ffea00" d="M1861 2827l19-20 9 7-20 20zm8 7l20-20 8 8-19 19zm9 7l19-19 9 7-20 18zm8 6l20-18 9 7-20 18z"/><path fill="#0000d4" d="M1255 2964l20 19 8-9-19-15z"/><path fill="#0000ea" d="M1264 2959l19 15 9-9-20-12z"/><path fill="#00f" d="M1272 2953l20 12 8-8-19-11zm9-7l19 11 9-9-19-9z"/><path fill="#95ff6a" d="M1496 2770l20-13 8-5-19 14z"/><path fill="#af5" d="M1505 2766l19-14 9-5-19 15zm9-4l19-15 9-4-20 15z"/><path fill="#bfff40" d="M1522 2758l20-15 8-4-19 15zm9-4l19-15 9-4-19 16z"/><path fill="#d5ff2a" d="M1540 2751l19-16 9-3-20 16zm8-3l20-16 8-4-19 17zm9-3l19-17 9-3-20 18z"/><path fill="#eaff15" d="M1565 2743l20-18 8-3-19 18zm9-3l19-18 9-2-19 18z"/><path fill="#ff0" d="M1583 2738l19-18 9-3-20 19zm8-2l20-19 8-2-19 20z"/><path fill="#ffea00" d="M1600 2735l19-20 9-2-20 20zm8-2l20-20 9-1-20 20zm9-1l20-20 8-2-19 21z"/><path fill="#ffd500" d="M1626 2731l19-21 9-1-20 22zm8 0l20-22 8-1-19 22zm9-1l19-22 9-1-19 22z"/><path fill="#ffbf00" d="M1652 2729l19-22 9 0-20 23zm8 1l20-23 8 1-19 23zm9 1l19-23 9 3-20 23zm8 3l20-23 8 4-19 24zm9 5l19-24 9 5-19 24zm9 5l19-24 9 5-20 24zm8 5l20-24 8 6-19 23zm9 5l19-23 9 5-19 24zm9 6l19-24 9 6-20 23zm8 5l20-23 8 5-19 24z"/><path fill="#ffd500" d="M1738 2771l19-24 9 6-20 23zm8 5l20-23 8 6-19 23zm9 6l19-23 9 6-19 24zm9 7l19-24 9 7-20 23zm8 6l20-23 8 7-19 23zm9 7l19-23 9 7-20 23z"/><path fill="#ffea00" d="M1789 2809l20-23 9 7-20 23zm9 7l20-23 8 6-19 23zm9 6l19-23 9 7-20 23zm8 7l20-23 8 7-19 23zm9 7l19-23 9 7-19 22z"/><path fill="#ff0" d="M1833 2842l19-22 9 7-20 22zm8 7l20-22 8 7-19 22zm9 7l19-22 9 7-20 21zm8 6l20-21 8 6-19 22zm9 7l19-22 9 7-19 22z"/><path fill="#00f" d="M1236 2946l19 18 9-5-20-17zm8-4l20 17 8-6-19-17z"/><path fill="#0015ff" d="M1253 2936l19 17 9-7-19-15z"/><path fill="#002aff" d="M1262 2931l19 15 9-7-20-14z"/><path fill="#af5" d="M1503 2769l19-11 9-4-20 12z"/><path fill="#bfff40" d="M1511 2766l20-12 9-3-20 12zm9-3l20-12 8-3-19 13zm9-2l19-13 9-3-20 13z"/><path fill="#d5ff2a" d="M1537 2758l20-13 8-2-19 13zm9-2l19-13 9-3-19 14z"/><path fill="#eaff15" d="M1555 2754l19-14 9-2-20 14zm8-2l20-14 8-2-19 15zm9-1l19-15 9-1-20 14z"/><path fill="#ff0" d="M1580 2749l20-14 8-2-19 15zm9-1l19-15 9-1-19 16z"/><path fill="#ffea00" d="M1598 2748l19-16 9-1-20 16zm8-1l20-16 8 0-19 16zm9 0l19-16 9-1-19 16zm9-1l19-16 9-1-20 17z"/><path fill="#ffd500" d="M1632 2746l20-17 8 1-19 17zm9 1l19-17 9 1-20 18zm8 2l20-18 8 3-19 18zm9 3l19-18 9 5-19 17zm9 4l19-17 9 5-20 18zm8 6l20-18 8 5-19 18zm9 5l19-18 9 5-20 18zm8 5l20-18 9 6-20 18zm9 6l20-18 8 5-19 18zm9 5l19-18 9 6-20 18zm8 6l20-18 8 5-19 18z"/><path fill="#ffea00" d="M1727 2794l19-18 9 6-19 18zm9 6l19-18 9 7-20 18zm8 7l20-18 8 6-19 18zm9 6l19-18 9 7-20 18zm8 7l20-18 8 7-19 17z"/><path fill="#ff0" d="M1770 2826l19-17 9 7-19 17zm9 7l19-17 9 6-20 18zm8 7l20-18 8 7-19 17zm9 6l19-17 9 7-20 17zm8 7l20-17 9 6-20 17z"/><path fill="#eaff15" d="M1813 2859l20-17 8 7-19 17zm9 7l19-17 9 7-20 16zm8 6l20-16 8 6-19 17zm9 7l19-17 9 7-19 16zm9 6l19-16 9 7-20 15z"/><path fill="#bfff40" d="M1501 2774l19-11 9-2-20 10zm8-3l20-10 8-3-19 10z"/><path fill="#d5ff2a" d="M1518 2768l19-10 9-2-19 10zm9-2l19-10 9-2-20 10zm8-2l20-10 8-2-19 10z"/><path fill="#eaff15" d="M1544 2762l19-10 9-1-20 9zm8-2l20-9 8-2-19 9z"/><path fill="#ff0" d="M1561 2758l19-9 9-1-19 9zm9-1l19-9 9 0-20 8zm8-1l20-8 8-1-19 9z"/><path fill="#ffea00" d="M1587 2756l19-9 9 0-20 8zm8-1l20-8 9-1-20 9zm9 0l20-9 8 0-19 9zm9 0l19-9 9 1-20 9z"/><path fill="#ffd500" d="M1621 2756l20-9 8 2-19 9zm9 2l19-9 9 3-19 9zm9 3l19-9 9 4-20 10zm8 5l20-10 8 6-19 10zm9 6l19-10 9 5-20 10zm8 5l20-10 8 5-19 11z"/><path fill="#ffea00" d="M1673 2783l19-11 9 6-19 11zm9 6l19-11 9 5-20 12zm8 6l20-12 8 6-19 12zm9 6l19-12 9 5-20 13zm8 6l20-13 9 6-20 13zm9 6l20-13 8 7-19 12zm9 6l19-12 9 6-20 13z"/><path fill="#ff0" d="M1733 2826l20-13 8 7-19 13zm9 7l19-13 9 6-19 14zm9 7l19-14 9 7-20 14zm8 7l20-14 8 7-19 14z"/><path fill="#eaff15" d="M1768 2854l19-14 9 6-20 14zm8 6l20-14 8 7-19 14zm9 7l19-14 9 6-19 15zm9 7l19-15 9 7-20 14zm8 6l20-14 8 6-19 15z"/><path fill="#d5ff2a" d="M1811 2887l19-15 9 7-19 14zm9 6l19-14 9 6-20 15zm8 7l20-15 8 6-19 15z"/><path fill="#bfff40" d="M1516 2785l19-21 9-2-20 20z"/><path fill="#d5ff2a" d="M1524 2782l20-20 8-2-19 19zm9-3l19-19 9-2-19 19z"/><path fill="#eaff15" d="M1542 2777l19-19 9-1-20 18zm8-2l20-18 8-1-19 17zm9-2l19-17 9 0-20 16z"/><path fill="#ff0" d="M1567 2772l20-16 8-1-19 16zm9-1l19-16 9 0-19 16zm9 0l19-16 9 0-20 15z"/><path fill="#ffea00" d="M1593 2770l20-15 8 1-19 15zm9 1l19-15 9 2-20 14zm8 1l20-14 9 3-20 15zm9 4l20-15 8 5-19 15zm9 5l19-15 9 6-20 14zm8 5l20-14 8 5-19 15zm9 6l19-15 9 6-19 15zm9 6l19-15 9 6-20 15zm8 6l20-15 8 6-19 15z"/><path fill="#ff0" d="M1671 2810l19-15 9 6-20 15zm8 6l20-15 8 6-19 15zm9 6l19-15 9 6-19 15zm9 6l19-15 9 6-20 16zm8 7l20-16 8 7-19 16zm9 7l19-16 9 7-19 16z"/><path fill="#eaff15" d="M1723 2849l19-16 9 7-20 16zm8 7l20-16 8 7-19 16zm9 7l19-16 9 7-20 16zm8 7l20-16 8 6-19 17z"/><path fill="#d5ff2a" d="M1757 2877l19-17 9 7-19 17zm9 7l19-17 9 7-20 17zm8 7l20-17 8 6-19 18zm9 7l19-18 9 7-20 17zm8 6l20-17 9 6-20 18z"/><path fill="#bfff40" d="M1800 2911l20-18 8 7-19 17zm9 6l19-17 9 6-20 17z"/><path fill="#eaff15" d="M1539 2788l20-15 8-1-19 15zm9-1l19-15 9-1-19 14z"/><path fill="#ff0" d="M1557 2785l19-14 9 0-20 13zm8-1l20-13 8-1-19 13zm9-1l19-13 9 1-20 11z"/><path fill="#ffea00" d="M1582 2782l20-11 8 1-19 12zm9 2l19-12 9 4-19 10zm9 2l19-10 9 5-20 10zm8 5l20-10 8 5-19 10zm9 5l19-10 9 6-19 10zm9 6l19-10 9 6-20 9z"/><path fill="#ff0" d="M1634 2807l20-9 8 6-19 9zm9 6l19-9 9 6-20 8zm8 5l20-8 8 6-19 8zm9 6l19-8 9 6-19 8zm9 6l19-8 9 6-20 8zm8 6l20-8 8 7-19 7zm9 6l19-7 9 7-20 7z"/><path fill="#eaff15" d="M1694 2849l20-7 9 7-20 7zm9 7l20-7 8 7-19 7zm9 7l19-7 9 7-20 7zm8 7l20-7 8 7-19 6zm9 6l19-6 9 7-19 6z"/><path fill="#d5ff2a" d="M1738 2883l19-6 9 7-20 6zm8 7l20-6 8 7-19 5zm9 6l19-5 9 7-20 5zm8 7l20-5 8 6-19 6zm9 7l19-6 9 7-19 5z"/><path fill="#bfff40" d="M1781 2916l19-5 9 6-20 6zm8 7l20-6 8 6-19 6z"/><path fill="#0015ff" d="M1192 2970l20 0 8-3-19-1zm9-4l19 1 9-3-19-2z"/><path fill="#002aff" d="M1210 2962l19 2 9-3-20-2zm8-3l20 2 8-3-19-2z"/><path fill="#0040ff" d="M1227 2956l19 2 9-3-20-3zm8-4l20 3 9-3-20-3z"/><path fill="#05f" d="M1244 2949l20 3 8-3-19-4zm9-4l19 4 9-4-20-5z"/><path fill="#006aff" d="M1261 2940l20 5 8-5-19-5zm9-5l19 5 9-5-19-5z"/><path fill="#40ffbf" d="M1382 2855l19 5 9-7-19-4zm9-6l19 4 9-6-20-4z"/><path fill="#5fa" d="M1399 2843l20 4 8-5-19-4z"/><path fill="#ff0" d="M1554 2785l20-2 8-1-19 4z"/><path fill="#ffea00" d="M1563 2786l19-4 9 2-19 3zm9 1l19-3 9 2-20 4zm8 3l20-4 8 5-19 4zm9 5l19-4 9 5-20 4zm8 5l20-4 9 6-20 3zm9 5l20-3 8 5-19 4zm9 6l19-4 9 6-20 3z"/><path fill="#ff0" d="M1623 2816l20-3 8 5-19 4zm9 6l19-4 9 6-19 4zm9 6l19-4 9 6-20 4zm8 6l20-4 8 6-19 4zm9 6l19-4 9 6-20 4zm8 6l20-4 8 7-19 4z"/><path fill="#eaff15" d="M1684 2860l19-4 9 7-20 4zm8 7l20-4 8 7-19 4zm9 7l19-4 9 6-20 4zm8 6l20-4 9 7-20 4z"/><path fill="#d5ff2a" d="M1718 2887l20-4 8 7-19 4zm9 7l19-4 9 6-20 4zm8 6l20-4 8 7-19 4zm9 7l19-4 9 7-19 4zm9 7l19-4 9 6-20 4zm8 6l20-4 8 7-19 4z"/><path fill="#bfff40" d="M1770 2927l19-4 9 6-20 4z"/><path fill="#0080ff" d="M1207 2921l20 35 8-4-19-35zm9-4l19 35 9-3-19-37z"/><path fill="#0095ff" d="M1225 2912l19 37 9-4-20-37zm8-4l20 37 8-5-19-37z"/><path fill="#0af" d="M1242 2903l19 37 9-5-19-38z"/><path fill="#00bfff" d="M1251 2897l19 38 9-5-20-39z"/><path fill="#eaff15" d="M1707 2886l20 8 8 6-19-8zm9 6l19 8 9 7-19-8zm9 7l19 8 9 7-20-9zm8 6l20 9 8 6-19-9z"/><path fill="#d5ff2a" d="M1742 2911l19 9 9 7-20-9zm8 7l20 9 8 6-19-9z"/><path fill="#ff0" d="M1722 2902l20 9 8 7-19-10z"/><path fill="#eaff15" d="M1731 2908l19 10 9 6-19-10z"/><path fill="#ffbf00" d="M1599 2810l20 20 9 6-20-21zm9 5l20 21 8 6-19-21zm9 6l19 21 9 6-20-22zm8 5l20 22 8 6-19-22zm9 6l19 22 9 6-19-22zm9 6l19 22 9 6-20-23z"/><path fill="#ffd500" d="M1651 2843l20 23 8 6-19-23zm9 6l19 23 9 6-20-24zm8 5l20 24 8 6-19-24zm9 6l19 24 9 6-19-24zm9 6l19 24 9 6-20-24zm8 6l20 24 8 6-19-25zm9 5l19 25 9 6-19-25zm9 6l19 25 9 6-20-25z"/><path fill="#ff9500" d="M1666 2832l20 34 8 6-19-35zm9 5l19 35 9 5-20-34zm8 6l20 34 9 6-20-35z"/><path fill="#fa0" d="M1692 2848l20 35 8 6-19-35z"/><path fill="#ffd500" d="M1423 2774l19-25 9 0-20 26zm8 1l20-26 8 1-19 26z"/><path fill="#ffbf00" d="M1440 2776l19-26 9 0-19 26zm9 0l19-26 9 0-20 26zm8 0l20-26 8 1-19 26zm9 1l19-26 9 1-20 26zm8 1l20-26 8 2-19 26z"/><path fill="#fa0" d="M1483 2780l19-26 9 3-19 25zm9 2l19-25 9 4-20 24zm8 3l20-24 8 3-19 24zm9 3l19-24 9 4-20 23zm8 3l20-23 9 3-20 22zm9 2l20-22 8 4-19 21zm9 3l19-21 9 3-20 21zm8 3l20-21 8 4-19 20zm9 3l19-20 9 4-19 19zm9 3l19-19 9 4-20 18zm8 3l20-18 8 4-19 17zm52 22l19-13 9 5-19 13zm9 5l19-13 9 5-20 12zm8 4l20-12 8 5-19 11zm9 4l19-11 9 5-20 11zm8 5l20-11 8 6-19 10zm9 5l19-10 9 5-19 10zm9 5l19-10 9 6-20 10z"/><path fill="#ff8000" d="M1601 2813l20 17 9 5-20-19zm9 3l20 19 8 4-19-19zm9 4l19 19 9 4-20-19zm8 4l20 19 8 5-19-19zm9 5l19 19 9 5-19-19zm9 5l19 19 9 5-20-19zm8 5l20 19 8 6-19-20z"/><path fill="#ff4000" d="M1608 2799l19 25 9 5-19-26zm9 4l19 26 9 5-20-26zm8 5l20 26 8 5-19-26zm9 5l19 26 9 5-20-25z"/><path fill="#ffbf00" d="M1347 2763l20-18 8 1-19 18z"/><path fill="#fa0" d="M1356 2764l19-18 9 1-20 18zm8 1l20-18 8 1-19 18zm9 1l19-18 9 0-19 18zm9 0l19-18 9 0-20 18z"/><path fill="#ff9500" d="M1390 2766l20-18 8 0-19 18zm9 0l19-18 9 0-20 18zm8 0l20-18 9 0-20 19z"/><path fill="#ff8000" d="M1416 2767l20-19 8 1-19 19zm9 1l19-19 9 2-20 18zm8 1l20-18 8 2-19 18zm9 2l19-18 9 2-19 18zm9 2l19-18 9 2-20 17z"/><path fill="#ff6a00" d="M1459 2774l20-17 8 2-19 17zm9 2l19-17 9 1-20 18zm8 2l20-18 8 2-19 17zm9 1l19-17 9 2-19 17zm9 2l19-17 9 2-20 17z"/><path fill="#f50" d="M1502 2783l20-17 8 3-19 16zm9 2l19-16 9 2-19 16zm9 2l19-16 9 3-20 15zm8 2l20-15 8 3-19 15zm9 3l19-15 9 3-20 15zm8 3l20-15 8 4-19 14zm9 3l19-14 9 3-19 14zm9 3l19-14 9 4-20 13zm8 3l20-13 8 3-19 14zm9 4l19-14 9 5-20 13zm8 4l20-13 9 4-20 13zm9 4l20-13 8 5-19 13zm9 5l19-13 9 5-20 13zm8 5l20-13 8 6-19 12z"/><path fill="#ff6a00" d="M1466 2783l19-4 9 2-20 3z"/><path fill="#f50" d="M1474 2784l20-3 8 2-19 3zm9 2l19-3 9 2-20 4zm8 3l20-4 9 2-20 4zm9 2l20-4 8 2-19 5zm9 3l19-5 9 3-20 4zm8 2l20-4 8 3-19 4zm9 3l19-4 9 3-19 4zm9 3l19-4 9 3-20 5zm8 4l20-5 8 3-19 5zm9 3l19-5 9 4-20 5zm8 4l20-5 8 4-19 5zm9 4l19-5 9 4-19 5zm9 4l19-5 9 5-20 5zm8 5l20-5 8 5-19 5zm9 5l19-5 9 5-20 5z"/><path fill="#ff4000" d="M1532 2800l20 9 8 4-19-9zm9 4l19 9 9 4-19-8zm9 5l19 8 9 4-20-8zm8 4l20 8 8 5-19-8zm9 5l19 8 9 5-20-8zm8 5l20 8 8 5-19-7zm-209-76l20 4 8 2-19-3zm9 3l19 3 9 3-19-4zm9 2l19 4 9 2-20-3zm8 3l20 3 8 2-19-2zm9 3l19 2 9 3-20-3zm8 2l20 3 9 2-20-2zm9 3l20 2 8 3-19-2zm9 3l19 2 9 2-20-2z"/><path fill="#ff2a00" d="M1435 2768l20 2 8 3-19-2zm9 3l19 2 9 2-19-1zm9 3l19 1 9 4-20-1zm8 4l20 1 8 3-19-1zm9 3l19 1 9 3-20 0zm8 4l20 0 8 4-19 0zm9 4l19 0 9 3-19 1zm9 4l19-1 9 4-20 1zm8 4l20-1 8 4-19 1zm9 4l19-1 9 4-19 1zm9 4l19-1 9 5-20 1zm8 5l20-1 8 4-19 1zm9 4l19-1 9 5-20 1zm8 5l20-1 8 5-19 2z"/><path fill="#ff4000" d="M1556 2825l19-2 9 6-19 1z"/><path fill="#ff6a00" d="M1244 2733l19 5 9 0-20-5z"/><path fill="#f50" d="M1269 2735l20 5 8 0-19-4zm18 2l19 4 9 1-20-4z"/><path fill="#ff4000" d="M1304 2738l19 5 9 0-20-4zm26 2l19 5 9 1-20-5zm8 1l20 5 8 1-19-5z"/><path fill="#ff2a00" d="M1347 2742l19 5 9 3-19-5zm9 3l19 5 9 2-20-5zm8 2l20 5 8 3-19-5zm9 3l19 5 9 3-20-5zm8 3l20 5 8 2-19-5zm9 2l19 5 9 3-19-5zm9 3l19 5 9 3-20-5zm8 3l20 5 8 2-19-5zm9 2l19 5 9 3-19-5zm9 3l19 5 9 3-20-5zm8 3l20 5 8 4-19-5zm9 4l19 5 9 3-20-5zm8 3l20 5 8 4-19-5zm9 4l19 5 9 4-19-5zm9 4l19 5 9 4-20-6zm8 3l20 6 8 4-19-6zm9 4l19 6 9 4-20-6zm8 4l20 6 9 4-20-5zm9 5l20 5 8 5-19-6zm9 4l19 6 9 4-20-5zm8 5l20 5 8 5-19-5zm9 5l19 5 9 6-19-6zm9 5l19 6 9 5-20-5z"/><path fill="#fa0" d="M1207 2758l19-25 9 0-20 25z"/><path fill="#ff9500" d="M1215 2758l20-25 9 0-20 26zm9 1l20-26 8 0-19 27zm9 1l19-27 9 1-20 26zm8 0l20-26 8 1-19 26z"/><path fill="#ff8000" d="M1250 2761l19-26 9 1-19 26zm9 1l19-26 9 1-20 27zm8 2l20-27 8 1-19 27zm9 1l19-27 9 0-20 28z"/><path fill="#ff6a00" d="M1284 2766l20-28 8 1-19 28zm9 1l19-28 9 0-19 29zm9 1l19-29 9 1-20 29zm8 1l20-29 8 1-19 29z"/><path fill="#f50" d="M1319 2770l19-29 9 1-20 30zm8 2l20-30 9 3-20 30zm9 3l20-30 8 2-19 31zm9 3l19-31 9 3-20 31zm8 3l20-31 8 3-19 31zm9 3l19-31 9 2-19 32zm9 3l19-32 9 3-20 32zm8 3l20-32 8 3-19 32zm9 3l19-32 9 2-20 33zm8 3l20-33 9 3-20 33zm9 3l20-33 8 3-19 33zm9 3l19-33 9 4-20 33z"/><path fill="#ff4000" d="M1422 2806l20-33 8 3-19 34zm9 4l19-34 9 4-19 34zm9 4l19-34 9 4-20 33zm8 3l20-33 8 3-19 34zm9 4l19-34 9 4-20 34zm8 4l20-34 8 4-19 35z"/><path fill="#f50" d="M1474 2830l19-35 9 5-19 34zm9 4l19-34 9 4-20 35zm8 5l20-35 8 5-19 35zm9 5l19-35 9 5-20 35zm8 5l20-35 9 5-20 35zm9 5l20-35 8 6-19 34z"/><path fill="#0095ff" d="M886 2931l19-10 9-4-20 9z"/><path fill="#0af" d="M894 2926l20-9 8-5-19 8z"/><path fill="#ff2a00" d="M1455 2813l19 17 9 4-20-17zm8 4l20 17 8 5-19-17zm9 5l19 17 9 5-20-18zm8 4l20 18 8 5-19-18zm9 5l19 18 9 5-19-17zm9 6l19 17 9 5-20-17z"/><path fill="#0095ff" d="M866 2942l20-11 8-5-19 9z"/><path fill="#0af" d="M875 2935l19-9 9-6-19 7z"/><path fill="#00bfff" d="M884 2927l19-7 9-6-20 5z"/><path fill="#ff1500" d="M1435 2802l20 11 8 4-19-10zm17 9l20 11 8 4-19-10zm9 5l19 10 9 5-19-10zm9 5l19 10 9 6-20-10zm8 6l20 10 8 5-19-10z"/><path fill="#0095ff" d="M847 2949l19-7 9-7-20 6z"/><path fill="#0af" d="M855 2941l20-6 9-8-20 6z"/><path fill="#00bfff" d="M864 2933l20-6 8-8-19 6zm9-8l19-6 9-7-20 4z"/><path fill="#00d4ff" d="M881 2916l20-4 8-8-19 4z"/><path fill="#ff4000" d="M1174 2728l20 7 8 0-19-7z"/><path fill="#ff2a00" d="M1192 2729l19 7 9 1-20-7zm17 2l19 7 9 1-20-7z"/><path fill="#ff1500" d="M1243 2735l20 7 8 0-19-7zm9 0l19 7 9 2-19-7zm9 2l19 7 9 2-20-7zm8 2l20 7 8 2-19-7zm9 2l19 7 9 3-20-7zm8 3l20 7 8 3-19-7zm9 3l19 7 9 3-19-7zm9 3l19 7 9 3-20-8z"/><path fill="#f00" d="M1312 2752l20 8 8 3-19-8zm9 3l19 8 9 2-19-7zm26 9l19 7 9 4-20-7zm8 4l20 7 8 3-19-7zm9 3l19 7 9 4-19-7zm9 4l19 7 9 4-20-7zm8 4l20 7 8 4-19-7zm9 4l19 7 9 4-20-7zm8 4l20 7 9 4-20-7zm9 4l20 7 8 4-19-7zm9 4l19 7 9 5-20-7zm8 5l20 7 8 4-19-7zm9 4l19 7 9 5-19-7zm9 5l19 7 9 5-20-7zm8 5l20 7 8 6-19-7z"/><path fill="#ff1500" d="M1459 2820l19 7 9 5-20-7z"/><path fill="#0095ff" d="M827 2949l20 0 8-8-19 3z"/><path fill="#0af" d="M836 2944l19-3 9-8-19 4z"/><path fill="#00bfff" d="M845 2937l19-4 9-8-20 6zm8-6l20-6 8-9-19 8z"/><path fill="#00d4ff" d="M862 2924l19-8 9-8-19 8z"/><path fill="#00eaff" d="M871 2916l19-8 9-8-20 9z"/><path fill="#fa0" d="M1077 2762l20-26 8-2-19 26zm9-2l19-26 9-3-19 28z"/><path fill="#ff9500" d="M1095 2759l19-28 9-1-20 27zm8-2l20-27 8-2-19 28z"/><path fill="#ff8000" d="M1112 2756l19-28 9-1-20 29zm8 0l20-29 9 0-20 29zm9 0l20-29 8 0-19 29z"/><path fill="#ff6a00" d="M1138 2756l19-29 9 0-20 30zm8 1l20-30 8 1-19 30zm9 1l19-30 9 0-19 31zm9 1l19-31 9 1-20 31z"/><path fill="#f50" d="M1172 2760l20-31 8 1-19 31zm9 1l19-31 9 1-20 31zm8 1l20-31 8 1-19 32zm9 2l19-32 9 1-19 32z"/><path fill="#ff4000" d="M1207 2765l19-32 9 1-20 31zm8 0l20-31 8 1-19 31zm9 1l19-31 9 0-19 32zm9 1l19-32 9 2-20 31zm8 1l20-31 8 2-19 31zm9 2l19-31 9 2-20 31z"/><path fill="#ff2a00" d="M1258 2772l20-31 8 3-19 31zm9 3l19-31 9 3-19 30zm9 2l19-30 9 3-20 30zm8 3l20-30 8 2-19 31zm9 3l19-31 9 3-20 30zm8 2l20-30 9 3-20 30zm9 3l20-30 8 3-19 29zm9 2l19-29 9 3-20 29zm8 3l20-29 8 4-19 28zm9 3l19-28 9 3-19 28zm9 3l19-28 9 4-20 27zm8 3l20-27 8 4-19 27zm9 4l19-27 9 4-20 26zm8 3l20-26 8 4-19 26zm9 4l19-26 9 4-19 26zm9 4l19-26 9 4-20 26zm8 4l20-26 8 5-19 25zm9 4l19-25 9 4-20 25zm8 4l20-25 9 5-20 25zm9 5l20-25 8 5-19 25zm9 5l19-25 9 6-20 24zm8 5l20-24 8 5-19 24z"/><path fill="#0af" d="M825 2952l20-15 8-6-19 14z"/><path fill="#00bfff" d="M834 2945l19-14 9-7-20 13z"/><path fill="#00d4ff" d="M842 2937l20-13 9-8-20 13zm9-8l20-13 8-7-19 12z"/><path fill="#00eaff" d="M860 2921l19-12 9-7-20 11z"/><path fill="#0ff" d="M868 2913l20-11 8-8-19 11z"/><path fill="#ff1500" d="M1308 2794l19-1 9 3-20 1zm8 3l20-1 9 3-20 1zm9 3l20-1 8 3-19 2zm9 4l19-2 9 4-20 2zm8 4l20-2 8 3-19 2zm9 3l19-2 9 4-19 2zm9 4l19-2 9 4-20 2zm8 4l20-2 8 4-19 2zm9 4l19-2 9 4-20 2zm8 4l20-2 8 4-19 3zm9 5l19-3 9 5-19 3zm9 5l19-3 9 5-20 3z"/><path fill="#ff2a00" d="M1411 2842l20-3 8 5-19 3zm9 5l19-3 9 5-19 4z"/><path fill="#0080ff" d="M789 2979l19-13 9-7-20 11z"/><path fill="#0095ff" d="M797 2970l20-11 8-7-19 9z"/><path fill="#0af" d="M806 2961l19-9 9-7-20 7z"/><path fill="#00bfff" d="M814 2952l20-7 8-8-19 6zm9-9l19-6 9-8-19 5z"/><path fill="#00d4ff" d="M832 2934l19-5 9-8-20 4z"/><path fill="#00eaff" d="M840 2925l20-4 8-8-19 2z"/><path fill="#0ff" d="M849 2915l19-2 9-8-19 1z"/><path fill="#15ffea" d="M858 2906l19-1 9-9-20 1z"/><path fill="#f00" d="M1392 2826l19 16 9 5-20-15zm8 6l20 15 9 6-20-16z"/><path fill="#00d4ff" d="M821 2945l19-20 9-10-20 20z"/><path fill="#00eaff" d="M829 2935l20-20 9-9-20 20z"/><path fill="#2bffd4" d="M855 2907l20-20 8-9-19 20z"/><path fill="#ffbf00" d="M993 2783l20-25 8-4-19 25zm9-4l19-25 9-4-20 25z"/><path fill="#fa0" d="M1010 2775l20-25 8-3-19 26zm9-2l19-26 9-2-19 25z"/><path fill="#ff9500" d="M1028 2770l19-25 9-3-20 26zm8-2l20-26 8-2-19 27z"/><path fill="#ff8000" d="M1045 2767l19-27 9-1-19 26zm9-2l19-26 9-1-20 27z"/><path fill="#ff6a00" d="M1062 2765l20-27 8 0-19 27zm9 0l19-27 9 0-20 27zm8 0l20-27 8 1-19 27zm9 1l19-27 9 0-19 28z"/><path fill="#f50" d="M1097 2767l19-28 9 1-20 28zm8 1l20-28 8 1-19 28zm9 1l19-28 9 1-20 28zm8 1l20-28 9 2-20 28z"/><path fill="#ff4000" d="M1131 2772l20-28 8 1-19 29zm9 2l19-29 9 1-20 30zm8 2l20-30 8 1-19 31zm9 2l19-31 9 0-19 34zm9 3l19-34 9 2-20 35zm8 3l20-35 8 1-19 37zm9 3l19-37 9 2-20 39zm8 4l20-39 8 2-19 42zm9 5l19-42 9 3-19 44zm9 5l19-44 9 3-20 47zm8 6l20-47 8 2-19 51zm9 6l19-51 9 3-19 54zm9 6l19-54 9 3-20 56z"/><path fill="#f50" d="M1243 2824l20-56 8 3-19 59zm9 6l19-59 9 3-20 62zm8 6l20-62 8 3-19 65zm9 6l19-65 9 3-19 69zm9 7l19-69 9 4-20 71z"/><path fill="#ff6a00" d="M1286 2855l20-71 8 4-19 74zm9 7l19-74 9 3-20 77zm8 6l20-77 9 4-20 80zm9 7l20-80 8 4-19 82zm9 6l19-82 9 4-20 84z"/><path fill="#ff8000" d="M1329 2887l20-84 8 4-19 86zm9 6l19-86 9 5-19 87zm9 6l19-87 9 4-20 89zm8 6l20-89 8 5-19 90zm9 6l19-90 9 5-20 91z"/><path fill="#ff9500" d="M1372 2917l20-91 8 6-19 91zm9 6l19-91 9 5-19 92z"/><path fill="#000080" d="M750 3195l19-168 9-20-20 116z"/><path fill="#0080ff" d="M784 3010l20-44 8-11-19 35z"/><path fill="#0095ff" d="M793 2990l19-35 9-10-20 28z"/><path fill="#00d4ff" d="M810 2959l19-24 9-9-19 20z"/><path fill="#00eaff" d="M819 2946l19-20 9-9-20 17z"/><path fill="#0ff" d="M827 2934l20-17 8-10-19 16z"/><path fill="#15ffea" d="M836 2923l19-16 9-9-20 15z"/><path fill="#2bffd4" d="M844 2913l20-15 9-9-20 13z"/><path fill="#40ffbf" d="M853 2902l20-13 8-10-19 12z"/><path fill="#ff6a00" d="M1051 2764l20 1 8 0-19 0z"/><path fill="#f50" d="M1060 2765l19 0 9 1-19-1zm9 0l19 1 9 1-20-1zm8 1l20 1 8 1-19-1zm9 1l19 1 9 1-20-1z"/><path fill="#ff4000" d="M1094 2768l20 1 8 1-19 0zm9 2l19 0 9 2-19-1zm9 1l19 1 9 2-20-1zm8 2l20 1 8 2-19-1zm9 2l19 1 9 2-19-1zm9 2l19 1 9 3-20-2zm8 2l20 2 8 3-19-2z"/><path fill="#ff2a00" d="M1155 2782l19 2 9 3-20-2zm8 3l20 2 8 4-19-2zm9 4l19 2 9 5-19-2zm9 5l19 2 9 5-20-2z"/><path fill="#ff4000" d="M1189 2799l20 2 8 6-19-3zm9 5l19 3 9 6-20-4zm8 5l20 4 9 6-20-4zm9 6l20 4 8 5-19-4zm9 5l19 4 9 6-20-4zm8 6l20 4 8 6-19-4zm9 6l19 4 9 6-19-5zm9 5l19 5 9 7-20-6zm8 6l20 6 8 6-19-6z"/><path fill="#f50" d="M1267 2849l19 6 9 7-20-6zm8 7l20 6 8 6-19-6zm9 6l19 6 9 7-19-7zm9 6l19 7 9 6-20-7zm8 6l20 7 8 6-19-7z"/><path fill="#ff6a00" d="M1310 2880l19 7 9 6-20-7zm8 6l20 7 9 6-20-7zm9 6l20 7 8 6-19-7zm9 6l19 7 9 6-20-7zm8 6l20 7 8 6-19-7zm9 6l19 7 9 6-19-7z"/><path fill="#ff8000" d="M1362 2916l19 7 9 6-20-8z"/><path fill="#002aff" d="M730 3056l20 139 8-72-19-83z"/><path fill="#0040ff" d="M739 3040l19 83 9-51-20-46z"/><path fill="#05f" d="M747 3026l20 46 9-35-20-24z"/><path fill="#006aff" d="M756 3013l20 24 8-27-19-8z"/><path fill="#0080ff" d="M765 3002l19 8 9-20-20 1z"/><path fill="#0af" d="M773 2991l20-1 8-17-19 8zm9-10l19-8 9-14-19 11z"/><path fill="#00bfff" d="M791 2970l19-11 9-13-20 14z"/><path fill="#00d4ff" d="M799 2960l20-14 8-12-19 16z"/><path fill="#00eaff" d="M808 2950l19-16 9-11-20 17z"/><path fill="#0ff" d="M816 2940l20-17 8-10-19 17z"/><path fill="#15ffea" d="M825 2930l19-17 9-11-19 18z"/><path fill="#2bffd4" d="M834 2920l19-18 9-11-20 18z"/><path fill="#40ffbf" d="M842 2909l20-18 8-10-19 18z"/><path fill="#ff8000" d="M1023 2784l20-19 8-1-19 20zm9 0l19-20 9 1-19 20zm9 1l19-20 9 0-20 20z"/><path fill="#ff6a00" d="M1049 2785l20-20 8 1-19 20zm9 1l19-20 9 1-20 20zm8 1l20-20 8 1-19 20zm9 1l19-20 9 2-19 20z"/><path fill="#f50" d="M1084 2790l19-20 9 1-20 20zm8 1l20-20 8 2-19 20zm9 2l19-20 9 2-20 20zm8 2l20-20 9 2-20 20zm9 2l20-20 8 2-19 20zm9 2l19-20 9 3-20 20z"/><path fill="#ff4000" d="M1135 2802l20-20 8 3-19 20zm9 3l19-20 9 4-19 19zm9 3l19-19 9 5-20 19zm8 5l20-19 8 5-19 18zm9 4l19-18 9 5-20 18zm8 5l20-18 8 5-19 18z"/><path fill="#f50" d="M1187 2827l19-18 9 6-19 17zm9 5l19-17 9 5-20 17zm8 5l20-17 8 6-19 16zm9 5l19-16 9 6-20 15zm8 5l20-15 9 5-20 16zm9 6l20-16 8 6-19 15zm9 5l19-15 9 6-20 15zm8 6l20-15 8 7-19 14z"/><path fill="#ff6a00" d="M1256 2870l19-14 9 6-19 13zm9 5l19-13 9 6-20 13zm8 6l20-13 8 6-19 13zm9 6l19-13 9 6-20 12zm8 5l20-12 8 6-19 12zm9 6l19-12 9 6-19 11zm9 5l19-11 9 6-20 11z"/><path fill="#ff8000" d="M1316 2909l20-11 8 6-19 11zm9 6l19-11 9 6-19 11zm9 6l19-11 9 6-20 10zm8 5l20-10 8 5-19 11z"/><path fill="#0040ff" d="M711 3040l19 16 9-16-20-12z"/><path fill="#05f" d="M719 3028l20 12 8-14-19-9z"/><path fill="#006aff" d="M728 3017l19 9 9-13-19-7z"/><path fill="#0080ff" d="M737 3006l19 7 9-11-20-6z"/><path fill="#0095ff" d="M745 2996l20 6 8-11-19-5z"/><path fill="#0af" d="M754 2986l19 5 9-10-19-4z"/><path fill="#00bfff" d="M763 2977l19 4 9-11-20-3z"/><path fill="#00d4ff" d="M771 2967l20 3 8-10-19-3z"/><path fill="#00eaff" d="M780 2957l19 3 9-10-20-3z"/><path fill="#0ff" d="M788 2947l20 3 8-10-19-3z"/><path fill="#15ffea" d="M797 2937l19 3 9-10-19-3z"/><path fill="#2bffd4" d="M806 2927l19 3 9-10-20-3z"/><path fill="#40ffbf" d="M814 2917l20 3 8-11-19-2z"/><path fill="#5fa" d="M823 2907l19 2 9-10-20-2z"/><path fill="#6aff95" d="M831 2897l20 2 9-11-20-1z"/><path fill="#80ff80" d="M840 2887l20 1 8-10-19-1z"/><path fill="#f50" d="M1107 2805l20-6 8 3-19 6z"/><path fill="#ff4000" d="M1116 2808l19-6 9 3-20 7zm8 4l20-7 9 3-20 8zm9 4l20-8 8 5-19 8z"/><path fill="#f50" d="M1142 2821l19-8 9 4-20 9zm8 5l20-9 8 5-19 10zm9 6l19-10 9 5-19 10zm9 5l19-10 9 5-20 11zm8 6l20-11 8 5-19 12zm9 6l19-12 9 5-20 13z"/><path fill="#ff6a00" d="M1193 2855l20-13 8 5-19 14zm9 6l19-14 9 6-19 14zm9 6l19-14 9 5-20 15zm8 6l20-15 8 6-19 16zm9 7l19-16 9 6-19 16z"/><path fill="#ff8000" d="M1237 2886l19-16 9 5-20 18zm8 7l20-18 8 6-19 18zm9 6l19-18 9 6-20 19zm8 7l20-19 8 5-19 20zm9 6l19-20 9 6-19 20z"/><path fill="#ff9500" d="M1280 2918l19-20 9 5-20 21zm8 6l20-21 8 6-19 21zm9 6l19-21 9 6-20 21zm8 6l20-21 9 6-20 21zm9 6l20-21 8 5-19 22zm9 6l19-22 9 6-20 21z"/><path fill="#05f" d="M691 3026l20 14 8-12-19-14z"/><path fill="#0080ff" d="M700 3014l19 14 9-11-19-13z"/><path fill="#0095ff" d="M709 3004l19 13 9-11-20-12z"/><path fill="#0af" d="M717 2994l20 12 8-10-19-12zm9-10l19 12 9-10-20-11z"/><path fill="#00bfff" d="M734 2975l20 11 9-9-20-12z"/><path fill="#00d4ff" d="M743 2965l20 12 8-10-19-11z"/><path fill="#00eaff" d="M752 2956l19 11 9-10-20-10z"/><path fill="#0ff" d="M760 2947l20 10 8-10-19-9z"/><path fill="#15ffea" d="M769 2938l19 9 9-10-19-9z"/><path fill="#2bffd4" d="M778 2928l19 9 9-10-20-8z"/><path fill="#40ffbf" d="M786 2919l20 8 8-10-19-7z"/><path fill="#5fa" d="M795 2910l19 7 9-10-20-7z"/><path fill="#6aff95" d="M803 2900l20 7 8-10-19-6z"/><path fill="#80ff80" d="M812 2891l19 6 9-10-19-6zm9-10l19 6 9-10-20-5z"/><path fill="#ff9500" d="M1286 2936l19 0 9 6-19 0zm9 6l19 0 9 6-20 0zm8 6l20 0 8 5-19 0z"/><path fill="#05f" d="M672 3031l19-5 9-12-19 4z"/><path fill="#0080ff" d="M681 3018l19-4 9-10-20 2z"/><path fill="#0095ff" d="M689 3006l20-2 8-10-19 1z"/><path fill="#0af" d="M698 2995l19-1 9-10-20 0z"/><path fill="#00bfff" d="M706 2984l20 0 8-9-19-2z"/><path fill="#00d4ff" d="M715 2973l19 2 9-10-19-2z"/><path fill="#00eaff" d="M724 2963l19 2 9-9-20-4z"/><path fill="#0ff" d="M732 2952l20 4 8-9-19-6z"/><path fill="#15ffea" d="M741 2941l19 6 9-9-20-8z"/><path fill="#2bffd4" d="M749 2930l20 8 9-10-20-9z"/><path fill="#40ffbf" d="M758 2919l20 9 8-9-19-11z"/><path fill="#5fa" d="M767 2908l19 11 9-9-20-12z"/><path fill="#6aff95" d="M775 2898l20 12 8-10-19-13z"/><path fill="#80ff80" d="M784 2887l19 13 9-9-19-16z"/><path fill="#95ff6a" d="M793 2875l19 16 9-10-20-17z"/><path fill="#af5" d="M801 2864l20 17 8-9-19-18z"/><path fill="#ff2a00" d="M1241 2876l19 43 9 6-20-43z"/><path fill="#ff4000" d="M1249 2882l20 43 8 6-19-43zm9 6l19 43 9 5-19-42zm9 6l19 42 9 6-20-43zm8 5l20 43 8 6-19-43zm9 6l19 43 9 5-20-42z"/><path fill="#05f" d="M652 3039l20-8 9-13-20 9z"/><path fill="#006aff" d="M661 3027l20-9 8-12-19 10z"/><path fill="#0080ff" d="M670 3016l19-10 9-11-20 10z"/><path fill="#0095ff" d="M678 3005l20-10 8-11-19 10z"/><path fill="#00bfff" d="M687 2994l19-10 9-11-19 10z"/><path fill="#00d4ff" d="M696 2983l19-10 9-10-20 8z"/><path fill="#00eaff" d="M704 2971l20-8 8-11-19 8z"/><path fill="#0ff" d="M713 2960l19-8 9-11-20 8z"/><path fill="#15ffea" d="M721 2949l20-8 8-11-19 7z"/><path fill="#2bffd4" d="M730 2937l19-7 9-11-19 7z"/><path fill="#40ffbf" d="M739 2926l19-7 9-11-20 6z"/><path fill="#5fa" d="M747 2914l20-6 8-10-19 5z"/><path fill="#6aff95" d="M756 2903l19-5 9-11-19 4z"/><path fill="#80ff80" d="M765 2891l19-4 9-12-20 4z"/><path fill="#95ff6a" d="M773 2879l20-4 8-11-19 4z"/><path fill="#af5" d="M782 2868l19-4 9-10-20 2z"/><path fill="#bfff40" d="M790 2856l20-2 8-10-19 2z"/><path fill="#ff2a00" d="M954 2751l20 4 8 1-19-4z"/><path fill="#ff1500" d="M971 2753l20 4 8 1-19-4zm9 1l19 4 9 1-19-4zm9 1l19 4 9 2-20-4zm8 2l20 4 8 1-19-4zm9 1l19 4 9 2-20-4zm8 2l20 4 9 2-20-4z"/><path fill="#f00" d="M1023 2762l20 4 8 2-19-3zm9 3l19 3 9 3-20-4zm8 2l20 4 8 2-19-4zm9 2l19 4 9 3-19-4zm9 3l19 4 9 3-20-4zm8 3l20 4 8 4-19-4zm9 4l19 4 9 5-20-5zm8 4l20 5 8 5-19-5zm9 5l19 5 9 5-19-5zm9 5l19 5 9 5-20-5zm8 5l20 5 8 5-19-5zm9 5l19 5 9 5-20-5zm8 5l20 5 9 6-20-5z"/><path fill="#ff1500" d="M1135 2814l20 5 8 5-19-5zm9 5l19 5 9 6-20-6zm8 5l20 6 8 5-19-5zm9 6l19 5 9 6-19-6zm9 5l19 6 9 6-20-6zm8 6l20 6 8 6-19-6zm9 6l19 6 9 6-20-6zm8 6l20 6 8 6-19-7zm9 5l19 7 9 6-19-7z"/><path fill="#ff2a00" d="M1213 2864l19 7 9 5-20-6zm8 6l20 6 8 6-19-7zm9 5l19 7 9 6-19-7zm9 6l19 7 9 6-20-7zm8 6l20 7 8 5-19-7zm9 5l19 7 9 6-20-7zm8 6l20 7 8 6-19-7z"/><path fill="#05f" d="M633 3047l19-8 9-12-19 11z"/><path fill="#006aff" d="M642 3038l19-11 9-11-20 12z"/><path fill="#0080ff" d="M650 3028l20-12 8-11-19 14z"/><path fill="#0095ff" d="M659 3019l19-14 9-11-19 15z"/><path fill="#0af" d="M668 3009l19-15 9-11-20 16z"/><path fill="#00bfff" d="M676 2999l20-16 8-12-19 18z"/><path fill="#00d4ff" d="M685 2989l19-18 9-11-20 19z"/><path fill="#00eaff" d="M693 2979l20-19 8-11-19 19z"/><path fill="#0ff" d="M702 2968l19-19 9-12-19 21z"/><path fill="#15ffea" d="M711 2958l19-21 9-11-20 21z"/><path fill="#2bffd4" d="M719 2947l20-21 8-12-19 22z"/><path fill="#40ffbf" d="M728 2936l19-22 9-11-20 23z"/><path fill="#ffbf00" d="M848 2813l20-34 9-6-20 35z"/><path fill="#fa0" d="M857 2808l20-35 8-5-19 36zm9-4l19-36 9-4-20 36z"/><path fill="#ff9500" d="M874 2800l20-36 8-3-19 36zm9-3l19-36 9-3-19 37z"/><path fill="#ff8000" d="M892 2795l19-37 9-2-20 37zm8-2l20-37 8-3-19 38z"/><path fill="#ff6a00" d="M909 2791l19-38 9-1-20 38zm8-1l20-38 9-1-20 39z"/><path fill="#f50" d="M926 2790l20-39 8 0-19 39zm9 0l19-39 9 1-20 39zm8 1l20-39 8 1-19 40zm9 2l19-40 9 1-19 40z"/><path fill="#ff4000" d="M961 2794l19-40 9 1-20 40zm8 1l20-40 8 2-19 40zm9 2l19-40 9 1-20 41zm8 2l20-41 8 2-19 41zm9 2l19-41 9 2-19 42zm9 3l19-42 9 3-20 41zm8 2l20-41 8 2-19 42zm9 3l19-42 9 2-20 42zm8 2l20-42 9 3-20 42z"/><path fill="#ff2a00" d="M1038 2814l20-42 8 3-19 43zm9 4l19-43 9 4-20 43zm8 4l20-43 8 4-19 43z"/><path fill="#ff4000" d="M1064 2826l19-43 9 5-19 43zm9 5l19-43 9 5-20 43zm8 5l20-43 8 5-19 43zm9 5l19-43 9 5-20 43zm8 5l20-43 8 5-19 44zm9 6l19-44 9 6-19 43zm9 5l19-43 9 5-20 43zm8 5l20-43 8 5-19 44zm9 6l19-44 9 6-19 43zm9 5l19-43 9 5-20 44zm8 6l20-44 8 6-19 44z"/><path fill="#f50" d="M1159 2885l19-44 9 6-20 44zm8 6l20-44 8 6-19 44zm9 6l19-44 9 5-19 44zm9 5l19-44 9 6-20 44zm8 6l20-44 8 6-19 44zm9 6l19-44 9 5-20 44z"/><path fill="#ff6a00" d="M1210 2919l20-44 9 6-20 44zm9 6l20-44 8 6-19 43zm9 5l19-43 9 5-20 44zm8 6l20-44 8 6-19 44zm9 6l19-44 9 6-19 43z"/><path fill="#0040ff" d="M614 3063l19-16 9-9-20 14z"/><path fill="#05f" d="M622 3052l20-14 8-10-19 13z"/><path fill="#006aff" d="M631 3041l19-13 9-9-20 11z"/><path fill="#0080ff" d="M639 3030l20-11 9-10-20 10z"/><path fill="#0af" d="M648 3019l20-10 8-10-19 9z"/><path fill="#00bfff" d="M657 3008l19-9 9-10-20 8z"/><path fill="#00d4ff" d="M665 2997l20-8 8-10-19 6z"/><path fill="#00eaff" d="M674 2985l19-6 9-11-19 6z"/><path fill="#0ff" d="M683 2974l19-6 9-10-20 4z"/><path fill="#15ffea" d="M691 2962l20-4 8-11-19 4z"/><path fill="#2bffd4" d="M700 2951l19-4 9-11-20 3z"/><path fill="#40ffbf" d="M708 2939l20-3 8-10-19 1z"/><path fill="#5fa" d="M717 2927l19-1 9-11-19 1z"/><path fill="#6aff95" d="M726 2916l19-1 9-11-20 0z"/><path fill="#80ff80" d="M734 2904l20 0 8-10-19-2z"/><path fill="#95ff6a" d="M743 2892l19 2 9-11-20-2z"/><path fill="#af5" d="M751 2881l20 2 9-9-20-3z"/><path fill="#bfff40" d="M760 2871l20 3 8-9-19-4z"/><path fill="#d5ff2a" d="M769 2861l19 4 9-9-20-5z"/><path fill="#eaff15" d="M777 2851l20 5 8-9-19-6z"/><path fill="#ff1500" d="M1045 2815l19 11 9 5-20-11zm8 5l20 11 8 5-19-11z"/><path fill="#ff2a00" d="M1062 2825l19 11 9 5-20-10zm8 6l20 10 8 5-19-10zm9 5l19 10 9 6-19-10zm9 6l19 10 9 5-20-10zm8 5l20 10 8 5-19-9zm9 6l19 9 9 6-20-9zm8 6l20 9 9 5-20-8zm9 6l20 8 8 6-19-8z"/><path fill="#ff4000" d="M1131 2871l19 8 9 6-20-8zm8 6l20 8 8 6-19-8zm9 6l19 8 9 6-19-8zm9 6l19 8 9 5-20-7zm8 6l20 7 8 6-19-7zm9 6l19 7 9 6-20-7zm8 6l20 7 8 5-19-6z"/><path fill="#f50" d="M1191 2913l19 6 9 6-19-6zm9 6l19 6 9 5-20-6zm8 5l20 6 8 6-19-6zm9 6l19 6 9 6-19-6zm9 6l19 6 9 5-20-5z"/><path fill="#05f" d="M594 3066l20-3 8-11-19 1z"/><path fill="#006aff" d="M603 3053l19-1 9-11-20 0z"/><path fill="#0080ff" d="M611 3041l20 0 8-11-19 0z"/><path fill="#0095ff" d="M620 3030l19 0 9-11-19 1z"/><path fill="#0af" d="M629 3020l19-1 9-11-20 1z"/><path fill="#00bfff" d="M637 3009l20-1 8-11-19 2z"/><path fill="#00d4ff" d="M646 2999l19-2 9-12-20 3z"/><path fill="#00eaff" d="M654 2988l20-3 9-11-20 3z"/><path fill="#0ff" d="M663 2977l20-3 8-12-19 5z"/><path fill="#15ffea" d="M672 2967l19-5 9-11-20 5z"/><path fill="#2bffd4" d="M680 2956l20-5 8-12-19 6z"/><path fill="#40ffbf" d="M689 2945l19-6 9-12-19 8z"/><path fill="#5fa" d="M698 2935l19-8 9-11-20 8z"/><path fill="#6aff95" d="M706 2924l20-8 8-12-19 9z"/><path fill="#80ff80" d="M715 2913l19-9 9-12-20 10z"/><path fill="#95ff6a" d="M723 2902l20-10 8-11-19 11z"/><path fill="#af5" d="M732 2892l19-11 9-10-19 11z"/><path fill="#bfff40" d="M741 2882l19-11 9-10-20 12zm8-9l20-12 8-10-19 13z"/><path fill="#d5ff2a" d="M758 2864l19-13 9-10-19 15z"/><path fill="#eaff15" d="M767 2856l19-15 9-8-20 15z"/><path fill="#ff9500" d="M844 2807l20-21 8-2-19 21z"/><path fill="#ff8000" d="M853 2805l19-21 9-3-20 22zm8-2l20-22 8-2-19 22z"/><path fill="#ff6a00" d="M870 2801l19-22 9-1-19 22zm9-1l19-22 9-1-20 23z"/><path fill="#f50" d="M887 2800l20-23 8 1-19 23zm9 1l19-23 9 1-20 23zm8 1l20-23 8 1-19 23zm9 1l19-23 9 1-19 24z"/><path fill="#ff4000" d="M922 2805l19-24 9 2-20 24zm8 2l20-24 8 2-19 24zm9 2l19-24 9 1-19 25zm9 2l19-25 9 3-20 24zm8 2l20-24 8 2-19 25zm9 3l19-25 9 2-20 26zm8 3l20-26 8 3-19 25zm9 2l19-25 9 3-19 26zm9 4l19-26 9 3-20 26zm8 3l20-26 8 4-19 26zm9 4l19-26 9 4-20 26zm8 4l20-26 9 5-20 26zm9 5l20-26 8 5-19 26zm9 5l19-26 9 5-20 26zm8 5l20-26 8 6-19 26zm9 6l19-26 9 5-19 26zm9 5l19-26 9 6-20 26zm8 6l20-26 8 5-19 27zm9 6l19-27 9 6-20 26z"/><path fill="#f50" d="M1085 2879l20-26 8 6-19 26zm9 6l19-26 9 6-19 26zm9 6l19-26 9 6-20 26zm8 6l20-26 8 6-19 26zm9 6l19-26 9 6-20 27zm8 7l20-27 9 6-20 27z"/><path fill="#ff6a00" d="M1137 2916l20-27 8 6-19 26zm9 5l19-26 9 6-20 26zm8 6l20-26 8 6-19 26zm9 6l19-26 9 6-19 26zm9 6l19-26 9 6-20 26zm8 6l20-26 8 5-19 26z"/><path fill="#ff8000" d="M1189 2950l19-26 9 6-20 26zm8 6l20-26 9 6-20 26zm9 6l20-26 8 6-19 25z"/><path fill="#05f" d="M575 3063l19 3 9-13-20-1z"/><path fill="#006aff" d="M583 3052l20 1 8-12-19 0z"/><path fill="#0080ff" d="M592 3041l19 0 9-11-19 1z"/><path fill="#0095ff" d="M601 3031l19-1 9-10-20 1z"/><path fill="#0af" d="M609 3021l20-1 8-11-19 2z"/><path fill="#00bfff" d="M618 3011l19-2 9-10-20 2z"/><path fill="#00d4ff" d="M626 3001l20-2 8-11-19 3z"/><path fill="#00eaff" d="M635 2991l19-3 9-11-19 3z"/><path fill="#0ff" d="M644 2980l19-3 9-10-20 3z"/><path fill="#15ffea" d="M652 2970l20-3 8-11-19 4z"/><path fill="#2bffd4" d="M661 2960l19-4 9-11-19 4z"/><path fill="#40ffbf" d="M670 2949l19-4 9-10-20 4z"/><path fill="#5fa" d="M678 2939l20-4 8-11-19 5z"/><path fill="#6aff95" d="M687 2929l19-5 9-11-20 5z"/><path fill="#80ff80" d="M695 2918l20-5 8-11-19 6z"/><path fill="#95ff6a" d="M704 2908l19-6 9-10-19 6z"/><path fill="#af5" d="M713 2898l19-6 9-10-20 7zm8-9l20-7 8-9-19 7z"/><path fill="#bfff40" d="M730 2880l19-7 9-9-20 8z"/><path fill="#d5ff2a" d="M738 2872l20-8 9-8-20 8z"/><path fill="#eaff15" d="M747 2864l20-8 8-8-19 8z"/><path fill="#ff0" d="M756 2856l19-8 9-7-20 8z"/><path fill="#ffea00" d="M764 2849l20-8 8-7-19 9zm9-6l19-9 9-6-19 9z"/><path fill="#ff6a00" d="M868 2812l19-12 9 1-20 11zm8 0l20-11 8 1-19 12z"/><path fill="#f50" d="M885 2814l19-12 9 1-19 13zm9 2l19-13 9 2-20 12zm8 1l20-12 8 2-19 12zm9 2l19-12 9 2-20 12zm8 2l20-12 9 2-20 13zm9 3l20-13 8 2-19 13zm9 2l19-13 9 3-20 13z"/><path fill="#ff4000" d="M945 2829l20-13 8 3-19 13zm9 3l19-13 9 2-19 15zm9 4l19-15 9 4-20 15zm8 4l20-15 8 3-19 16zm9 4l19-16 9 4-20 16zm8 4l20-16 8 4-19 17z"/><path fill="#f50" d="M997 2853l19-17 9 5-19 18zm9 6l19-18 9 5-20 19zm8 6l20-19 8 5-19 20zm9 6l19-20 9 6-20 21zm8 7l20-21 9 5-20 22z"/><path fill="#ff6a00" d="M1040 2884l20-22 8 6-19 23zm9 7l19-23 9 6-20 24zm8 7l20-24 8 5-19 25zm9 6l19-25 9 6-19 26zm9 7l19-26 9 6-20 27z"/><path fill="#ff8000" d="M1083 2918l20-27 8 6-19 28zm9 7l19-28 9 6-20 29zm8 7l20-29 8 7-19 29z"/><path fill="#ff9500" d="M1109 2939l19-29 9 6-19 30zm9 7l19-30 9 5-20 31zm8 6l20-31 8 6-19 32zm9 7l19-32 9 6-19 32zm9 6l19-32 9 6-20 33z"/><path fill="#fa0" d="M1152 2972l20-33 8 6-19 33zm9 6l19-33 9 5-20 34zm8 6l20-34 8 6-19 34zm9 6l19-34 9 6-19 34zm9 6l19-34 9 5-20 34z"/><path fill="#006aff" d="M555 3055l20 8 8-11-19-7z"/><path fill="#0080ff" d="M564 3045l19 7 9-11-19-5z"/><path fill="#0095ff" d="M573 3036l19 5 9-10-20-4z"/><path fill="#0af" d="M581 3027l20 4 8-10-19-4z"/><path fill="#00bfff" d="M590 3017l19 4 9-10-20-3z"/><path fill="#00d4ff" d="M598 3008l20 3 8-10-19-3z"/><path fill="#00eaff" d="M607 2998l19 3 9-10-19-3z"/><path fill="#0ff" d="M616 2988l19 3 9-11-20-2z"/><path fill="#15ffea" d="M624 2978l20 2 8-10-19-2z"/><path fill="#2bffd4" d="M633 2968l19 2 9-10-20-3zm8-11l20 3 9-11-20-2z"/><path fill="#40ffbf" d="M650 2947l20 2 8-10-19-2z"/><path fill="#5fa" d="M659 2937l19 2 9-10-20-2z"/><path fill="#6aff95" d="M667 2927l20 2 8-11-19-2z"/><path fill="#80ff80" d="M676 2916l19 2 9-10-19-2z"/><path fill="#95ff6a" d="M685 2906l19 2 9-10-20-1z"/><path fill="#af5" d="M693 2897l20 1 8-9-19-1z"/><path fill="#bfff40" d="M702 2888l19 1 9-9-20-1z"/><path fill="#d5ff2a" d="M710 2879l20 1 8-8-19-1z"/><path fill="#eaff15" d="M719 2871l19 1 9-8-19-1zm9-8l19 1 9-8-20-1z"/><path fill="#ff0" d="M736 2855l20 1 8-7-19 0z"/><path fill="#ffea00" d="M745 2849l19 0 9-6-19 0z"/><path fill="#ffd500" d="M754 2843l19 0 9-6-20 0zm8-6l20 0 8-5-19 0z"/><path fill="#ff4000" d="M900 2823l19-2 9 3-19 2zm9 3l19-2 9 2-20 2zm8 2l20-2 8 3-19 2zm9 3l19-2 9 3-20 3zm8 4l20-3 9 4-20 2zm9 3l20-2 8 4-19 2zm9 4l19-2 9 4-20 2zm8 4l20-2 8 4-19 3zm9 5l19-3 9 5-19 3zm9 5l19-3 9 6-20 2zm8 5l20-2 8 6-19 2z"/><path fill="#f50" d="M995 2867l19-2 9 6-20 2zm8 6l20-2 8 7-19 2zm9 7l19-2 9 6-19 2zm9 6l19-2 9 7-20 2zm8 7l20-2 8 7-19 1z"/><path fill="#ff6a00" d="M1038 2899l19-1 9 6-19 2zm9 7l19-2 9 7-20 2zm8 7l20-2 8 7-19 1zm9 6l19-1 9 7-20 1z"/><path fill="#ff8000" d="M1072 2926l20-1 8 7-19 1zm9 7l19-1 9 7-19 1zm9 7l19-1 9 7-20 1zm8 7l20-1 8 6-19 1z"/><path fill="#ff9500" d="M1107 2953l19-1 9 7-20 1zm8 7l20-1 9 6-20 1zm9 6l20-1 8 7-19 0zm9 6l19 0 9 6-20 0zm8 6l20 0 8 6-19 0z"/><path fill="#fa0" d="M1150 2984l19 0 9 6-19 0zm9 6l19 0 9 6-20 0zm8 6l20 0 8 5-19 1z"/><path fill="#0080ff" d="M536 3040l19 15 9-10-20-12z"/><path fill="#0095ff" d="M544 3033l20 12 9-9-20-11z"/><path fill="#0af" d="M553 3025l20 11 8-9-19-10z"/><path fill="#00bfff" d="M562 3017l19 10 9-10-20-9z"/><path fill="#00d4ff" d="M570 3008l20 9 8-9-19-9z"/><path fill="#00eaff" d="M579 2999l19 9 9-10-19-8zm9-9l19 8 9-10-20-7z"/><path fill="#0ff" d="M596 2981l20 7 8-10-19-7z"/><path fill="#15ffea" d="M605 2971l19 7 9-10-20-7z"/><path fill="#2bffd4" d="M613 2961l20 7 8-11-19-6z"/><path fill="#40ffbf" d="M622 2951l19 6 9-10-19-6z"/><path fill="#5fa" d="M631 2941l19 6 9-10-20-6z"/><path fill="#6aff95" d="M639 2931l20 6 8-10-19-6z"/><path fill="#80ff80" d="M648 2921l19 6 9-11-20-5z"/><path fill="#95ff6a" d="M656 2911l20 5 9-10-20-4z"/><path fill="#af5" d="M665 2902l20 4 8-9-19-5z"/><path fill="#bfff40" d="M674 2892l19 5 9-9-20-4z"/><path fill="#d5ff2a" d="M682 2884l20 4 8-9-19-4zm9-9l19 4 9-8-19-4z"/><path fill="#eaff15" d="M700 2867l19 4 9-8-20-3z"/><path fill="#ff0" d="M708 2860l20 3 8-8-19-3z"/><path fill="#ffea00" d="M717 2852l19 3 9-6-20-3z"/><path fill="#ffd500" d="M725 2846l20 3 9-6-20-3zm9-6l20 3 8-6-19-2z"/><path fill="#ffbf00" d="M743 2835l19 2 9-5-20-2z"/><path fill="#fa0" d="M751 2830l20 2 8-5-19-2zm9-5l19 2 9-4-19-2z"/><path fill="#ff4000" d="M924 2839l19-1 9 4-20 0zm8 3l20 0 8 4-19 0zm9 4l19 0 9 5-19 0zm9 5l19 0 9 5-20-1zm8 4l20 1 8 5-19-1zm9 5l19 1 9 6-20-2zm8 5l20 2 8 6-19-3zm9 5l19 3 9 7-19-4zm9 6l19 4 9 6-20-4zm8 6l20 4 8 7-19-6z"/><path fill="#f50" d="M1010 2887l19 6 9 6-20-6zm8 6l20 6 9 7-20-7zm9 6l20 7 8 7-19-8zm9 6l19 8 9 6-20-8zm8 6l20 8 8 7-19-9zm9 6l19 9 9 7-19-10z"/><path fill="#ff8000" d="M1113 2958l20 14 8 6-19-14zm9 6l19 14 9 6-19-14zm9 6l19 14 9 6-20-15zm8 5l20 15 8 6-19-15zm9 6l19 15 9 6-20-16z"/><path fill="#0af" d="M516 3027l20 13 8-7-19-12zm9-6l19 12 9-8-19-11z"/><path fill="#00bfff" d="M534 3014l19 11 9-8-20-11z"/><path fill="#00d4ff" d="M542 3006l20 11 8-9-19-11z"/><path fill="#00eaff" d="M551 2997l19 11 9-9-20-11z"/><path fill="#0ff" d="M559 2988l20 11 9-9-20-11z"/><path fill="#15ffea" d="M568 2979l20 11 8-9-19-11z"/><path fill="#2bffd4" d="M577 2970l19 11 9-10-20-11zm8-10l20 11 8-10-19-11z"/><path fill="#40ffbf" d="M594 2950l19 11 9-10-19-11z"/><path fill="#5fa" d="M603 2940l19 11 9-10-20-11z"/><path fill="#6aff95" d="M611 2930l20 11 8-10-19-11z"/><path fill="#80ff80" d="M620 2920l19 11 9-10-20-11z"/><path fill="#95ff6a" d="M628 2910l20 11 8-10-19-11z"/><path fill="#af5" d="M637 2900l19 11 9-9-19-12z"/><path fill="#bfff40" d="M646 2890l19 12 9-10-20-11z"/><path fill="#d5ff2a" d="M654 2881l20 11 8-8-19-12z"/><path fill="#eaff15" d="M663 2872l19 12 9-9-19-12z"/><path fill="#ff0" d="M672 2863l19 12 9-8-20-12zm8-8l20 12 8-7-19-12z"/><path fill="#ffea00" d="M689 2848l19 12 9-8-20-12z"/><path fill="#ffd500" d="M697 2840l20 12 8-6-19-12z"/><path fill="#ffbf00" d="M706 2834l19 12 9-6-19-12zm9-6l19 12 9-5-20-12z"/><path fill="#fa0" d="M723 2823l20 12 8-5-19-12z"/><path fill="#ff9500" d="M732 2818l19 12 9-5-20-12z"/><path fill="#ff8000" d="M740 2813l20 12 9-4-20-12z"/><path fill="#f50" d="M1094 2941l19 17 9 6-20-17zm8 6l20 17 9 6-20-18zm9 5l20 18 8 5-19-17zm9 6l19 17 9 6-20-18zm8 5l20 18 8 5-19-17z"/><path fill="#00bfff" d="M497 3018l19 9 9-6-19-8zm9-5l19 8 9-7-20-7z"/><path fill="#00d4ff" d="M514 3007l20 7 8-8-19-6z"/><path fill="#00eaff" d="M523 3000l19 6 9-9-20-6z"/><path fill="#0ff" d="M531 2991l20 6 8-9-19-5zm9-8l19 5 9-9-19-6z"/><path fill="#15ffea" d="M549 2973l19 6 9-9-20-6z"/><path fill="#2bffd4" d="M557 2964l20 6 8-10-19-6z"/><path fill="#40ffbf" d="M566 2954l19 6 9-10-19-6z"/><path fill="#5fa" d="M575 2944l19 6 9-10-20-7z"/><path fill="#6aff95" d="M583 2933l20 7 8-10-19-7z"/><path fill="#80ff80" d="M592 2923l19 7 9-10-20-7z"/><path fill="#95ff6a" d="M600 2913l20 7 8-10-19-7z"/><path fill="#af5" d="M609 2903l19 7 9-10-19-7z"/><path fill="#bfff40" d="M618 2893l19 7 9-10-20-7z"/><path fill="#d5ff2a" d="M626 2883l20 7 8-9-19-8z"/><path fill="#eaff15" d="M635 2873l19 8 9-9-20-8z"/><path fill="#ff0" d="M643 2864l20 8 9-9-20-7zm9-8l20 7 8-8-19-8z"/><path fill="#ffea00" d="M661 2847l19 8 9-7-20-8z"/><path fill="#ffd500" d="M669 2840l20 8 8-8-19-8z"/><path fill="#ffbf00" d="M678 2832l19 8 9-6-19-8z"/><path fill="#fa0" d="M687 2826l19 8 9-6-20-8z"/><path fill="#ff9500" d="M695 2820l20 8 8-5-19-9zm9-6l19 9 9-5-20-9z"/><path fill="#ff2a00" d="M1023 2897l19 11 9 6-20-11zm8 6l20 11 8 5-19-10zm18 11l19 11 9 5-20-11zm17 11l19 11 9 5-20-11z"/><path fill="#ff4000" d="M1074 2930l20 11 8 6-19-12zm35 21l19 12 9 6-20-12z"/><path fill="#00bfff" d="M478 3016l19 2 9-5-20-4z"/><path fill="#00d4ff" d="M486 3009l20 4 8-6-19-5z"/><path fill="#00eaff" d="M495 3002l19 5 9-7-20-6z"/><path fill="#0ff" d="M503 2994l20 6 8-9-19-6zm9-9l19 6 9-8-19-7z"/><path fill="#15ffea" d="M521 2976l19 7 9-10-20-6z"/><path fill="#2bffd4" d="M529 2967l20 6 8-9-19-6z"/><path fill="#40ffbf" d="M538 2958l19 6 9-10-20-6z"/><path fill="#5fa" d="M546 2948l20 6 9-10-20-7z"/><path fill="#6aff95" d="M555 2937l20 7 8-11-19-6z"/><path fill="#80ff80" d="M564 2927l19 6 9-10-20-6z"/><path fill="#95ff6a" d="M572 2917l20 6 8-10-19-6z"/><path fill="#af5" d="M581 2907l19 6 9-10-19-6z"/><path fill="#bfff40" d="M590 2897l19 6 9-10-20-6z"/><path fill="#d5ff2a" d="M598 2887l20 6 8-10-19-5zm9-9l19 5 9-10-20-5z"/><path fill="#eaff15" d="M615 2868l20 5 8-9-19-5z"/><path fill="#ff0" d="M624 2859l19 5 9-8-19-5z"/><path fill="#ffea00" d="M633 2851l19 5 9-9-20-4z"/><path fill="#ffd500" d="M641 2843l20 4 8-7-19-5z"/><path fill="#ffbf00" d="M650 2835l19 5 9-8-19-4z"/><path fill="#fa0" d="M659 2828l19 4 9-6-20-4zm8-6l20 4 8-6-19-4z"/><path fill="#ff2a00" d="M1029 2909l20 5 8 5-19-5zm9 5l19 5 9 6-20-6zm8 5l20 6 8 5-19-6zm9 5l19 6 9 5-19-6zm9 5l19 6 9 6-20-6zm8 6l20 6 8 5-19-6zm9 5l19 6 9 5-20-6zm8 5l20 6 8 6-19-6z"/><path fill="#00d4ff" d="M458 3015l20 1 8-7-19-1zm9-7l19 1 9-7-20-2z"/><path fill="#00eaff" d="M475 3000l20 2 8-8-19-2z"/><path fill="#0ff" d="M484 2992l19 2 9-9-19-1z"/><path fill="#15ffea" d="M493 2984l19 1 9-9-20 0z"/><path fill="#2bffd4" d="M501 2976l20 0 8-9-19 1zm9-8l19-1 9-9-20 2z"/><path fill="#40ffbf" d="M518 2960l20-2 8-10-19 3z"/><path fill="#5fa" d="M527 2951l19-3 9-11-19 5z"/><path fill="#6aff95" d="M536 2942l19-5 9-10-20 6z"/><path fill="#80ff80" d="M544 2933l20-6 8-10-19 8z"/><path fill="#95ff6a" d="M553 2925l19-8 9-10-19 9zm9-9l19-9 9-10-20 10z"/><path fill="#af5" d="M570 2907l20-10 8-10-19 12z"/><path fill="#bfff40" d="M579 2899l19-12 9-9-20 12z"/><path fill="#d5ff2a" d="M587 2890l20-12 8-10-19 14z"/><path fill="#eaff15" d="M596 2882l19-14 9-9-19 16z"/><path fill="#ff0" d="M605 2875l19-16 9-8-20 16z"/><path fill="#ff4000" d="M1036 2948l19-24 9 5-20 24zm8 5l20-24 8 6-19 23zm9 5l19-23 9 5-20 23zm8 5l20-23 8 5-19 23zm9 5l19-23 9 6-19 22z"/><path fill="#00d4ff" d="M439 3016l19-1 9-7-20-3z"/><path fill="#00eaff" d="M447 3005l20 3 8-8-19-5z"/><path fill="#0ff" d="M456 2995l19 5 9-8-20-7z"/><path fill="#15ffea" d="M464 2985l20 7 9-8-20-9z"/><path fill="#2bffd4" d="M473 2975l20 9 8-8-19-11z"/><path fill="#40ffbf" d="M482 2965l19 11 9-8-20-14z"/><path fill="#5fa" d="M490 2954l20 14 8-8-19-16z"/><path fill="#6aff95" d="M499 2944l19 16 9-9-19-17z"/><path fill="#80ff80" d="M508 2934l19 17 9-9-20-19z"/><path fill="#95ff6a" d="M516 2923l20 19 8-9-19-21z"/><path fill="#af5" d="M525 2912l19 21 9-8-20-23z"/><path fill="#bfff40" d="M533 2902l20 23 9-9-20-25zm9-11l20 25 8-9-19-26z"/><path fill="#d5ff2a" d="M551 2881l19 26 9-8-20-28z"/><path fill="#eaff15" d="M559 2871l20 28 8-9-19-30z"/><path fill="#ff0" d="M568 2860l19 30 9-8-19-31z"/><path fill="#ffea00" d="M577 2851l19 31 9-7-20-33z"/><path fill="#ffd500" d="M585 2842l20 33 8-8-19-34z"/><path fill="#ffbf00" d="M594 2833l19 34 9-6-20-36z"/><path fill="#fa0" d="M602 2825l20 36 8-7-19-37z"/><path fill="#ff9500" d="M611 2817l19 37 9-6-19-38z"/><path fill="#ff8000" d="M620 2810l19 38 9-5-20-40z"/><path fill="#ff6a00" d="M628 2803l20 40 8-5-19-41z"/><path fill="#f50" d="M637 2797l19 41 9-4-20-42z"/><path fill="#ff4000" d="M645 2792l20 42 9-4-20-43zm9-5l20 43 8-4-19-44z"/><path fill="#ff2a00" d="M663 2782l19 44 9-3-20-45zm8-4l20 45 8-2-19-46z"/><path fill="#ff1500" d="M680 2775l19 46 9-1-19-46zm9-1l19 46 9-1-20-47zm8-2l20 47 8 0-19-48z"/><path fill="#f00" d="M706 2771l19 48 9-1-20-48zm8-1l20 48 8 0-19-48zm9 0l19 48 9 1-19-48zm259 121l19 38 9 5-20-38zm8 5l20 38 8 5-19-38zm9 5l19 38 9 5-20-37zm8 6l20 37 9 4-20-36zm9 5l20 36 8 5-19-36zm9 5l19 36 9 5-20-36z"/><path fill="#ff1500" d="M1033 2922l20 36 8 5-19-35zm9 6l19 35 9 5-19-35zm9 5l19 35 9 5-20-35z"/><path fill="#00d4ff" d="M419 3022l20-6 8-11-19 3z"/><path fill="#00eaff" d="M428 3008l19-3 9-10-20 0z"/><path fill="#0ff" d="M436 2995l20 0 8-10-19-2z"/><path fill="#15ffea" d="M445 2983l19 2 9-10-19-4z"/><path fill="#2bffd4" d="M454 2971l19 4 9-10-20-6z"/><path fill="#5fa" d="M462 2959l20 6 8-11-19-7z"/><path fill="#6aff95" d="M471 2947l19 7 9-10-19-9z"/><path fill="#80ff80" d="M480 2935l19 9 9-10-20-12z"/><path fill="#95ff6a" d="M488 2922l20 12 8-11-19-13z"/><path fill="#af5" d="M497 2910l19 13 9-11-20-15z"/><path fill="#bfff40" d="M505 2897l20 15 8-10-19-18z"/><path fill="#d5ff2a" d="M514 2884l19 18 9-11-19-19z"/><path fill="#eaff15" d="M523 2872l19 19 9-10-20-21z"/><path fill="#ff0" d="M531 2860l20 21 8-10-19-23z"/><path fill="#ffea00" d="M540 2848l19 23 9-11-20-24z"/><path fill="#ffbf00" d="M548 2836l20 24 9-9-20-27z"/><path fill="#fa0" d="M557 2824l20 27 8-9-19-29z"/><path fill="#ff9500" d="M566 2813l19 29 9-9-20-30z"/><path fill="#ff8000" d="M574 2803l20 30 8-8-19-32z"/><path fill="#ff6a00" d="M583 2793l19 32 9-8-19-33z"/><path fill="#f50" d="M592 2784l19 33 9-7-20-35z"/><path fill="#ff4000" d="M600 2775l20 35 8-7-19-36z"/><path fill="#ff2a00" d="M609 2767l19 36 9-6-20-37z"/><path fill="#ff1500" d="M617 2760l20 37 8-5-19-39zm9-7l19 39 9-5-19-40z"/><path fill="#f00" d="M635 2747l19 40 9-5-20-41z"/><path fill="#ea0000" d="M643 2741l20 41 8-4-19-42zm9-5l19 42 9-3-19-42z"/><path fill="#d50000" d="M997 2874l19 38 9 5-20-37zm8 6l20 37 8 5-19-37zm9 5l19 37 9 6-20-37zm8 6l20 37 9 5-20-37zm9 5l20 37 8 5-19-36z"/><path fill="#00eaff" d="M400 3015l19 7 9-14-20-7z"/><path fill="#0ff" d="M408 3001l20 7 8-13-19-7z"/><path fill="#15ffea" d="M417 2988l19 7 9-12-19-7z"/><path fill="#2bffd4" d="M426 2976l19 7 9-12-20-7z"/><path fill="#40ffbf" d="M434 2964l20 7 8-12-19-8z"/><path fill="#5fa" d="M443 2951l19 8 9-12-20-8z"/><path fill="#6aff95" d="M451 2939l20 8 9-12-20-8z"/><path fill="#95ff6a" d="M460 2927l20 8 8-13-19-8z"/><path fill="#af5" d="M469 2914l19 8 9-12-20-9z"/><path fill="#bfff40" d="M477 2901l20 9 8-13-19-9z"/><path fill="#d5ff2a" d="M486 2888l19 9 9-13-19-9z"/><path fill="#eaff15" d="M495 2875l19 9 9-12-20-9z"/><path fill="#ff0" d="M503 2863l20 9 8-12-19-10z"/><path fill="#ffea00" d="M512 2850l19 10 9-12-20-10z"/><path fill="#ffbf00" d="M520 2838l20 10 8-12-19-10z"/><path fill="#fa0" d="M529 2826l19 10 9-12-19-10z"/><path fill="#ff9500" d="M538 2814l19 10 9-11-20-10z"/><path fill="#ff8000" d="M546 2803l20 10 8-10-19-10z"/><path fill="#ff6a00" d="M555 2793l19 10 9-10-19-10z"/><path fill="#ff4000" d="M564 2783l19 10 9-9-20-11zm8-10l20 11 8-9-19-11z"/><path fill="#ff2a00" d="M581 2764l19 11 9-8-20-11z"/><path fill="#ff1500" d="M589 2756l20 11 8-7-19-11z"/><path fill="#f00" d="M598 2749l19 11 9-7-19-11z"/><path fill="#950000" d="M779 2741l19 11 9 3-19-10zm17 9l20 9 8 5-19-10zm17 8l20 10 8 5-19-10zm9 5l19 10 9 4-19-9zm9 5l19 9 9 5-20-9zm8 5l20 9 8 6-19-10zm9 5l19 10 9 5-19-9zm9 6l19 9 9 6-20-10zm8 5l20 10 8 6-19-10zm9 6l19 10 9 5-20-9z"/><path fill="#a00" d="M882 2801l20 9 8 6-19-10zm9 5l19 10 9 6-19-10zm9 6l19 10 9 6-20-10zm8 6l20 10 8 6-19-10zm9 6l19 10 9 6-20-10zm8 6l20 10 9 6-20-10zm9 6l20 10 8 6-19-10zm9 6l19 10 9 5-20-9zm8 6l20 9 8 6-19-10z"/><path fill="#bf0000" d="M960 2853l19 10 9 6-19-10zm9 6l19 10 9 5-20-10zm8 5l20 10 8 6-19-10zm9 6l19 10 9 5-20-10zm8 5l20 10 8 6-19-10zm9 6l19 10 9 5-19-10zm9 5l19 10 9 6-20-10z"/><path fill="#0ff" d="M380 2999l20 16 8-14-19-11z"/><path fill="#15ffea" d="M389 2990l19 11 9-13-19-7z"/><path fill="#2bffd4" d="M398 2981l19 7 9-12-20-5z"/><path fill="#40ffbf" d="M406 2971l20 5 8-12-19-3z"/><path fill="#5fa" d="M415 2961l19 3 9-13-20 0z"/><path fill="#6aff95" d="M423 2951l20 0 8-12-19 2z"/><path fill="#80ff80" d="M432 2941l19-2 9-12-19 3z"/><path fill="#95ff6a" d="M441 2930l19-3 9-13-20 5z"/><path fill="#af5" d="M449 2919l20-5 8-13-19 7z"/><path fill="#bfff40" d="M458 2908l19-7 9-13-19 8z"/><path fill="#d5ff2a" d="M467 2896l19-8 9-13-20 10z"/><path fill="#eaff15" d="M475 2885l20-10 8-12-19 11z"/><path fill="#ff0" d="M484 2874l19-11 9-13-20 13z"/><path fill="#ffea00" d="M492 2863l20-13 8-12-19 15z"/><path fill="#ffd500" d="M501 2853l19-15 9-12-19 16z"/><path fill="#ffbf00" d="M510 2842l19-16 9-12-20 18z"/><path fill="#fa0" d="M518 2832l20-18 8-11-19 19z"/><path fill="#f00" d="M596 2765l19-29 9-6-20 30zm8-5l20-30 8-5-19 31z"/><path fill="#ea0000" d="M613 2756l19-31 9-3-19 31zm9-3l19-31 9-3-20 33zm8-1l20-33 8-2-19 33z"/><path fill="#d50000" d="M639 2750l19-33 9-1-20 33zm8-1l20-33 9-2-20 34zm9-1l20-34 8 0-19 34z"/><path fill="#bf0000" d="M665 2748l19-34 9 0-20 35zm8 1l20-35 8 1-19 36zm9 2l19-36 9 2-19 36zm9 2l19-36 9 3-20 36zm8 3l20-36 8 2-19 37zm9 3l19-37 9 3-20 37zm8 3l20-37 8 3-19 37zm9 3l19-37 9 3-19 37zm9 3l19-37 9 3-20 37zm8 3l20-37 8 4-19 37zm9 4l19-37 9 3-19 38zm9 4l19-38 9 4-20 38zm8 4l20-38 8 5-19 37zm9 4l19-37 9 4-20 38zm8 5l20-38 8 4-19 39zm9 5l19-39 9 5-19 39zm9 5l19-39 9 5-20 39zm8 5l20-39 8 5-19 39zm9 5l19-39 9 5-20 40zm8 6l20-40 9 6-20 39zm9 5l20-39 8 5-19 40zm9 6l19-40 9 6-20 40zm8 6l20-40 8 6-19 40z"/><path fill="#d50000" d="M863 2841l19-40 9 5-19 41zm9 6l19-41 9 6-20 41zm8 6l20-41 8 6-19 41zm9 6l19-41 9 6-20 42zm8 7l20-42 8 6-19 42zm9 6l19-42 9 6-19 42zm9 6l19-42 9 6-20 42z"/><path fill="#ea0000" d="M923 2884l20-42 8 6-19 42zm9 6l19-42 9 5-19 43zm9 6l19-43 9 6-20 42zm8 5l20-42 8 5-19 43zm9 6l19-43 9 6-20 43zm8 6l20-43 8 5-19 43zm9 5l19-43 9 6-19 43zm9 6l19-43 9 5-20 43zm8 5l20-43 8 6-19 42z"/><path fill="#2bffd4" d="M361 2983l19 16 9-9-20-13zm8-6l20 13 9-9-20-12z"/><path fill="#40ffbf" d="M378 2969l20 12 8-10-19-10z"/><path fill="#5fa" d="M387 2961l19 10 9-10-20-9z"/><path fill="#6aff95" d="M395 2952l20 9 8-10-19-8z"/><path fill="#80ff80" d="M404 2943l19 8 9-10-19-8z"/><path fill="#95ff6a" d="M413 2933l19 8 9-11-20-8z"/><path fill="#af5" d="M421 2922l20 8 8-11-19-7zm9-10l19 7 9-11-20-7z"/><path fill="#bfff40" d="M438 2901l20 7 9-12-20-6z"/><path fill="#d5ff2a" d="M447 2890l20 6 8-11-19-6z"/><path fill="#eaff15" d="M456 2879l19 6 9-11-20-5z"/><path fill="#ff0" d="M464 2869l20 5 8-11-19-5z"/><path fill="#ffd500" d="M473 2858l19 5 9-10-19-5z"/><path fill="#ffbf00" d="M482 2848l19 5 9-11-20-5z"/><path fill="#fa0" d="M490 2837l20 5 8-10-19-5z"/><path fill="#ff9500" d="M499 2827l19 5 9-10-20-4z"/><path fill="#ff8000" d="M507 2818l20 4 8-9-19-3z"/><path fill="#ff6a00" d="M516 2810l19 3 9-8-19-4z"/><path fill="#f50" d="M525 2801l19 4 9-8-20-4z"/><path fill="#ff4000" d="M533 2793l20 4 8-8-19-3z"/><path fill="#ff2a00" d="M542 2786l19 3 9-7-20-3zm8-7l20 3 9-6-20-2z"/><path fill="#ff1500" d="M559 2774l20 2 8-6-19-2z"/><path fill="#f00" d="M568 2768l19 2 9-5-20-2zm8-5l20 2 8-5-19-2z"/><path fill="#ea0000" d="M585 2758l19 2 9-4-19-1zm9-3l19 1 9-3-20-1z"/><path fill="#bf0000" d="M654 2749l19 0 9 2-19-1zm9 1l19 1 9 2-20 0zm8 3l20 0 8 3-19 0zm9 3l19 0 9 3-20 0zm8 3l20 0 8 3-19 0z"/><path fill="#a00" d="M697 2762l19 0 9 3-19 0zm9 3l19 0 9 3-20 0zm8 3l20 0 8 3-19 1zm9 4l19-1 9 4-20 1zm8 4l20-1 9 4-20 1zm9 4l20-1 8 4-19 1zm9 4l19-1 9 4-20 2zm8 5l20-2 8 5-19 1zm9 4l19-1 9 5-19 1z"/><path fill="#bf0000" d="M775 2798l19-1 9 5-20 2zm8 6l20-2 8 5-19 2zm9 5l19-2 9 5-20 2zm8 5l20-2 8 6-19 2zm9 6l19-2 9 5-19 3zm9 6l19-3 9 6-20 3zm8 6l20-3 8 6-19 3zm9 6l19-3 9 6-19 3zm9 6l19-3 9 6-20 4z"/><path fill="#d50000" d="M852 2851l20-4 8 6-19 4zm9 6l19-4 9 6-20 4zm8 6l20-4 8 7-19 3zm9 6l19-3 9 6-19 4zm9 7l19-4 9 6-20 4zm8 6l20-4 8 6-19 4z"/><path fill="#ea0000" d="M904 2888l19-4 9 6-20 4zm8 6l20-4 9 6-20 4zm9 6l20-4 8 5-19 5zm9 6l19-5 9 6-20 4zm8 5l20-4 8 6-19 4zm9 6l19-4 9 5-19 5zm9 6l19-5 9 6-20 4zm8 5l20-4 8 5-19 5zm9 6l19-5 9 5-20 5z"/><path fill="#40ffbf" d="M341 2968l20 15 8-6-19-16z"/><path fill="#5fa" d="M350 2961l19 16 9-8-19-16z"/><path fill="#6aff95" d="M359 2953l19 16 9-8-20-16zm8-8l20 16 8-9-19-16z"/><path fill="#80ff80" d="M376 2936l19 16 9-9-19-16z"/><path fill="#95ff6a" d="M385 2927l19 16 9-10-20-16z"/><path fill="#af5" d="M393 2917l20 16 8-11-19-15z"/><path fill="#bfff40" d="M402 2907l19 15 9-10-20-15z"/><path fill="#d5ff2a" d="M410 2897l20 15 8-11-19-15z"/><path fill="#eaff15" d="M419 2886l19 15 9-11-19-14z"/><path fill="#ff0" d="M428 2876l19 14 9-11-20-14z"/><path fill="#ffea00" d="M436 2865l20 14 8-10-19-14z"/><path fill="#ffd500" d="M445 2855l19 14 9-11-20-13z"/><path fill="#ffbf00" d="M453 2845l20 13 9-10-20-14z"/><path fill="#fa0" d="M462 2834l20 14 8-11-19-13z"/><path fill="#ff9500" d="M471 2824l19 13 9-10-20-12z"/><path fill="#ff8000" d="M479 2815l20 12 8-9-19-12z"/><path fill="#ff6a00" d="M488 2806l19 12 9-8-19-12z"/><path fill="#f50" d="M497 2798l19 12 9-9-20-12z"/><path fill="#ff4000" d="M505 2789l20 12 8-8-19-11z"/><path fill="#ff2a00" d="M514 2782l19 11 9-7-20-11z"/><path fill="#ff1500" d="M522 2775l20 11 8-7-19-11zm9-7l19 11 9-5-19-11z"/><path fill="#f00" d="M540 2763l19 11 9-6-20-10z"/><path fill="#ea0000" d="M548 2758l20 10 8-5-19-10zm9-5l19 10 9-5-19-10z"/><path fill="#d50000" d="M566 2748l19 10 9-3-20-10z"/><path fill="#a00" d="M686 2757l20 8 8 3-19-7zm9 4l19 7 9 4-20-8zm17 7l19 8 9 4-19-8zm9 4l19 8 9 4-20-7zm8 5l20 7 8 5-19-8zm9 4l19 8 9 4-19-7zm9 5l19 7 9 5-20-7zm8 5l20 7 8 6-19-8zm9 5l19 8 9 5-20-8zm8 5l20 8 8 5-19-7zm9 6l19 7 9 6-19-8zm9 5l19 8 9 6-20-8zm8 6l20 8 8 6-19-8zm9 6l19 8 9 6-20-8z"/><path fill="#bf0000" d="M815 2830l20 8 9 6-20-8zm9 6l20 8 8 7-19-9zm9 6l19 9 9 6-20-8zm8 7l20 8 8 6-19-8zm9 6l19 8 9 6-19-8zm9 6l19 8 9 7-20-9zm8 6l20 9 8 6-19-9z"/><path fill="#d50000" d="M876 2873l19 9 9 6-20-9zm8 6l20 9 8 6-19-9zm9 6l19 9 9 6-19-9zm9 6l19 9 9 6-20-9zm8 6l20 9 8 5-19-9zm9 5l19 9 9 6-20-9zm8 6l20 9 9 6-20-10zm9 5l20 10 8 5-19-9zm9 6l19 9 9 6-20-10zm8 5l20 10 8 5-19-10z"/><path fill="#5fa" d="M322 2955l19 13 9-7-19-12z"/><path fill="#6aff95" d="M331 2949l19 12 9-8-20-12z"/><path fill="#80ff80" d="M339 2941l20 12 8-8-19-12zm9-8l19 12 9-9-20-11z"/><path fill="#95ff6a" d="M356 2925l20 11 9-9-20-10z"/><path fill="#af5" d="M365 2917l20 10 8-10-19-9z"/><path fill="#bfff40" d="M374 2908l19 9 9-10-20-8z"/><path fill="#d5ff2a" d="M382 2899l20 8 8-10-19-7z"/><path fill="#eaff15" d="M391 2890l19 7 9-11-19-5z"/><path fill="#ff0" d="M400 2881l19 5 9-10-20-5z"/><path fill="#ffea00" d="M408 2871l20 5 8-11-19-3zm9-9l19 3 9-10-20-2z"/><path fill="#ffd500" d="M425 2853l20 2 8-10-19-1z"/><path fill="#ffbf00" d="M434 2844l19 1 9-11-19 0z"/><path fill="#fa0" d="M443 2834l19 0 9-10-20 2z"/><path fill="#ff9500" d="M451 2826l20-2 8-9-19 2z"/><path fill="#ff8000" d="M460 2817l19-2 9-9-19 3z"/><path fill="#ff6a00" d="M469 2809l19-3 9-8-20 4z"/><path fill="#f50" d="M477 2802l20-4 8-9-19 6z"/><path fill="#ff4000" d="M486 2795l19-6 9-7-20 6z"/><path fill="#ff2a00" d="M494 2788l20-6 8-7-19 7z"/><path fill="#ff1500" d="M503 2782l19-7 9-7-19 9zm9-5l19-9 9-5-20 9z"/><path fill="#f00" d="M520 2772l20-9 8-5-19 10zm9-4l19-10 9-5-20 10z"/><path fill="#ea0000" d="M537 2763l20-10 9-5-20 12zm9-3l20-12 8-3-19 12z"/><path fill="#d50000" d="M555 2757l19-12 9-3-20 13zm8-2l20-13 8-1-19 13zm9-1l19-13 9-1-19 14z"/><path fill="#bf0000" d="M581 2754l19-14 9-1-20 14zm8-1l20-14 8 0-19 14zm9 0l19-14 9 0-20 15zm8 1l20-15 8 1-19 15zm9 1l19-15 9 2-19 15z"/><path fill="#a00" d="M624 2757l19-15 9 3-20 15zm8 3l20-15 8 3-19 15zm9 3l19-15 9 3-20 16zm8 4l20-16 9 3-20 16zm9 3l20-16 8 3-19 16zm9 3l19-16 9 4-20 16zm8 4l20-16 8 3-19 17zm9 4l19-17 9 4-19 17zm9 4l19-17 9 4-20 17zm8 4l20-17 8 5-19 16zm9 4l19-16 9 4-20 17zm8 5l20-17 9 5-20 17zm9 5l20-17 8 5-19 17z"/><path fill="#bf0000" d="M736 2808l19-17 9 5-20 18zm8 6l20-18 8 5-19 18zm9 5l19-18 9 6-19 17zm9 5l19-17 9 5-20 18zm8 6l20-18 8 6-19 18zm9 6l19-18 9 6-20 18zm8 6l20-18 8 6-19 18zm9 6l19-18 9 6-19 19zm9 7l19-19 9 6-20 19z"/><path fill="#d50000" d="M813 2861l20-19 8 7-19 18zm9 6l19-18 9 6-20 18zm8 6l20-18 9 6-20 18zm9 6l20-18 8 6-19 19zm9 7l19-19 9 6-20 19zm8 6l20-19 8 6-19 19zm9 6l19-19 9 6-19 19z"/><path fill="#ea0000" d="M874 2904l19-19 9 6-20 19zm8 6l20-19 8 6-19 18zm9 5l19-18 9 5-20 19zm8 6l20-19 8 6-19 19zm9 6l19-19 9 5-19 19zm9 5l19-19 9 6-20 18zm8 5l20-18 8 5-19 18zm9 5l19-18 9 5-19 19z"/></g><path class="a" d="M230.0 757.5L446.0 699.0"/><path class="a" d="M59.0 680.5L230.0 757.5"/><path class="a" d="M59.0 680.5L59.0 512.0"/><path class="a" d="M59.0 680.5L54.0 680.5"/><path class="a" d="M59.0 646.8L54.0 646.8"/><path class="a" d="M59.0 613.1L54.0 613.1"/><path class="a" d="M59.0 579.4L54.0 579.4"/><path class="a" d="M59.0 545.7L54.0 545.7"/><path class="a" d="M59.0 512.0L54.0 512.0"/><path class="a" d="M230.0 757.5L234.6 759.6"/><path class="a" d="M284.0 742.9L288.6 744.9"/><path class="a" d="M338.0 728.2L342.6 730.3"/><path class="a" d="M392.0 713.6L396.6 715.7"/><path class="a" d="M446.0 699.0L450.6 701.1"/><path class="a" d="M59.0 680.5L54.2 681.8"/><path class="a" d="M107.9 702.5L103.0 703.8"/><path class="a" d="M156.7 724.5L151.9 725.8"/><path class="a" d="M205.6 746.5L200.8 747.8"/><text x="97.5" y="445.2" font-size="12.00" text-anchor="start" textLength="306.5" lengthAdjust="spacingAndGlyphs">Tasa spot - Ajuste Polinomial (Bolsa de Colombia con O/N)</text><text x="40.2" y="515.3" font-size="12.00" text-anchor="start" textLength="11.3" lengthAdjust="spacingAndGlyphs">18</text><text x="40.2" y="549.3" font-size="12.00" text-anchor="start" textLength="11.3" lengthAdjust="spacingAndGlyphs">16</text><text x="40.2" y="583.3" font-size="12.00" text-anchor="start" textLength="11.3" lengthAdjust="spacingAndGlyphs">14</text><text x="40.2" y="616.3" font-size="12.00" text-anchor="start" textLength="11.3" lengthAdjust="spacingAndGlyphs">12</text><text x="40.2" y="650.3" font-size="12.00" text-anchor="start" textLength="11.3" lengthAdjust="spacingAndGlyphs">10</text><text x="45.8" y="681.3" font-size="12.00" text-anchor="start" textLength="5.7" lengthAdjust="spacingAndGlyphs">8</text><text x="43.2" y="693.8" font-size="12.00" text-anchor="start" textLength="5.7" lengthAdjust="spacingAndGlyphs">0</text><text x="91.2" y="716.3" font-size="12.00" text-anchor="start" textLength="5.7" lengthAdjust="spacingAndGlyphs">2</text><text x="139.7" y="738.3" font-size="12.00" text-anchor="start" textLength="5.7" lengthAdjust="spacingAndGlyphs">4</text><text x="186.7" y="759.3" font-size="12.00" text-anchor="start" textLength="5.7" lengthAdjust="spacingAndGlyphs">6</text><text x="233.7" y="772.3" font-size="12.00" text-anchor="start" textLength="5.7" lengthAdjust="spacingAndGlyphs">0</text><text x="290.3" y="758.3" font-size="12.00" text-anchor="start" textLength="11.3" lengthAdjust="spacingAndGlyphs">10</text><text x="344.3" y="743.3" font-size="12.00" text-anchor="start" textLength="11.3" lengthAdjust="spacingAndGlyphs">20</text><text x="399.3" y="728.3" font-size="12.00" text-anchor="start" textLength="11.3" lengthAdjust="spacingAndGlyphs">30</text><text x="453.8" y="713.3" font-size="12.00" text-anchor="start" textLength="11.3" lengthAdjust="spacingAndGlyphs">40</text><text x="325.0" y="778.2" font-size="9.50" text-anchor="start" textLength="136.0" lengthAdjust="spacingAndGlyphs">Semana de transacción de 2001</text><text x="65.5" y="783.7" font-size="9.50" text-anchor="start" textLength="97.0" lengthAdjust="spacingAndGlyphs">Vencimiento (en años)</text></g><g><path class="g" d="M802.0 598.3L609.0 650.3"/><path class="g" d="M802.0 568.6L609.0 620.6"/><path class="g" d="M802.0 538.9L609.0 590.9"/><path class="g" d="M802.0 509.2L609.0 561.2"/><path class="g" d="M802.0 479.5L609.0 531.5"/><path class="g" d="M802.0 449.8L609.0 501.8"/><path class="g" d="M802.0 598.3L802.0 449.8"/><path class="g" d="M746.9 613.2L746.9 464.7"/><path class="g" d="M691.7 628.0L691.7 479.5"/><path class="g" d="M636.6 642.9L636.6 494.4"/><path class="g" d="M802.0 598.3L951.0 665.3"/><path class="g" d="M802.0 568.6L951.0 635.6"/><path class="g" d="M802.0 538.9L951.0 605.9"/><path class="g" d="M802.0 509.2L951.0 576.2"/><path class="g" d="M802.0 479.5L951.0 546.5"/><path class="g" d="M802.0 449.8L951.0 516.8"/><path class="g" d="M802.0 598.3L802.0 449.8"/><path class="g" d="M839.2 615.0L839.2 466.5"/><path class="g" d="M876.5 631.8L876.5 483.3"/><path class="g" d="M913.8 648.5L913.8 500.0"/><path class="g" d="M951.0 665.3L951.0 516.8"/><path class="g" d="M802.0 598.3L609.0 650.3"/><path class="g" d="M839.2 615.0L646.3 667.1"/><path class="g" d="M876.5 631.8L683.5 683.8"/><path class="g" d="M913.8 648.5L720.8 700.6"/><path class="g" d="M951.0 665.3L758.0 717.3"/><path class="g" d="M802.0 598.3L951.0 665.3"/><path class="g" d="M746.9 613.2L895.9 680.2"/><path class="g" d="M691.7 628.0L840.7 695.0"/><path class="g" d="M636.6 642.9L785.6 709.9"/><g transform="scale(0.2)" stroke="#000" stroke-width="2.75" stroke-linejoin="round"><path fill="#5fa" d="M4029 2612l13 22-10-7-13-22z"/><path fill="#6aff95" d="M4019 2605l13 22-9-7-14-22z"/><path fill="#80ff80" d="M4009 2598l14 22-10-9-14-21zm-10-8l14 21-10-8-13-20z"/><path fill="#95ff6a" d="M3990 2583l13 20-10-9-13-20z"/><path fill="#af5" d="M3980 2574l13 20-9-9-14-19z"/><path fill="#bfff40" d="M3970 2566l14 19-10-10-13-18z"/><path fill="#d5ff2a" d="M3961 2557l13 18-10-10-13-17z"/><path fill="#bf0000" d="M3698 2409l13-3-9 1-14 3z"/><path fill="#a00" d="M3688 2410l14-3-10 1-14 4zm-10 2l14-4-10 2-13 3zm-9 1l13-3-10 2-13 3zm-10 2l13-3-9 2-14 4zm-10 3l14-4-10 2-13 4zm-9 2l13-4-10 2-13 4zm-10 2l13-4-9 3-14 4zm-10 3l14-4-10 2-14 4zm-10 2l14-4-10 3-13 4zm-9 3l13-4-10 3-13 5zm-10 4l13-5-9 4-14 4zm-10 3l14-4-10 3-14 5zm-10 4l14-5-10 4-13 4z"/><path fill="#bf0000" d="M3562 2444l13-4-10 3-13 5zm-10 4l13-5-9 4-14 5zm-10 4l14-5-10 4-13 5zm-9 4l13-5-10 4-13 5zm-10 4l13-5-9 5-14 5zm-10 5l14-5-10 4-14 5zm-10 4l14-5-10 5-13 5zm-9 5l13-5-10 4-13 6zm-10 5l13-6-9 5-14 5z"/><path fill="#d50000" d="M3474 2483l14-5-10 4-13 6zm-9 5l13-6-10 5-13 6zm-10 5l13-6-10 5-13 5zm-10 4l13-5-9 4-14 6zm-29 14l13-5-9 4-14 6z"/><path fill="#ea0000" d="M3396 2520l14-6-10 4-13 6zm-9 4l13-6-10 5-13 5zm-20 9l14-6-10 4-13 6zm-9 4l13-6-10 4-13 5zm-10 3l13-5-10 4-13 5zm-10 4l13-5-9 3-14 6z"/><path fill="#40ffbf" d="M4042 2634l13 24-9-7-14-24z"/><path fill="#5fa" d="M4032 2627l14 24-10-7-13-24z"/><path fill="#6aff95" d="M4023 2620l13 24-10-8-13-25zm-10-9l13 25-9-9-14-24z"/><path fill="#80ff80" d="M4003 2603l14 24-10-9-14-24z"/><path fill="#95ff6a" d="M3993 2594l14 24-10-9-13-24z"/><path fill="#af5" d="M3984 2585l13 24-10-10-13-24z"/><path fill="#d50000" d="M3789 2420l14 19-10-4-14-19zm-10-4l14 19-10-3-13-19zm-9-3l13 19-10-2-13-19z"/><path fill="#bf0000" d="M3760 2411l13 19-9-2-14-19zm-10-2l14 19-10-2-13-18zm-9-1l13 18-10-1-13-19z"/><path fill="#a00" d="M3731 2406l13 19-10-1-13-18zm-10 0l13 18-9 0-14-18zm-10 0l14 18-10 1-13-18zm-9 1l13 18-10 1-13-18zm-10 1l13 18-9 2-14-18zm-10 2l14 18-10 2-14-18zm-10 2l14 18-10 2-13-18zm-9 2l13 18-10 2-13-18zm-10 2l13 18-9 2-14-18zm-10 2l14 18-10 2-13-17zm-9 3l13 17-10 3-13-18zm-10 2l13 18-10 3-13-18zm-10 3l13 18-9 3-14-18zm-10 3l14 18-10 3-13-17zm-9 4l13 17-10 3-13-17zm-10 3l13 17-9 4-14-17zm-10 4l14 17-10 4-14-18zm-10 3l14 18-10 3-13-17zm-9 4l13 17-10 4-13-17zm-10 4l13 17-9 5-14-18zm-10 4l14 18-10 4-13-17zm-9 5l13 17-10 5-13-18zm-10 4l13 18-9 4-14-17z"/><path fill="#bf0000" d="M3507 2469l14 17-10 5-14-18zm-10 4l14 18-10 5-13-18zm-9 5l13 18-10 4-13-18zm-10 4l13 18-9 5-14-18zm-10 5l14 18-10 5-14-18zm-10 5l14 18-10 5-13-19zm-9 4l13 19-10 4-13-18z"/><path fill="#d50000" d="M3439 2501l13 18-9 5-14-18zm-10 5l14 18-10 5-13-19zm-9 4l13 19-10 4-13-19zm-10 4l13 19-9 4-14-19zm-10 4l14 19-10 4-14-18zm-10 5l14 18-10 5-13-19zm-9 4l13 19-10 4-13-19zm-10 4l13 19-9 4-14-19zm-10 4l14 19-10 4-14-19zm-10 4l14 19-10 3-13-19z"/><path fill="#ea0000" d="M3375 2554l13 6-10 4-13-6zm-10 4l13 6-9 4-14-7zm33-2l13-27-10 4-13 27zm-10 4l13-27-9 4-14 27zm-10 4l14-27-10 4-13 27z"/><path fill="#d5ff2a" d="M3985 2588l13 18-9-12-14-18z"/><path fill="#eaff15" d="M3975 2576l14 18-10-11-13-19z"/><path fill="#ff0" d="M3966 2564l13 19-10-12-13-19z"/><path fill="#ffea00" d="M3956 2552l13 19-9-12-14-19z"/><path fill="#ffbf00" d="M3946 2540l14 19-10-11-14-19z"/><path fill="#fa0" d="M3936 2529l14 19-10-11-13-19z"/><path fill="#ff9500" d="M3927 2518l13 19-10-10-13-20z"/><path fill="#ff8000" d="M3917 2507l13 20-9-10-14-20z"/><path fill="#ff6a00" d="M3907 2497l14 20-10-9-14-20z"/><path fill="#ff4000" d="M3897 2488l14 20-10-10-13-20zm-9-10l13 20-10-8-13-20z"/><path fill="#ff2a00" d="M3878 2470l13 20-9-8-14-20z"/><path fill="#ff1500" d="M3868 2462l14 20-10-7-13-20z"/><path fill="#f00" d="M3859 2455l13 20-10-7-13-20z"/><path fill="#ea0000" d="M3849 2448l13 20-9-6-14-20zm-10-6l14 20-10-6-14-20z"/><path fill="#d50000" d="M3829 2436l14 20-10-5-13-20zm-9-5l13 20-10-4-13-20z"/><path fill="#bf0000" d="M3810 2427l13 20-9-3-14-20zm-10-3l14 20-10-2-14-21zm-10-3l14 21-10-3-13-20z"/><path fill="#a00" d="M3781 2419l13 20-10-2-13-20zm-10-2l13 20-9-1-14-20zm-10-1l14 20-10-1-13-20z"/><path fill="#950000" d="M3752 2415l13 20-10 1-13-21zm-10 0l13 21-9 1-14-21zm-10 1l14 21-10 1-14-20zm-10 2l14 20-10 1-13-20zm-9 1l13 20-10 2-13-20zm-10 2l13 20-9 1-14-19zm-10 2l14 19-10 2-14-19zm-10 2l14 19-10 2-13-19zm-9 2l13 19-10 2-13-19zm-10 2l13 19-9 3-14-20zm-10 2l14 20-10 2-13-19zm-9 3l13 19-10 3-13-19zm-10 3l13 19-9 3-14-19zm-10 3l14 19-10 3-14-19zm-10 3l14 19-10 3-13-19zm-9 3l13 19-10 4-13-19zm-10 4l13 19-9 3-14-19zm-10 3l14 19-10 4-13-19zm-9 4l13 19-10 4-13-19zm-10 4l13 19-10 5-13-20zm-10 4l13 20-9 4-14-19zm-10 5l14 19-10 4-13-19z"/><path fill="#a00" d="M3538 2474l13 19-10 4-13-19zm-10 4l13 19-9 5-14-20zm-10 4l14 20-10 4-14-19zm-10 5l14 19-10 5-13-20zm-9 4l13 20-10 4-13-19zm-10 5l13 19-9 5-14-20zm-10 4l14 20-10 4-13-19zm-9 5l13 19-10 4-13-19zm-10 4l13 19-10 4-13-19z"/><path fill="#bf0000" d="M3450 2513l13 19-9 4-14-19zm-10 4l14 19-10 5-13-20zm-9 4l13 20-10 4-13-20zm-10 4l13 20-9 4-14-20zm-10 4l14 20-10 4-14-20zm-10 4l14 20-10 4-13-20zm-9 4l13 20-10 4-13-20z"/><path fill="#bfff40" d="M3998 2606l14 24-10-10-13-26z"/><path fill="#d5ff2a" d="M3989 2594l13 26-10-10-13-27z"/><path fill="#eaff15" d="M3979 2583l13 27-9-10-14-29z"/><path fill="#ff0" d="M3969 2571l14 29-10-10-13-31z"/><path fill="#ffea00" d="M3960 2559l13 31-10-9-13-33z"/><path fill="#ffbf00" d="M3950 2548l13 33-10-10-13-34z"/><path fill="#fa0" d="M3940 2537l13 34-9-8-14-36z"/><path fill="#ff9500" d="M3930 2527l14 36-10-9-13-37z"/><path fill="#ff8000" d="M3921 2517l13 37-10-8-13-38z"/><path fill="#ff6a00" d="M3911 2508l13 38-9-8-14-40z"/><path fill="#f50" d="M3901 2498l14 40-10-7-14-41z"/><path fill="#ff4000" d="M3891 2490l14 41-10-7-13-42z"/><path fill="#ff2a00" d="M3882 2482l13 42-10-5-13-44z"/><path fill="#ff1500" d="M3872 2475l13 44-9-6-14-45zm-10-7l14 45-10-5-13-46z"/><path fill="#f00" d="M3853 2462l13 46-10-5-13-47z"/><path fill="#ea0000" d="M3843 2456l13 47-10-4-13-48zm-10-5l13 48-9-4-14-48z"/><path fill="#d50000" d="M3823 2447l14 48-10-2-13-49zm-9-3l13 49-10-2-13-49zm-10-2l13 49-9-2-14-50z"/><path fill="#bf0000" d="M3794 2439l14 50-10-1-14-51zm-10-2l14 51-10-1-13-51zm-9-1l13 51-10-1-13-51z"/><path fill="#a00" d="M3765 2435l13 51-9 1-14-51zm-10 1l14 51-10 1-13-51zm-9 1l13 51-10 1-13-51zm-10 1l13 51-10 2-13-52zm-10 1l13 52-9 1-14-51zm-10 2l14 51-10 2-13-52zm-9 1l13 52-10 2-13-52zm-10 2l13 52-9 2-14-52zm-10 2l14 52-10 2-14-52zm-10 2l14 52-10 2-13-51zm-9 3l13 51-10 3-13-52zm-10 2l13 52-9 2-14-51zm-10 3l14 51-10 3-13-51zm-9 3l13 51-10 3-13-51zm-10 3l13 51-9 3-14-51zm-10 3l14 51-10 3-14-50zm-10 4l14 50-10 3-13-50zm-9 3l13 50-10 4-13-50zm-10 4l13 50-9 3-14-49zm-10 4l14 49-10 4-14-48zm-10 5l14 48-10 4-13-48zm-9 4l13 48-10 4-13-48zm-10 4l13 48-9 4-14-48zm-10 4l14 48-10 4-13-47z"/><path fill="#bf0000" d="M3532 2502l13 47-10 4-13-47zm-10 4l13 47-9 4-14-46zm-10 5l14 46-10 4-14-46zm-10 4l14 46-10 4-13-45zm-9 5l13 45-10 4-13-45zm-10 4l13 45-9 4-14-45zm-10 4l14 45-10 4-14-45zm-10 4l14 45-10 3-13-44z"/><path fill="#d50000" d="M3454 2536l13 44-10 4-13-43zm-10 5l13 43-9 4-14-43zm-10 4l14 43-10 4-13-43zm-9 4l13 43-10 4-13-43zm-10 4l13 43-9 4-14-43zm-10 4l14 43-10 4-14-43z"/><path fill="#d5ff2a" d="M3983 2600l13 34-10-8-13-36z"/><path fill="#eaff15" d="M3973 2590l13 36-9-9-14-36z"/><path fill="#ff0" d="M3963 2581l14 36-10-7-14-39z"/><path fill="#ffea00" d="M3953 2571l14 39-10-8-13-39z"/><path fill="#ffd500" d="M3944 2563l13 39-10-7-13-41z"/><path fill="#ffbf00" d="M3934 2554l13 41-9-7-14-42z"/><path fill="#fa0" d="M3924 2546l14 42-10-6-13-44z"/><path fill="#ff9500" d="M3915 2538l13 44-10-6-13-45z"/><path fill="#ff8000" d="M3905 2531l13 45-9-6-14-46z"/><path fill="#ff6a00" d="M3895 2524l14 46-10-5-14-46z"/><path fill="#f50" d="M3885 2519l14 46-10-4-13-48z"/><path fill="#ff4000" d="M3876 2513l13 48-10-5-13-48zm-10-5l13 48-9-4-14-49z"/><path fill="#ff2a00" d="M3856 2503l14 49-10-3-14-50zm-10-4l14 50-10-3-13-51z"/><path fill="#ff1500" d="M3837 2495l13 51-10-1-13-52zm-10-2l13 52-9-2-14-52zm-10-2l14 52-10-1-13-53z"/><path fill="#f00" d="M3808 2489l13 53-10-1-13-53zm-10-1l13 53-9-1-14-53zm-10-1l14 53-10 0-14-54zm-10-1l14 54-10 1-13-54z"/><path fill="#ea0000" d="M3769 2487l13 54-10 1-13-54zm-10 1l13 54-9 1-14-54zm-10 1l14 54-10 2-14-54zm-10 2l14 54-10 1-13-54zm-9 1l13 54-10 2-13-54zm-10 2l13 54-9 2-14-54zm-10 2l14 54-10 2-13-54zm-9 2l13 54-10 2-13-54zm-10 2l13 54-9 2-14-54zm-10 2l14 54-10 2-14-53zm-10 3l14 53-10 3-13-54zm-9 2l13 54-10 2-13-53zm-10 3l13 53-9 2-14-52zm-10 3l14 52-10 3-13-52zm-9 3l13 52-10 3-13-52zm-10 3l13 52-10 3-13-52zm-10 3l13 52-9 3-14-51zm-10 4l14 51-10 3-13-51zm-9 3l13 51-10 3-13-50zm-10 4l13 50-9 3-14-49zm-10 4l14 49-10 4-14-49zm-10 4l14 49-10 3-13-48zm-9 4l13 48-10 3-13-47zm-10 4l13 47-9 4-14-47z"/><path fill="#f00" d="M3535 2553l14 47-10 3-13-46zm-9 4l13 46-10 4-13-46zm-10 4l13 46-10 3-13-45zm-10 4l13 45-9 4-14-45zm-10 4l14 45-10 3-13-44zm-9 4l13 44-10 3-13-43zm-10 4l13 43-9 4-14-44zm-10 3l14 44-10 3-14-43zm-10 4l14 43-10 4-13-43zm-9 4l13 43-10 3-13-42z"/><path fill="#ff1500" d="M3438 2592l13 42-9 4-14-42zm-10 4l14 42-10 4-13-42zm-9 4l13 42-10 3-13-41z"/><path fill="#ff4000" d="M3442 2638l13-10-10 4-13 10zm-10 4l13-10-9 4-14 9z"/><path fill="#ffea00" d="M3961 2591l13 15-9-8-14-15z"/><path fill="#ffd500" d="M3951 2583l14 15-10-8-14-14z"/><path fill="#ffbf00" d="M3941 2576l14 14-10-7-13-14z"/><path fill="#fa0" d="M3932 2569l13 14-10-7-13-14zm-10-7l13 14-9-6-14-13z"/><path fill="#ff9500" d="M3912 2557l14 13-10-5-14-14z"/><path fill="#ff8000" d="M3902 2551l14 14-10-6-13-13z"/><path fill="#ff6a00" d="M3893 2546l13 13-10-4-13-14z"/><path fill="#f50" d="M3883 2541l13 14-9-5-14-13zm-10-4l14 13-10-3-13-13z"/><path fill="#ff4000" d="M3864 2534l13 13-10-2-13-13zm-10-2l13 13-9-3-14-12zm-10-2l14 12-10-2-14-12z"/><path fill="#ff2a00" d="M3834 2528l14 12-10-1-13-13zm-9-2l13 13-10-1-13-13zm-10-1l13 13-9-1-14-12z"/><path fill="#ff1500" d="M3805 2525l14 12-10 0-14-12zm-10 0l14 12-10 1-13-12zm-9 1l13 12-10 2-13-13zm-10 1l13 13-9 1-14-12zm-10 2l14 12-10 1-13-12zm-9 1l13 12-10 1-13-11zm-10 2l13 11-9 2-14-12zm-10 1l14 12-10 2-14-12zm-10 2l14 12-10 2-13-12zm-9 2l13 12-10 2-13-12zm-10 2l13 12-9 2-14-12zm-10 2l14 12-10 2-13-11zm-9 3l13 11-10 3-13-12z"/><path fill="#f00" d="M3679 2546l13 12-10 2-13-11zm-10 3l13 11-9 3-14-12z"/><path fill="#ff1500" d="M3659 2551l14 12-10 3-13-12zm-9 3l13 12-10 4-13-13zm-10 3l13 13-9 3-14-12zm-10 4l14 12-10 4-14-13zm-10 3l14 13-10 4-13-13zm-9 4l13 13-10 4-13-13zm-10 4l13 13-9 3-14-13zm-10 3l14 13-10 4-13-13zm-9 4l13 13-10 4-13-14zm-10 3l13 14-10 4-13-14zm-10 4l13 14-9 4-14-14zm-10 4l14 14-10 4-13-14zm-9 4l13 14-10 5-13-15zm-10 4l13 15-9 4-14-15z"/><path fill="#ff2a00" d="M3523 2602l14 15-10 4-14-16zm-10 3l14 16-10 4-13-16zm-9 4l13 16-10 3-13-15zm-10 4l13 15-9 4-14-15zm-10 4l14 15-10 4-13-16zm-9 3l13 16-10 4-13-16zm-10 4l13 16-10 4-13-16zm-10 4l13 16-9 4-14-16zm-10 4l14 16-10 4-13-16z"/><path fill="#ffd500" d="M3955 2590l13 18-10-7-13-18z"/><path fill="#ffbf00" d="M3945 2583l13 18-9-7-14-18z"/><path fill="#fa0" d="M3935 2576l14 18-10-6-13-18z"/><path fill="#ff9500" d="M3926 2570l13 18-10-5-13-18zm-10-5l13 18-9-5-14-19z"/><path fill="#ff8000" d="M3906 2559l14 19-10-5-14-18z"/><path fill="#ff6a00" d="M3896 2555l14 18-10-4-13-19zm-9-5l13 19-10-4-13-18z"/><path fill="#f50" d="M3877 2547l13 18-9-2-14-18z"/><path fill="#ff4000" d="M3867 2545l14 18-10-2-13-19zm-9-3l13 19-10-2-13-19zm-10-2l13 19-10-2-13-18z"/><path fill="#ff2a00" d="M3838 2539l13 18-9-1-14-18zm-10-1l14 18-10-1-13-18zm-9-1l13 18-10 1-13-19zm-10 0l13 19-9 1-14-19zm-10 1l14 19-10 1-14-18zm-10 2l14 18-10 1-13-18z"/><path fill="#ff1500" d="M3780 2541l13 18-10 1-13-18zm-10 1l13 18-9 1-14-18zm-10 1l14 18-10 2-13-18zm-9 2l13 18-10 1-13-17zm-10 2l13 17-9 2-14-17zm-10 2l14 17-10 2-14-17zm-10 2l14 17-10 2-13-17zm-9 2l13 17-10 3-13-18zm-10 2l13 18-9 2-14-17zm-10 3l14 17-10 3-14-18zm-10 2l14 18-10 3-13-18zm-9 3l13 18-10 3-13-18zm-10 3l13 18-9 4-14-18zm-10 4l14 18-10 4-13-19zm-9 3l13 19-10 3-13-18zm-10 4l13 18-9 4-14-18zm-10 4l14 18-10 4-14-18zm-10 4l14 18-10 4-13-19zm-9 3l13 19-10 4-13-19z"/><path fill="#ff2a00" d="M3595 2592l13 19-9 5-14-20zm-10 4l14 20-10 4-14-20zm-10 4l14 20-10 4-13-20zm-9 4l13 20-10 4-13-20zm-10 4l13 20-9 5-14-20zm-10 5l14 20-10 4-13-20zm-9 4l13 20-10 4-13-20zm-10 4l13 20-9 4-14-20zm-10 4l14 20-10 4-14-21zm-10 3l14 21-10 4-13-21z"/><path fill="#ff4000" d="M3498 2632l13 21-10 4-13-21zm-10 4l13 21-9 4-14-21zm-10 4l14 21-10 4-14-21zm-10 4l14 21-10 4-13-21zm-9 4l13 21-10 4-13-21z"/><path fill="#ffbf00" d="M3939 2588l13 22-9-6-14-21z"/><path fill="#fa0" d="M3929 2583l14 21-10-5-13-21z"/><path fill="#ff9500" d="M3920 2578l13 21-10-5-13-21z"/><path fill="#ff8000" d="M3910 2573l13 21-9-4-14-21zm-10-4l14 21-10-3-14-22z"/><path fill="#ff6a00" d="M3890 2565l14 22-10-3-13-21zm-9-2l13 21-10-2-13-21z"/><path fill="#f50" d="M3871 2561l13 21-9-2-14-21zm-10-2l14 21-10-2-14-21z"/><path fill="#ff4000" d="M3851 2557l14 21-10-1-13-21zm-9-1l13 21-10 0-13-22zm-10-1l13 22-9 0-14-21zm-10 1l14 21-10 1-13-21zm-9 1l13 21-10 0-13-20z"/><path fill="#ff2a00" d="M3803 2558l13 20-9 2-14-21zm-10 1l14 21-10 1-14-21zm-10 1l14 21-10 1-13-21zm-9 1l13 21-10 1-13-20zm-10 2l13 20-9 2-14-21zm-10 1l14 21-10 2-13-21zm-9 2l13 21-10 2-13-21zm-10 2l13 21-10 2-13-21zm-10 2l13 21-9 2-14-20zm-10 3l14 20-10 3-13-21zm-9 2l13 21-10 3-13-21zm-10 3l13 21-9 3-14-21zm-10 3l14 21-10 3-14-21zm-10 3l14 21-10 4-13-21zm-9 4l13 21-10 4-13-21zm-10 4l13 21-9 4-14-22zm-10 3l14 22-10 5-13-23zm-9 4l13 23-10 4-13-23zm-10 4l13 23-10 4-13-23zm-10 4l13 23-9 4-14-23z"/><path fill="#ff4000" d="M3608 2611l14 23-10 5-13-23zm-9 5l13 23-10 4-13-23zm-10 4l13 23-9 5-14-24zm-10 4l14 24-10 4-14-24zm-10 4l14 24-10 5-13-24zm-9 5l13 24-10 5-13-25zm-10 4l13 25-9 4-14-25zm-10 4l14 25-10 4-13-25zm-9 4l13 25-10 4-13-25z"/><path fill="#f50" d="M3521 2649l13 25-10 5-13-26zm-10 4l13 26-9 4-14-26zm-10 4l14 26-10 4-13-26zm-9 4l13 26-10 4-13-26zm-10 4l13 26-9 4-14-26zm-10 4l14 26-10 4-14-26z"/><path fill="#ff8000" d="M3894 2584l13 12-9-3-14-11zm-10-2l14 11-10-2-13-11z"/><path fill="#ff6a00" d="M3875 2580l13 11-10-2-13-11zm-10-2l13 11-9-1-14-11z"/><path fill="#f50" d="M3855 2577l14 11-10-1-14-10zm-10 0l14 10-10 0-13-10zm-9 0l13 10-10 1-13-10zm-10 1l13 10-9 1-14-11zm-10 0l14 11-10 1-13-10z"/><path fill="#ff4000" d="M3807 2580l13 10-10 1-13-10zm-10 1l13 10-9 1-14-10zm-10 1l14 10-10 1-14-10zm-10 1l14 10-10 2-13-10zm-9 2l13 10-10 2-13-10zm-10 2l13 10-9 2-14-10zm-10 2l14 10-10 2-14-10zm-10 2l14 10-10 3-13-11zm-9 2l13 11-10 3-13-11zm-10 3l13 11-9 3-14-11zm-10 3l14 11-10 3-13-11zm-9 3l13 11-10 4-13-12zm-10 3l13 12-9 5-14-13zm-10 4l14 13-10 4-14-13zm-10 4l14 13-10 5-13-14zm-9 4l13 14-10 5-13-14zm-10 5l13 14-9 5-14-15z"/><path fill="#f50" d="M3641 2626l14 15-10 5-14-16zm-10 4l14 16-10 5-13-17zm-9 4l13 17-10 5-13-17zm-10 5l13 17-9 5-14-18zm-10 4l14 18-10 6-13-19zm-9 5l13 19-10 5-13-20z"/><path fill="#ff6a00" d="M3583 2652l13 20-9 5-14-20zm-10 5l14 20-10 5-14-20zm-10 5l14 20-10 5-13-21zm-9 4l13 21-10 5-13-22zm-10 4l13 22-9 5-14-23zm-10 4l14 23-10 5-14-23z"/><path fill="#ff8000" d="M3524 2679l14 23-10 4-13-23zm-9 4l13 23-10 5-13-24zm-10 4l13 24-9 4-14-24zm-10 4l14 24-10 4-13-24zm-9 4l13 24-10 5-13-25z"/><path fill="#f50" d="M3849 2587l14 10-10 1-14-10zm-10 1l14 10-10 0-13-9zm-9 1l13 9-10 1-13-9zm-10 1l13 9-9 1-14-9zm-10 1l14 9-10 1-13-9z"/><path fill="#ff4000" d="M3801 2592l13 9-10 1-13-9zm-10 1l13 9-10 2-13-9zm-10 2l13 9-9 1-14-8zm-10 2l14 8-10 2-13-8zm-9 2l13 8-10 3-13-9zm-10 2l13 9-9 2-14-8zm-10 3l14 8-10 3-14-8zm-10 3l14 8-10 3-13-8zm-9 3l13 8-10 4-13-9zm-10 3l13 9-9 4-14-9zm-10 4l14 9-10 5-13-9z"/><path fill="#f50" d="M3694 2622l13 9-10 4-13-9zm-10 4l13 9-10 5-13-9zm-10 5l13 9-9 5-14-9zm-10 5l14 9-10 5-13-9zm-9 5l13 9-10 5-13-9z"/><path fill="#ff6a00" d="M3645 2646l13 9-9 5-14-9zm-10 5l14 9-10 6-14-10zm-10 5l14 10-10 5-13-10zm-9 5l13 10-10 5-13-9z"/><path fill="#ff8000" d="M3606 2667l13 9-9 6-14-10zm-10 5l14 10-10 5-13-10z"/><path fill="#fa0" d="M3518 2711l14 10-10 4-13-10zm-9 4l13 10-10 5-13-11zm-10 4l13 11-9 4-14-10zm43-3l13-18-10 4-13 19zm-10 5l13-19-9 4-14 19zm-10 4l14-19-10 4-14 20zm-10 5l14-20-10 5-13 19z"/><path fill="#ff8000" d="M3536 2706l13-12-10 5-13 11zm-10 4l13-11-10 4-13 12z"/><path fill="#ff1500" d="M3792 2596l14 22-10 1-14-21zm-10 2l14 21-10 2-13-21zm-9 2l13 21-10 3-13-22zm-10 2l13 22-9 2-14-21zm-10 3l14 21-10 3-14-21zm-10 3l14 21-10 4-13-21zm-9 4l13 21-10 3-13-20z"/><path fill="#ff2a00" d="M3724 2616l13 20-9 4-14-20zm-10 4l14 20-10 4-13-20zm-9 4l13 20-10 4-13-20zm-10 4l13 20-9 4-14-20zm-10 4l14 20-10 3-14-18zm-10 5l14 18-10 4-13-18zm-9 4l13 18-10 5-13-19zm-10 4l13 19-9 4-14-18z"/><path fill="#ff4000" d="M3646 2650l14 18-10 4-14-17zm-10 5l14 17-10 5-13-18zm-38 18l13 16-10 4-13-16z"/><path fill="#f50" d="M3578 2681l14 17-10 4-14-16zm-19 9l13 16-10 4-13-16zm-10 4l13 16-9 4-14-15zm-10 5l14 15-10 4-14-15z"/><path fill="#ff6a00" d="M3572 2706l13-28-9 4-14 28zm-10 4l14-28-10 5-13 27zm-9 4l13-27-10 4-13 27z"/><path fill="#ffd500" d="M4052 2647l14 11-10-8-13-11z"/><path fill="#ffbf00" d="M4043 2639l13 11-10-7-13-11zm-10-7l13 11-9-6-14-12z"/><path fill="#fa0" d="M4023 2625l14 12-10-6-14-13z"/><path fill="#ff9500" d="M4013 2618l14 13-10-6-13-13z"/><path fill="#ff8000" d="M4004 2612l13 13-10-5-13-13z"/><path fill="#ff6a00" d="M3994 2607l13 13-9-4-14-13zm-10-4l14 13-10-4-13-13z"/><path fill="#f50" d="M3975 2599l13 13-10-3-13-13z"/><path fill="#ff4000" d="M3965 2596l13 13-10-3-13-13zm-10-3l13 13-9-2-14-14zm-10-3l14 14-10-2-13-14z"/><path fill="#ff2a00" d="M3936 2588l13 14-10-2-13-14zm-10-2l13 14-9 0-14-14zm-10 0l14 14-10 0-14-14zm-10 0l14 14-10 0-13-14z"/><path fill="#ff1500" d="M3897 2586l13 14-10 0-13-14zm-10 0l13 14-9 0-14-14zm-10 0l14 14-10 1-13-14zm-9 1l13 14-10 0-13-14zm-10 0l13 14-9 1-14-14zm-10 1l14 14-10 1-14-14z"/><path fill="#f00" d="M3838 2589l14 14-10 1-13-14zm-9 1l13 14-10 2-13-14zm-10 2l13 14-9 1-14-14zm-10 1l14 14-10 2-14-14zm-10 2l14 14-10 2-13-14zm-9 2l13 14-10 3-13-15zm-10 2l13 15-9 3-14-15zm-10 3l14 15-10 3-13-15zm-9 3l13 15-10 4-13-15zm-10 4l13 15-9 3-14-14zm-10 4l14 14-10 4-14-15zm-10 3l14 15-10 4-13-15zm-9 4l13 15-10 4-13-15z"/><path fill="#ff1500" d="M3712 2624l13 15-9 4-14-15zm-10 4l14 15-10 4-14-15zm-10 4l14 15-10 4-13-15zm-9 4l13 15-10 5-13-16zm-10 4l13 16-9 4-14-16zm-10 4l14 16-10 5-13-16zm-9 5l13 16-10 4-13-16zm-10 4l13 16-9 4-14-16zm-10 4l14 16-10 5-14-17z"/><path fill="#ff2a00" d="M3624 2661l14 17-10 4-13-17zm-9 4l13 17-10 4-13-16zm-10 5l13 16-9 4-14-16zm-10 4l14 16-10 5-14-17zm-10 4l14 17-10 4-13-17zm-9 4l13 17-10 4-13-16zm-10 5l13 16-9 5-14-17z"/><path fill="#ff0" d="M4075 2666l14 31-10-7-13-32z"/><path fill="#ffea00" d="M4066 2658l13 32-10-6-13-34z"/><path fill="#ffd500" d="M4056 2650l13 34-9-6-14-35z"/><path fill="#ffbf00" d="M4046 2643l14 35-10-6-13-35z"/><path fill="#fa0" d="M4037 2637l13 35-10-5-13-36zm-10-6l13 36-9-5-14-37z"/><path fill="#ff9500" d="M4017 2625l14 37-10-4-14-38z"/><path fill="#ff8000" d="M4007 2620l14 38-10-4-13-38z"/><path fill="#ff6a00" d="M3998 2616l13 38-10-2-13-40zm-10-4l13 40-9-3-14-40z"/><path fill="#f50" d="M3978 2609l14 40-10-2-14-41zm-10-3l14 41-10-2-13-41z"/><path fill="#ff4000" d="M3959 2604l13 41-10-2-13-41zm-10-2l13 41-9-1-14-42zm-10-2l14 42-10-1-13-41z"/><path fill="#ff2a00" d="M3930 2600l13 41-10 1-13-42zm-10 0l13 42-9 0-14-42zm-10 0l14 42-10 0-14-42zm-10 0l14 42-10 1-13-43zm-9 0l13 43-10 0-13-42z"/><path fill="#ff1500" d="M3881 2601l13 42-9 1-14-43zm-10 0l14 43-10 1-13-43zm-9 1l13 43-10 1-13-43zm-10 1l13 43-10 1-13-43zm-10 1l13 43-9 2-14-43zm-10 2l14 43-10 2-13-44zm-9 1l13 44-10 2-13-44zm-10 2l13 44-9 2-14-44zm-10 2l14 44-10 3-14-44zm-10 3l14 44-10 3-13-44zm-9 3l13 44-10 4-13-45zm-10 3l13 45-9 4-14-45zm-10 4l14 45-10 4-13-46zm-9 3l13 46-10 4-13-46zm-10 4l13 46-10 4-13-46zm-10 4l13 46-9 4-14-46zm-10 4l14 46-10 5-13-47zm-9 4l13 47-10 4-13-47zm-10 4l13 47-9 4-14-47z"/><path fill="#ff2a00" d="M3696 2651l14 47-10 5-14-47zm-10 5l14 47-10 5-13-48zm-9 4l13 48-10 4-13-47zm-10 5l13 47-9 5-14-48zm-10 4l14 48-10 4-13-48zm-9 4l13 48-10 5-13-48zm-10 5l13 48-10 4-13-48zm-10 4l13 48-9 5-14-49z"/><path fill="#ff4000" d="M3618 2686l14 49-10 4-13-49zm-9 4l13 49-10 4-13-48zm-10 5l13 48-9 4-14-48zm-10 4l14 48-10 5-14-49zm-10 4l14 49-10 4-13-48z"/><path fill="#ff9500" d="M3982 2647l13 8-9-2-14-8zm-10-2l14 8-10-2-14-8z"/><path fill="#ff8000" d="M3962 2643l14 8-10-1-13-8zm-9-1l13 8-10-1-13-8z"/><path fill="#ff6a00" d="M3943 2641l13 8-9 0-14-7zm-10 1l14 7-10 0-13-7zm-9 0l13 7-10 0-13-7zm-10 0l13 7-9 0-14-6zm-10 1l14 6-10 0-14-6z"/><path fill="#f50" d="M3894 2643l14 6-10 1-13-6zm-9 1l13 6-10 1-13-6zm-10 1l13 6-9 1-14-6zm-10 1l14 6-10 1-14-6zm-10 1l14 6-10 2-13-6zm-9 2l13 6-10 1-13-5zm-10 2l13 5-9 2-14-5zm-10 2l14 5-10 3-13-6z"/><path fill="#ff4000" d="M3817 2655l13 6-10 2-13-5z"/><path fill="#f50" d="M3807 2658l13 5-9 4-14-6zm-10 3l14 6-10 4-14-6z"/><path fill="#ff8000" d="M3651 2726l14 9-10 5-14-10zm-10 4l14 10-10 4-13-9zm-9 5l13 9-10 5-13-10z"/><path fill="#ff9500" d="M3622 2739l13 10-9 4-14-10zm-10 4l14 10-10 5-13-11zm-9 4l13 11-10 4-13-10zm-10 5l13 10-9 4-14-10zm23 6l13-8-9 4-14 8zm-10 4l14-8-10 4-13 8z"/><path fill="#ff8000" d="M3639 2745l14 1-10 5-14-1zm-10 5l14 1-10 4-13-1zm-9 4l13 1-10 5-13-2z"/><path fill="#000080" d="M4324 3059l13-138-10-19-13 92z"/><path fill="#0000bf" d="M4314 2994l13-92-9-15-14 62z"/><path fill="#0015ff" d="M4304 2949l14-62-10-12-14 41z"/><path fill="#ff6a00" d="M3643 2751l13 17-9 5-14-18z"/><path fill="#ff8000" d="M3633 2755l14 18-10 4-14-17zm72-9l13-64-9 3-14 65zm-10 4l14-65-10 3-14 67zm-10 5l14-67-10 3-13 68zm-9 4l13-68-10 4-13 69zm-10 5l13-69-9 4-14 69z"/><path fill="#ff9500" d="M3656 2768l14-69-10 4-13 70zm-9 5l13-70-10 4-13 70z"/><path fill="#ffd500" d="M4127 2691l13 20-10-5-13-21z"/><path fill="#ffbf00" d="M4117 2685l13 21-9-5-14-22zm-10-6l14 22-10-5-13-22z"/><path fill="#fa0" d="M4098 2674l13 22-10-4-13-23z"/><path fill="#ff9500" d="M4088 2669l13 23-9-4-14-23zm-10-4l14 23-10-3-14-23z"/><path fill="#ff8000" d="M4068 2662l14 23-10-2-13-24z"/><path fill="#ff6a00" d="M4059 2659l13 24-10-3-13-24zm-10-3l13 24-9-2-14-25z"/><path fill="#f50" d="M4039 2653l14 25-10-2-13-25zm-9-2l13 25-10-1-13-25zm-10-1l13 25-10-1-13-25z"/><path fill="#ff4000" d="M4010 2649l13 25-9-1-14-25zm-10-1l14 25-10 0-13-25zm-9 0l13 25-10 0-13-25zm-10 0l13 25-9 0-14-26z"/><path fill="#ff2a00" d="M3971 2647l14 26-10 0-14-26zm-10 0l14 26-10 0-13-25zm-9 1l13 25-10 1-13-26zm-10 0l13 26-9 0-14-26zm-10 0l14 26-10 0-13-26zm-9 0l13 26-10 0-13-26z"/><path fill="#ff1500" d="M3913 2648l13 26-10 0-13-26zm-10 0l13 26-9 0-14-26zm-10 0l14 26-10 1-13-26zm-9 1l13 26-10 1-13-26zm-10 1l13 26-9 1-14-26zm-10 1l14 26-10 1-14-25z"/><path fill="#f00" d="M3854 2653l14 25-10 2-13-26zm-9 1l13 26-10 2-13-26zm-10 2l13 26-9 1-14-25zm-10 2l14 25-10 2-13-25zm-9 2l13 25-10 2-13-26zm-10 1l13 26-10 1-13-25zm-10 2l13 25-9 2-14-25zm-10 2l14 25-10 2-13-25zm-9 2l13 25-10 2-13-25zm-10 2l13 25-9 3-14-25zm-10 3l14 25-10 2-14-25zm-10 2l14 25-10 3-13-25zm-9 3l13 25-10 2-13-25zm-10 2l13 25-9 3-14-25zm-10 3l14 25-10 3-13-25zm-9 3l13 25-10 3-13-25zm-10 3l13 25-9 3-14-25zm-10 3l14 25-10 3-14-24zm-10 4l14 24-10 4-13-24zm-9 4l13 24-10 4-13-24zm-10 4l13 24-9 4-14-24z"/><path fill="#ff2a00" d="M3809 2688l14 11-10 1-13-10z"/><path fill="#ff1500" d="M3800 2690l13 10-10 2-13-10zm-10 2l13 10-9 2-14-10zm-10 2l14 10-10 2-13-9zm-9 3l13 9-10 2-13-9zm-10 2l13 9-9 3-14-9zm-10 3l14 9-10 2-14-9zm-10 2l14 9-10 3-13-9zm-9 3l13 9-10 2-13-8zm-10 3l13 8-9 3-14-8zm-10 3l14 8-10 3-13-8zm-9 3l13 8-10 3-13-8zm-10 3l13 8-10 4-13-8z"/><path fill="#ff2a00" d="M3683 2723l13 8-9 4-14-8zm-10 4l14 8-10 4-13-8zm14 8l13-11-10 4-13 11z"/><path fill="#bfff40" d="M4225 2754l14 12-10-7-13-13z"/><path fill="#d5ff2a" d="M4216 2746l13 13-10-8-13-13z"/><path fill="#eaff15" d="M4206 2738l13 13-9-7-14-13z"/><path fill="#ff0" d="M4196 2731l14 13-10-7-14-13zm-10-7l14 13-10-6-13-14z"/><path fill="#ffea00" d="M4177 2717l13 14-10-5-13-15z"/><path fill="#ffd500" d="M4167 2711l13 15-9-6-14-15z"/><path fill="#ffbf00" d="M4157 2705l14 15-10-5-13-15zm-9-5l13 15-10-5-13-15z"/><path fill="#fa0" d="M4138 2695l13 15-9-4-14-15zm-10-4l14 15-10-3-14-16z"/><path fill="#ff9500" d="M4118 2687l14 16-10-3-13-16z"/><path fill="#ff8000" d="M4109 2684l13 16-10-3-13-16zm-10-3l13 16-9-3-14-16z"/><path fill="#ff6a00" d="M4089 2678l14 16-10-2-14-16zm-10-2l14 16-10-2-13-16z"/><path fill="#f50" d="M4070 2674l13 16-10-1-13-17zm-10-2l13 17-9-1-14-17zm-10-1l14 17-10-1-13-17z"/><path fill="#ff4000" d="M4041 2670l13 17-10-1-13-16zm-10 0l13 16-9 0-14-17zm-10-1l14 17-10 0-14-17zm-10 0l14 17-10 0-13-17z"/><path fill="#ff2a00" d="M4002 2669l13 17-10 0-13-17zm-10 0l13 17-9 0-14-17zm-10 0l14 17-10 0-14-16zm-10 1l14 16-10 0-13-17zm-9-1l13 17-10 0-13-17zm-10 0l13 17-9 0-14-17z"/><path fill="#ff1500" d="M3943 2669l14 17-10 0-13-17zm-9 0l13 17-10 0-13-17zm-10 0l13 17-9 1-14-17zm-10 1l14 17-10 1-14-16zm-10 2l14 16-10 2-13-17zm-9 1l13 17-10 2-13-17zm-10 2l13 17-9 2-14-17zm-10 2l14 17-10 1-14-17z"/><path fill="#f00" d="M3865 2678l14 17-10 2-13-17zm-9 2l13 17-10 2-13-17zm-10 2l13 17-9 2-14-17zm-10 2l14 17-10 2-13-17zm-9 2l13 17-10 2-13-17zm-10 2l13 17-9 2-14-17zm-10 2l14 17-10 3-14-17zm-10 3l14 17-10 2-13-17zm-9 2l13 17-10 3-13-17zm-10 3l13 17-9 3-14-17zm-10 3l14 17-10 2-14-17zm-10 2l14 17-10 3-13-17zm-9 3l13 17-10 3-13-17zm-10 3l13 17-9 4-14-17zm-10 4l14 17-10 3-13-17zm-9 3l13 17-10 4-13-17zm-10 4l13 17-9 4-14-17z"/><path fill="#ff1500" d="M3700 2724l14 17-10 4-14-17z"/><path fill="#bfff40" d="M4229 2759l13 16-9-6-14-18z"/><path fill="#d5ff2a" d="M4219 2751l14 18-10-7-13-18z"/><path fill="#eaff15" d="M4210 2744l13 18-10-6-13-19z"/><path fill="#ff0" d="M4200 2737l13 19-9-6-14-19zm-10-6l14 19-10-5-14-19z"/><path fill="#ffea00" d="M4180 2726l14 19-10-5-13-20z"/><path fill="#ffd500" d="M4171 2720l13 20-10-4-13-21zm-10-5l13 21-9-5-14-21z"/><path fill="#ffbf00" d="M4151 2710l14 21-10-3-13-22z"/><path fill="#fa0" d="M4142 2706l13 22-10-4-13-21zm-10-3l13 21-10-2-13-22z"/><path fill="#ff9500" d="M4122 2700l13 22-9-3-14-22zm-10-3l14 22-10-2-13-23z"/><path fill="#ff8000" d="M4103 2694l13 23-10-2-13-23zm-10-2l13 23-9-2-14-23z"/><path fill="#ff6a00" d="M4083 2690l14 23-10-1-14-23zm-10-1l14 23-10-1-13-23zm-9-1l13 23-10-1-13-23z"/><path fill="#f50" d="M4054 2687l13 23-9 0-14-24zm-10-1l14 24-10 0-13-24zm-9 0l13 24-10 0-13-24zm-10 0l13 24-10-1-13-23z"/><path fill="#ff4000" d="M4015 2686l13 23-9 1-14-24zm-10 0l14 24-10 0-13-24zm-9 0l13 24-10 0-13-24zm-10 0l13 24-9 0-14-24zm-10 0l14 24-10 0-14-24z"/><path fill="#ff2a00" d="M3966 2686l14 24-10 0-13-24zm-9 0l13 24-10 0-13-24zm-10 0l13 24-9 0-14-24zm-10 0l14 24-10 1-13-24zm-9 1l13 24-10 1-13-24zm-10 1l13 24-10 1-13-23z"/><path fill="#ff1500" d="M3908 2690l13 23-9 2-14-23zm-10 2l14 23-10 1-13-22zm-9 2l13 22-10 2-13-23zm-10 1l13 23-9 2-14-23zm-10 2l14 23-10 1-14-22zm-10 2l14 22-10 2-13-22zm-9 2l13 22-10 1-13-21zm-10 2l13 21-9 2-14-21zm-10 2l14 21-10 2-13-21zm-9 2l13 21-10 3-13-21zm-10 3l13 21-10 2-13-21zm-10 2l13 21-9 3-14-21zm-10 3l14 21-10 2-13-20zm-9 3l13 20-10 3-13-21zm-10 2l13 21-9 2-14-20zm-10 3l14 20-10 3-14-20zm-10 3l14 20-10 4-13-20zm-9 4l13 20-10 3-13-20zm-10 3l13 20-9 3-14-19zm-10 4l14 19-10 4-13-19zm-9 4l13 19-10 4-13-19z"/><path fill="#ffd500" d="M4165 2731l13 18-10-3-13-18zm-10-3l13 18-9-3-14-19z"/><path fill="#ffbf00" d="M4145 2724l14 19-10-3-14-18zm-10-2l14 18-10-2-13-19z"/><path fill="#fa0" d="M4126 2719l13 19-10-2-13-19zm-10-2l13 19-9-2-14-19zm-10-2l14 19-10-2-13-19z"/><path fill="#ff9500" d="M4097 2713l13 19-10-1-13-19zm-10-1l13 19-9-1-14-19z"/><path fill="#ff8000" d="M4077 2711l14 19-10 0-14-20zm-10-1l14 20-10 0-13-20zm-9 0l13 20-10-1-13-19z"/><path fill="#ff6a00" d="M4048 2710l13 19-9 0-14-19zm-10 0l14 19-10 0-14-20zm-10-1l14 20-10 1-13-20zm-9 1l13 20-10 0-13-20z"/><path fill="#f50" d="M4009 2710l13 20-9 0-14-20zm-10 0l14 20-10 0-13-20zm-9 0l13 20-10 0-13-20zm-10 0l13 20-9 0-14-20z"/><path fill="#ff4000" d="M3970 2710l14 20-10 0-14-20zm-10 0l14 20-10 1-13-21zm-9 0l13 21-10 1-13-21zm-10 1l13 21-9 1-14-21zm-10 1l14 21-10 2-14-22zm-10 1l14 22-10 2-13-22zm-9 2l13 22-10 2-13-23zm-10 1l13 23-9 2-14-23z"/><path fill="#ff2a00" d="M3892 2718l14 23-10 1-13-22zm-9 2l13 22-10 2-13-23zm-10 1l13 23-9 2-14-23zm-10 2l14 23-10 2-14-24zm-10 1l14 24-10 2-13-24zm-9 2l13 24-10 3-13-25zm-10 2l13 25-9 2-14-24zm-10 3l14 24-10 3-14-25zm-10 2l14 25-10 3-13-25zm-9 3l13 25-10 2-13-25zm-10 2l13 25-9 3-14-25zm-10 3l14 25-10 3-13-26zm-9 2l13 26-10 3-13-26zm-10 3l13 26-9 3-14-25zm-10 4l14 25-10 4-14-26zm-10 3l14 26-10 3-13-26zm-9 3l13 26-10 4-13-26zm-10 4l13 26-9 4-14-26z"/><path fill="#f50" d="M3750 2782l14-19-10 3-14 20zm-10 4l14-20-10 5-13 19z"/><path fill="#0af" d="M4444 2908l14 8-10-5-13-8zm-9-5l13 8-10-5-13-9z"/><path fill="#00d4ff" d="M4415 2891l14 10-10-6-14-10zm-10-6l14 10-10-7-13-10z"/><path fill="#00eaff" d="M4396 2878l13 10-10-6-13-10z"/><path fill="#0ff" d="M4386 2872l13 10-9-7-14-10z"/><path fill="#15ffea" d="M4376 2865l14 10-10-6-13-11zm-9-7l13 11-10-7-13-11z"/><path fill="#2bffd4" d="M4357 2851l13 11-10-7-13-11z"/><path fill="#40ffbf" d="M4347 2844l13 11-9-6-14-12z"/><path fill="#5fa" d="M4337 2837l14 12-10-8-13-11zm-9-7l13 11-10-7-13-12z"/><path fill="#6aff95" d="M4318 2822l13 12-9-7-14-13z"/><path fill="#80ff80" d="M4308 2814l14 13-10-8-14-13z"/><path fill="#95ff6a" d="M4298 2806l14 13-10-7-13-13zm-9-7l13 13-10-7-13-13z"/><path fill="#af5" d="M4279 2792l13 13-9-7-14-13z"/><path fill="#bfff40" d="M4269 2785l14 13-10-6-13-14z"/><path fill="#d5ff2a" d="M4260 2778l13 14-10-7-13-13zm-10-6l13 13-10-6-13-14z"/><path fill="#eaff15" d="M4240 2765l13 14-9-5-14-14z"/><path fill="#ff0" d="M4230 2760l14 14-10-5-13-15zm-9-6l13 15-10-5-13-14z"/><path fill="#ffea00" d="M4211 2750l13 14-9-5-14-14zm-10-5l14 14-10-4-14-14z"/><path fill="#ffd500" d="M4191 2741l14 14-10-4-13-14z"/><path fill="#ffbf00" d="M4182 2737l13 14-10-3-13-15zm-10-4l13 15-9-3-14-14z"/><path fill="#fa0" d="M4162 2731l14 14-10-2-13-15zm-9-3l13 15-10-2-13-15zm-10-2l13 15-9-3-14-15z"/><path fill="#ff9500" d="M4133 2723l14 15-10-1-14-16zm-10-2l14 16-10-2-13-15z"/><path fill="#ff8000" d="M4114 2720l13 15-10-1-13-15zm-10-1l13 15-9-1-14-15zm-10-1l14 15-10 0-14-15z"/><path fill="#ff6a00" d="M4084 2718l14 15-10-1-13-15zm-9-1l13 15-10 0-13-15zm-10 0l13 15-9 0-14-15z"/><path fill="#f50" d="M4055 2717l14 15-10 0-13-15zm-9 0l13 15-10 0-13-15zm-10 0l13 15-9 0-14-15zm-10 0l14 15-10-1-14-14z"/><path fill="#ff4000" d="M4016 2717l14 14-10 0-13-15zm-9-1l13 15-10 0-13-15zm-10 0l13 15-9-1-14-15zm-10-1l14 15-10 0-14-14zm-10 1l14 14-10 1-13-15z"/><path fill="#ff2a00" d="M3968 2716l13 15-10 1-13-15zm-10 1l13 15-9 2-14-15zm-10 2l14 15-10 1-13-15zm-9 1l13 15-10 2-13-15zm-10 2l13 15-9 2-14-15zm-10 2l14 15-10 1-14-15zm-10 1l14 15-10 2-13-15zm-9 2l13 15-10 1-13-15zm-10 1l13 15-9 2-14-15zm-10 2l14 15-10 2-14-15zm-10 2l14 15-10 2-13-15zm-9 2l13 15-10 3-13-16zm-10 2l13 16-9 2-14-15zm-10 3l14 15-10 3-13-16zm-9 2l13 16-10 2-13-15zm-10 3l13 15-9 3-14-16zm-10 2l14 16-10 3-14-16zm-10 3l14 16-10 3-13-16zm-9 3l13 16-10 3-13-16zm-10 3l13 16-9 3-14-15zm-10 4l14 15-10 4-13-15zm-9 4l13 15-10 4-13-16zm-10 3l13 16-10 4-13-15z"/><path fill="#0af" d="M4458 2916l13 16-10-6-13-15zm-10-5l13 15-9-6-14-14z"/><path fill="#00bfff" d="M4438 2906l14 14-10-6-13-13zm-9-5l13 13-10-7-13-12z"/><path fill="#00d4ff" d="M4419 2895l13 12-9-6-14-13z"/><path fill="#00eaff" d="M4409 2888l14 13-10-7-14-12z"/><path fill="#0ff" d="M4399 2882l14 12-10-6-13-13zm-9-7l13 13-10-7-13-12z"/><path fill="#15ffea" d="M4380 2869l13 12-9-6-14-13z"/><path fill="#2bffd4" d="M4370 2862l14 13-10-7-14-13zm-10-7l14 13-10-6-13-13z"/><path fill="#40ffbf" d="M4351 2849l13 13-10-7-13-14z"/><path fill="#5fa" d="M4341 2841l13 14-9-7-14-14z"/><path fill="#6aff95" d="M4331 2834l14 14-10-8-13-13zm-9-7l13 13-10-7-13-14z"/><path fill="#80ff80" d="M4312 2819l13 14-9-7-14-14z"/><path fill="#95ff6a" d="M4302 2812l14 14-10-7-14-14z"/><path fill="#af5" d="M4292 2805l14 14-10-6-13-15zm-9-7l13 15-10-7-13-14z"/><path fill="#bfff40" d="M4273 2792l13 14-9-6-14-15z"/><path fill="#d5ff2a" d="M4263 2785l14 15-10-6-14-15zm-10-6l14 15-10-5-13-15z"/><path fill="#eaff15" d="M4244 2774l13 15-10-5-13-15z"/><path fill="#ff0" d="M4234 2769l13 15-9-5-14-15zm-10-5l14 15-10-5-13-15z"/><path fill="#ffea00" d="M4215 2759l13 15-10-4-13-15zm-10-4l13 15-9-3-14-16z"/><path fill="#ffd500" d="M4195 2751l14 16-10-3-14-16zm-10-3l14 16-10-3-13-16z"/><path fill="#ffbf00" d="M4176 2745l13 16-10-3-13-15zm-10-2l13 15-9-2-14-15z"/><path fill="#fa0" d="M4156 2741l14 15-10-2-13-16zm-9-3l13 16-10-2-13-15zm-10-1l13 15-10-1-13-16z"/><path fill="#ff9500" d="M4127 2735l13 16-9-2-14-15zm-10-1l14 15-10 0-13-16zm-9-1l13 16-10-1-13-15z"/><path fill="#ff8000" d="M4098 2733l13 15-9-1-14-15zm-10-1l14 15-10 0-14-15zm-10 0l14 15-10 0-13-15z"/><path fill="#ff6a00" d="M4069 2732l13 15-10 0-13-15zm-10 0l13 15-9 0-14-15zm-10 0l14 15-10 0-13-15zm-9 0l13 15-10-1-13-15z"/><path fill="#f50" d="M4030 2731l13 15-10 0-13-15zm-10 0l13 15-9-1-14-14zm-10 0l14 14-10 0-13-15z"/><path fill="#ff4000" d="M4001 2730l13 15-10 0-13-15zm-10 0l13 15-9 0-14-14zm-10 1l14 14-10 1-14-14zm-10 1l14 14-10 1-13-13zm-9 2l13 13-10 2-13-14zm-10 1l13 14-9 1-14-13zm-10 2l14 13-10 1-13-12zm-9 2l13 12-10 2-13-13zm-10 1l13 13-10 1-13-12zm-10 2l13 12-9 1-14-12z"/><path fill="#ff2a00" d="M3903 2743l14 12-10 2-13-12zm-9 2l13 12-10 2-13-12zm-10 2l13 12-9 2-14-12zm-10 2l14 12-10 2-14-11zm-10 3l14 11-10 2-13-11zm-9 2l13 11-10 2-13-10zm-10 3l13 10-9 3-14-11zm-10 2l14 11-10 2-13-10zm-9 3l13 10-10 3-13-10zm-10 3l13 10-9 3-14-10zm-10 3l14 10-10 3-14-10zm-10 3l14 10-10 3-13-10zm-9 3l13 10-10 4-13-10zm-10 4l13 10-9 3-14-9z"/><path fill="#ff4000" d="M3767 2782l14 9-10 4-14-9z"/><path fill="#15ffea" d="M4384 2875l13 12-10-5-13-14z"/><path fill="#5fa" d="M4345 2848l13 15-10-6-13-17z"/><path fill="#6aff95" d="M4335 2840l13 17-9-7-14-17z"/><path fill="#80ff80" d="M4325 2833l14 17-10-6-13-18zm-9-7l13 18-10-6-13-19z"/><path fill="#95ff6a" d="M4306 2819l13 19-10-6-13-19z"/><path fill="#af5" d="M4296 2813l13 19-9-6-14-20zm-10-7l14 20-10-5-13-21z"/><path fill="#bfff40" d="M4277 2800l13 21-10-5-13-22z"/><path fill="#d5ff2a" d="M4267 2794l13 22-9-5-14-22zm-10-5l14 22-10-5-14-22z"/><path fill="#eaff15" d="M4247 2784l14 22-10-4-13-23zm-9-5l13 23-10-4-13-24z"/><path fill="#ff0" d="M4228 2774l13 24-9-3-14-25z"/><path fill="#ffea00" d="M4218 2770l14 25-10-3-13-25zm-9-3l13 25-10-3-13-25z"/><path fill="#ffd500" d="M4199 2764l13 25-9-2-14-26zm-10-3l14 26-10-3-14-26zm-10-3l14 26-10-2-13-26z"/><path fill="#ffbf00" d="M4170 2756l13 26-10-1-13-27zm-10-2l13 27-9-2-14-27z"/><path fill="#fa0" d="M4150 2752l14 27-10-1-14-27zm-10-1l14 27-10-1-13-28zm-9-2l13 28-10 0-13-28z"/><path fill="#ff9500" d="M4121 2749l13 28-9-1-14-28zm-10-1l14 28-10 0-13-29zm-9-1l13 29-10-1-13-28zm-10 0l13 28-9 0-14-28z"/><path fill="#ff8000" d="M4082 2747l14 28-10 0-14-28zm-10 0l14 28-10 1-13-29zm-9 0l13 29-10 0-13-29z"/><path fill="#ff6a00" d="M4053 2747l13 29-9-1-14-29zm-10-1l14 29-10-1-14-28zm-10 0l14 28-10 0-13-29zm-9-1l13 29-10-1-13-28z"/><path fill="#f50" d="M4014 2745l13 28-9 0-14-28zm-10 0l14 28-10 0-13-28zm-9 0l13 28-10 0-13-27zm-10 1l13 27-9 1-14-27zm-10 1l14 27-10 1-14-26z"/><path fill="#ff4000" d="M3965 2749l14 26-10 1-13-26zm-9 1l13 26-10 1-13-26zm-10 1l13 26-9 0-14-24zm-10 2l14 24-10 1-14-24zm-10 1l14 24-10 1-13-24zm-9 1l13 24-10 1-13-23zm-10 2l13 23-9 1-14-22zm-10 2l14 22-10 1-13-21zm-9 2l13 21-10 2-13-21zm-10 2l13 21-9 1-14-20zm-10 2l14 20-10 2-14-20zm-10 2l14 20-10 2-13-19zm-9 3l13 19-10 2-13-19zm-10 2l13 19-9 2-14-18zm-10 3l14 18-10 3-13-18zm-9 3l13 18-10 2-13-17zm-10 3l13 17-10 3-13-17zm-10 3l13 17-9 4-14-17zm-10 4l14 17-10 3-13-17zm-9 3l13 17-10 4-13-17z"/><path fill="#eaff15" d="M4232 2795l13 9-10-3-13-9z"/><path fill="#ff0" d="M4212 2789l14 9-10-2-13-9zm-9-2l13 9-10-3-13-9z"/><path fill="#ffea00" d="M4193 2784l13 9-10-2-13-9zm-10-2l13 9-9-1-14-9z"/><path fill="#ffd500" d="M4173 2781l14 9-10-2-13-9zm-9-2l13 9-10-1-13-9zm-10-1l13 9-9-1-14-9zm-10-1l14 9-10 0-14-9z"/><path fill="#ffbf00" d="M4134 2777l14 9-10-1-13-9zm-9-1l13 9-10 0-13-9zm-10 0l13 9-9-1-14-9zm-10-1l14 9-10 0-13-9z"/><path fill="#fa0" d="M4096 2775l13 9-10 0-13-9zm-10 0l13 9-10 0-13-8zm-10 1l13 8-9 0-14-8z"/><path fill="#ff9500" d="M4047 2774l13 9-9-1-14-8zm-10 0l14 8-10 0-14-9z"/><path fill="#ff8000" d="M4027 2773l14 9-10-1-13-8zm-9 0l13 8-10 0-13-8zm-10 0l13 8-9 1-14-9zm-10 0l14 9-10 0-13-8zm-9 1l13 8-10 1-13-8z"/><path fill="#ff6a00" d="M3979 2775l13 8-10 1-13-8zm-10 1l13 8-9 0-14-7zm-10 1l14 7-10 1-13-8zm-9 0l13 8-10 1-13-8zm-10 1l13 8-9 0-14-7z"/><path fill="#f50" d="M3930 2779l14 7-10 1-14-7zm-10 1l14 7-10 1-13-7zm-9 1l13 7-10 1-13-7zm-10 1l13 7-9 2-14-7zm-10 2l14 7-10 1-13-7zm-9 1l13 7-10 2-13-7zm-10 2l13 7-9 2-14-7zm-10 2l14 7-10 2-14-7zm-10 2l14 7-10 2-13-7zm-9 2l13 7-10 2-13-6zm-10 3l13 6-9 3-14-7zm-10 2l14 7-10 3-14-7zm-10 3l14 7-10 3-13-6zm-9 4l13 6-10 4-13-7zm-10 3l13 7-9 4-14-7z"/><path fill="#00bfff" d="M4469 2927l13 9-10-6-13-9zm-10-6l13 9-9-6-14-8z"/><path fill="#00eaff" d="M4440 2910l13 8-10-6-13-8z"/><path fill="#ff8000" d="M3992 2783l14-5-10 1-14 5z"/><path fill="#ff6a00" d="M3973 2784l13-4-10 1-13 4zm-20 2l14-4-10 0-13 4zm-9 0l13-4-10 2-13 3z"/><path fill="#f50" d="M3924 2788l14-3-10 1-14 3zm-10 1l14-3-10 2-13 3zm-9 2l13-3-10 2-13 2zm-10 1l13-2-9 2-14 2zm-10 2l14-2-10 2-13 2zm-9 2l13-2-10 2-13 2zm-10 2l13-2-10 2-13 2zm-10 2l13-2-9 3-14 1zm-10 2l14-1-10 3-13 1zm-9 3l13-1-10 3-13 1zm-10 3l13-1-9 3-14 1zm-10 3l14-1-10 4-14 1zm-10 4l14-1-10 4-13 1z"/><path fill="#0080ff" d="M4511 2956l14 14-10-6-13-15z"/><path fill="#0095ff" d="M4502 2949l13 15-10-6-13-15z"/><path fill="#0af" d="M4492 2943l13 15-9-6-14-16z"/><path fill="#00bfff" d="M4482 2936l14 16-10-6-14-16zm-10-6l14 16-10-5-13-17z"/><path fill="#00d4ff" d="M4463 2924l13 17-10-6-13-17z"/><path fill="#00eaff" d="M4453 2918l13 17-9-5-14-18zm-10-6l14 18-10-6-13-18z"/><path fill="#0ff" d="M4434 2906l13 18-10-5-13-19z"/><path fill="#15ffea" d="M4424 2900l13 19-9-5-14-20zm-10-6l14 20-10-6-14-20z"/><path fill="#2bffd4" d="M4404 2888l14 20-10-6-13-20z"/><path fill="#40ffbf" d="M4395 2882l13 20-10-6-13-21zm-10-7l13 21-9-6-14-22z"/><path fill="#5fa" d="M4375 2868l14 22-10-6-14-23z"/><path fill="#6aff95" d="M4365 2861l14 23-10-6-13-23zm-9-6l13 23-10-6-13-23z"/><path fill="#80ff80" d="M4346 2849l13 23-9-5-14-25z"/><path fill="#95ff6a" d="M4336 2842l14 25-10-6-13-25zm-9-6l13 25-10-5-13-25z"/><path fill="#af5" d="M4317 2831l13 25-9-5-14-26z"/><path fill="#bfff40" d="M4307 2825l14 26-10-5-14-26zm-10-5l14 26-10-4-13-27z"/><path fill="#d5ff2a" d="M4288 2815l13 27-10-4-13-27zm-10-4l13 27-9-4-14-27z"/><path fill="#eaff15" d="M4268 2807l14 27-10-3-13-28zm-9-4l13 28-10-4-13-28z"/><path fill="#ff0" d="M4249 2799l13 28-10-2-13-29zm-10-3l13 29-9-3-14-28z"/><path fill="#ffea00" d="M4229 2794l14 28-10-2-13-29zm-9-3l13 29-10-2-13-29z"/><path fill="#ffd500" d="M4210 2789l13 29-9-2-14-29zm-10-2l14 29-10-1-14-30zm-10-2l14 30-10-1-13-30z"/><path fill="#ffbf00" d="M4181 2784l13 30-10-1-13-30zm-10-1l13 30-9-1-14-30zm-10-1l14 30-10-1-13-30z"/><path fill="#fa0" d="M4152 2781l13 30-10 0-13-31zm-10-1l13 31-10-1-13-30zm-10 0l13 30-9 0-14-31zm-10-1l14 31-10 0-13-31z"/><path fill="#ff9500" d="M4113 2779l13 31-10 0-13-31zm-10 0l13 31-9 0-14-31zm-10 0l14 31-10-1-14-31zm-10-1l14 31-10 0-13-32z"/><path fill="#ff8000" d="M4074 2777l13 32-10-1-13-31zm-10 0l13 31-9-1-14-31zm-10-1l14 31-10 0-13-32z"/><path fill="#ff6a00" d="M4045 2775l13 32-10 0-13-32zm-10 0l13 32-10 1-13-32zm-10 1l13 32-9 1-14-32zm-10 1l14 32-10 1-13-32z"/><path fill="#f50" d="M4006 2778l13 32-10 1-13-32zm-10 1l13 32-9 1-14-32zm-10 1l14 32-10 1-14-32zm-10 1l14 32-10 1-13-32zm-9 1l13 32-10 1-13-33zm-10 0l13 33-9 1-14-32z"/><path fill="#ff4000" d="M3947 2784l14 32-10 2-13-33zm-9 1l13 33-10 1-13-33zm-10 1l13 33-9 2-14-33zm-10 2l14 33-10 2-14-33zm-10 2l14 33-10 2-13-33zm-9 2l13 33-10 2-13-33zm-10 2l13 33-9 2-14-33zm-10 2l14 33-10 3-14-34zm-10 2l14 34-10 2-13-33zm-9 3l13 33-10 3-13-33zm-10 3l13 33-9 3-14-33zm-10 3l14 33-10 4-13-34zm-9 3l13 34-10 4-13-34zm-10 4l13 34-9 4-14-34z"/><path fill="#00d4ff" d="M4457 2930l13 8-10-5-13-9z"/><path fill="#00eaff" d="M4447 2924l13 9-9-5-14-9z"/><path fill="#0ff" d="M4437 2919l14 9-10-5-13-9zm-9-5l13 9-10-6-13-9z"/><path fill="#15ffea" d="M4418 2908l13 9-10-5-13-10z"/><path fill="#2bffd4" d="M4398 2896l14 10-10-6-13-10z"/><path fill="#bfff40" d="M4291 2838l14 13-10-4-13-13zm-9-4l13 13-10-3-13-13z"/><path fill="#d5ff2a" d="M4272 2831l13 13-9-3-14-14zm-10-4l14 14-10-3-14-13z"/><path fill="#eaff15" d="M4252 2825l14 13-10-2-13-14zm-9-3l13 14-10-2-13-14zm-10-2l13 14-9-2-14-14z"/><path fill="#ff0" d="M4223 2818l14 14-10-1-13-15zm-9-2l13 15-10-2-13-14zm-10-1l13 14-9-1-14-14z"/><path fill="#ffea00" d="M4194 2814l14 14-10-1-14-14zm-10-1l14 14-10-1-13-14zm-9-1l13 14-10 0-13-15z"/><path fill="#ffd500" d="M4165 2811l13 15-9-1-14-14zm-10 0l14 14-10 0-14-15zm-10-1l14 15-10 0-13-15zm-9 0l13 15-10-1-13-14z"/><path fill="#ffbf00" d="M4126 2810l13 14-9 0-14-14zm-10 0l14 14-10 0-13-14zm-9 0l13 14-10 0-13-15zm-10-1l13 15-9 0-14-15z"/><path fill="#fa0" d="M4087 2809l14 15-10-1-14-15zm-10-1l14 15-10 0-13-16zm-9-1l13 16-10 0-13-16zm-10 0l13 16-9 1-14-17z"/><path fill="#ff9500" d="M4048 2807l14 17-10 1-14-17zm-10 1l14 17-10 2-13-18zm-9 1l13 18-10 2-13-19zm-10 1l13 19-9 1-14-19zm-10 1l14 19-10 2-13-20zm-9 1l13 20-10 1-13-20zm-10 1l13 20-9 2-14-21z"/><path fill="#ff8000" d="M3980 2814l14 21-10 2-14-22zm-10 1l14 22-10 2-13-23zm-9 1l13 23-10 2-13-23zm-10 2l13 23-9 2-14-24zm-10 1l14 24-10 2-13-24zm-9 2l13 24-10 3-13-25zm-10 2l13 25-10 2-13-25zm-10 2l13 25-9 3-14-26zm-10 2l14 26-10 3-13-27zm-9 2l13 27-10 3-13-27zm-10 3l13 27-9 3-14-28zm-10 2l14 28-10 3-14-28zm-10 3l14 28-10 3-13-28zm-9 3l13 28-10 4-13-28zm-10 4l13 28-9 4-14-28zm-10 4l14 28-10 4-13-28z"/><path fill="#0080ff" d="M4538 2971l14 23-10-6-14-21z"/><path fill="#0095ff" d="M4528 2967l14 21-10-6-13-20zm-9-5l13 20-10-6-13-19z"/><path fill="#0af" d="M4509 2957l13 19-9-6-14-17zm-10-4l14 17-10-6-13-16z"/><path fill="#00bfff" d="M4490 2948l13 16-10-6-13-15z"/><path fill="#00d4ff" d="M4480 2943l13 15-9-6-14-14zm-10-5l14 14-10-6-14-13z"/><path fill="#00eaff" d="M4460 2933l14 13-10-6-13-12zm-9-5l13 12-10-6-13-11z"/><path fill="#0ff" d="M4441 2923l13 11-9-6-14-11z"/><path fill="#15ffea" d="M4431 2917l14 11-10-6-14-10z"/><path fill="#fa0" d="M3964 2841l14-6-10 3-13 5zm-9 2l13-5-10 4-13 3zm-10 2l13-3-9 3-14 3zm-10 3l14-3-10 3-14 2zm-10 2l14-2-10 3-13 2zm-9 3l13-2-10 4-13 1zm-10 3l13-1-9 3-14 1zm-10 3l14-1-10 4-13 0zm-9 3l13 0-10 3-13 0zm-10 3l13 0-9 4-14-1zm-10 3l14 1-10 4-14-1zm-10 4l14 1-10 4-13-1zm-9 4l13 1-10 5-13-2z"/><path fill="#006aff" d="M4552 2994l13 18-10-7-13-17zm-10-6l13 17-9-7-14-16z"/><path fill="#0080ff" d="M4532 2982l14 16-10-6-14-16z"/><path fill="#0095ff" d="M4522 2976l14 16-10-6-13-16z"/><path fill="#0af" d="M4513 2970l13 16-10-6-13-16zm-10-6l13 16-9-6-14-16z"/><path fill="#00bfff" d="M4493 2958l14 16-10-6-13-16z"/><path fill="#00d4ff" d="M4484 2952l13 16-10-5-13-17zm-10-6l13 17-10-6-13-17z"/><path fill="#00eaff" d="M4464 2940l13 17-9-5-14-18z"/><path fill="#0ff" d="M4454 2934l14 18-10-6-13-18zm-9-6l13 18-10-6-13-18z"/><path fill="#15ffea" d="M4435 2922l13 18-9-6-14-19z"/><path fill="#2bffd4" d="M4425 2915l14 19-10-7-14-19zm-10-7l14 19-10-7-13-19z"/><path fill="#40ffbf" d="M4406 2901l13 19-10-6-13-20z"/><path fill="#5fa" d="M4396 2894l13 20-9-6-14-20z"/><path fill="#6aff95" d="M4386 2888l14 20-10-6-13-20zm-9-6l13 20-10-6-13-20z"/><path fill="#80ff80" d="M4367 2876l13 20-9-6-14-20z"/><path fill="#95ff6a" d="M4357 2870l14 20-10-6-14-20zm-10-6l14 20-10-5-13-20z"/><path fill="#af5" d="M4338 2859l13 20-10-5-13-20zm-10-5l13 20-9-4-14-21z"/><path fill="#bfff40" d="M4318 2849l14 21-10-4-14-21zm-10-4l14 21-10-4-13-21z"/><path fill="#d5ff2a" d="M4299 2841l13 21-10-4-13-21zm-10-4l13 21-9-3-14-21z"/><path fill="#eaff15" d="M4279 2834l14 21-10-3-13-21zm-9-3l13 21-10-3-13-21z"/><path fill="#ff0" d="M4260 2828l13 21-9-2-14-21zm-10-2l14 21-10-2-14-21zm-10-2l14 21-10-3-13-20z"/><path fill="#ffea00" d="M4231 2822l13 20-10-1-13-21zm-10-2l13 21-9-2-14-21z"/><path fill="#ffd500" d="M4211 2818l14 21-10-1-14-21zm-10-1l14 21-10-1-13-21zm-9-1l13 21-10-2-13-20zm-10-1l13 20-9-1-14-20z"/><path fill="#ffbf00" d="M4172 2814l14 20-10 0-13-20zm-9 0l13 20-10-1-13-20zm-10-1l13 20-9 0-14-20z"/><path fill="#fa0" d="M4143 2813l14 20-10 0-14-21zm-10-1l14 21-10-1-13-20zm-9 0l13 20-10 0-13-21zm-10-1l13 21-9 0-14-21z"/><path fill="#ff9500" d="M4104 2811l14 21-10 0-14-21zm-10 0l14 21-10 1-13-22zm-9 0l13 22-10 2-13-23zm-10 1l13 23-9 3-14-24zm-10 2l14 24-10 3-13-25zm-9 2l13 25-10 3-13-26zm-10 2l13 26-9 3-14-26zm-10 3l14 26-10 4-14-28zm-10 2l14 28-10 3-13-29zm-9 2l13 29-10 3-13-29zm-10 3l13 29-9 4-14-31z"/><path fill="#ff8000" d="M3997 2830l14 31-10 3-13-31zm-9 3l13 31-10 4-13-33zm-10 2l13 33-10 4-13-34z"/><path fill="#ff9500" d="M3968 2838l13 34-9 5-14-35zm-10 4l14 35-10 4-13-36zm-9 3l13 36-10 4-13-37zm-10 3l13 37-9 4-14-38zm-10 3l14 38-10 4-14-38zm-10 4l14 38-10 4-13-39zm-9 3l13 39-10 5-13-40zm-10 4l13 40-9 4-14-41zm-10 3l14 41-10 4-13-41zm-9 4l13 41-10 4-13-41zm-10 4l13 41-10 5-13-42z"/><path fill="#fa0" d="M3861 2877l13 42-9 4-14-41z"/><path fill="#05f" d="M4565 3012l13 28-9-8-14-27z"/><path fill="#006aff" d="M4555 3005l14 27-10-7-13-27zm-9-7l13 27-10-6-13-27z"/><path fill="#0080ff" d="M4536 2992l13 27-9-6-14-27z"/><path fill="#0095ff" d="M4526 2986l14 27-10-6-14-27zm-10-6l14 27-10-6-13-27z"/><path fill="#0af" d="M4507 2974l13 27-10-5-13-28z"/><path fill="#00bfff" d="M4497 2968l13 28-9-5-14-28zm-10-5l14 28-10-5-14-29z"/><path fill="#00d4ff" d="M4477 2957l14 29-10-5-13-29z"/><path fill="#00eaff" d="M4468 2952l13 29-10-5-13-30zm-10-6l13 30-9-6-14-30z"/><path fill="#0ff" d="M4448 2940l14 30-10-6-13-30z"/><path fill="#15ffea" d="M4439 2934l13 30-10-6-13-31zm-10-7l13 31-9-6-14-32z"/><path fill="#2bffd4" d="M4419 2920l14 32-10-7-14-31z"/><path fill="#40ffbf" d="M4409 2914l14 31-10-6-13-31z"/><path fill="#5fa" d="M4400 2908l13 31-10-5-13-32zm-10-6l13 32-9-6-14-32z"/><path fill="#6aff95" d="M4380 2896l14 32-10-6-13-32zm-9-6l13 32-10-6-13-32z"/><path fill="#80ff80" d="M4361 2884l13 32-10-5-13-32z"/><path fill="#95ff6a" d="M4351 2879l13 32-9-5-14-32zm-10-5l14 32-10-4-13-32z"/><path fill="#af5" d="M4332 2870l13 32-10-5-13-31zm-10-4l13 31-9-4-14-31z"/><path fill="#bfff40" d="M4312 2862l14 31-10-4-14-31zm-10-4l14 31-10-3-13-31z"/><path fill="#d5ff2a" d="M4293 2855l13 31-10-3-13-31zm-10-3l13 31-9-3-14-31zm-10-3l14 31-10-3-13-30z"/><path fill="#eaff15" d="M4264 2847l13 30-10-3-13-29zm-10-2l13 29-10-2-13-30z"/><path fill="#ff0" d="M4244 2842l13 30-9-3-14-28zm-10-1l14 28-10-1-13-29zm-9-2l13 29-10-2-13-28z"/><path fill="#ffea00" d="M4215 2838l13 28-9-2-14-27zm-10-1l14 27-10-1-14-28zm-10-2l14 28-10-2-13-27z"/><path fill="#ffd500" d="M4186 2834l13 27-10-1-13-26zm-10 0l13 26-9-1-14-26zm-10-1l14 26-10 0-13-26zm-9 0l13 26-10-1-13-25z"/><path fill="#ffbf00" d="M4147 2833l13 25-10 0-13-26zm-10-1l13 26-9-1-14-25zm-10 0l14 25-10 0-13-25zm-9 0l13 25-10 1-13-26zm-10 0l13 26-9 1-14-26z"/><path fill="#fa0" d="M4098 2833l14 26-10 2-14-26zm-10 2l14 26-10 3-13-26zm-9 3l13 26-10 3-13-26zm-10 3l13 26-9 4-14-27zm-10 3l14 27-10 3-13-27zm-9 3l13 27-10 4-13-27z"/><path fill="#ffbf00" d="M4040 2851l13 27-9 4-14-28zm-10 3l14 28-10 3-14-28zm-10 3l14 28-10 4-13-28zm-9 4l13 28-10 4-13-29zm-10 3l13 29-9 4-14-29zm-10 4l14 29-10 5-14-30zm-10 4l14 30-10 4-13-29zm-9 5l13 29-10 5-13-30zm-10 4l13 30-9 4-14-30zm-10 4l14 30-10 5-13-31z"/><path fill="#ffd500" d="M3943 2889l13 31-10 4-13-31zm-10 4l13 31-9 5-14-32zm-10 4l14 32-10 4-14-31zm-10 5l14 31-10 5-13-32zm-9 4l13 32-10 4-13-32zm-10 4l13 32-9 5-14-33zm-10 4l14 33-10 4-14-32zm-10 5l14 32-10 5-13-33z"/><path fill="#002aff" d="M4578 3040l14 29-10-8-13-29z"/><path fill="#0040ff" d="M4569 3032l13 29-10-6-13-30z"/><path fill="#05f" d="M4559 3025l13 30-9-6-14-30zm-10-6l14 30-10-6-13-30z"/><path fill="#006aff" d="M4540 3013l13 30-10-5-13-31z"/><path fill="#0080ff" d="M4530 3007l13 31-10-5-13-32zm-10-6l13 32-9-5-14-32z"/><path fill="#0095ff" d="M4510 2996l14 32-10-4-13-33z"/><path fill="#0af" d="M4501 2991l13 33-10-5-13-33z"/><path fill="#eaff15" d="M4228 2866l14 19-10-2-13-19zm-9-2l13 19-10-3-13-17z"/><path fill="#ff0" d="M4209 2863l13 17-9-2-14-17zm-10-2l14 17-10-2-14-16zm-10-1l14 16-10-2-13-15zm-9-1l13 15-10-2-13-13z"/><path fill="#ffea00" d="M4170 2859l13 13-9-1-14-13zm-10-1l14 13-10-1-14-12zm-10 0l14 12-10-1-13-12zm-9-1l13 12-10 0-13-12z"/><path fill="#ffd500" d="M4131 2857l13 12-9-1-14-10zm-10 1l14 10-10 1-13-10zm-9 1l13 10-10 2-13-10zm-10 2l13 10-9 4-14-11zm-10 3l14 11-10 3-14-11zm-10 3l14 11-10 4-13-11zm-9 4l13 11-10 4-13-12zm-10 3l13 12-9 4-14-12zm-10 4l14 12-10 4-13-12zm-9 4l13 12-10 5-13-14zm-10 3l13 14-10 4-13-14z"/><path fill="#ffea00" d="M4024 2889l13 14-9 4-14-14zm-10 4l14 14-10 5-13-15zm-9 4l13 15-10 5-13-15zm-10 5l13 15-9 5-14-16zm-10 4l14 16-10 5-14-16zm-10 5l14 16-10 5-13-17zm-9 4l13 17-10 5-13-17z"/><path fill="#ff0" d="M3956 2920l13 17-9 5-14-18zm-10 4l14 18-10 5-13-18zm-9 5l13 18-10 4-13-18zm-10 4l13 18-10 5-13-18zm-10 5l13 18-9 5-14-19zm-10 4l14 19-10 5-13-19zm-9 5l13 19-10 4-13-19z"/><path fill="#eaff15" d="M3888 2951l13 19-9 5-14-19zm315-75l13 21-10-3-13-20z"/><path fill="#ff0" d="M4193 2874l13 20-9-2-14-20zm-10-2l14 20-10-2-13-19zm-9-1l13 19-10-2-13-18z"/><path fill="#ffea00" d="M4164 2870l13 18-9-2-14-17zm-10-1l14 17-10-1-14-16zm-10 0l14 16-10-1-13-16zm-9-1l13 16-10 0-13-15z"/><path fill="#ffd500" d="M4125 2869l13 15-9 2-14-15zm-10 2l14 15-10 3-13-14zm-9 4l13 14-10 4-13-15zm-10 3l13 15-10 4-13-15z"/><path fill="#ffea00" d="M4086 2882l13 15-9 4-14-15zm-10 4l14 15-10 4-13-15zm-9 4l13 15-10 5-13-16zm-10 4l13 16-9 4-14-15zm-10 5l14 15-10 4-14-15zm-10 4l14 15-10 5-13-16zm-9 4l13 16-10 5-13-16zm-10 5l13 16-9 5-14-16z"/><path fill="#ff0" d="M4008 2917l14 16-10 5-13-16zm-9 5l13 16-10 6-13-17zm-10 5l13 17-9 5-14-17zm-10 5l14 17-10 5-14-17zm-10 5l14 17-10 5-13-17z"/><path fill="#eaff15" d="M3960 2942l13 17-10 5-13-17zm-10 5l13 17-9 5-14-18zm-10 4l14 18-10 5-14-18zm-10 5l14 18-10 5-13-18zm-9 5l13 18-10 5-13-18z"/><path fill="#d5ff2a" d="M3911 2966l13 18-9 5-14-19zm-10 4l14 19-10 5-13-19z"/><path fill="#ff0" d="M4177 2888l14 8-10-2-13-8zm-9-2l13 8-10-1-13-8zm-10-1l13 8-9-1-14-8z"/><path fill="#ffea00" d="M4148 2884l14 8-10 0-14-8zm-10 0l14 8-10 2-13-8zm-9 2l13 8-10 3-13-8zm-10 3l13 8-9 4-14-8zm-10 4l14 8-10 4-14-8zm-10 4l14 8-10 4-13-8zm-9 4l13 8-10 4-13-8z"/><path fill="#ff0" d="M4080 2905l13 8-9 4-14-7zm-10 5l14 7-10 4-13-7zm-9 4l13 7-10 5-13-8zm-10 4l13 8-9 4-14-7zm-10 5l14 7-10 5-14-7zm-10 5l14 7-10 5-13-7z"/><path fill="#eaff15" d="M4022 2933l13 7-10 5-13-7zm-10 5l13 7-9 6-14-7zm-10 6l14 7-10 5-13-7zm-9 5l13 7-10 5-13-7zm-10 5l13 7-10 5-13-7z"/><path fill="#d5ff2a" d="M3973 2959l13 7-9 5-14-7zm-10 5l14 7-10 5-13-7zm-9 5l13 7-10 5-13-7zm-10 5l13 7-9 5-14-7zm-10 5l14 7-10 5-14-7zm-10 5l14 7-10 5-13-7z"/><path fill="#bfff40" d="M3915 2989l13 7-10 5-13-7z"/><path fill="#0000ea" d="M4609 3102l13-14-9-4-14 14zm-10-4l14-14-10-3-14 14z"/><path fill="#00f" d="M4589 3095l14-14-10-4-13 14zm-9-4l13-14-10-4-13 15z"/><path fill="#0015ff" d="M4570 3088l13-15-9-4-14 15zm-10-4l14-15-10-4-13 16z"/><path fill="#002aff" d="M4551 3081l13-16-10-3-13 16zm-10-3l13-16-9-4-14 16z"/><path fill="#0040ff" d="M4531 3074l14-16-10-4-14 17zm-10-3l14-17-10-4-13 17z"/><path fill="#05f" d="M4512 3067l13-17-10-5-13 18zm-10-4l13-18-9-5-14 18z"/><path fill="#006aff" d="M4492 3058l14-18-10-5-14 18zm-10-5l14-18-10-6-13 18z"/><path fill="#0080ff" d="M4473 3047l13-18-10-6-13 19z"/><path fill="#0095ff" d="M4463 3042l13-19-9-5-14 18zm-10-6l14-18-10-6-13 18z"/><path fill="#0af" d="M4444 3030l13-18-10-7-13 18z"/><path fill="#00bfff" d="M4434 3023l13-18-9-6-14 18zm-10-6l14-18-10-6-14 17z"/><path fill="#00d4ff" d="M4414 3010l14-17-10-6-13 16z"/><path fill="#00eaff" d="M4405 3003l13-16-10-6-13 16z"/><path fill="#0ff" d="M4395 2997l13-16-9-6-14 15zm-10-7l14-15-10-6-13 15z"/><path fill="#15ffea" d="M4376 2984l13-15-10-6-13 14z"/><path fill="#2bffd4" d="M4366 2977l13-14-10-6-13 13z"/><path fill="#40ffbf" d="M4356 2970l13-13-9-5-14 12zm-10-6l14-12-10-5-13 11z"/><path fill="#5fa" d="M4337 2958l13-11-10-5-13 11z"/><path fill="#6aff95" d="M4327 2953l13-11-9-5-14 10zm-10-6l14-10-10-5-14 10z"/><path fill="#80ff80" d="M4307 2942l14-10-10-4-13 9zm-9-5l13-9-10-4-13 8z"/><path fill="#95ff6a" d="M4288 2932l13-8-9-4-14 8zm-10-4l14-8-10-3-13 6z"/><path fill="#af5" d="M4269 2923l13-6-10-4-13 6zm-10-4l13-6-10-4-13 6z"/><path fill="#bfff40" d="M4249 2915l13-6-9-3-14 5zm-10-4l14-5-10-3-13 4z"/><path fill="#d5ff2a" d="M4230 2907l13-4-10-3-13 4zm-10-3l13-4-9-2-14 3z"/><path fill="#eaff15" d="M4210 2901l14-3-10-1-14 2zm-10-2l14-2-10-2-13 1z"/><path fill="#ff0" d="M4191 2896l13-1-10-1-13 0z"/><path fill="#ffea00" d="M4152 2892l13 1-10 2-13-1zm-10 2l13 1-9 4-14-2zm-10 3l14 2-10 4-13-2zm-9 4l13 2-10 4-13-2zm-10 4l13 2-9 4-14-2z"/><path fill="#ff0" d="M4103 2909l14 2-10 5-14-3zm-10 4l14 3-10 4-13-3zm-9 4l13 3-10 5-13-4zm-10 4l13 4-9 4-14-3zm-10 5l14 3-10 5-13-4zm-9 4l13 4-10 5-13-4zm-10 5l13 4-9 6-14-5z"/><path fill="#eaff15" d="M4035 2940l14 5-10 5-14-5zm-10 5l14 5-10 6-13-5zm-9 6l13 5-10 5-13-5zm-10 5l13 5-9 5-14-5zm-10 5l14 5-10 6-14-6z"/><path fill="#d5ff2a" d="M3986 2966l14 6-10 5-13-6zm-9 5l13 6-10 5-13-6zm-10 5l13 6-9 5-14-6zm-10 5l14 6-10 5-13-6zm-9 5l13 6-10 5-13-6z"/><path fill="#bfff40" d="M3938 2991l13 6-9 5-14-6zm-10 5l14 6-10 5-14-6z"/><path fill="#0040ff" d="M4574 3069l13-11-10-5-13 12zm-10-4l13-12-9-5-14 14z"/><path fill="#05f" d="M4554 3062l14-14-10-4-13 14zm-9-4l13-14-10-5-13 15z"/><path fill="#006aff" d="M4535 3054l13-15-10-5-13 16zm-10-4l13-16-9-5-14 16z"/><path fill="#0080ff" d="M4515 3045l14-16-10-6-13 17z"/><path fill="#0095ff" d="M4506 3040l13-17-10-6-13 18zm-10-5l13-18-9-7-14 19z"/><path fill="#0af" d="M4486 3029l14-19-10-6-14 19z"/><path fill="#00bfff" d="M4476 3023l14-19-10-6-13 20zm-9-5l13-20-10-6-13 20z"/><path fill="#00d4ff" d="M4457 3012l13-20-9-7-14 20z"/><path fill="#00eaff" d="M4447 3005l14-20-10-6-13 20zm-9-6l13-20-10-6-13 20z"/><path fill="#0ff" d="M4428 2993l13-20-9-6-14 20z"/><path fill="#15ffea" d="M4418 2987l14-20-10-6-14 20zm-10-6l14-20-10-5-13 19z"/><path fill="#2bffd4" d="M4399 2975l13-19-10-5-13 18z"/><path fill="#40ffbf" d="M4389 2969l13-18-9-6-14 18zm-10-6l14-18-10-4-14 16z"/><path fill="#5fa" d="M4369 2957l14-16-10-5-13 16z"/><path fill="#6aff95" d="M4360 2952l13-16-10-4-13 15zm-10-5l13-15-9-4-14 14z"/><path fill="#80ff80" d="M4340 2942l14-14-10-4-13 13zm-9-5l13-13-10-4-13 12z"/><path fill="#95ff6a" d="M4321 2932l13-12-9-3-14 11zm-10-4l14-11-10-4-14 11z"/><path fill="#af5" d="M4301 2924l14-11-10-3-13 10zm-9-4l13-10-10-2-13 9z"/><path fill="#bfff40" d="M4282 2917l13-9-9-3-14 8zm-10-4l14-8-10-3-14 7z"/><path fill="#d5ff2a" d="M4262 2909l14-7-10-2-13 6zm-9-3l13-6-10-3-13 6z"/><path fill="#eaff15" d="M4243 2903l13-6-9-1-14 4zm-10-3l14-4-10-2-13 4zm-9-2l13-4-10-1-13 4z"/><path fill="#ff0" d="M4214 2897l13-4-9-1-14 3zm-10-2l14-3-10-1-14 3z"/><path fill="#ffea00" d="M4155 2895l14-2-10 4-13 2zm-9 4l13-2-10 3-13 3zm-10 4l13-3-9 5-14 2zm-10 4l14-2-10 4-13 2zm-9 4l13-2-10 4-13 3zm-10 5l13-3-9 4-14 3z"/><path fill="#ff0" d="M4097 2920l14-3-10 5-14 3zm-10 5l14-3-10 4-13 3zm-9 4l13-3-10 5-13 3zm-10 5l13-3-9 5-14 3zm-10 5l14-3-10 5-13 4zm-9 6l13-4-10 6-13 3z"/><path fill="#eaff15" d="M4039 2950l13-3-10 5-13 4zm-10 6l13-4-9 5-14 4zm-10 5l14-4-10 5-13 4zm-9 5l13-4-10 5-13 5z"/><path fill="#d5ff2a" d="M4000 2972l13-5-9 6-14 4zm-10 5l14-4-10 5-14 4zm-10 5l14-4-10 5-13 4zm-9 5l13-4-10 5-13 4zm-10 5l13-4-9 4-14 5z"/><path fill="#bfff40" d="M3951 2997l14-5-10 5-13 5zm-9 5l13-5-10 5-13 5z"/><path fill="#0015ff" d="M4645 3088l14 18-10-5-13-18zm-9-5l13 18-10-6-13-17z"/><path fill="#002aff" d="M4626 3078l13 17-9-5-14-17z"/><path fill="#0040ff" d="M4616 3073l14 17-10-6-13-16zm-9-5l13 16-10-6-13-15z"/><path fill="#05f" d="M4597 3063l13 15-9-6-14-14zm-10-5l14 14-10-6-14-13z"/><path fill="#006aff" d="M4577 3053l14 13-10-5-13-13zm-9-5l13 13-10-6-13-11z"/><path fill="#0080ff" d="M4558 3044l13 11-9-6-14-10z"/><path fill="#00bfff" d="M4519 3023l13 7-9-7-14-6zm-10-6l14 6-10-8-13-5z"/><path fill="#00d4ff" d="M4500 3010l13 5-10-7-13-4z"/><path fill="#00eaff" d="M4490 3004l13 4-9-7-14-3zm-10-6l14 3-10-7-14-2z"/><path fill="#0ff" d="M4470 2992l14 2-10-7-13-2z"/><path fill="#15ffea" d="M4461 2985l13 2-10-7-13-1zm-10-6l13 1-9-6-14-1z"/><path fill="#2bffd4" d="M4441 2973l14 1-10-7-13 0z"/><path fill="#40ffbf" d="M4432 2967l13 0-10-5-13-1zm-10-6l13 1-10-6-13 0z"/><path fill="#5fa" d="M4412 2956l13 0-9-5-14 0z"/><path fill="#6aff95" d="M4402 2951l14 0-10-5-13-1zm-9-6l13 1-10-5-13 0z"/><path fill="#80ff80" d="M4383 2941l13 0-9-4-14-1zm-10-5l14 1-10-5-14 0z"/><path fill="#95ff6a" d="M4363 2932l14 0-10-3-13-1zm-9-4l13 1-10-4-13-1z"/><path fill="#af5" d="M4344 2924l13 1-9-4-14-1zm-10-4l14 1-10-3-13-1z"/><path fill="#bfff40" d="M4325 2917l13 1-10-3-13-2zm-10-4l13 2-10-3-13-2z"/><path fill="#d5ff2a" d="M4305 2910l13 2-9-3-14-1zm-10-2l14 1-10-2-13-2zm-9-3l13 2-10-2-13-3z"/><path fill="#eaff15" d="M4276 2902l13 3-9-3-14-2zm-10-2l14 2-10-2-14-3z"/><path fill="#ff0" d="M4256 2897l14 3-10-2-13-2zm-9-1l13 2-10-1-13-3zm-10-2l13 3-9-1-14-3z"/><path fill="#ffea00" d="M4227 2893l14 3-10-1-13-3zm-19-2l13 3-10-1-13-3zm-88 22l14 1-10 4-13-1zm-9 4l13 1-10 4-13 0zm-10 5l13 0-9 4-14 0zm-10 4l14 0-10 5-14 0zm-10 5l14 0-10 5-13 0zm-9 5l13 0-10 4-13 1z"/><path fill="#ff0" d="M4062 2941l13-1-9 6-14 1zm-10 6l14-1-10 5-14 1zm-10 5l14-1-10 5-13 1zm-9 5l13-1-10 5-13 1z"/><path fill="#eaff15" d="M4023 2962l13-1-9 5-14 1zm-10 5l14-1-10 5-13 2zm-9 6l13-2-10 5-13 2zm-10 5l13-2-9 4-14 3zm-10 5l14-3-10 5-14 3z"/><path fill="#d5ff2a" d="M3974 2988l14-3-10 5-13 2zm-9 4l13-2-10 5-13 2zm-10 5l13-2-9 5-14 2z"/><path fill="#00f" d="M4659 3106l13 26-9-5-14-26zm-10-5l14 26-10-6-14-26z"/><path fill="#0015ff" d="M4639 3095l14 26-10-7-13-24z"/><path fill="#002aff" d="M4630 3090l13 24-10-7-13-23zm-10-6l13 23-9-7-14-22z"/><path fill="#0040ff" d="M4610 3078l14 22-10-7-13-21z"/><path fill="#05f" d="M4601 3072l13 21-10-6-13-21zm-10-6l13 21-10-7-13-19z"/><path fill="#006aff" d="M4581 3061l13 19-9-7-14-18z"/><path fill="#0080ff" d="M4571 3055l14 18-10-6-13-18zm-9-6l13 18-10-8-13-16z"/><path fill="#0095ff" d="M4552 3043l13 16-9-7-14-15z"/><path fill="#00d4ff" d="M4513 3015l13 12-9-8-14-11z"/><path fill="#00eaff" d="M4503 3008l14 11-10-8-13-10z"/><path fill="#0ff" d="M4494 3001l13 10-10-8-13-9zm-10-7l13 9-9-8-14-8z"/><path fill="#15ffea" d="M4474 2987l14 8-10-8-14-7z"/><path fill="#2bffd4" d="M4464 2980l14 7-10-7-13-6zm-9-6l13 6-10-7-13-6z"/><path fill="#40ffbf" d="M4445 2967l13 6-9-7-14-4z"/><path fill="#5fa" d="M4435 2962l14 4-10-6-14-4zm-10-6l14 4-10-6-13-3z"/><path fill="#6aff95" d="M4416 2951l13 3-10-5-13-3z"/><path fill="#80ff80" d="M4406 2946l13 3-9-6-14-2zm-10-5l14 2-10-5-13-1z"/><path fill="#95ff6a" d="M4387 2937l13 1-10-4-13-2zm-10-5l13 2-9-4-14-1z"/><path fill="#af5" d="M4367 2929l14 1-10-4-14-1zm-10-4l14 1-10-4-13-1z"/><path fill="#bfff40" d="M4348 2921l13 1-10-4-13 0zm-10-3l13 0-9-3-14 0zm-10-3l14 0-10-4-14 1z"/><path fill="#d5ff2a" d="M4318 2912l14-1-10-3-13 1zm-9-3l13-1-10-3-13 2z"/><path fill="#eaff15" d="M4299 2907l13-2-9-2-14 2zm-10-2l14-2-10-3-13 2zm-9-3l13-2-10-2-13 2z"/><path fill="#ff0" d="M4270 2900l13-2-9-2-14 2zm-10-2l14-2-10-2-14 3z"/><path fill="#ffea00" d="M4250 2897l14-3-10-1-13 3zm-9-1l13-3-10-2-13 4zm-10-1l13-4-9-1-14 4zm-10-1l14-4-10-1-14 4z"/><path fill="#ffd500" d="M4211 2893l14-4-10-1-13 5zm-9 0l13-5-10 1-13 4zm-10 0l13-4-9 1-14 5zm-10 2l14-5-10 3-13 6zm-9 4l13-6-10 4-13 5zm-10 3l13-5-9 4-14 5z"/><path fill="#eaff15" d="M3998 2980l13-4-10 6-13 3zm-10 5l13-3-10 5-13 3zm-10 5l13-3-9 5-14 3zm-10 5l14-3-10 5-13 3z"/><path fill="#0000d4" d="M4672 3132l14 28-10-9-13-24z"/><path fill="#0000ea" d="M4663 3127l13 24-10-9-13-21z"/><path fill="#00f" d="M4653 3121l13 21-9-8-14-20zm-10-7l14 20-10-8-14-19z"/><path fill="#0015ff" d="M4633 3107l14 19-10-9-13-17z"/><path fill="#002aff" d="M4624 3100l13 17-10-8-13-16zm-10-7l13 16-9-7-14-15z"/><path fill="#0040ff" d="M4604 3087l14 15-10-8-14-14z"/><path fill="#05f" d="M4594 3080l14 14-10-7-13-14z"/><path fill="#006aff" d="M4575 3067l13 12-9-7-14-13z"/><path fill="#0af" d="M4546 3044l13 10-9-9-14-9z"/><path fill="#00bfff" d="M4536 3036l14 9-10-9-14-9z"/><path fill="#00d4ff" d="M4526 3027l14 9-10-10-13-7zm-9-8l13 7-10-8-13-7z"/><path fill="#00eaff" d="M4507 3011l13 7-9-9-14-6z"/><path fill="#0ff" d="M4497 3003l14 6-10-9-13-5z"/><path fill="#15ffea" d="M4488 2995l13 5-10-8-13-5z"/><path fill="#2bffd4" d="M4478 2987l13 5-10-9-13-3z"/><path fill="#40ffbf" d="M4468 2980l13 3-9-8-14-2zm-10-7l14 2-10-7-13-2z"/><path fill="#5fa" d="M4449 2966l13 2-10-7-13-1z"/><path fill="#6aff95" d="M4439 2960l13 1-9-6-14-1zm-10-6l14 1-10-6-14 0z"/><path fill="#80ff80" d="M4419 2949l14 0-10-6-13 0zm-9-6l13 0-10-5-13 0z"/><path fill="#95ff6a" d="M4400 2938l13 0-9-5-14 1z"/><path fill="#af5" d="M4390 2934l14-1-10-5-13 2zm-9-4l13-2-10-5-13 3z"/><path fill="#bfff40" d="M4371 2926l13-3-10-4-13 3zm-10-4l13-3-9-4-14 3z"/><path fill="#d5ff2a" d="M4351 2918l14-3-10-4-13 4zm-9-3l13-4-10-4-13 4zm-10-4l13-4-9-3-14 4z"/><path fill="#eaff15" d="M4322 2908l14-4-10-4-14 5zm-10-3l14-5-10-3-13 6z"/><path fill="#ff0" d="M4303 2903l13-6-10-3-13 6zm-10-3l13-6-9-3-14 7z"/><path fill="#ffea00" d="M4283 2898l14-7-10-2-13 7zm-9-2l13-7-10-2-13 7zm-10-2l13-7-10-2-13 8z"/><path fill="#ffd500" d="M4254 2893l13-8-9-2-14 8zm-10-2l14-8-10-2-13 9zm-9-1l13-9-10-2-13 10z"/><path fill="#ffbf00" d="M4225 2889l13-10-9 0-14 9zm-10-1l14-9-10 0-14 10zm-10 1l14-10-10 1-13 10zm-9 1l13-10-10 3-13 10zm-10 3l13-10-9 4-14 10zm-10 4l14-10-10 4-13 10zm-9 4l13-10-10 4-13 10zm-10 4l13-10-9 4-14 10zm-10 4l14-10-10 4-14 10zm-10 4l14-10-10 4-13 10z"/><path fill="#ffd500" d="M4128 2917l13-10-10 4-13 10zm-10 4l13-10-9 5-14 10zm-10 5l14-10-10 4-14 10zm-10 4l14-10-10 5-13 10zm-9 5l13-10-10 6-13 10zm-10 6l13-10-9 5-14 10z"/><path fill="#ffea00" d="M4069 2946l14-10-10 5-13 10zm-9 5l13-10-10 6-13 9zm-20 10l14-9-10 5-14 9zm-10 5l14-9-10 5-13 9z"/><path fill="#ff0" d="M4021 2971l13-9-10 5-13 9zm-30 16l14-9-10 5-13 9zm-9 5l13-9-10 5-13 9z"/><path fill="#00a" d="M4686 3160l13 33-10-12-13-30z"/><path fill="#0000bf" d="M4676 3151l13 30-9-11-14-28z"/><path fill="#0000d4" d="M4666 3142l14 28-10-10-13-26z"/><path fill="#0000ea" d="M4657 3134l13 26-10-10-13-24z"/><path fill="#00f" d="M4647 3126l13 24-10-10-13-23z"/><path fill="#0015ff" d="M4637 3117l13 23-9-9-14-22z"/><path fill="#002aff" d="M4627 3109l14 22-10-8-13-21zm-9-7l13 21-10-9-13-20z"/><path fill="#0040ff" d="M4608 3094l13 20-9-8-14-19z"/><path fill="#05f" d="M4598 3087l14 19-10-9-14-18z"/><path fill="#006aff" d="M4588 3079l14 18-10-8-13-17z"/><path fill="#0080ff" d="M4579 3072l13 17-10-10-13-16z"/><path fill="#0095ff" d="M4569 3063l13 16-9-10-14-15zm-10-9l14 15-10-10-13-14z"/><path fill="#0af" d="M4550 3045l13 14-10-10-13-13z"/><path fill="#00bfff" d="M4540 3036l13 13-9-11-14-12z"/><path fill="#00d4ff" d="M4530 3026l14 12-10-10-14-10z"/><path fill="#00eaff" d="M4520 3018l14 10-10-9-13-10z"/><path fill="#0ff" d="M4511 3009l13 10-10-10-13-9z"/><path fill="#15ffea" d="M4501 3000l13 9-9-10-14-7z"/><path fill="#2bffd4" d="M4491 2992l14 7-10-9-14-7z"/><path fill="#40ffbf" d="M4481 2983l14 7-10-9-13-6z"/><path fill="#5fa" d="M4472 2975l13 6-10-8-13-5zm-10-7l13 5-9-8-14-4z"/><path fill="#6aff95" d="M4452 2961l14 4-10-7-13-3z"/><path fill="#80ff80" d="M4443 2955l13 3-10-7-13-2zm-10-6l13 2-9-7-14-1z"/><path fill="#95ff6a" d="M4423 2943l14 1-10-6-14 0z"/><path fill="#af5" d="M4413 2938l14 0-10-6-13 1zm-9-5l13-1-10-5-13 1z"/><path fill="#bfff40" d="M4394 2928l13-1-9-6-14 2zm-10-5l14-2-10-5-14 3z"/><path fill="#d5ff2a" d="M4374 2919l14-3-10-5-13 4zm-9-4l13-4-10-4-13 4z"/><path fill="#eaff15" d="M4355 2911l13-4-9-4-14 4zm-10-4l14-4-10-5-13 6z"/><path fill="#ff0" d="M4336 2904l13-6-10-4-13 6zm-10-4l13-6-9-3-14 6z"/><path fill="#ffea00" d="M4316 2897l14-6-10-4-14 7zm-10-3l14-7-10-3-13 7z"/><path fill="#ffd500" d="M4297 2891l13-7-10-4-13 9zm-10-2l13-9-9-2-14 9zm-10-2l14-9-10-2-14 9z"/><path fill="#ffbf00" d="M4267 2885l14-9-10-3-13 10zm-9-2l13-10-10-2-13 10z"/><path fill="#fa0" d="M4248 2881l13-10-9-2-14 10zm-10-2l14-10-10-2-13 12zm-9 0l13-12-10 0-13 12zm-10 0l13-12-9 2-14 11zm-10 1l14-11-10 3-14 11zm-10 3l14-11-10 4-13 11zm-9 4l13-11-10 4-13 11zm-10 4l13-11-9 4-14 11zm-10 4l14-11-10 4-13 11zm-9 4l13-11-10 4-13 11zm-10 4l13-11-10 4-13 11zm-10 4l13-11-9 5-14 10zm-10 4l14-10-10 5-13 10z"/><path fill="#ffbf00" d="M4122 2916l13-10-10 5-13 9zm-10 4l13-9-9 5-14 9zm-10 5l14-9-10 6-14 9zm-10 6l14-9-10 5-13 9zm-9 5l13-9-10 6-13 8z"/><path fill="#ffd500" d="M4073 2941l13-8-9 6-14 8zm-10 6l14-8-10 5-13 8zm-9 5l13-8-10 6-13 7zm-10 5l13-7-10 5-13 7zm-10 5l13-7-9 6-14 6z"/><path fill="#ffea00" d="M4024 2967l14-6-10 5-13 7zm-9 6l13-7-10 6-13 6zm-10 5l13-6-9 5-14 6zm-10 5l14-6-10 6-14 5z"/></g><path class="a" d="M609.0 650.3L758.0 717.3"/><path class="a" d="M951.0 665.3L758.0 717.3"/><path class="a2" d="M609.0 650.3L609.0 501.8"/><path class="a" d="M609.0 650.3L604.0 650.3"/><path class="a" d="M609.0 620.6L604.0 620.6"/><path class="a" d="M609.0 590.9L604.0 590.9"/><path class="a" d="M609.0 561.2L604.0 561.2"/><path class="a" d="M609.0 531.5L604.0 531.5"/><path class="a" d="M609.0 501.8L604.0 501.8"/><path class="a" d="M609.0 650.3L604.2 651.6"/><path class="a" d="M646.3 667.1L641.4 668.4"/><path class="a" d="M683.5 683.8L678.7 685.1"/><path class="a" d="M720.8 700.6L715.9 701.9"/><path class="a" d="M758.0 717.3L753.2 718.6"/><path class="a" d="M951.0 665.3L955.6 667.4"/><path class="a" d="M895.9 680.2L900.4 682.2"/><path class="a" d="M840.7 695.0L845.3 697.1"/><path class="a" d="M785.6 709.9L790.1 711.9"/><text x="642.5" y="442.7" font-size="10.60" text-anchor="start" textLength="270.0" lengthAdjust="spacingAndGlyphs">Tasa spot - Ajuste Polinomial (Bolsa de Colombia con O/N)</text><text x="591.5" y="504.8" font-size="10.60" text-anchor="start" textLength="10.0" lengthAdjust="spacingAndGlyphs">18</text><text x="591.5" y="533.8" font-size="10.60" text-anchor="start" textLength="10.0" lengthAdjust="spacingAndGlyphs">16</text><text x="591.5" y="563.3" font-size="10.60" text-anchor="start" textLength="10.0" lengthAdjust="spacingAndGlyphs">14</text><text x="591.5" y="593.3" font-size="10.60" text-anchor="start" textLength="10.0" lengthAdjust="spacingAndGlyphs">12</text><text x="591.5" y="622.8" font-size="10.60" text-anchor="start" textLength="10.0" lengthAdjust="spacingAndGlyphs">10</text><text x="596.5" y="650.8" font-size="10.60" text-anchor="start" textLength="5.0" lengthAdjust="spacingAndGlyphs">8</text><text x="595.0" y="662.8" font-size="10.60" text-anchor="start" textLength="5.0" lengthAdjust="spacingAndGlyphs">0</text><text x="627.5" y="679.8" font-size="10.60" text-anchor="start" textLength="10.0" lengthAdjust="spacingAndGlyphs">10</text><text x="664.0" y="696.3" font-size="10.60" text-anchor="start" textLength="10.0" lengthAdjust="spacingAndGlyphs">20</text><text x="701.0" y="712.8" font-size="10.60" text-anchor="start" textLength="10.0" lengthAdjust="spacingAndGlyphs">30</text><text x="738.0" y="731.3" font-size="10.60" text-anchor="start" textLength="10.0" lengthAdjust="spacingAndGlyphs">40</text><text x="790.5" y="724.8" font-size="10.60" text-anchor="start" textLength="5.0" lengthAdjust="spacingAndGlyphs">6</text><text x="846.5" y="709.8" font-size="10.60" text-anchor="start" textLength="5.0" lengthAdjust="spacingAndGlyphs">4</text><text x="901.5" y="694.8" font-size="10.60" text-anchor="start" textLength="5.0" lengthAdjust="spacingAndGlyphs">2</text><text x="956.5" y="679.8" font-size="10.60" text-anchor="start" textLength="5.0" lengthAdjust="spacingAndGlyphs">0</text><text x="577.0" y="741.9" font-size="8.45" text-anchor="start" textLength="121.0" lengthAdjust="spacingAndGlyphs">Semana de transacción de 2001</text><text x="844.0" y="736.9" font-size="8.45" text-anchor="start" textLength="85.0" lengthAdjust="spacingAndGlyphs">Vencimiento (en años)</text></g><text x="224.4" y="63.1" style="font-family:'Liberation Serif',serif;font-weight:bold;font-size:18.9px;word-spacing:1.8px;fill:#000">Figura A.3.2. Curva <tspan font-style="italic">spot</tspan> durante 2001 incluyendo la tasa <tspan font-style="italic">overnight</tspan></text><rect x="779.5" y="45" width="1.2" height="17.5" fill="#000"/></g></svg></body></html>
